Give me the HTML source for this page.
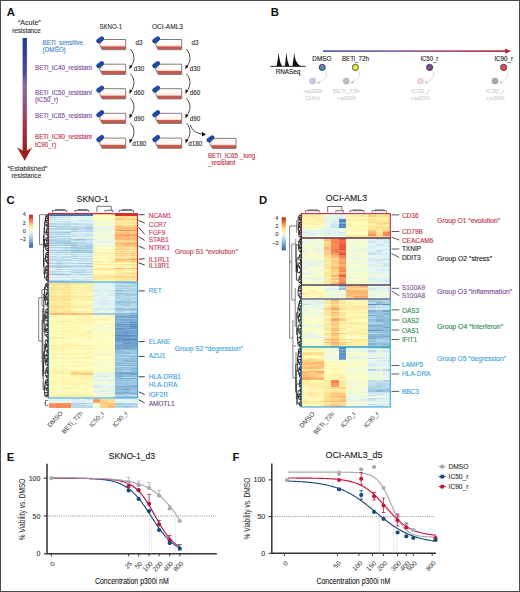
<!DOCTYPE html><html><head><meta charset="utf-8"><style>html,body{margin:0;padding:0;background:#fff}svg{display:block}text{font-family:"Liberation Sans",sans-serif}</style></head><body>
<svg width="520" height="592" viewBox="0 0 520 592">
<defs><linearGradient id="ga" x1="0" y1="0" x2="0" y2="1"><stop offset="0" stop-color="#1c3a8c"/><stop offset="0.3" stop-color="#4a4aa0"/><stop offset="0.42" stop-color="#8a68aa"/><stop offset="0.62" stop-color="#9a4c70"/><stop offset="0.8" stop-color="#a23040"/><stop offset="1" stop-color="#9a1c1c"/></linearGradient><linearGradient id="gb" x1="0" y1="0" x2="1" y2="0"><stop offset="0" stop-color="#4a52b0"/><stop offset="0.35" stop-color="#7a5aa8"/><stop offset="0.6" stop-color="#a04a70"/><stop offset="1" stop-color="#b02830"/></linearGradient><linearGradient id="liq" x1="0" y1="0" x2="0" y2="1"><stop offset="0" stop-color="#ffffff"/><stop offset="0.55" stop-color="#fdf6f2"/><stop offset="0.66" stop-color="#f2c4b8"/><stop offset="0.71" stop-color="#c9584c"/><stop offset="1" stop-color="#c8564a"/></linearGradient><linearGradient id="cbar" x1="0" y1="0" x2="0" y2="1"><stop offset="0" stop-color="#b0302a"/><stop offset="0.08" stop-color="#d8452e"/><stop offset="0.17" stop-color="#f07a4a"/><stop offset="0.26" stop-color="#fbb468"/><stop offset="0.36" stop-color="#fde699"/><stop offset="0.46" stop-color="#fcf9d2"/><stop offset="0.56" stop-color="#dcecf0"/><stop offset="0.67" stop-color="#b0d2e6"/><stop offset="0.78" stop-color="#84b0d6"/><stop offset="0.89" stop-color="#5a86c0"/><stop offset="1.0" stop-color="#3d5e9c"/></linearGradient></defs>
<rect x="0" y="0" width="520" height="592" fill="#fff"/>
<text x="6.8" y="16.4" font-size="11.3" fill="#111" text-anchor="start" font-weight="bold">A</text>
<text x="270.8" y="16.4" font-size="11.3" fill="#111" text-anchor="start" font-weight="bold">B</text>
<text x="6.6" y="204.3" font-size="11.3" fill="#111" text-anchor="start" font-weight="bold">C</text>
<text x="259" y="203.8" font-size="11.3" fill="#111" text-anchor="start" font-weight="bold">D</text>
<text x="6.8" y="460.6" font-size="11.3" fill="#111" text-anchor="start" font-weight="bold">E</text>
<text x="232.5" y="460.8" font-size="11.3" fill="#111" text-anchor="start" font-weight="bold">F</text>
<text x="40.7" y="24.5" font-size="6.3" fill="#333" text-anchor="end" stroke="#333" stroke-width="0.12" textLength="22.7" lengthAdjust="spacingAndGlyphs">“Acute”</text>
<text x="40.7" y="32.5" font-size="6.3" fill="#333" text-anchor="end" stroke="#333" stroke-width="0.12" textLength="28.5" lengthAdjust="spacingAndGlyphs">resistance</text>
<rect x="22.6" y="38" width="4.3" height="114" fill="url(#ga)"/>
<path d="M17.2 147.4 L22.6 150.6 L27.1 150.6 L32 147.4 L24.7 160.7 Z" fill="#a01e1e"/>
<text x="27.5" y="170.8" font-size="6.5" fill="#333" text-anchor="middle" stroke="#333" stroke-width="0.12" textLength="39.6" lengthAdjust="spacingAndGlyphs">“Established”</text>
<text x="26.35" y="178" font-size="6.5" fill="#333" text-anchor="middle" stroke="#333" stroke-width="0.12" textLength="29.9" lengthAdjust="spacingAndGlyphs">resistance</text>
<text x="42.6" y="44.65" font-size="6.3" fill="#3b86cc" text-anchor="start" stroke="#3b86cc" stroke-width="0.12" textLength="40.4" lengthAdjust="spacingAndGlyphs">BETi_sensitive</text>
<text x="42.6" y="52.1" font-size="6.3" fill="#3b86cc" text-anchor="start" stroke="#3b86cc" stroke-width="0.12" textLength="23.1" lengthAdjust="spacingAndGlyphs">(DMSO)</text>
<text x="35" y="69.8" font-size="6.3" fill="#7b4a9e" text-anchor="start" stroke="#7b4a9e" stroke-width="0.12" textLength="57" lengthAdjust="spacingAndGlyphs">BETi_IC40_resistant</text>
<text x="35" y="94.6" font-size="6.3" fill="#7b4a9e" text-anchor="start" stroke="#7b4a9e" stroke-width="0.12" textLength="57" lengthAdjust="spacingAndGlyphs">BETi_IC50_resistant</text>
<text x="35" y="102.2" font-size="6.3" fill="#7b4a9e" text-anchor="start" stroke="#7b4a9e" stroke-width="0.12">(IC50_r)</text>
<text x="35" y="118.2" font-size="6.3" fill="#7b4a9e" text-anchor="start" stroke="#7b4a9e" stroke-width="0.12" textLength="57" lengthAdjust="spacingAndGlyphs">BETi_IC65_resistant</text>
<text x="35" y="139.2" font-size="6.3" fill="#c0304a" text-anchor="start" stroke="#c0304a" stroke-width="0.12" textLength="57" lengthAdjust="spacingAndGlyphs">BETi_IC90_resistant</text>
<text x="35" y="146.6" font-size="6.3" fill="#c0304a" text-anchor="start" stroke="#c0304a" stroke-width="0.12">IC90_r)</text>
<text x="99.5" y="28.7" font-size="6.4" fill="#333" text-anchor="start" stroke="#333" stroke-width="0.12" textLength="22.5" lengthAdjust="spacingAndGlyphs">SKNO-1</text>
<text x="152" y="28.7" font-size="6.4" fill="#333" text-anchor="start" stroke="#333" stroke-width="0.12" textLength="31" lengthAdjust="spacingAndGlyphs">OCI-AML3</text>
<path d="M103.2 39.5 H125.7 V49.7 H102.2 L99.4 44.3 Z" fill="url(#liq)" stroke="#857575" stroke-width="0.95"/>
<rect x="95.9" y="37.6" width="8.6" height="4.6" rx="2.1" transform="rotate(-36 100.2 39.9)" fill="#2049a2"/>
<path d="M103.2 64.2 H125.7 V74.4 H102.2 L99.4 69.0 Z" fill="url(#liq)" stroke="#857575" stroke-width="0.95"/>
<rect x="95.9" y="62.3" width="8.6" height="4.6" rx="2.1" transform="rotate(-36 100.2 64.6)" fill="#2049a2"/>
<path d="M103.2 88.7 H125.7 V98.9 H102.2 L99.4 93.5 Z" fill="url(#liq)" stroke="#857575" stroke-width="0.95"/>
<rect x="95.9" y="86.8" width="8.6" height="4.6" rx="2.1" transform="rotate(-36 100.2 89.1)" fill="#2049a2"/>
<path d="M103.2 113.3 H125.7 V123.5 H102.2 L99.4 118.1 Z" fill="url(#liq)" stroke="#857575" stroke-width="0.95"/>
<rect x="95.9" y="111.4" width="8.6" height="4.6" rx="2.1" transform="rotate(-36 100.2 113.7)" fill="#2049a2"/>
<path d="M103.2 138.1 H125.7 V148.3 H102.2 L99.4 142.9 Z" fill="url(#liq)" stroke="#857575" stroke-width="0.95"/>
<rect x="95.9" y="136.2" width="8.6" height="4.6" rx="2.1" transform="rotate(-36 100.2 138.5)" fill="#2049a2"/>
<path d="M130.2 49.0 C135.2 54.0 135.2 61.7 130.4 67.2" fill="none" stroke="#222" stroke-width="0.8"/>
<path d="M129.4 69.3 L129.6 64.7 L132.4 66.5 Z" fill="#111"/>
<path d="M130.2 73.7 C135.2 78.7 135.2 86.2 130.4 91.7" fill="none" stroke="#222" stroke-width="0.8"/>
<path d="M129.4 93.8 L129.6 89.2 L132.4 91.0 Z" fill="#111"/>
<path d="M130.2 98.2 C135.2 103.2 135.2 110.8 130.4 116.3" fill="none" stroke="#222" stroke-width="0.8"/>
<path d="M129.4 118.4 L129.6 113.8 L132.4 115.6 Z" fill="#111"/>
<path d="M130.2 122.8 C135.2 127.8 135.2 135.6 130.4 141.1" fill="none" stroke="#222" stroke-width="0.8"/>
<path d="M129.4 143.2 L129.6 138.6 L132.4 140.4 Z" fill="#111"/>
<path d="M159.2 39.5 H181.7 V49.7 H158.2 L155.4 44.3 Z" fill="url(#liq)" stroke="#857575" stroke-width="0.95"/>
<rect x="151.9" y="37.6" width="8.6" height="4.6" rx="2.1" transform="rotate(-36 156.2 39.9)" fill="#2049a2"/>
<path d="M159.2 64.2 H181.7 V74.4 H158.2 L155.4 69.0 Z" fill="url(#liq)" stroke="#857575" stroke-width="0.95"/>
<rect x="151.9" y="62.3" width="8.6" height="4.6" rx="2.1" transform="rotate(-36 156.2 64.6)" fill="#2049a2"/>
<path d="M159.2 88.7 H181.7 V98.9 H158.2 L155.4 93.5 Z" fill="url(#liq)" stroke="#857575" stroke-width="0.95"/>
<rect x="151.9" y="86.8" width="8.6" height="4.6" rx="2.1" transform="rotate(-36 156.2 89.1)" fill="#2049a2"/>
<path d="M159.2 113.3 H181.7 V123.5 H158.2 L155.4 118.1 Z" fill="url(#liq)" stroke="#857575" stroke-width="0.95"/>
<rect x="151.9" y="111.4" width="8.6" height="4.6" rx="2.1" transform="rotate(-36 156.2 113.7)" fill="#2049a2"/>
<path d="M159.2 138.1 H181.7 V148.3 H158.2 L155.4 142.9 Z" fill="url(#liq)" stroke="#857575" stroke-width="0.95"/>
<rect x="151.9" y="136.2" width="8.6" height="4.6" rx="2.1" transform="rotate(-36 156.2 138.5)" fill="#2049a2"/>
<path d="M186.2 49.0 C191.2 54.0 191.2 61.7 186.4 67.2" fill="none" stroke="#222" stroke-width="0.8"/>
<path d="M185.4 69.3 L185.6 64.7 L188.4 66.5 Z" fill="#111"/>
<path d="M186.2 73.7 C191.2 78.7 191.2 86.2 186.4 91.7" fill="none" stroke="#222" stroke-width="0.8"/>
<path d="M185.4 93.8 L185.6 89.2 L188.4 91.0 Z" fill="#111"/>
<path d="M186.2 98.2 C191.2 103.2 191.2 110.8 186.4 116.3" fill="none" stroke="#222" stroke-width="0.8"/>
<path d="M185.4 118.4 L185.6 113.8 L188.4 115.6 Z" fill="#111"/>
<path d="M186.2 122.8 C191.2 127.8 191.2 135.6 186.4 141.1" fill="none" stroke="#222" stroke-width="0.8"/>
<path d="M185.4 143.2 L185.6 138.6 L188.4 140.4 Z" fill="#111"/>
<path d="M213.5 138.4 H236.0 V148.6 H212.5 L209.7 143.2 Z" fill="url(#liq)" stroke="#857575" stroke-width="0.95"/>
<rect x="206.2" y="136.5" width="8.6" height="4.6" rx="2.1" transform="rotate(-36 210.5 138.8)" fill="#2049a2"/>
<text x="135.5" y="45.0" font-size="6.3" fill="#333" text-anchor="start" stroke="#333" stroke-width="0.12">d3</text>
<text x="133.8" y="71.0" font-size="6.3" fill="#333" text-anchor="start" stroke="#333" stroke-width="0.12">d30</text>
<text x="133.8" y="95.4" font-size="6.3" fill="#333" text-anchor="start" stroke="#333" stroke-width="0.12">d60</text>
<text x="133.8" y="120.9" font-size="6.3" fill="#333" text-anchor="start" stroke="#333" stroke-width="0.12">d90</text>
<text x="132.2" y="146.3" font-size="6.3" fill="#333" text-anchor="start" stroke="#333" stroke-width="0.12">d180</text>
<text x="191.5" y="45.0" font-size="6.3" fill="#333" text-anchor="start" stroke="#333" stroke-width="0.12">d3</text>
<text x="189.8" y="71.0" font-size="6.3" fill="#333" text-anchor="start" stroke="#333" stroke-width="0.12">d30</text>
<text x="189.8" y="95.4" font-size="6.3" fill="#333" text-anchor="start" stroke="#333" stroke-width="0.12">d60</text>
<text x="189.8" y="120.9" font-size="6.3" fill="#333" text-anchor="start" stroke="#333" stroke-width="0.12">d90</text>
<text x="188.2" y="146.3" font-size="6.3" fill="#333" text-anchor="start" stroke="#333" stroke-width="0.12">d180</text>
<path d="M190.3 124.8 C192 131 197 133.5 203 134.2" fill="none" stroke="#222" stroke-width="0.8"/>
<path d="M206 134.4 L201.8 131.8 L202 136.6 Z" fill="#111"/>
<text x="207.9" y="158.2" font-size="6.3" fill="#c0304a" text-anchor="start" stroke="#c0304a" stroke-width="0.12" textLength="47.4" lengthAdjust="spacingAndGlyphs">BETi_IC65 _long</text>
<text x="207.9" y="165.2" font-size="6.3" fill="#c0304a" text-anchor="start" stroke="#c0304a" stroke-width="0.12">_resistant</text>
<rect x="323" y="50.3" width="184" height="1.6" fill="url(#gb)"/>
<path d="M511 51.1 L505.2 48.4 L505.2 53.8 Z" fill="#b02830"/>
<path d="M270.3 66.3 H305.7" stroke="#111" stroke-width="0.9"/>
<path d="M276.6 66.3 L278 58 L278.6 52.4 L279.2 57 L280.2 62 L282 66.3 Z M284.9 66.3 L285.8 58 L286.3 52.6 L286.9 57 L287.8 62 L289.5 66.3 Z M292.4 66.3 L293.6 58 L294.2 52.4 L294.8 57 L296 61 L298 64 L300.8 66.3 Z" fill="#111"/>
<text x="275.7" y="74" font-size="6.4" fill="#222" text-anchor="start" stroke="#222" stroke-width="0.12" textLength="24.6" lengthAdjust="spacingAndGlyphs">RNASeq</text>
<text x="312.3" y="60.9" font-size="6.4" fill="#222" text-anchor="start" stroke="#222" stroke-width="0.12" textLength="19.1" lengthAdjust="spacingAndGlyphs">DMSO</text>
<circle cx="322.2" cy="67.4" r="3.1" fill="#5b86bb" stroke="#333" stroke-width="0.8"/>
<circle cx="312.6" cy="81" r="3.1" fill="#c9c8e2" stroke="#b5b3d5" stroke-width="0.6"/>
<path d="M325.2 70.8 C328.2 75 325.2 80 318.1 82.6" fill="none" stroke="#c8c8c8" stroke-width="0.7"/>
<path d="M316.6 83.6 L319.0 80.6 L320.2 83.4 Z" fill="#c8c8c8"/>
<text x="312.6" y="93.2" font-size="6.2" fill="#cfcfcf" text-anchor="middle" stroke="#cfcfcf" stroke-width="0.12">+p300i</text>
<text x="312.6" y="100.2" font-size="6.2" fill="#cfcfcf" text-anchor="middle" stroke="#cfcfcf" stroke-width="0.12">(24h)</text>
<text x="342" y="60.9" font-size="6.4" fill="#222" text-anchor="start" stroke="#222" stroke-width="0.12" textLength="26.8" lengthAdjust="spacingAndGlyphs">BETi_72h</text>
<circle cx="355.4" cy="67.4" r="3.1" fill="#e6e840" stroke="#333" stroke-width="0.8"/>
<circle cx="346.2" cy="81" r="3.1" fill="#bdbdbd" stroke="#a9a9a9" stroke-width="0.6"/>
<path d="M358.4 70.8 C361.4 75 358.4 80 351.7 82.6" fill="none" stroke="#c8c8c8" stroke-width="0.7"/>
<path d="M350.2 83.6 L352.6 80.6 L353.8 83.4 Z" fill="#c8c8c8"/>
<text x="346.2" y="93.2" font-size="6.2" fill="#cfcfcf" text-anchor="middle" stroke="#cfcfcf" stroke-width="0.12">BETi_72h</text>
<text x="346.2" y="100.2" font-size="6.2" fill="#cfcfcf" text-anchor="middle" stroke="#cfcfcf" stroke-width="0.12">+p300i</text>
<text x="420.4" y="60.9" font-size="6.4" fill="#222" text-anchor="start" stroke="#222" stroke-width="0.12" textLength="17.9" lengthAdjust="spacingAndGlyphs">IC50_r</text>
<circle cx="429.6" cy="67.4" r="3.1" fill="#7d4a9b" stroke="#333" stroke-width="0.8"/>
<circle cx="420.4" cy="81" r="3.1" fill="#f4d8e2" stroke="#e2b8c8" stroke-width="0.6"/>
<path d="M432.6 70.8 C435.6 75 432.6 80 425.9 82.6" fill="none" stroke="#c8c8c8" stroke-width="0.7"/>
<path d="M424.4 83.6 L426.8 80.6 L428.0 83.4 Z" fill="#c8c8c8"/>
<text x="420.4" y="93.2" font-size="6.2" fill="#cfcfcf" text-anchor="middle" stroke="#cfcfcf" stroke-width="0.12">IC50_r</text>
<text x="420.4" y="100.2" font-size="6.2" fill="#cfcfcf" text-anchor="middle" stroke="#cfcfcf" stroke-width="0.12">+p300i</text>
<text x="494.4" y="60.9" font-size="6.4" fill="#222" text-anchor="start" stroke="#222" stroke-width="0.12" textLength="18.6" lengthAdjust="spacingAndGlyphs">IC90_r</text>
<circle cx="503.6" cy="67.4" r="3.1" fill="#e04a52" stroke="#333" stroke-width="0.8"/>
<circle cx="495" cy="81" r="3.1" fill="#a9a9a9" stroke="#999" stroke-width="0.6"/>
<path d="M506.6 70.8 C509.6 75 506.6 80 500.5 82.6" fill="none" stroke="#c8c8c8" stroke-width="0.7"/>
<path d="M499.0 83.6 L501.4 80.6 L502.6 83.4 Z" fill="#c8c8c8"/>
<text x="495" y="93.2" font-size="6.2" fill="#cfcfcf" text-anchor="middle" stroke="#cfcfcf" stroke-width="0.12">IC90_r</text>
<text x="495" y="100.2" font-size="6.2" fill="#cfcfcf" text-anchor="middle" stroke="#cfcfcf" stroke-width="0.12">+p300i</text>
<text x="76.7" y="201.9" font-size="8.4" fill="#222" text-anchor="start" stroke="#222" stroke-width="0.12" textLength="31.8" lengthAdjust="spacingAndGlyphs">SKNO-1</text>
<rect x="29" y="214.7" width="4" height="33" fill="url(#cbar)"/>
<text x="25.8" y="216.3" font-size="5.6" fill="#444" text-anchor="end" stroke="#444" stroke-width="0.12">4</text>
<text x="25.8" y="224.7" font-size="5.6" fill="#444" text-anchor="end" stroke="#444" stroke-width="0.12">2</text>
<text x="25.8" y="232.7" font-size="5.6" fill="#444" text-anchor="end" stroke="#444" stroke-width="0.12">0</text>
<text x="26.2" y="241.2" font-size="5.6" fill="#444" text-anchor="end" stroke="#444" stroke-width="0.12">−2</text>
<g shape-rendering="crispEdges">
<rect x="48.50" y="213.50" width="7.48" height="1.06" fill="#4c7cb7"/>
<rect x="55.92" y="213.50" width="7.48" height="1.06" fill="#4575b4"/>
<rect x="63.33" y="213.50" width="7.48" height="1.06" fill="#4575b4"/>
<rect x="70.75" y="213.50" width="7.48" height="1.06" fill="#4776b5"/>
<rect x="78.17" y="213.50" width="7.48" height="1.06" fill="#4c7cb8"/>
<rect x="85.58" y="213.50" width="7.48" height="1.06" fill="#4575b4"/>
<rect x="93.00" y="213.50" width="7.48" height="1.06" fill="#fff7b4"/>
<rect x="100.42" y="213.50" width="7.48" height="1.06" fill="#fff8b5"/>
<rect x="107.83" y="213.50" width="7.48" height="1.06" fill="#fff5af"/>
<rect x="115.25" y="213.50" width="7.48" height="1.06" fill="#d73027"/>
<rect x="122.67" y="213.50" width="7.48" height="1.06" fill="#d73027"/>
<rect x="130.08" y="213.50" width="7.48" height="1.06" fill="#d73027"/>
<rect x="48.50" y="214.50" width="7.48" height="1.06" fill="#4575b4"/>
<rect x="55.92" y="214.50" width="7.48" height="1.06" fill="#4575b4"/>
<rect x="63.33" y="214.50" width="7.48" height="1.06" fill="#4575b4"/>
<rect x="70.75" y="214.50" width="7.48" height="1.06" fill="#4575b4"/>
<rect x="78.17" y="214.50" width="7.48" height="1.06" fill="#4676b5"/>
<rect x="85.58" y="214.50" width="7.48" height="1.06" fill="#4a7ab6"/>
<rect x="93.00" y="214.50" width="7.48" height="1.06" fill="#fff7b2"/>
<rect x="100.42" y="214.50" width="7.48" height="1.06" fill="#fffebd"/>
<rect x="107.83" y="214.50" width="7.48" height="1.06" fill="#fff5b0"/>
<rect x="115.25" y="214.50" width="7.48" height="1.06" fill="#d73027"/>
<rect x="122.67" y="214.50" width="7.48" height="1.06" fill="#d9352a"/>
<rect x="130.08" y="214.50" width="7.48" height="1.06" fill="#d73027"/>
<rect x="48.50" y="215.50" width="7.48" height="0.76" fill="#608fc2"/>
<rect x="55.92" y="215.50" width="7.48" height="0.76" fill="#4575b4"/>
<rect x="63.33" y="215.50" width="7.48" height="0.76" fill="#4b7bb7"/>
<rect x="70.75" y="215.50" width="7.48" height="0.76" fill="#4575b4"/>
<rect x="78.17" y="215.50" width="7.48" height="0.76" fill="#4777b5"/>
<rect x="85.58" y="215.50" width="7.48" height="0.76" fill="#4575b4"/>
<rect x="93.00" y="215.50" width="7.48" height="0.76" fill="#fff8b4"/>
<rect x="100.42" y="215.50" width="7.48" height="0.76" fill="#fffcba"/>
<rect x="107.83" y="215.50" width="7.48" height="0.76" fill="#fff6b2"/>
<rect x="115.25" y="215.50" width="7.48" height="0.76" fill="#d73027"/>
<rect x="122.67" y="215.50" width="7.48" height="0.76" fill="#d73027"/>
<rect x="130.08" y="215.50" width="7.48" height="0.76" fill="#d73027"/>
<rect x="48.50" y="216.20" width="7.48" height="1.06" fill="#cbe5f0"/>
<rect x="55.92" y="216.20" width="7.48" height="1.06" fill="#d9eef5"/>
<rect x="63.33" y="216.20" width="7.48" height="1.06" fill="#cfe8f2"/>
<rect x="70.75" y="216.20" width="7.48" height="1.06" fill="#e2f4f4"/>
<rect x="78.17" y="216.20" width="7.48" height="1.06" fill="#e0f3f7"/>
<rect x="85.58" y="216.20" width="7.48" height="1.06" fill="#d9eef5"/>
<rect x="93.00" y="216.20" width="7.48" height="1.06" fill="#f9fdca"/>
<rect x="100.42" y="216.20" width="7.48" height="1.06" fill="#fdfec3"/>
<rect x="107.83" y="216.20" width="7.48" height="1.06" fill="#f6fbd0"/>
<rect x="115.25" y="216.20" width="7.48" height="1.06" fill="#fee191"/>
<rect x="122.67" y="216.20" width="7.48" height="1.06" fill="#fee292"/>
<rect x="130.08" y="216.20" width="7.48" height="1.06" fill="#fee293"/>
<rect x="48.50" y="217.20" width="7.48" height="1.06" fill="#b7d8e9"/>
<rect x="55.92" y="217.20" width="7.48" height="1.06" fill="#bcdbeb"/>
<rect x="63.33" y="217.20" width="7.48" height="1.06" fill="#c5e1ee"/>
<rect x="70.75" y="217.20" width="7.48" height="1.06" fill="#e6f5ee"/>
<rect x="78.17" y="217.20" width="7.48" height="1.06" fill="#e6f5ed"/>
<rect x="85.58" y="217.20" width="7.48" height="1.06" fill="#e5f5ef"/>
<rect x="93.00" y="217.20" width="7.48" height="1.06" fill="#f8fccb"/>
<rect x="100.42" y="217.20" width="7.48" height="1.06" fill="#fbfdc7"/>
<rect x="107.83" y="217.20" width="7.48" height="1.06" fill="#feffc1"/>
<rect x="115.25" y="217.20" width="7.48" height="1.06" fill="#fee89d"/>
<rect x="122.67" y="217.20" width="7.48" height="1.06" fill="#fede8e"/>
<rect x="130.08" y="217.20" width="7.48" height="1.06" fill="#fee598"/>
<rect x="48.50" y="218.20" width="7.48" height="1.06" fill="#d3ebf3"/>
<rect x="55.92" y="218.20" width="7.48" height="1.06" fill="#e7f6ea"/>
<rect x="63.33" y="218.20" width="7.48" height="1.06" fill="#e5f5ef"/>
<rect x="70.75" y="218.20" width="7.48" height="1.06" fill="#e3f4f3"/>
<rect x="78.17" y="218.20" width="7.48" height="1.06" fill="#e1f3f7"/>
<rect x="85.58" y="218.20" width="7.48" height="1.06" fill="#d8eef5"/>
<rect x="93.00" y="218.20" width="7.48" height="1.06" fill="#fafdc9"/>
<rect x="100.42" y="218.20" width="7.48" height="1.06" fill="#fcfec4"/>
<rect x="107.83" y="218.20" width="7.48" height="1.06" fill="#fbfdc7"/>
<rect x="115.25" y="218.20" width="7.48" height="1.06" fill="#fed287"/>
<rect x="122.67" y="218.20" width="7.48" height="1.06" fill="#fee293"/>
<rect x="130.08" y="218.20" width="7.48" height="1.06" fill="#fed78a"/>
<rect x="48.50" y="219.20" width="7.48" height="1.06" fill="#c1dfed"/>
<rect x="55.92" y="219.20" width="7.48" height="1.06" fill="#c9e4ef"/>
<rect x="63.33" y="219.20" width="7.48" height="1.06" fill="#d3eaf3"/>
<rect x="70.75" y="219.20" width="7.48" height="1.06" fill="#e8f6e9"/>
<rect x="78.17" y="219.20" width="7.48" height="1.06" fill="#def2f7"/>
<rect x="85.58" y="219.20" width="7.48" height="1.06" fill="#e3f4f3"/>
<rect x="93.00" y="219.20" width="7.48" height="1.06" fill="#fcfec4"/>
<rect x="100.42" y="219.20" width="7.48" height="1.06" fill="#f5fbd2"/>
<rect x="107.83" y="219.20" width="7.48" height="1.06" fill="#fffebe"/>
<rect x="115.25" y="219.20" width="7.48" height="1.06" fill="#fdb674"/>
<rect x="122.67" y="219.20" width="7.48" height="1.06" fill="#fdc880"/>
<rect x="130.08" y="219.20" width="7.48" height="1.06" fill="#fdc37d"/>
<rect x="48.50" y="220.20" width="7.48" height="1.06" fill="#e5f5ef"/>
<rect x="55.92" y="220.20" width="7.48" height="1.06" fill="#e3f4f3"/>
<rect x="63.33" y="220.20" width="7.48" height="1.06" fill="#e8f6e9"/>
<rect x="70.75" y="220.20" width="7.48" height="1.06" fill="#e1f3f6"/>
<rect x="78.17" y="220.20" width="7.48" height="1.06" fill="#cce6f1"/>
<rect x="85.58" y="220.20" width="7.48" height="1.06" fill="#cee7f1"/>
<rect x="93.00" y="220.20" width="7.48" height="1.06" fill="#fdfec2"/>
<rect x="100.42" y="220.20" width="7.48" height="1.06" fill="#fafdc7"/>
<rect x="107.83" y="220.20" width="7.48" height="1.06" fill="#f9fdca"/>
<rect x="115.25" y="220.20" width="7.48" height="1.06" fill="#fff0a8"/>
<rect x="122.67" y="220.20" width="7.48" height="1.06" fill="#feefa7"/>
<rect x="130.08" y="220.20" width="7.48" height="1.06" fill="#feefa7"/>
<rect x="48.50" y="221.20" width="7.48" height="1.06" fill="#d0e8f2"/>
<rect x="55.92" y="221.20" width="7.48" height="1.06" fill="#c9e4f0"/>
<rect x="63.33" y="221.20" width="7.48" height="1.06" fill="#c6e2ee"/>
<rect x="70.75" y="221.20" width="7.48" height="1.06" fill="#def2f7"/>
<rect x="78.17" y="221.20" width="7.48" height="1.06" fill="#e1f3f7"/>
<rect x="85.58" y="221.20" width="7.48" height="1.06" fill="#d6ecf4"/>
<rect x="93.00" y="221.20" width="7.48" height="1.06" fill="#f1f9d9"/>
<rect x="100.42" y="221.20" width="7.48" height="1.06" fill="#fbfec6"/>
<rect x="107.83" y="221.20" width="7.48" height="1.06" fill="#fbfdc7"/>
<rect x="115.25" y="221.20" width="7.48" height="1.06" fill="#fee597"/>
<rect x="122.67" y="221.20" width="7.48" height="1.06" fill="#fee79b"/>
<rect x="130.08" y="221.20" width="7.48" height="1.06" fill="#fee293"/>
<rect x="48.50" y="222.20" width="7.48" height="1.06" fill="#e2f4f5"/>
<rect x="55.92" y="222.20" width="7.48" height="1.06" fill="#dbf0f6"/>
<rect x="63.33" y="222.20" width="7.48" height="1.06" fill="#cde6f1"/>
<rect x="70.75" y="222.20" width="7.48" height="1.06" fill="#e2f4f4"/>
<rect x="78.17" y="222.20" width="7.48" height="1.06" fill="#d6edf4"/>
<rect x="85.58" y="222.20" width="7.48" height="1.06" fill="#e2f4f4"/>
<rect x="93.00" y="222.20" width="7.48" height="1.06" fill="#f9fdca"/>
<rect x="100.42" y="222.20" width="7.48" height="1.06" fill="#f1f9da"/>
<rect x="107.83" y="222.20" width="7.48" height="1.06" fill="#eff9dd"/>
<rect x="115.25" y="222.20" width="7.48" height="1.06" fill="#feeda3"/>
<rect x="122.67" y="222.20" width="7.48" height="1.06" fill="#fee598"/>
<rect x="130.08" y="222.20" width="7.48" height="1.06" fill="#feeaa0"/>
<rect x="48.50" y="223.20" width="7.48" height="1.06" fill="#aad0e4"/>
<rect x="55.92" y="223.20" width="7.48" height="1.06" fill="#bddceb"/>
<rect x="63.33" y="223.20" width="7.48" height="1.06" fill="#c1dfed"/>
<rect x="70.75" y="223.20" width="7.48" height="1.06" fill="#bddceb"/>
<rect x="78.17" y="223.20" width="7.48" height="1.06" fill="#d2eaf3"/>
<rect x="85.58" y="223.20" width="7.48" height="1.06" fill="#d2eaf3"/>
<rect x="93.00" y="223.20" width="7.48" height="1.06" fill="#eff9dc"/>
<rect x="100.42" y="223.20" width="7.48" height="1.06" fill="#eff9dc"/>
<rect x="107.83" y="223.20" width="7.48" height="1.06" fill="#eef8df"/>
<rect x="115.25" y="223.20" width="7.48" height="1.06" fill="#fee191"/>
<rect x="122.67" y="223.20" width="7.48" height="1.06" fill="#fee394"/>
<rect x="130.08" y="223.20" width="7.48" height="1.06" fill="#fedb8d"/>
<rect x="48.50" y="224.20" width="7.48" height="1.06" fill="#b9d9ea"/>
<rect x="55.92" y="224.20" width="7.48" height="1.06" fill="#c0deec"/>
<rect x="63.33" y="224.20" width="7.48" height="1.06" fill="#b6d7e8"/>
<rect x="70.75" y="224.20" width="7.48" height="1.06" fill="#bfddec"/>
<rect x="78.17" y="224.20" width="7.48" height="1.06" fill="#c6e2ee"/>
<rect x="85.58" y="224.20" width="7.48" height="1.06" fill="#c0deec"/>
<rect x="93.00" y="224.20" width="7.48" height="1.06" fill="#fafdc8"/>
<rect x="100.42" y="224.20" width="7.48" height="1.06" fill="#f7fcce"/>
<rect x="107.83" y="224.20" width="7.48" height="1.06" fill="#fafdc9"/>
<rect x="115.25" y="224.20" width="7.48" height="1.06" fill="#feeca2"/>
<rect x="122.67" y="224.20" width="7.48" height="1.06" fill="#feeea5"/>
<rect x="130.08" y="224.20" width="7.48" height="1.06" fill="#feeda4"/>
<rect x="48.50" y="225.20" width="7.48" height="0.86" fill="#c2dfed"/>
<rect x="55.92" y="225.20" width="7.48" height="0.86" fill="#d3eaf3"/>
<rect x="63.33" y="225.20" width="7.48" height="0.86" fill="#c8e3ef"/>
<rect x="70.75" y="225.20" width="7.48" height="0.86" fill="#e1f3f7"/>
<rect x="78.17" y="225.20" width="7.48" height="0.86" fill="#d0e8f2"/>
<rect x="85.58" y="225.20" width="7.48" height="0.86" fill="#c6e2ee"/>
<rect x="93.00" y="225.20" width="7.48" height="0.86" fill="#f5fbd2"/>
<rect x="100.42" y="225.20" width="7.48" height="0.86" fill="#fcfec5"/>
<rect x="107.83" y="225.20" width="7.48" height="0.86" fill="#f8fccc"/>
<rect x="115.25" y="225.20" width="7.48" height="0.86" fill="#feda8c"/>
<rect x="122.67" y="225.20" width="7.48" height="0.86" fill="#fee89c"/>
<rect x="130.08" y="225.20" width="7.48" height="0.86" fill="#fedb8c"/>
<rect x="48.50" y="226.00" width="7.48" height="1.06" fill="#a2cae1"/>
<rect x="55.92" y="226.00" width="7.48" height="1.06" fill="#acd1e5"/>
<rect x="63.33" y="226.00" width="7.48" height="1.06" fill="#add2e5"/>
<rect x="70.75" y="226.00" width="7.48" height="1.06" fill="#b8d9e9"/>
<rect x="78.17" y="226.00" width="7.48" height="1.06" fill="#c2dfed"/>
<rect x="85.58" y="226.00" width="7.48" height="1.06" fill="#b2d5e7"/>
<rect x="93.00" y="226.00" width="7.48" height="1.06" fill="#ecf8e1"/>
<rect x="100.42" y="226.00" width="7.48" height="1.06" fill="#e8f6ea"/>
<rect x="107.83" y="226.00" width="7.48" height="1.06" fill="#ebf7e3"/>
<rect x="115.25" y="226.00" width="7.48" height="1.06" fill="#fdbb77"/>
<rect x="122.67" y="226.00" width="7.48" height="1.06" fill="#fecc82"/>
<rect x="130.08" y="226.00" width="7.48" height="1.06" fill="#fecc82"/>
<rect x="48.50" y="227.00" width="7.48" height="1.06" fill="#cde6f1"/>
<rect x="55.92" y="227.00" width="7.48" height="1.06" fill="#c2dfed"/>
<rect x="63.33" y="227.00" width="7.48" height="1.06" fill="#c5e1ee"/>
<rect x="70.75" y="227.00" width="7.48" height="1.06" fill="#bcdceb"/>
<rect x="78.17" y="227.00" width="7.48" height="1.06" fill="#b9d9ea"/>
<rect x="85.58" y="227.00" width="7.48" height="1.06" fill="#b8d8e9"/>
<rect x="93.00" y="227.00" width="7.48" height="1.06" fill="#e2f4f4"/>
<rect x="100.42" y="227.00" width="7.48" height="1.06" fill="#eaf7e6"/>
<rect x="107.83" y="227.00" width="7.48" height="1.06" fill="#e6f5ed"/>
<rect x="115.25" y="227.00" width="7.48" height="1.06" fill="#fdc981"/>
<rect x="122.67" y="227.00" width="7.48" height="1.06" fill="#fdc77f"/>
<rect x="130.08" y="227.00" width="7.48" height="1.06" fill="#fdc47e"/>
<rect x="48.50" y="228.00" width="7.48" height="1.06" fill="#b4d6e8"/>
<rect x="55.92" y="228.00" width="7.48" height="1.06" fill="#abd0e5"/>
<rect x="63.33" y="228.00" width="7.48" height="1.06" fill="#abd0e4"/>
<rect x="70.75" y="228.00" width="7.48" height="1.06" fill="#a5cce2"/>
<rect x="78.17" y="228.00" width="7.48" height="1.06" fill="#b6d8e9"/>
<rect x="85.58" y="228.00" width="7.48" height="1.06" fill="#9ac5de"/>
<rect x="93.00" y="228.00" width="7.48" height="1.06" fill="#e8f6ea"/>
<rect x="100.42" y="228.00" width="7.48" height="1.06" fill="#e8f6ea"/>
<rect x="107.83" y="228.00" width="7.48" height="1.06" fill="#eaf7e6"/>
<rect x="115.25" y="228.00" width="7.48" height="1.06" fill="#fdb775"/>
<rect x="122.67" y="228.00" width="7.48" height="1.06" fill="#fdb976"/>
<rect x="130.08" y="228.00" width="7.48" height="1.06" fill="#fdbe79"/>
<rect x="48.50" y="229.00" width="7.48" height="1.06" fill="#beddec"/>
<rect x="55.92" y="229.00" width="7.48" height="1.06" fill="#b8d9e9"/>
<rect x="63.33" y="229.00" width="7.48" height="1.06" fill="#b7d8e9"/>
<rect x="70.75" y="229.00" width="7.48" height="1.06" fill="#a8cee4"/>
<rect x="78.17" y="229.00" width="7.48" height="1.06" fill="#beddec"/>
<rect x="85.58" y="229.00" width="7.48" height="1.06" fill="#b8d9e9"/>
<rect x="93.00" y="229.00" width="7.48" height="1.06" fill="#f2fad7"/>
<rect x="100.42" y="229.00" width="7.48" height="1.06" fill="#eaf7e5"/>
<rect x="107.83" y="229.00" width="7.48" height="1.06" fill="#eff9dc"/>
<rect x="115.25" y="229.00" width="7.48" height="1.06" fill="#fdc37d"/>
<rect x="122.67" y="229.00" width="7.48" height="1.06" fill="#fdc37d"/>
<rect x="130.08" y="229.00" width="7.48" height="1.06" fill="#fdbd79"/>
<rect x="48.50" y="230.00" width="7.48" height="1.06" fill="#cbe5f0"/>
<rect x="55.92" y="230.00" width="7.48" height="1.06" fill="#dff2f8"/>
<rect x="63.33" y="230.00" width="7.48" height="1.06" fill="#d2eaf3"/>
<rect x="70.75" y="230.00" width="7.48" height="1.06" fill="#c8e3ef"/>
<rect x="78.17" y="230.00" width="7.48" height="1.06" fill="#cae4f0"/>
<rect x="85.58" y="230.00" width="7.48" height="1.06" fill="#bcdceb"/>
<rect x="93.00" y="230.00" width="7.48" height="1.06" fill="#ebf7e4"/>
<rect x="100.42" y="230.00" width="7.48" height="1.06" fill="#f1f9d9"/>
<rect x="107.83" y="230.00" width="7.48" height="1.06" fill="#f6fccf"/>
<rect x="115.25" y="230.00" width="7.48" height="1.06" fill="#fc8f5a"/>
<rect x="122.67" y="230.00" width="7.48" height="1.06" fill="#fc9b63"/>
<rect x="130.08" y="230.00" width="7.48" height="1.06" fill="#fc8f5a"/>
<rect x="48.50" y="231.00" width="7.48" height="1.06" fill="#c9e4ef"/>
<rect x="55.92" y="231.00" width="7.48" height="1.06" fill="#bddceb"/>
<rect x="63.33" y="231.00" width="7.48" height="1.06" fill="#cce6f1"/>
<rect x="70.75" y="231.00" width="7.48" height="1.06" fill="#afd3e6"/>
<rect x="78.17" y="231.00" width="7.48" height="1.06" fill="#b9d9ea"/>
<rect x="85.58" y="231.00" width="7.48" height="1.06" fill="#bbdbeb"/>
<rect x="93.00" y="231.00" width="7.48" height="1.06" fill="#eaf7e6"/>
<rect x="100.42" y="231.00" width="7.48" height="1.06" fill="#e8f6e9"/>
<rect x="107.83" y="231.00" width="7.48" height="1.06" fill="#eaf7e5"/>
<rect x="115.25" y="231.00" width="7.48" height="1.06" fill="#fedb8d"/>
<rect x="122.67" y="231.00" width="7.48" height="1.06" fill="#fdc47e"/>
<rect x="130.08" y="231.00" width="7.48" height="1.06" fill="#fecf85"/>
<rect x="48.50" y="232.00" width="7.48" height="1.06" fill="#aacfe4"/>
<rect x="55.92" y="232.00" width="7.48" height="1.06" fill="#b2d5e7"/>
<rect x="63.33" y="232.00" width="7.48" height="1.06" fill="#a0c9e0"/>
<rect x="70.75" y="232.00" width="7.48" height="1.06" fill="#d5ecf4"/>
<rect x="78.17" y="232.00" width="7.48" height="1.06" fill="#dcf0f6"/>
<rect x="85.58" y="232.00" width="7.48" height="1.06" fill="#d7edf5"/>
<rect x="93.00" y="232.00" width="7.48" height="1.06" fill="#f6fccf"/>
<rect x="100.42" y="232.00" width="7.48" height="1.06" fill="#f1fad9"/>
<rect x="107.83" y="232.00" width="7.48" height="1.06" fill="#f8fccc"/>
<rect x="115.25" y="232.00" width="7.48" height="1.06" fill="#fdc981"/>
<rect x="122.67" y="232.00" width="7.48" height="1.06" fill="#fdba77"/>
<rect x="130.08" y="232.00" width="7.48" height="1.06" fill="#fdca81"/>
<rect x="48.50" y="233.00" width="7.48" height="1.06" fill="#c9e4f0"/>
<rect x="55.92" y="233.00" width="7.48" height="1.06" fill="#afd3e6"/>
<rect x="63.33" y="233.00" width="7.48" height="1.06" fill="#c3e0ed"/>
<rect x="70.75" y="233.00" width="7.48" height="1.06" fill="#e0f3f7"/>
<rect x="78.17" y="233.00" width="7.48" height="1.06" fill="#d4ebf4"/>
<rect x="85.58" y="233.00" width="7.48" height="1.06" fill="#d1e9f2"/>
<rect x="93.00" y="233.00" width="7.48" height="1.06" fill="#e7f6eb"/>
<rect x="100.42" y="233.00" width="7.48" height="1.06" fill="#eaf7e5"/>
<rect x="107.83" y="233.00" width="7.48" height="1.06" fill="#eaf7e5"/>
<rect x="115.25" y="233.00" width="7.48" height="1.06" fill="#fdb976"/>
<rect x="122.67" y="233.00" width="7.48" height="1.06" fill="#fdc67f"/>
<rect x="130.08" y="233.00" width="7.48" height="1.06" fill="#fed287"/>
<rect x="48.50" y="234.00" width="7.48" height="1.06" fill="#b6d8e9"/>
<rect x="55.92" y="234.00" width="7.48" height="1.06" fill="#b9d9ea"/>
<rect x="63.33" y="234.00" width="7.48" height="1.06" fill="#b7d8e9"/>
<rect x="70.75" y="234.00" width="7.48" height="1.06" fill="#c5e1ee"/>
<rect x="78.17" y="234.00" width="7.48" height="1.06" fill="#daeff6"/>
<rect x="85.58" y="234.00" width="7.48" height="1.06" fill="#c2dfed"/>
<rect x="93.00" y="234.00" width="7.48" height="1.06" fill="#f8fccc"/>
<rect x="100.42" y="234.00" width="7.48" height="1.06" fill="#f7fcce"/>
<rect x="107.83" y="234.00" width="7.48" height="1.06" fill="#f7fcce"/>
<rect x="115.25" y="234.00" width="7.48" height="1.06" fill="#fdb473"/>
<rect x="122.67" y="234.00" width="7.48" height="1.06" fill="#fdaa6c"/>
<rect x="130.08" y="234.00" width="7.48" height="1.06" fill="#fca066"/>
<rect x="48.50" y="235.00" width="7.48" height="1.06" fill="#d4ebf4"/>
<rect x="55.92" y="235.00" width="7.48" height="1.06" fill="#cee7f1"/>
<rect x="63.33" y="235.00" width="7.48" height="1.06" fill="#d0e9f2"/>
<rect x="70.75" y="235.00" width="7.48" height="1.06" fill="#cbe5f0"/>
<rect x="78.17" y="235.00" width="7.48" height="1.06" fill="#cfe8f2"/>
<rect x="85.58" y="235.00" width="7.48" height="1.06" fill="#c6e2ee"/>
<rect x="93.00" y="235.00" width="7.48" height="1.06" fill="#ebf7e5"/>
<rect x="100.42" y="235.00" width="7.48" height="1.06" fill="#f1fad8"/>
<rect x="107.83" y="235.00" width="7.48" height="1.06" fill="#f2fad7"/>
<rect x="115.25" y="235.00" width="7.48" height="1.06" fill="#fca066"/>
<rect x="122.67" y="235.00" width="7.48" height="1.06" fill="#fca066"/>
<rect x="130.08" y="235.00" width="7.48" height="1.06" fill="#fda86b"/>
<rect x="48.50" y="236.00" width="7.48" height="1.06" fill="#b3d6e8"/>
<rect x="55.92" y="236.00" width="7.48" height="1.06" fill="#afd2e6"/>
<rect x="63.33" y="236.00" width="7.48" height="1.06" fill="#bbdbeb"/>
<rect x="70.75" y="236.00" width="7.48" height="1.06" fill="#c6e2ee"/>
<rect x="78.17" y="236.00" width="7.48" height="1.06" fill="#cae5f0"/>
<rect x="85.58" y="236.00" width="7.48" height="1.06" fill="#d3eaf3"/>
<rect x="93.00" y="236.00" width="7.48" height="1.06" fill="#ebf7e3"/>
<rect x="100.42" y="236.00" width="7.48" height="1.06" fill="#f1fad8"/>
<rect x="107.83" y="236.00" width="7.48" height="1.06" fill="#ebf7e4"/>
<rect x="115.25" y="236.00" width="7.48" height="1.06" fill="#fdb272"/>
<rect x="122.67" y="236.00" width="7.48" height="1.06" fill="#fdae6f"/>
<rect x="130.08" y="236.00" width="7.48" height="1.06" fill="#fdbe79"/>
<rect x="48.50" y="237.00" width="7.48" height="1.06" fill="#b5d6e8"/>
<rect x="55.92" y="237.00" width="7.48" height="1.06" fill="#cfe8f2"/>
<rect x="63.33" y="237.00" width="7.48" height="1.06" fill="#c3e0ed"/>
<rect x="70.75" y="237.00" width="7.48" height="1.06" fill="#ecf8e2"/>
<rect x="78.17" y="237.00" width="7.48" height="1.06" fill="#e9f7e7"/>
<rect x="85.58" y="237.00" width="7.48" height="1.06" fill="#ebf7e4"/>
<rect x="93.00" y="237.00" width="7.48" height="1.06" fill="#fbfdc7"/>
<rect x="100.42" y="237.00" width="7.48" height="1.06" fill="#fcfec4"/>
<rect x="107.83" y="237.00" width="7.48" height="1.06" fill="#fcfec4"/>
<rect x="115.25" y="237.00" width="7.48" height="1.06" fill="#fdbd78"/>
<rect x="122.67" y="237.00" width="7.48" height="1.06" fill="#fdc27c"/>
<rect x="130.08" y="237.00" width="7.48" height="1.06" fill="#fdc981"/>
<rect x="48.50" y="238.00" width="7.48" height="1.06" fill="#cee7f1"/>
<rect x="55.92" y="238.00" width="7.48" height="1.06" fill="#c5e1ee"/>
<rect x="63.33" y="238.00" width="7.48" height="1.06" fill="#bcdbeb"/>
<rect x="70.75" y="238.00" width="7.48" height="1.06" fill="#d6ecf4"/>
<rect x="78.17" y="238.00" width="7.48" height="1.06" fill="#c8e3ef"/>
<rect x="85.58" y="238.00" width="7.48" height="1.06" fill="#d6edf4"/>
<rect x="93.00" y="238.00" width="7.48" height="1.06" fill="#ecf8e2"/>
<rect x="100.42" y="238.00" width="7.48" height="1.06" fill="#edf8e1"/>
<rect x="107.83" y="238.00" width="7.48" height="1.06" fill="#edf8df"/>
<rect x="115.25" y="238.00" width="7.48" height="1.06" fill="#fdab6d"/>
<rect x="122.67" y="238.00" width="7.48" height="1.06" fill="#fdb775"/>
<rect x="130.08" y="238.00" width="7.48" height="1.06" fill="#fdb070"/>
<rect x="48.50" y="239.00" width="7.48" height="1.06" fill="#b1d4e7"/>
<rect x="55.92" y="239.00" width="7.48" height="1.06" fill="#b4d6e8"/>
<rect x="63.33" y="239.00" width="7.48" height="1.06" fill="#bddceb"/>
<rect x="70.75" y="239.00" width="7.48" height="1.06" fill="#a1c9e1"/>
<rect x="78.17" y="239.00" width="7.48" height="1.06" fill="#9bc6df"/>
<rect x="85.58" y="239.00" width="7.48" height="1.06" fill="#b1d4e7"/>
<rect x="93.00" y="239.00" width="7.48" height="1.06" fill="#ebf7e5"/>
<rect x="100.42" y="239.00" width="7.48" height="1.06" fill="#f2fad7"/>
<rect x="107.83" y="239.00" width="7.48" height="1.06" fill="#eff9dd"/>
<rect x="115.25" y="239.00" width="7.48" height="1.06" fill="#fdc17c"/>
<rect x="122.67" y="239.00" width="7.48" height="1.06" fill="#fdb876"/>
<rect x="130.08" y="239.00" width="7.48" height="1.06" fill="#fdb976"/>
<rect x="48.50" y="240.00" width="7.48" height="1.06" fill="#a0c9e0"/>
<rect x="55.92" y="240.00" width="7.48" height="1.06" fill="#b4d6e8"/>
<rect x="63.33" y="240.00" width="7.48" height="1.06" fill="#b9d9ea"/>
<rect x="70.75" y="240.00" width="7.48" height="1.06" fill="#b9d9ea"/>
<rect x="78.17" y="240.00" width="7.48" height="1.06" fill="#c4e0ee"/>
<rect x="85.58" y="240.00" width="7.48" height="1.06" fill="#c7e3ef"/>
<rect x="93.00" y="240.00" width="7.48" height="1.06" fill="#edf8e0"/>
<rect x="100.42" y="240.00" width="7.48" height="1.06" fill="#f2fad7"/>
<rect x="107.83" y="240.00" width="7.48" height="1.06" fill="#e9f7e7"/>
<rect x="115.25" y="240.00" width="7.48" height="1.06" fill="#fed78a"/>
<rect x="122.67" y="240.00" width="7.48" height="1.06" fill="#fecc83"/>
<rect x="130.08" y="240.00" width="7.48" height="1.06" fill="#fecc83"/>
<rect x="48.50" y="241.00" width="7.48" height="1.06" fill="#b2d5e7"/>
<rect x="55.92" y="241.00" width="7.48" height="1.06" fill="#a0c9e1"/>
<rect x="63.33" y="241.00" width="7.48" height="1.06" fill="#a1cae1"/>
<rect x="70.75" y="241.00" width="7.48" height="1.06" fill="#d1e9f3"/>
<rect x="78.17" y="241.00" width="7.48" height="1.06" fill="#c2dfed"/>
<rect x="85.58" y="241.00" width="7.48" height="1.06" fill="#d5ecf4"/>
<rect x="93.00" y="241.00" width="7.48" height="1.06" fill="#eaf7e5"/>
<rect x="100.42" y="241.00" width="7.48" height="1.06" fill="#e0f3f8"/>
<rect x="107.83" y="241.00" width="7.48" height="1.06" fill="#e3f4f3"/>
<rect x="115.25" y="241.00" width="7.48" height="1.06" fill="#fedf90"/>
<rect x="122.67" y="241.00" width="7.48" height="1.06" fill="#fee495"/>
<rect x="130.08" y="241.00" width="7.48" height="1.06" fill="#fee090"/>
<rect x="48.50" y="242.00" width="7.48" height="1.06" fill="#b4d6e8"/>
<rect x="55.92" y="242.00" width="7.48" height="1.06" fill="#b4d6e8"/>
<rect x="63.33" y="242.00" width="7.48" height="1.06" fill="#acd1e5"/>
<rect x="70.75" y="242.00" width="7.48" height="1.06" fill="#aad0e4"/>
<rect x="78.17" y="242.00" width="7.48" height="1.06" fill="#b6d7e9"/>
<rect x="85.58" y="242.00" width="7.48" height="1.06" fill="#c9e4ef"/>
<rect x="93.00" y="242.00" width="7.48" height="1.06" fill="#e8f6ea"/>
<rect x="100.42" y="242.00" width="7.48" height="1.06" fill="#e8f6ea"/>
<rect x="107.83" y="242.00" width="7.48" height="1.06" fill="#e6f6ec"/>
<rect x="115.25" y="242.00" width="7.48" height="1.06" fill="#fed186"/>
<rect x="122.67" y="242.00" width="7.48" height="1.06" fill="#fdc27c"/>
<rect x="130.08" y="242.00" width="7.48" height="1.06" fill="#fecf85"/>
<rect x="48.50" y="243.00" width="7.48" height="1.06" fill="#9fc8e0"/>
<rect x="55.92" y="243.00" width="7.48" height="1.06" fill="#9dc7df"/>
<rect x="63.33" y="243.00" width="7.48" height="1.06" fill="#92c0db"/>
<rect x="70.75" y="243.00" width="7.48" height="1.06" fill="#afd3e6"/>
<rect x="78.17" y="243.00" width="7.48" height="1.06" fill="#b8d9e9"/>
<rect x="85.58" y="243.00" width="7.48" height="1.06" fill="#b5d7e8"/>
<rect x="93.00" y="243.00" width="7.48" height="1.06" fill="#ecf8e3"/>
<rect x="100.42" y="243.00" width="7.48" height="1.06" fill="#eef8de"/>
<rect x="107.83" y="243.00" width="7.48" height="1.06" fill="#edf8e1"/>
<rect x="115.25" y="243.00" width="7.48" height="1.06" fill="#fdb372"/>
<rect x="122.67" y="243.00" width="7.48" height="1.06" fill="#fdac6d"/>
<rect x="130.08" y="243.00" width="7.48" height="1.06" fill="#fc9c63"/>
<rect x="48.50" y="244.00" width="7.48" height="1.06" fill="#c6e2ee"/>
<rect x="55.92" y="244.00" width="7.48" height="1.06" fill="#c8e3ef"/>
<rect x="63.33" y="244.00" width="7.48" height="1.06" fill="#c3e0ed"/>
<rect x="70.75" y="244.00" width="7.48" height="1.06" fill="#a7cde3"/>
<rect x="78.17" y="244.00" width="7.48" height="1.06" fill="#c3e0ed"/>
<rect x="85.58" y="244.00" width="7.48" height="1.06" fill="#b5d7e8"/>
<rect x="93.00" y="244.00" width="7.48" height="1.06" fill="#f3fbd4"/>
<rect x="100.42" y="244.00" width="7.48" height="1.06" fill="#f2fad7"/>
<rect x="107.83" y="244.00" width="7.48" height="1.06" fill="#f4fbd4"/>
<rect x="115.25" y="244.00" width="7.48" height="1.06" fill="#fdc67f"/>
<rect x="122.67" y="244.00" width="7.48" height="1.06" fill="#fdbb78"/>
<rect x="130.08" y="244.00" width="7.48" height="1.06" fill="#fdc780"/>
<rect x="48.50" y="245.00" width="7.48" height="1.06" fill="#9ec7e0"/>
<rect x="55.92" y="245.00" width="7.48" height="1.06" fill="#a8cee3"/>
<rect x="63.33" y="245.00" width="7.48" height="1.06" fill="#9cc6df"/>
<rect x="70.75" y="245.00" width="7.48" height="1.06" fill="#a1cae1"/>
<rect x="78.17" y="245.00" width="7.48" height="1.06" fill="#b2d5e7"/>
<rect x="85.58" y="245.00" width="7.48" height="1.06" fill="#a4cbe2"/>
<rect x="93.00" y="245.00" width="7.48" height="1.06" fill="#e8f6e9"/>
<rect x="100.42" y="245.00" width="7.48" height="1.06" fill="#e9f6e8"/>
<rect x="107.83" y="245.00" width="7.48" height="1.06" fill="#ebf7e4"/>
<rect x="115.25" y="245.00" width="7.48" height="1.06" fill="#fece84"/>
<rect x="122.67" y="245.00" width="7.48" height="1.06" fill="#fdb272"/>
<rect x="130.08" y="245.00" width="7.48" height="1.06" fill="#fdbf7a"/>
<rect x="48.50" y="246.00" width="7.48" height="1.06" fill="#dcf0f6"/>
<rect x="55.92" y="246.00" width="7.48" height="1.06" fill="#e6f5ed"/>
<rect x="63.33" y="246.00" width="7.48" height="1.06" fill="#e2f4f4"/>
<rect x="70.75" y="246.00" width="7.48" height="1.06" fill="#abd0e5"/>
<rect x="78.17" y="246.00" width="7.48" height="1.06" fill="#aed2e6"/>
<rect x="85.58" y="246.00" width="7.48" height="1.06" fill="#a6cde3"/>
<rect x="93.00" y="246.00" width="7.48" height="1.06" fill="#f5fbd1"/>
<rect x="100.42" y="246.00" width="7.48" height="1.06" fill="#f6fbd0"/>
<rect x="107.83" y="246.00" width="7.48" height="1.06" fill="#f3fad6"/>
<rect x="115.25" y="246.00" width="7.48" height="1.06" fill="#fed186"/>
<rect x="122.67" y="246.00" width="7.48" height="1.06" fill="#fed387"/>
<rect x="130.08" y="246.00" width="7.48" height="1.06" fill="#fed287"/>
<rect x="48.50" y="247.00" width="7.48" height="1.06" fill="#b0d4e6"/>
<rect x="55.92" y="247.00" width="7.48" height="1.06" fill="#b2d5e7"/>
<rect x="63.33" y="247.00" width="7.48" height="1.06" fill="#abd0e4"/>
<rect x="70.75" y="247.00" width="7.48" height="1.06" fill="#a0c9e0"/>
<rect x="78.17" y="247.00" width="7.48" height="1.06" fill="#b1d4e7"/>
<rect x="85.58" y="247.00" width="7.48" height="1.06" fill="#a5cce3"/>
<rect x="93.00" y="247.00" width="7.48" height="1.06" fill="#fdfec3"/>
<rect x="100.42" y="247.00" width="7.48" height="1.06" fill="#feffc0"/>
<rect x="107.83" y="247.00" width="7.48" height="1.06" fill="#fffdbc"/>
<rect x="115.25" y="247.00" width="7.48" height="1.06" fill="#fee294"/>
<rect x="122.67" y="247.00" width="7.48" height="1.06" fill="#feeba1"/>
<rect x="130.08" y="247.00" width="7.48" height="1.06" fill="#feeba1"/>
<rect x="48.50" y="248.00" width="7.48" height="1.06" fill="#daeff6"/>
<rect x="55.92" y="248.00" width="7.48" height="1.06" fill="#d0e9f2"/>
<rect x="63.33" y="248.00" width="7.48" height="1.06" fill="#c1dfed"/>
<rect x="70.75" y="248.00" width="7.48" height="1.06" fill="#add1e5"/>
<rect x="78.17" y="248.00" width="7.48" height="1.06" fill="#a3cbe2"/>
<rect x="85.58" y="248.00" width="7.48" height="1.06" fill="#9dc7df"/>
<rect x="93.00" y="248.00" width="7.48" height="1.06" fill="#f7fcce"/>
<rect x="100.42" y="248.00" width="7.48" height="1.06" fill="#fafdc9"/>
<rect x="107.83" y="248.00" width="7.48" height="1.06" fill="#f7fccd"/>
<rect x="115.25" y="248.00" width="7.48" height="1.06" fill="#fed387"/>
<rect x="122.67" y="248.00" width="7.48" height="1.06" fill="#fedc8e"/>
<rect x="130.08" y="248.00" width="7.48" height="1.06" fill="#fee89d"/>
<rect x="48.50" y="249.00" width="7.48" height="1.06" fill="#c9e4f0"/>
<rect x="55.92" y="249.00" width="7.48" height="1.06" fill="#d4ebf3"/>
<rect x="63.33" y="249.00" width="7.48" height="1.06" fill="#c7e3ef"/>
<rect x="70.75" y="249.00" width="7.48" height="1.06" fill="#b6d7e9"/>
<rect x="78.17" y="249.00" width="7.48" height="1.06" fill="#b9d9ea"/>
<rect x="85.58" y="249.00" width="7.48" height="1.06" fill="#c5e1ee"/>
<rect x="93.00" y="249.00" width="7.48" height="1.06" fill="#fff9b6"/>
<rect x="100.42" y="249.00" width="7.48" height="1.06" fill="#fff6b2"/>
<rect x="107.83" y="249.00" width="7.48" height="1.06" fill="#fff7b3"/>
<rect x="115.25" y="249.00" width="7.48" height="1.06" fill="#fed085"/>
<rect x="122.67" y="249.00" width="7.48" height="1.06" fill="#fdca81"/>
<rect x="130.08" y="249.00" width="7.48" height="1.06" fill="#fed387"/>
<rect x="48.50" y="250.00" width="7.48" height="1.06" fill="#b0d4e6"/>
<rect x="55.92" y="250.00" width="7.48" height="1.06" fill="#b3d5e7"/>
<rect x="63.33" y="250.00" width="7.48" height="1.06" fill="#a3cbe2"/>
<rect x="70.75" y="250.00" width="7.48" height="1.06" fill="#98c4de"/>
<rect x="78.17" y="250.00" width="7.48" height="1.06" fill="#98c4de"/>
<rect x="85.58" y="250.00" width="7.48" height="1.06" fill="#a1cae1"/>
<rect x="93.00" y="250.00" width="7.48" height="1.06" fill="#f7fccd"/>
<rect x="100.42" y="250.00" width="7.48" height="1.06" fill="#f5fbd2"/>
<rect x="107.83" y="250.00" width="7.48" height="1.06" fill="#f2fad7"/>
<rect x="115.25" y="250.00" width="7.48" height="1.06" fill="#feeaa0"/>
<rect x="122.67" y="250.00" width="7.48" height="1.06" fill="#feefa6"/>
<rect x="130.08" y="250.00" width="7.48" height="1.06" fill="#fff6b2"/>
<rect x="48.50" y="251.00" width="7.48" height="1.06" fill="#cce6f1"/>
<rect x="55.92" y="251.00" width="7.48" height="1.06" fill="#c7e3ef"/>
<rect x="63.33" y="251.00" width="7.48" height="1.06" fill="#c0deec"/>
<rect x="70.75" y="251.00" width="7.48" height="1.06" fill="#a5cce2"/>
<rect x="78.17" y="251.00" width="7.48" height="1.06" fill="#aad0e4"/>
<rect x="85.58" y="251.00" width="7.48" height="1.06" fill="#acd0e5"/>
<rect x="93.00" y="251.00" width="7.48" height="1.06" fill="#fbfec6"/>
<rect x="100.42" y="251.00" width="7.48" height="1.06" fill="#fafdc9"/>
<rect x="107.83" y="251.00" width="7.48" height="1.06" fill="#fcfec4"/>
<rect x="115.25" y="251.00" width="7.48" height="1.06" fill="#fed589"/>
<rect x="122.67" y="251.00" width="7.48" height="1.06" fill="#fed88b"/>
<rect x="130.08" y="251.00" width="7.48" height="1.06" fill="#fedf8f"/>
<rect x="48.50" y="252.00" width="7.48" height="1.06" fill="#b2d5e7"/>
<rect x="55.92" y="252.00" width="7.48" height="1.06" fill="#a4cce2"/>
<rect x="63.33" y="252.00" width="7.48" height="1.06" fill="#b8d9e9"/>
<rect x="70.75" y="252.00" width="7.48" height="1.06" fill="#a2cae1"/>
<rect x="78.17" y="252.00" width="7.48" height="1.06" fill="#9cc6df"/>
<rect x="85.58" y="252.00" width="7.48" height="1.06" fill="#93c1dc"/>
<rect x="93.00" y="252.00" width="7.48" height="1.06" fill="#fffdbc"/>
<rect x="100.42" y="252.00" width="7.48" height="1.06" fill="#fff6b1"/>
<rect x="107.83" y="252.00" width="7.48" height="1.06" fill="#fffbb9"/>
<rect x="115.25" y="252.00" width="7.48" height="1.06" fill="#feeba0"/>
<rect x="122.67" y="252.00" width="7.48" height="1.06" fill="#fee99e"/>
<rect x="130.08" y="252.00" width="7.48" height="1.06" fill="#fee597"/>
<rect x="48.50" y="253.00" width="7.48" height="1.06" fill="#d6ecf4"/>
<rect x="55.92" y="253.00" width="7.48" height="1.06" fill="#def2f7"/>
<rect x="63.33" y="253.00" width="7.48" height="1.06" fill="#d0e9f2"/>
<rect x="70.75" y="253.00" width="7.48" height="1.06" fill="#d6edf4"/>
<rect x="78.17" y="253.00" width="7.48" height="1.06" fill="#e1f3f6"/>
<rect x="85.58" y="253.00" width="7.48" height="1.06" fill="#e0f3f7"/>
<rect x="93.00" y="253.00" width="7.48" height="1.06" fill="#fee89c"/>
<rect x="100.42" y="253.00" width="7.48" height="1.06" fill="#feeda4"/>
<rect x="107.83" y="253.00" width="7.48" height="1.06" fill="#fee79b"/>
<rect x="115.25" y="253.00" width="7.48" height="1.06" fill="#fecc83"/>
<rect x="122.67" y="253.00" width="7.48" height="1.06" fill="#fdc57e"/>
<rect x="130.08" y="253.00" width="7.48" height="1.06" fill="#fecd83"/>
<rect x="48.50" y="254.00" width="7.48" height="1.06" fill="#cde6f1"/>
<rect x="55.92" y="254.00" width="7.48" height="1.06" fill="#c0deec"/>
<rect x="63.33" y="254.00" width="7.48" height="1.06" fill="#c8e3ef"/>
<rect x="70.75" y="254.00" width="7.48" height="1.06" fill="#bfdeec"/>
<rect x="78.17" y="254.00" width="7.48" height="1.06" fill="#c3e0ed"/>
<rect x="85.58" y="254.00" width="7.48" height="1.06" fill="#bfddec"/>
<rect x="93.00" y="254.00" width="7.48" height="1.06" fill="#f6fccf"/>
<rect x="100.42" y="254.00" width="7.48" height="1.06" fill="#f9fdc9"/>
<rect x="107.83" y="254.00" width="7.48" height="1.06" fill="#f9fdca"/>
<rect x="115.25" y="254.00" width="7.48" height="1.06" fill="#feeca2"/>
<rect x="122.67" y="254.00" width="7.48" height="1.06" fill="#fee091"/>
<rect x="130.08" y="254.00" width="7.48" height="1.06" fill="#fee293"/>
<rect x="48.50" y="255.00" width="7.48" height="1.06" fill="#dff3f8"/>
<rect x="55.92" y="255.00" width="7.48" height="1.06" fill="#def2f7"/>
<rect x="63.33" y="255.00" width="7.48" height="1.06" fill="#e2f4f4"/>
<rect x="70.75" y="255.00" width="7.48" height="1.06" fill="#cde7f1"/>
<rect x="78.17" y="255.00" width="7.48" height="1.06" fill="#daeff6"/>
<rect x="85.58" y="255.00" width="7.48" height="1.06" fill="#d6ecf4"/>
<rect x="93.00" y="255.00" width="7.48" height="1.06" fill="#feeda3"/>
<rect x="100.42" y="255.00" width="7.48" height="1.06" fill="#fff3ac"/>
<rect x="107.83" y="255.00" width="7.48" height="1.06" fill="#fff6b1"/>
<rect x="115.25" y="255.00" width="7.48" height="1.06" fill="#fed488"/>
<rect x="122.67" y="255.00" width="7.48" height="1.06" fill="#fee090"/>
<rect x="130.08" y="255.00" width="7.48" height="1.06" fill="#fdc981"/>
<rect x="48.50" y="256.00" width="7.48" height="1.06" fill="#badaea"/>
<rect x="55.92" y="256.00" width="7.48" height="1.06" fill="#cfe8f2"/>
<rect x="63.33" y="256.00" width="7.48" height="1.06" fill="#b8d9e9"/>
<rect x="70.75" y="256.00" width="7.48" height="1.06" fill="#aed2e6"/>
<rect x="78.17" y="256.00" width="7.48" height="1.06" fill="#cae5f0"/>
<rect x="85.58" y="256.00" width="7.48" height="1.06" fill="#bbdaea"/>
<rect x="93.00" y="256.00" width="7.48" height="1.06" fill="#f8fccb"/>
<rect x="100.42" y="256.00" width="7.48" height="1.06" fill="#fafdc8"/>
<rect x="107.83" y="256.00" width="7.48" height="1.06" fill="#f6fbd0"/>
<rect x="115.25" y="256.00" width="7.48" height="1.06" fill="#fee598"/>
<rect x="122.67" y="256.00" width="7.48" height="1.06" fill="#fee79a"/>
<rect x="130.08" y="256.00" width="7.48" height="1.06" fill="#fff1aa"/>
<rect x="48.50" y="257.00" width="7.48" height="1.06" fill="#c6e2ee"/>
<rect x="55.92" y="257.00" width="7.48" height="1.06" fill="#cce6f1"/>
<rect x="63.33" y="257.00" width="7.48" height="1.06" fill="#bddceb"/>
<rect x="70.75" y="257.00" width="7.48" height="1.06" fill="#d9eef5"/>
<rect x="78.17" y="257.00" width="7.48" height="1.06" fill="#d5ecf4"/>
<rect x="85.58" y="257.00" width="7.48" height="1.06" fill="#dcf0f6"/>
<rect x="93.00" y="257.00" width="7.48" height="1.06" fill="#fff8b4"/>
<rect x="100.42" y="257.00" width="7.48" height="1.06" fill="#fffab8"/>
<rect x="107.83" y="257.00" width="7.48" height="1.06" fill="#fff5af"/>
<rect x="115.25" y="257.00" width="7.48" height="1.06" fill="#fee89c"/>
<rect x="122.67" y="257.00" width="7.48" height="1.06" fill="#fee597"/>
<rect x="130.08" y="257.00" width="7.48" height="1.06" fill="#fedf8f"/>
<rect x="48.50" y="258.00" width="7.48" height="1.06" fill="#cfe8f2"/>
<rect x="55.92" y="258.00" width="7.48" height="1.06" fill="#cbe5f0"/>
<rect x="63.33" y="258.00" width="7.48" height="1.06" fill="#d7edf5"/>
<rect x="70.75" y="258.00" width="7.48" height="1.06" fill="#afd3e6"/>
<rect x="78.17" y="258.00" width="7.48" height="1.06" fill="#b6d7e8"/>
<rect x="85.58" y="258.00" width="7.48" height="1.06" fill="#b9daea"/>
<rect x="93.00" y="258.00" width="7.48" height="1.06" fill="#fff1a9"/>
<rect x="100.42" y="258.00" width="7.48" height="1.06" fill="#fff8b4"/>
<rect x="107.83" y="258.00" width="7.48" height="1.06" fill="#fff2ab"/>
<rect x="115.25" y="258.00" width="7.48" height="1.06" fill="#fee192"/>
<rect x="122.67" y="258.00" width="7.48" height="1.06" fill="#fedb8d"/>
<rect x="130.08" y="258.00" width="7.48" height="1.06" fill="#fdc77f"/>
<rect x="48.50" y="259.00" width="7.48" height="1.06" fill="#b5d6e8"/>
<rect x="55.92" y="259.00" width="7.48" height="1.06" fill="#c3e0ed"/>
<rect x="63.33" y="259.00" width="7.48" height="1.06" fill="#c4e0ee"/>
<rect x="70.75" y="259.00" width="7.48" height="1.06" fill="#d9eff6"/>
<rect x="78.17" y="259.00" width="7.48" height="1.06" fill="#cbe5f0"/>
<rect x="85.58" y="259.00" width="7.48" height="1.06" fill="#c8e3ef"/>
<rect x="93.00" y="259.00" width="7.48" height="1.06" fill="#ffffbe"/>
<rect x="100.42" y="259.00" width="7.48" height="1.06" fill="#fffbb9"/>
<rect x="107.83" y="259.00" width="7.48" height="1.06" fill="#fffcbb"/>
<rect x="115.25" y="259.00" width="7.48" height="1.06" fill="#fdb372"/>
<rect x="122.67" y="259.00" width="7.48" height="1.06" fill="#fdb573"/>
<rect x="130.08" y="259.00" width="7.48" height="1.06" fill="#fda468"/>
<rect x="48.50" y="260.00" width="7.48" height="1.06" fill="#c2dfed"/>
<rect x="55.92" y="260.00" width="7.48" height="1.06" fill="#b3d6e8"/>
<rect x="63.33" y="260.00" width="7.48" height="1.06" fill="#aad0e4"/>
<rect x="70.75" y="260.00" width="7.48" height="1.06" fill="#c2dfed"/>
<rect x="78.17" y="260.00" width="7.48" height="1.06" fill="#bbdaea"/>
<rect x="85.58" y="260.00" width="7.48" height="1.06" fill="#c4e0ee"/>
<rect x="93.00" y="260.00" width="7.48" height="1.06" fill="#fff9b6"/>
<rect x="100.42" y="260.00" width="7.48" height="1.06" fill="#fffdbc"/>
<rect x="107.83" y="260.00" width="7.48" height="1.06" fill="#fffebe"/>
<rect x="115.25" y="260.00" width="7.48" height="1.06" fill="#fed78a"/>
<rect x="122.67" y="260.00" width="7.48" height="1.06" fill="#fed98b"/>
<rect x="130.08" y="260.00" width="7.48" height="1.06" fill="#fed589"/>
<rect x="48.50" y="261.00" width="7.48" height="1.06" fill="#e3f4f2"/>
<rect x="55.92" y="261.00" width="7.48" height="1.06" fill="#d2eaf3"/>
<rect x="63.33" y="261.00" width="7.48" height="1.06" fill="#e2f4f4"/>
<rect x="70.75" y="261.00" width="7.48" height="1.06" fill="#d7edf5"/>
<rect x="78.17" y="261.00" width="7.48" height="1.06" fill="#d4ebf4"/>
<rect x="85.58" y="261.00" width="7.48" height="1.06" fill="#cee7f2"/>
<rect x="93.00" y="261.00" width="7.48" height="1.06" fill="#feeba0"/>
<rect x="100.42" y="261.00" width="7.48" height="1.06" fill="#fff0a9"/>
<rect x="107.83" y="261.00" width="7.48" height="1.06" fill="#feeda4"/>
<rect x="115.25" y="261.00" width="7.48" height="1.06" fill="#fecc83"/>
<rect x="122.67" y="261.00" width="7.48" height="1.06" fill="#fed88a"/>
<rect x="130.08" y="261.00" width="7.48" height="1.06" fill="#fdcb82"/>
<rect x="48.50" y="262.00" width="7.48" height="1.06" fill="#c6e2ee"/>
<rect x="55.92" y="262.00" width="7.48" height="1.06" fill="#c1deec"/>
<rect x="63.33" y="262.00" width="7.48" height="1.06" fill="#c8e3ef"/>
<rect x="70.75" y="262.00" width="7.48" height="1.06" fill="#e3f4f2"/>
<rect x="78.17" y="262.00" width="7.48" height="1.06" fill="#d7edf5"/>
<rect x="85.58" y="262.00" width="7.48" height="1.06" fill="#e0f3f7"/>
<rect x="93.00" y="262.00" width="7.48" height="1.06" fill="#fff2ab"/>
<rect x="100.42" y="262.00" width="7.48" height="1.06" fill="#fff9b5"/>
<rect x="107.83" y="262.00" width="7.48" height="1.06" fill="#fff2ab"/>
<rect x="115.25" y="262.00" width="7.48" height="1.06" fill="#feea9f"/>
<rect x="122.67" y="262.00" width="7.48" height="1.06" fill="#feeba1"/>
<rect x="130.08" y="262.00" width="7.48" height="1.06" fill="#feeca1"/>
<rect x="48.50" y="263.00" width="7.48" height="1.06" fill="#b3d6e8"/>
<rect x="55.92" y="263.00" width="7.48" height="1.06" fill="#a2cae1"/>
<rect x="63.33" y="263.00" width="7.48" height="1.06" fill="#b6d7e9"/>
<rect x="70.75" y="263.00" width="7.48" height="1.06" fill="#abd0e4"/>
<rect x="78.17" y="263.00" width="7.48" height="1.06" fill="#a6cde3"/>
<rect x="85.58" y="263.00" width="7.48" height="1.06" fill="#a3cbe2"/>
<rect x="93.00" y="263.00" width="7.48" height="1.06" fill="#fffbba"/>
<rect x="100.42" y="263.00" width="7.48" height="1.06" fill="#f8fccb"/>
<rect x="107.83" y="263.00" width="7.48" height="1.06" fill="#f8fccb"/>
<rect x="115.25" y="263.00" width="7.48" height="1.06" fill="#fffcba"/>
<rect x="122.67" y="263.00" width="7.48" height="1.06" fill="#fffbb9"/>
<rect x="130.08" y="263.00" width="7.48" height="1.06" fill="#fffcbb"/>
<rect x="48.50" y="264.00" width="7.48" height="1.06" fill="#dbf0f6"/>
<rect x="55.92" y="264.00" width="7.48" height="1.06" fill="#c9e4f0"/>
<rect x="63.33" y="264.00" width="7.48" height="1.06" fill="#dcf0f6"/>
<rect x="70.75" y="264.00" width="7.48" height="1.06" fill="#e1f3f6"/>
<rect x="78.17" y="264.00" width="7.48" height="1.06" fill="#dbf0f6"/>
<rect x="85.58" y="264.00" width="7.48" height="1.06" fill="#d5ebf4"/>
<rect x="93.00" y="264.00" width="7.48" height="1.06" fill="#feeca3"/>
<rect x="100.42" y="264.00" width="7.48" height="1.06" fill="#feeba1"/>
<rect x="107.83" y="264.00" width="7.48" height="1.06" fill="#feeea5"/>
<rect x="115.25" y="264.00" width="7.48" height="1.06" fill="#fee395"/>
<rect x="122.67" y="264.00" width="7.48" height="1.06" fill="#fee191"/>
<rect x="130.08" y="264.00" width="7.48" height="1.06" fill="#fee091"/>
<rect x="48.50" y="265.00" width="7.48" height="1.06" fill="#b3d5e7"/>
<rect x="55.92" y="265.00" width="7.48" height="1.06" fill="#b7d8e9"/>
<rect x="63.33" y="265.00" width="7.48" height="1.06" fill="#b5d7e8"/>
<rect x="70.75" y="265.00" width="7.48" height="1.06" fill="#bddceb"/>
<rect x="78.17" y="265.00" width="7.48" height="1.06" fill="#bbdbeb"/>
<rect x="85.58" y="265.00" width="7.48" height="1.06" fill="#badaea"/>
<rect x="93.00" y="265.00" width="7.48" height="1.06" fill="#fff9b5"/>
<rect x="100.42" y="265.00" width="7.48" height="1.06" fill="#fff7b3"/>
<rect x="107.83" y="265.00" width="7.48" height="1.06" fill="#fff4af"/>
<rect x="115.25" y="265.00" width="7.48" height="1.06" fill="#fff3ad"/>
<rect x="122.67" y="265.00" width="7.48" height="1.06" fill="#feeea6"/>
<rect x="130.08" y="265.00" width="7.48" height="1.06" fill="#feeda4"/>
<rect x="48.50" y="266.00" width="7.48" height="1.06" fill="#acd1e5"/>
<rect x="55.92" y="266.00" width="7.48" height="1.06" fill="#a6cde3"/>
<rect x="63.33" y="266.00" width="7.48" height="1.06" fill="#a8cee3"/>
<rect x="70.75" y="266.00" width="7.48" height="1.06" fill="#aed2e6"/>
<rect x="78.17" y="266.00" width="7.48" height="1.06" fill="#b5d7e8"/>
<rect x="85.58" y="266.00" width="7.48" height="1.06" fill="#a4cce2"/>
<rect x="93.00" y="266.00" width="7.48" height="1.06" fill="#f6fccf"/>
<rect x="100.42" y="266.00" width="7.48" height="1.06" fill="#fdfec2"/>
<rect x="107.83" y="266.00" width="7.48" height="1.06" fill="#fbfdc7"/>
<rect x="115.25" y="266.00" width="7.48" height="1.06" fill="#fff2ab"/>
<rect x="122.67" y="266.00" width="7.48" height="1.06" fill="#fff3ad"/>
<rect x="130.08" y="266.00" width="7.48" height="1.06" fill="#fff4ae"/>
<rect x="48.50" y="267.00" width="7.48" height="1.06" fill="#b5d7e8"/>
<rect x="55.92" y="267.00" width="7.48" height="1.06" fill="#a5cce2"/>
<rect x="63.33" y="267.00" width="7.48" height="1.06" fill="#b8d8e9"/>
<rect x="70.75" y="267.00" width="7.48" height="1.06" fill="#d2e9f3"/>
<rect x="78.17" y="267.00" width="7.48" height="1.06" fill="#c2dfed"/>
<rect x="85.58" y="267.00" width="7.48" height="1.06" fill="#c2dfed"/>
<rect x="93.00" y="267.00" width="7.48" height="1.06" fill="#fff8b4"/>
<rect x="100.42" y="267.00" width="7.48" height="1.06" fill="#fff7b3"/>
<rect x="107.83" y="267.00" width="7.48" height="1.06" fill="#fff7b3"/>
<rect x="115.25" y="267.00" width="7.48" height="1.06" fill="#fff4ae"/>
<rect x="122.67" y="267.00" width="7.48" height="1.06" fill="#fff9b5"/>
<rect x="130.08" y="267.00" width="7.48" height="1.06" fill="#feefa7"/>
<rect x="48.50" y="268.00" width="7.48" height="1.06" fill="#e0f3f7"/>
<rect x="55.92" y="268.00" width="7.48" height="1.06" fill="#e4f5f0"/>
<rect x="63.33" y="268.00" width="7.48" height="1.06" fill="#e3f4f2"/>
<rect x="70.75" y="268.00" width="7.48" height="1.06" fill="#daeff6"/>
<rect x="78.17" y="268.00" width="7.48" height="1.06" fill="#d6edf4"/>
<rect x="85.58" y="268.00" width="7.48" height="1.06" fill="#e7f6eb"/>
<rect x="93.00" y="268.00" width="7.48" height="1.06" fill="#fee99e"/>
<rect x="100.42" y="268.00" width="7.48" height="1.06" fill="#fee598"/>
<rect x="107.83" y="268.00" width="7.48" height="1.06" fill="#fee698"/>
<rect x="115.25" y="268.00" width="7.48" height="1.06" fill="#fdb070"/>
<rect x="122.67" y="268.00" width="7.48" height="1.06" fill="#fdcb82"/>
<rect x="130.08" y="268.00" width="7.48" height="1.06" fill="#fdc37c"/>
<rect x="48.50" y="269.00" width="7.48" height="1.06" fill="#d3ebf3"/>
<rect x="55.92" y="269.00" width="7.48" height="1.06" fill="#add2e5"/>
<rect x="63.33" y="269.00" width="7.48" height="1.06" fill="#c1dfed"/>
<rect x="70.75" y="269.00" width="7.48" height="1.06" fill="#c2dfed"/>
<rect x="78.17" y="269.00" width="7.48" height="1.06" fill="#c2dfed"/>
<rect x="85.58" y="269.00" width="7.48" height="1.06" fill="#b2d5e7"/>
<rect x="93.00" y="269.00" width="7.48" height="1.06" fill="#feefa7"/>
<rect x="100.42" y="269.00" width="7.48" height="1.06" fill="#feeba1"/>
<rect x="107.83" y="269.00" width="7.48" height="1.06" fill="#feefa6"/>
<rect x="115.25" y="269.00" width="7.48" height="1.06" fill="#fff0a8"/>
<rect x="122.67" y="269.00" width="7.48" height="1.06" fill="#feefa7"/>
<rect x="130.08" y="269.00" width="7.48" height="1.06" fill="#feeca3"/>
<rect x="48.50" y="270.00" width="7.48" height="1.06" fill="#e3f4f3"/>
<rect x="55.92" y="270.00" width="7.48" height="1.06" fill="#e2f4f4"/>
<rect x="63.33" y="270.00" width="7.48" height="1.06" fill="#e1f3f6"/>
<rect x="70.75" y="270.00" width="7.48" height="1.06" fill="#bcdbeb"/>
<rect x="78.17" y="270.00" width="7.48" height="1.06" fill="#c0deec"/>
<rect x="85.58" y="270.00" width="7.48" height="1.06" fill="#d0e9f2"/>
<rect x="93.00" y="270.00" width="7.48" height="1.06" fill="#fff5b0"/>
<rect x="100.42" y="270.00" width="7.48" height="1.06" fill="#fff3ad"/>
<rect x="107.83" y="270.00" width="7.48" height="1.06" fill="#fff1aa"/>
<rect x="115.25" y="270.00" width="7.48" height="1.06" fill="#fee192"/>
<rect x="122.67" y="270.00" width="7.48" height="1.06" fill="#fee699"/>
<rect x="130.08" y="270.00" width="7.48" height="1.06" fill="#fee597"/>
<rect x="48.50" y="271.00" width="7.48" height="1.06" fill="#b7d8e9"/>
<rect x="55.92" y="271.00" width="7.48" height="1.06" fill="#badaea"/>
<rect x="63.33" y="271.00" width="7.48" height="1.06" fill="#bcdbeb"/>
<rect x="70.75" y="271.00" width="7.48" height="1.06" fill="#c0deec"/>
<rect x="78.17" y="271.00" width="7.48" height="1.06" fill="#beddeb"/>
<rect x="85.58" y="271.00" width="7.48" height="1.06" fill="#cee7f1"/>
<rect x="93.00" y="271.00" width="7.48" height="1.06" fill="#ffffc0"/>
<rect x="100.42" y="271.00" width="7.48" height="1.06" fill="#fffbb9"/>
<rect x="107.83" y="271.00" width="7.48" height="1.06" fill="#feffc0"/>
<rect x="115.25" y="271.00" width="7.48" height="1.06" fill="#fff1aa"/>
<rect x="122.67" y="271.00" width="7.48" height="1.06" fill="#fff7b3"/>
<rect x="130.08" y="271.00" width="7.48" height="1.06" fill="#fffdbb"/>
<rect x="48.50" y="272.00" width="7.48" height="1.06" fill="#cce6f1"/>
<rect x="55.92" y="272.00" width="7.48" height="1.06" fill="#d3ebf3"/>
<rect x="63.33" y="272.00" width="7.48" height="1.06" fill="#e0f3f8"/>
<rect x="70.75" y="272.00" width="7.48" height="1.06" fill="#b4d6e8"/>
<rect x="78.17" y="272.00" width="7.48" height="1.06" fill="#b1d4e7"/>
<rect x="85.58" y="272.00" width="7.48" height="1.06" fill="#badaea"/>
<rect x="93.00" y="272.00" width="7.48" height="1.06" fill="#fffbb8"/>
<rect x="100.42" y="272.00" width="7.48" height="1.06" fill="#fffebe"/>
<rect x="107.83" y="272.00" width="7.48" height="1.06" fill="#fffdbb"/>
<rect x="115.25" y="272.00" width="7.48" height="1.06" fill="#feefa7"/>
<rect x="122.67" y="272.00" width="7.48" height="1.06" fill="#fee89c"/>
<rect x="130.08" y="272.00" width="7.48" height="1.06" fill="#feeca3"/>
<rect x="48.50" y="273.00" width="7.48" height="1.06" fill="#bddceb"/>
<rect x="55.92" y="273.00" width="7.48" height="1.06" fill="#beddeb"/>
<rect x="63.33" y="273.00" width="7.48" height="1.06" fill="#c7e2ef"/>
<rect x="70.75" y="273.00" width="7.48" height="1.06" fill="#d1e9f2"/>
<rect x="78.17" y="273.00" width="7.48" height="1.06" fill="#daeff6"/>
<rect x="85.58" y="273.00" width="7.48" height="1.06" fill="#e3f4f3"/>
<rect x="93.00" y="273.00" width="7.48" height="1.06" fill="#fff6b1"/>
<rect x="100.42" y="273.00" width="7.48" height="1.06" fill="#fff4ae"/>
<rect x="107.83" y="273.00" width="7.48" height="1.06" fill="#fff4af"/>
<rect x="115.25" y="273.00" width="7.48" height="1.06" fill="#fee394"/>
<rect x="122.67" y="273.00" width="7.48" height="1.06" fill="#fee293"/>
<rect x="130.08" y="273.00" width="7.48" height="1.06" fill="#fed388"/>
<rect x="48.50" y="274.00" width="7.48" height="1.06" fill="#9ac5de"/>
<rect x="55.92" y="274.00" width="7.48" height="1.06" fill="#9cc6df"/>
<rect x="63.33" y="274.00" width="7.48" height="1.06" fill="#b1d4e7"/>
<rect x="70.75" y="274.00" width="7.48" height="1.06" fill="#cee7f1"/>
<rect x="78.17" y="274.00" width="7.48" height="1.06" fill="#aed2e6"/>
<rect x="85.58" y="274.00" width="7.48" height="1.06" fill="#b8d9e9"/>
<rect x="93.00" y="274.00" width="7.48" height="1.06" fill="#fff3ad"/>
<rect x="100.42" y="274.00" width="7.48" height="1.06" fill="#fff3ad"/>
<rect x="107.83" y="274.00" width="7.48" height="1.06" fill="#fff3ad"/>
<rect x="115.25" y="274.00" width="7.48" height="1.06" fill="#feefa7"/>
<rect x="122.67" y="274.00" width="7.48" height="1.06" fill="#feefa7"/>
<rect x="130.08" y="274.00" width="7.48" height="1.06" fill="#feeca3"/>
<rect x="48.50" y="275.00" width="7.48" height="1.06" fill="#d9eef5"/>
<rect x="55.92" y="275.00" width="7.48" height="1.06" fill="#c2dfed"/>
<rect x="63.33" y="275.00" width="7.48" height="1.06" fill="#c5e1ee"/>
<rect x="70.75" y="275.00" width="7.48" height="1.06" fill="#d2eaf3"/>
<rect x="78.17" y="275.00" width="7.48" height="1.06" fill="#d3ebf3"/>
<rect x="85.58" y="275.00" width="7.48" height="1.06" fill="#e3f4f3"/>
<rect x="93.00" y="275.00" width="7.48" height="1.06" fill="#fff6b1"/>
<rect x="100.42" y="275.00" width="7.48" height="1.06" fill="#fff1a9"/>
<rect x="107.83" y="275.00" width="7.48" height="1.06" fill="#feeca2"/>
<rect x="115.25" y="275.00" width="7.48" height="1.06" fill="#fff0a9"/>
<rect x="122.67" y="275.00" width="7.48" height="1.06" fill="#feeea5"/>
<rect x="130.08" y="275.00" width="7.48" height="1.06" fill="#fff0a9"/>
<rect x="48.50" y="276.00" width="7.48" height="1.06" fill="#e5f5ef"/>
<rect x="55.92" y="276.00" width="7.48" height="1.06" fill="#e8f6e9"/>
<rect x="63.33" y="276.00" width="7.48" height="1.06" fill="#e4f4f1"/>
<rect x="70.75" y="276.00" width="7.48" height="1.06" fill="#e4f4f2"/>
<rect x="78.17" y="276.00" width="7.48" height="1.06" fill="#ebf7e3"/>
<rect x="85.58" y="276.00" width="7.48" height="1.06" fill="#d4ebf4"/>
<rect x="93.00" y="276.00" width="7.48" height="1.06" fill="#fee294"/>
<rect x="100.42" y="276.00" width="7.48" height="1.06" fill="#fee597"/>
<rect x="107.83" y="276.00" width="7.48" height="1.06" fill="#fee191"/>
<rect x="115.25" y="276.00" width="7.48" height="1.06" fill="#fecc83"/>
<rect x="122.67" y="276.00" width="7.48" height="1.06" fill="#fecf85"/>
<rect x="130.08" y="276.00" width="7.48" height="1.06" fill="#fed689"/>
<rect x="48.50" y="277.00" width="7.48" height="1.06" fill="#d2eaf3"/>
<rect x="55.92" y="277.00" width="7.48" height="1.06" fill="#cfe7f2"/>
<rect x="63.33" y="277.00" width="7.48" height="1.06" fill="#cce6f1"/>
<rect x="70.75" y="277.00" width="7.48" height="1.06" fill="#c9e4ef"/>
<rect x="78.17" y="277.00" width="7.48" height="1.06" fill="#cde7f1"/>
<rect x="85.58" y="277.00" width="7.48" height="1.06" fill="#cde7f1"/>
<rect x="93.00" y="277.00" width="7.48" height="1.06" fill="#fee99d"/>
<rect x="100.42" y="277.00" width="7.48" height="1.06" fill="#feeaa0"/>
<rect x="107.83" y="277.00" width="7.48" height="1.06" fill="#fee79b"/>
<rect x="115.25" y="277.00" width="7.48" height="1.06" fill="#fedb8d"/>
<rect x="122.67" y="277.00" width="7.48" height="1.06" fill="#fee091"/>
<rect x="130.08" y="277.00" width="7.48" height="1.06" fill="#fedc8e"/>
<rect x="48.50" y="278.00" width="7.48" height="1.06" fill="#def2f7"/>
<rect x="55.92" y="278.00" width="7.48" height="1.06" fill="#e3f4f3"/>
<rect x="63.33" y="278.00" width="7.48" height="1.06" fill="#e5f5ee"/>
<rect x="70.75" y="278.00" width="7.48" height="1.06" fill="#e4f5f1"/>
<rect x="78.17" y="278.00" width="7.48" height="1.06" fill="#e5f5ee"/>
<rect x="85.58" y="278.00" width="7.48" height="1.06" fill="#ebf7e3"/>
<rect x="93.00" y="278.00" width="7.48" height="1.06" fill="#fedc8d"/>
<rect x="100.42" y="278.00" width="7.48" height="1.06" fill="#fee89c"/>
<rect x="107.83" y="278.00" width="7.48" height="1.06" fill="#fee293"/>
<rect x="115.25" y="278.00" width="7.48" height="1.06" fill="#fee395"/>
<rect x="122.67" y="278.00" width="7.48" height="1.06" fill="#fee598"/>
<rect x="130.08" y="278.00" width="7.48" height="1.06" fill="#fee597"/>
<rect x="48.50" y="279.00" width="7.48" height="1.06" fill="#e3f4f3"/>
<rect x="55.92" y="279.00" width="7.48" height="1.06" fill="#e2f4f5"/>
<rect x="63.33" y="279.00" width="7.48" height="1.06" fill="#e0f3f8"/>
<rect x="70.75" y="279.00" width="7.48" height="1.06" fill="#c5e1ee"/>
<rect x="78.17" y="279.00" width="7.48" height="1.06" fill="#d2eaf3"/>
<rect x="85.58" y="279.00" width="7.48" height="1.06" fill="#cee7f1"/>
<rect x="93.00" y="279.00" width="7.48" height="1.06" fill="#feeba1"/>
<rect x="100.42" y="279.00" width="7.48" height="1.06" fill="#feeca2"/>
<rect x="107.83" y="279.00" width="7.48" height="1.06" fill="#fff2ab"/>
<rect x="115.25" y="279.00" width="7.48" height="1.06" fill="#feeca2"/>
<rect x="122.67" y="279.00" width="7.48" height="1.06" fill="#fee091"/>
<rect x="130.08" y="279.00" width="7.48" height="1.06" fill="#fee89c"/>
<rect x="48.50" y="280.00" width="7.48" height="1.06" fill="#b5d7e8"/>
<rect x="55.92" y="280.00" width="7.48" height="1.06" fill="#b1d4e7"/>
<rect x="63.33" y="280.00" width="7.48" height="1.06" fill="#c3e0ee"/>
<rect x="70.75" y="280.00" width="7.48" height="1.06" fill="#c9e4ef"/>
<rect x="78.17" y="280.00" width="7.48" height="1.06" fill="#c2dfed"/>
<rect x="85.58" y="280.00" width="7.48" height="1.06" fill="#d3eaf3"/>
<rect x="93.00" y="280.00" width="7.48" height="1.06" fill="#fffcba"/>
<rect x="100.42" y="280.00" width="7.48" height="1.06" fill="#fff6b1"/>
<rect x="107.83" y="280.00" width="7.48" height="1.06" fill="#fff9b5"/>
<rect x="115.25" y="280.00" width="7.48" height="1.06" fill="#fee99e"/>
<rect x="122.67" y="280.00" width="7.48" height="1.06" fill="#fee99e"/>
<rect x="130.08" y="280.00" width="7.48" height="1.06" fill="#fee99d"/>
<rect x="48.50" y="281.00" width="7.48" height="1.06" fill="#beddec"/>
<rect x="55.92" y="281.00" width="7.48" height="1.06" fill="#acd1e5"/>
<rect x="63.33" y="281.00" width="7.48" height="1.06" fill="#bcdbeb"/>
<rect x="70.75" y="281.00" width="7.48" height="1.06" fill="#c9e4f0"/>
<rect x="78.17" y="281.00" width="7.48" height="1.06" fill="#d3eaf3"/>
<rect x="85.58" y="281.00" width="7.48" height="1.06" fill="#c5e1ee"/>
<rect x="93.00" y="281.00" width="7.48" height="1.06" fill="#fbfdc7"/>
<rect x="100.42" y="281.00" width="7.48" height="1.06" fill="#fcfec4"/>
<rect x="107.83" y="281.00" width="7.48" height="1.06" fill="#f9fdca"/>
<rect x="115.25" y="281.00" width="7.48" height="1.06" fill="#fff4af"/>
<rect x="122.67" y="281.00" width="7.48" height="1.06" fill="#fff3ad"/>
<rect x="130.08" y="281.00" width="7.48" height="1.06" fill="#fff1aa"/>
<rect x="48.50" y="282.00" width="7.48" height="1.06" fill="#fee99d"/>
<rect x="55.92" y="282.00" width="7.48" height="1.06" fill="#feeba0"/>
<rect x="63.33" y="282.00" width="7.48" height="1.06" fill="#fee496"/>
<rect x="70.75" y="282.00" width="7.48" height="1.06" fill="#fee99e"/>
<rect x="78.17" y="282.00" width="7.48" height="1.06" fill="#fff1aa"/>
<rect x="85.58" y="282.00" width="7.48" height="1.06" fill="#feefa6"/>
<rect x="93.00" y="282.00" width="7.48" height="1.06" fill="#def2f7"/>
<rect x="100.42" y="282.00" width="7.48" height="1.06" fill="#e4f4f1"/>
<rect x="107.83" y="282.00" width="7.48" height="1.06" fill="#e4f5f0"/>
<rect x="115.25" y="282.00" width="7.48" height="1.06" fill="#b6d8e9"/>
<rect x="122.67" y="282.00" width="7.48" height="1.06" fill="#add1e5"/>
<rect x="130.08" y="282.00" width="7.48" height="1.06" fill="#add1e5"/>
<rect x="48.50" y="283.00" width="7.48" height="1.06" fill="#fedc8d"/>
<rect x="55.92" y="283.00" width="7.48" height="1.06" fill="#fee191"/>
<rect x="63.33" y="283.00" width="7.48" height="1.06" fill="#fee394"/>
<rect x="70.75" y="283.00" width="7.48" height="1.06" fill="#feefa6"/>
<rect x="78.17" y="283.00" width="7.48" height="1.06" fill="#feeda4"/>
<rect x="85.58" y="283.00" width="7.48" height="1.06" fill="#feefa6"/>
<rect x="93.00" y="283.00" width="7.48" height="1.06" fill="#ddf1f7"/>
<rect x="100.42" y="283.00" width="7.48" height="1.06" fill="#d8eef5"/>
<rect x="107.83" y="283.00" width="7.48" height="1.06" fill="#d1e9f2"/>
<rect x="115.25" y="283.00" width="7.48" height="1.06" fill="#b2d5e7"/>
<rect x="122.67" y="283.00" width="7.48" height="1.06" fill="#afd3e6"/>
<rect x="130.08" y="283.00" width="7.48" height="1.06" fill="#a1c9e1"/>
<rect x="48.50" y="284.00" width="7.48" height="1.06" fill="#fee699"/>
<rect x="55.92" y="284.00" width="7.48" height="1.06" fill="#feeba1"/>
<rect x="63.33" y="284.00" width="7.48" height="1.06" fill="#fee496"/>
<rect x="70.75" y="284.00" width="7.48" height="1.06" fill="#fff0a8"/>
<rect x="78.17" y="284.00" width="7.48" height="1.06" fill="#feefa7"/>
<rect x="85.58" y="284.00" width="7.48" height="1.06" fill="#fff2ab"/>
<rect x="93.00" y="284.00" width="7.48" height="1.06" fill="#e1f3f6"/>
<rect x="100.42" y="284.00" width="7.48" height="1.06" fill="#dbeff6"/>
<rect x="107.83" y="284.00" width="7.48" height="1.06" fill="#dff3f8"/>
<rect x="115.25" y="284.00" width="7.48" height="1.06" fill="#cde7f1"/>
<rect x="122.67" y="284.00" width="7.48" height="1.06" fill="#c8e3ef"/>
<rect x="130.08" y="284.00" width="7.48" height="1.06" fill="#b9d9ea"/>
<rect x="48.50" y="285.00" width="7.48" height="1.06" fill="#fee79b"/>
<rect x="55.92" y="285.00" width="7.48" height="1.06" fill="#fee699"/>
<rect x="63.33" y="285.00" width="7.48" height="1.06" fill="#feeda4"/>
<rect x="70.75" y="285.00" width="7.48" height="1.06" fill="#fff3ad"/>
<rect x="78.17" y="285.00" width="7.48" height="1.06" fill="#feefa7"/>
<rect x="85.58" y="285.00" width="7.48" height="1.06" fill="#feeda3"/>
<rect x="93.00" y="285.00" width="7.48" height="1.06" fill="#e4f5f1"/>
<rect x="100.42" y="285.00" width="7.48" height="1.06" fill="#e1f4f5"/>
<rect x="107.83" y="285.00" width="7.48" height="1.06" fill="#e0f3f8"/>
<rect x="115.25" y="285.00" width="7.48" height="1.06" fill="#a4cbe2"/>
<rect x="122.67" y="285.00" width="7.48" height="1.06" fill="#b7d8e9"/>
<rect x="130.08" y="285.00" width="7.48" height="1.06" fill="#b3d6e8"/>
<rect x="48.50" y="286.00" width="7.48" height="1.06" fill="#feeba1"/>
<rect x="55.92" y="286.00" width="7.48" height="1.06" fill="#feeea5"/>
<rect x="63.33" y="286.00" width="7.48" height="1.06" fill="#fee597"/>
<rect x="70.75" y="286.00" width="7.48" height="1.06" fill="#fff7b2"/>
<rect x="78.17" y="286.00" width="7.48" height="1.06" fill="#fffab8"/>
<rect x="85.58" y="286.00" width="7.48" height="1.06" fill="#fff8b4"/>
<rect x="93.00" y="286.00" width="7.48" height="1.06" fill="#e3f4f3"/>
<rect x="100.42" y="286.00" width="7.48" height="1.06" fill="#e0f3f8"/>
<rect x="107.83" y="286.00" width="7.48" height="1.06" fill="#e1f3f7"/>
<rect x="115.25" y="286.00" width="7.48" height="1.06" fill="#afd3e6"/>
<rect x="122.67" y="286.00" width="7.48" height="1.06" fill="#a2cae1"/>
<rect x="130.08" y="286.00" width="7.48" height="1.06" fill="#aed2e6"/>
<rect x="48.50" y="287.00" width="7.48" height="1.06" fill="#fee191"/>
<rect x="55.92" y="287.00" width="7.48" height="1.06" fill="#fee496"/>
<rect x="63.33" y="287.00" width="7.48" height="1.06" fill="#fee395"/>
<rect x="70.75" y="287.00" width="7.48" height="1.06" fill="#feeea6"/>
<rect x="78.17" y="287.00" width="7.48" height="1.06" fill="#fff0a9"/>
<rect x="85.58" y="287.00" width="7.48" height="1.06" fill="#feeda4"/>
<rect x="93.00" y="287.00" width="7.48" height="1.06" fill="#e8f6ea"/>
<rect x="100.42" y="287.00" width="7.48" height="1.06" fill="#e9f7e7"/>
<rect x="107.83" y="287.00" width="7.48" height="1.06" fill="#e0f3f7"/>
<rect x="115.25" y="287.00" width="7.48" height="1.06" fill="#c4e0ee"/>
<rect x="122.67" y="287.00" width="7.48" height="1.06" fill="#bfddec"/>
<rect x="130.08" y="287.00" width="7.48" height="1.06" fill="#c2dfed"/>
<rect x="48.50" y="288.00" width="7.48" height="1.06" fill="#fee597"/>
<rect x="55.92" y="288.00" width="7.48" height="1.06" fill="#fee394"/>
<rect x="63.33" y="288.00" width="7.48" height="1.06" fill="#fee99e"/>
<rect x="70.75" y="288.00" width="7.48" height="1.06" fill="#fff2ab"/>
<rect x="78.17" y="288.00" width="7.48" height="1.06" fill="#fff3ac"/>
<rect x="85.58" y="288.00" width="7.48" height="1.06" fill="#feeea5"/>
<rect x="93.00" y="288.00" width="7.48" height="1.06" fill="#ebf7e3"/>
<rect x="100.42" y="288.00" width="7.48" height="1.06" fill="#e5f5ef"/>
<rect x="107.83" y="288.00" width="7.48" height="1.06" fill="#edf8e0"/>
<rect x="115.25" y="288.00" width="7.48" height="1.06" fill="#aed2e6"/>
<rect x="122.67" y="288.00" width="7.48" height="1.06" fill="#a9cfe4"/>
<rect x="130.08" y="288.00" width="7.48" height="1.06" fill="#b2d5e7"/>
<rect x="48.50" y="289.00" width="7.48" height="1.06" fill="#fee699"/>
<rect x="55.92" y="289.00" width="7.48" height="1.06" fill="#fee699"/>
<rect x="63.33" y="289.00" width="7.48" height="1.06" fill="#fee79a"/>
<rect x="70.75" y="289.00" width="7.48" height="1.06" fill="#fff0a9"/>
<rect x="78.17" y="289.00" width="7.48" height="1.06" fill="#feefa7"/>
<rect x="85.58" y="289.00" width="7.48" height="1.06" fill="#feefa7"/>
<rect x="93.00" y="289.00" width="7.48" height="1.06" fill="#dff2f8"/>
<rect x="100.42" y="289.00" width="7.48" height="1.06" fill="#d4ebf4"/>
<rect x="107.83" y="289.00" width="7.48" height="1.06" fill="#e2f4f5"/>
<rect x="115.25" y="289.00" width="7.48" height="1.06" fill="#b3d6e8"/>
<rect x="122.67" y="289.00" width="7.48" height="1.06" fill="#c4e0ee"/>
<rect x="130.08" y="289.00" width="7.48" height="1.06" fill="#afd3e6"/>
<rect x="48.50" y="290.00" width="7.48" height="1.06" fill="#fee699"/>
<rect x="55.92" y="290.00" width="7.48" height="1.06" fill="#fee598"/>
<rect x="63.33" y="290.00" width="7.48" height="1.06" fill="#fee192"/>
<rect x="70.75" y="290.00" width="7.48" height="1.06" fill="#fff0a9"/>
<rect x="78.17" y="290.00" width="7.48" height="1.06" fill="#feeca3"/>
<rect x="85.58" y="290.00" width="7.48" height="1.06" fill="#fff0a9"/>
<rect x="93.00" y="290.00" width="7.48" height="1.06" fill="#d3ebf3"/>
<rect x="100.42" y="290.00" width="7.48" height="1.06" fill="#e0f3f7"/>
<rect x="107.83" y="290.00" width="7.48" height="1.06" fill="#d9eef5"/>
<rect x="115.25" y="290.00" width="7.48" height="1.06" fill="#98c4de"/>
<rect x="122.67" y="290.00" width="7.48" height="1.06" fill="#acd1e5"/>
<rect x="130.08" y="290.00" width="7.48" height="1.06" fill="#b7d8e9"/>
<rect x="48.50" y="291.00" width="7.48" height="1.06" fill="#fff1aa"/>
<rect x="55.92" y="291.00" width="7.48" height="1.06" fill="#fff5af"/>
<rect x="63.33" y="291.00" width="7.48" height="1.06" fill="#fff4ae"/>
<rect x="70.75" y="291.00" width="7.48" height="1.06" fill="#fffcba"/>
<rect x="78.17" y="291.00" width="7.48" height="1.06" fill="#fff7b3"/>
<rect x="85.58" y="291.00" width="7.48" height="1.06" fill="#fff6b1"/>
<rect x="93.00" y="291.00" width="7.48" height="1.06" fill="#d4ebf4"/>
<rect x="100.42" y="291.00" width="7.48" height="1.06" fill="#e1f3f6"/>
<rect x="107.83" y="291.00" width="7.48" height="1.06" fill="#d8eef5"/>
<rect x="115.25" y="291.00" width="7.48" height="1.06" fill="#9ec7e0"/>
<rect x="122.67" y="291.00" width="7.48" height="1.06" fill="#acd1e5"/>
<rect x="130.08" y="291.00" width="7.48" height="1.06" fill="#acd1e5"/>
<rect x="48.50" y="292.00" width="7.48" height="1.06" fill="#fee192"/>
<rect x="55.92" y="292.00" width="7.48" height="1.06" fill="#fee598"/>
<rect x="63.33" y="292.00" width="7.48" height="1.06" fill="#fee090"/>
<rect x="70.75" y="292.00" width="7.48" height="1.06" fill="#fee99d"/>
<rect x="78.17" y="292.00" width="7.48" height="1.06" fill="#feeea5"/>
<rect x="85.58" y="292.00" width="7.48" height="1.06" fill="#fff1a9"/>
<rect x="93.00" y="292.00" width="7.48" height="1.06" fill="#e4f5f0"/>
<rect x="100.42" y="292.00" width="7.48" height="1.06" fill="#e3f4f3"/>
<rect x="107.83" y="292.00" width="7.48" height="1.06" fill="#e7f6eb"/>
<rect x="115.25" y="292.00" width="7.48" height="1.06" fill="#c3e0ed"/>
<rect x="122.67" y="292.00" width="7.48" height="1.06" fill="#c9e4f0"/>
<rect x="130.08" y="292.00" width="7.48" height="1.06" fill="#c3e0ed"/>
<rect x="48.50" y="293.00" width="7.48" height="1.06" fill="#feeea5"/>
<rect x="55.92" y="293.00" width="7.48" height="1.06" fill="#feeba0"/>
<rect x="63.33" y="293.00" width="7.48" height="1.06" fill="#feea9f"/>
<rect x="70.75" y="293.00" width="7.48" height="1.06" fill="#fff3ad"/>
<rect x="78.17" y="293.00" width="7.48" height="1.06" fill="#fff9b6"/>
<rect x="85.58" y="293.00" width="7.48" height="1.06" fill="#fff7b3"/>
<rect x="93.00" y="293.00" width="7.48" height="1.06" fill="#e3f4f2"/>
<rect x="100.42" y="293.00" width="7.48" height="1.06" fill="#e5f5ee"/>
<rect x="107.83" y="293.00" width="7.48" height="1.06" fill="#d4ebf4"/>
<rect x="115.25" y="293.00" width="7.48" height="1.06" fill="#90beda"/>
<rect x="122.67" y="293.00" width="7.48" height="1.06" fill="#a0c9e0"/>
<rect x="130.08" y="293.00" width="7.48" height="1.06" fill="#a5cce2"/>
<rect x="48.50" y="294.00" width="7.48" height="1.06" fill="#fff0a9"/>
<rect x="55.92" y="294.00" width="7.48" height="1.06" fill="#fff0a8"/>
<rect x="63.33" y="294.00" width="7.48" height="1.06" fill="#feeba1"/>
<rect x="70.75" y="294.00" width="7.48" height="1.06" fill="#fff0a8"/>
<rect x="78.17" y="294.00" width="7.48" height="1.06" fill="#fff4ae"/>
<rect x="85.58" y="294.00" width="7.48" height="1.06" fill="#fff9b6"/>
<rect x="93.00" y="294.00" width="7.48" height="1.06" fill="#ddf1f7"/>
<rect x="100.42" y="294.00" width="7.48" height="1.06" fill="#e2f4f4"/>
<rect x="107.83" y="294.00" width="7.48" height="1.06" fill="#e2f4f4"/>
<rect x="115.25" y="294.00" width="7.48" height="1.06" fill="#acd1e5"/>
<rect x="122.67" y="294.00" width="7.48" height="1.06" fill="#aacfe4"/>
<rect x="130.08" y="294.00" width="7.48" height="1.06" fill="#a4cbe2"/>
<rect x="48.50" y="295.00" width="7.48" height="1.06" fill="#fee699"/>
<rect x="55.92" y="295.00" width="7.48" height="1.06" fill="#fee79b"/>
<rect x="63.33" y="295.00" width="7.48" height="1.06" fill="#fee090"/>
<rect x="70.75" y="295.00" width="7.48" height="1.06" fill="#fff4af"/>
<rect x="78.17" y="295.00" width="7.48" height="1.06" fill="#fff1a9"/>
<rect x="85.58" y="295.00" width="7.48" height="1.06" fill="#fff7b4"/>
<rect x="93.00" y="295.00" width="7.48" height="1.06" fill="#d9eef5"/>
<rect x="100.42" y="295.00" width="7.48" height="1.06" fill="#e0f3f7"/>
<rect x="107.83" y="295.00" width="7.48" height="1.06" fill="#d5ecf4"/>
<rect x="115.25" y="295.00" width="7.48" height="1.06" fill="#b1d4e7"/>
<rect x="122.67" y="295.00" width="7.48" height="1.06" fill="#a8cee3"/>
<rect x="130.08" y="295.00" width="7.48" height="1.06" fill="#9fc8e0"/>
<rect x="48.50" y="296.00" width="7.48" height="1.06" fill="#fedc8d"/>
<rect x="55.92" y="296.00" width="7.48" height="1.06" fill="#fee598"/>
<rect x="63.33" y="296.00" width="7.48" height="1.06" fill="#fee89d"/>
<rect x="70.75" y="296.00" width="7.48" height="1.06" fill="#fee99e"/>
<rect x="78.17" y="296.00" width="7.48" height="1.06" fill="#fee598"/>
<rect x="85.58" y="296.00" width="7.48" height="1.06" fill="#fee495"/>
<rect x="93.00" y="296.00" width="7.48" height="1.06" fill="#e3f4f2"/>
<rect x="100.42" y="296.00" width="7.48" height="1.06" fill="#e1f3f6"/>
<rect x="107.83" y="296.00" width="7.48" height="1.06" fill="#e5f5ef"/>
<rect x="115.25" y="296.00" width="7.48" height="1.06" fill="#b1d4e7"/>
<rect x="122.67" y="296.00" width="7.48" height="1.06" fill="#bddceb"/>
<rect x="130.08" y="296.00" width="7.48" height="1.06" fill="#c3e0ed"/>
<rect x="48.50" y="297.00" width="7.48" height="1.06" fill="#fee99d"/>
<rect x="55.92" y="297.00" width="7.48" height="1.06" fill="#fee79b"/>
<rect x="63.33" y="297.00" width="7.48" height="1.06" fill="#fee699"/>
<rect x="70.75" y="297.00" width="7.48" height="1.06" fill="#fff0a8"/>
<rect x="78.17" y="297.00" width="7.48" height="1.06" fill="#fff1a9"/>
<rect x="85.58" y="297.00" width="7.48" height="1.06" fill="#fff1aa"/>
<rect x="93.00" y="297.00" width="7.48" height="1.06" fill="#e2f4f4"/>
<rect x="100.42" y="297.00" width="7.48" height="1.06" fill="#dbf0f6"/>
<rect x="107.83" y="297.00" width="7.48" height="1.06" fill="#e6f5ee"/>
<rect x="115.25" y="297.00" width="7.48" height="1.06" fill="#b9daea"/>
<rect x="122.67" y="297.00" width="7.48" height="1.06" fill="#b5d7e8"/>
<rect x="130.08" y="297.00" width="7.48" height="1.06" fill="#b7d8e9"/>
<rect x="48.50" y="298.00" width="7.48" height="1.06" fill="#fee699"/>
<rect x="55.92" y="298.00" width="7.48" height="1.06" fill="#fee395"/>
<rect x="63.33" y="298.00" width="7.48" height="1.06" fill="#fee598"/>
<rect x="70.75" y="298.00" width="7.48" height="1.06" fill="#fff3ac"/>
<rect x="78.17" y="298.00" width="7.48" height="1.06" fill="#fff3ac"/>
<rect x="85.58" y="298.00" width="7.48" height="1.06" fill="#feeba0"/>
<rect x="93.00" y="298.00" width="7.48" height="1.06" fill="#e3f4f3"/>
<rect x="100.42" y="298.00" width="7.48" height="1.06" fill="#e5f5ef"/>
<rect x="107.83" y="298.00" width="7.48" height="1.06" fill="#e7f6ec"/>
<rect x="115.25" y="298.00" width="7.48" height="1.06" fill="#a9cfe4"/>
<rect x="122.67" y="298.00" width="7.48" height="1.06" fill="#bcdceb"/>
<rect x="130.08" y="298.00" width="7.48" height="1.06" fill="#a7cde3"/>
<rect x="48.50" y="299.00" width="7.48" height="1.06" fill="#fee497"/>
<rect x="55.92" y="299.00" width="7.48" height="1.06" fill="#fee598"/>
<rect x="63.33" y="299.00" width="7.48" height="1.06" fill="#fee394"/>
<rect x="70.75" y="299.00" width="7.48" height="1.06" fill="#fff8b4"/>
<rect x="78.17" y="299.00" width="7.48" height="1.06" fill="#fff5af"/>
<rect x="85.58" y="299.00" width="7.48" height="1.06" fill="#feefa6"/>
<rect x="93.00" y="299.00" width="7.48" height="1.06" fill="#e1f4f5"/>
<rect x="100.42" y="299.00" width="7.48" height="1.06" fill="#dff2f8"/>
<rect x="107.83" y="299.00" width="7.48" height="1.06" fill="#e0f3f7"/>
<rect x="115.25" y="299.00" width="7.48" height="1.06" fill="#c5e1ee"/>
<rect x="122.67" y="299.00" width="7.48" height="1.06" fill="#a2cae1"/>
<rect x="130.08" y="299.00" width="7.48" height="1.06" fill="#bbdaea"/>
<rect x="48.50" y="300.00" width="7.48" height="1.06" fill="#fee597"/>
<rect x="55.92" y="300.00" width="7.48" height="1.06" fill="#fee79a"/>
<rect x="63.33" y="300.00" width="7.48" height="1.06" fill="#fedf90"/>
<rect x="70.75" y="300.00" width="7.48" height="1.06" fill="#fff0a8"/>
<rect x="78.17" y="300.00" width="7.48" height="1.06" fill="#fff0a9"/>
<rect x="85.58" y="300.00" width="7.48" height="1.06" fill="#feefa7"/>
<rect x="93.00" y="300.00" width="7.48" height="1.06" fill="#dbf0f6"/>
<rect x="100.42" y="300.00" width="7.48" height="1.06" fill="#d8eef5"/>
<rect x="107.83" y="300.00" width="7.48" height="1.06" fill="#e1f3f6"/>
<rect x="115.25" y="300.00" width="7.48" height="1.06" fill="#a6cde3"/>
<rect x="122.67" y="300.00" width="7.48" height="1.06" fill="#b4d6e8"/>
<rect x="130.08" y="300.00" width="7.48" height="1.06" fill="#beddec"/>
<rect x="48.50" y="301.00" width="7.48" height="1.06" fill="#feeca3"/>
<rect x="55.92" y="301.00" width="7.48" height="1.06" fill="#fff0a8"/>
<rect x="63.33" y="301.00" width="7.48" height="1.06" fill="#fff1aa"/>
<rect x="70.75" y="301.00" width="7.48" height="1.06" fill="#fffbb9"/>
<rect x="78.17" y="301.00" width="7.48" height="1.06" fill="#fffdbd"/>
<rect x="85.58" y="301.00" width="7.48" height="1.06" fill="#fffbb9"/>
<rect x="93.00" y="301.00" width="7.48" height="1.06" fill="#e0f3f8"/>
<rect x="100.42" y="301.00" width="7.48" height="1.06" fill="#d7edf5"/>
<rect x="107.83" y="301.00" width="7.48" height="1.06" fill="#d5ecf4"/>
<rect x="115.25" y="301.00" width="7.48" height="1.06" fill="#a1c9e1"/>
<rect x="122.67" y="301.00" width="7.48" height="1.06" fill="#a3cbe2"/>
<rect x="130.08" y="301.00" width="7.48" height="1.06" fill="#9dc7df"/>
<rect x="48.50" y="302.00" width="7.48" height="1.06" fill="#feeca3"/>
<rect x="55.92" y="302.00" width="7.48" height="1.06" fill="#feea9f"/>
<rect x="63.33" y="302.00" width="7.48" height="1.06" fill="#fee699"/>
<rect x="70.75" y="302.00" width="7.48" height="1.06" fill="#fff4ae"/>
<rect x="78.17" y="302.00" width="7.48" height="1.06" fill="#fff5af"/>
<rect x="85.58" y="302.00" width="7.48" height="1.06" fill="#fff5b0"/>
<rect x="93.00" y="302.00" width="7.48" height="1.06" fill="#e0f3f8"/>
<rect x="100.42" y="302.00" width="7.48" height="1.06" fill="#e4f5f1"/>
<rect x="107.83" y="302.00" width="7.48" height="1.06" fill="#e3f4f2"/>
<rect x="115.25" y="302.00" width="7.48" height="1.06" fill="#93c1dc"/>
<rect x="122.67" y="302.00" width="7.48" height="1.06" fill="#95c2dd"/>
<rect x="130.08" y="302.00" width="7.48" height="1.06" fill="#a1cae1"/>
<rect x="48.50" y="303.00" width="7.48" height="1.06" fill="#feea9f"/>
<rect x="55.92" y="303.00" width="7.48" height="1.06" fill="#feeea6"/>
<rect x="63.33" y="303.00" width="7.48" height="1.06" fill="#fee79b"/>
<rect x="70.75" y="303.00" width="7.48" height="1.06" fill="#fff8b5"/>
<rect x="78.17" y="303.00" width="7.48" height="1.06" fill="#fffab7"/>
<rect x="85.58" y="303.00" width="7.48" height="1.06" fill="#fff7b3"/>
<rect x="93.00" y="303.00" width="7.48" height="1.06" fill="#ecf7e3"/>
<rect x="100.42" y="303.00" width="7.48" height="1.06" fill="#d5ecf4"/>
<rect x="107.83" y="303.00" width="7.48" height="1.06" fill="#dbf0f6"/>
<rect x="115.25" y="303.00" width="7.48" height="1.06" fill="#a8cee3"/>
<rect x="122.67" y="303.00" width="7.48" height="1.06" fill="#a3cbe2"/>
<rect x="130.08" y="303.00" width="7.48" height="1.06" fill="#aed2e6"/>
<rect x="48.50" y="304.00" width="7.48" height="1.06" fill="#fee698"/>
<rect x="55.92" y="304.00" width="7.48" height="1.06" fill="#feea9f"/>
<rect x="63.33" y="304.00" width="7.48" height="1.06" fill="#fee293"/>
<rect x="70.75" y="304.00" width="7.48" height="1.06" fill="#fff0a9"/>
<rect x="78.17" y="304.00" width="7.48" height="1.06" fill="#fff2ab"/>
<rect x="85.58" y="304.00" width="7.48" height="1.06" fill="#fff4af"/>
<rect x="93.00" y="304.00" width="7.48" height="1.06" fill="#e1f4f5"/>
<rect x="100.42" y="304.00" width="7.48" height="1.06" fill="#d4ebf4"/>
<rect x="107.83" y="304.00" width="7.48" height="1.06" fill="#e0f3f7"/>
<rect x="115.25" y="304.00" width="7.48" height="1.06" fill="#a3cbe2"/>
<rect x="122.67" y="304.00" width="7.48" height="1.06" fill="#a4cce2"/>
<rect x="130.08" y="304.00" width="7.48" height="1.06" fill="#badaea"/>
<rect x="48.50" y="305.00" width="7.48" height="1.06" fill="#fee89c"/>
<rect x="55.92" y="305.00" width="7.48" height="1.06" fill="#feea9f"/>
<rect x="63.33" y="305.00" width="7.48" height="1.06" fill="#fee699"/>
<rect x="70.75" y="305.00" width="7.48" height="1.06" fill="#fff2ac"/>
<rect x="78.17" y="305.00" width="7.48" height="1.06" fill="#fff4ae"/>
<rect x="85.58" y="305.00" width="7.48" height="1.06" fill="#fff1a9"/>
<rect x="93.00" y="305.00" width="7.48" height="1.06" fill="#e1f3f6"/>
<rect x="100.42" y="305.00" width="7.48" height="1.06" fill="#e2f4f4"/>
<rect x="107.83" y="305.00" width="7.48" height="1.06" fill="#e1f3f7"/>
<rect x="115.25" y="305.00" width="7.48" height="1.06" fill="#b0d3e6"/>
<rect x="122.67" y="305.00" width="7.48" height="1.06" fill="#abd0e5"/>
<rect x="130.08" y="305.00" width="7.48" height="1.06" fill="#b0d4e7"/>
<rect x="48.50" y="306.00" width="7.48" height="1.06" fill="#fee395"/>
<rect x="55.92" y="306.00" width="7.48" height="1.06" fill="#fee394"/>
<rect x="63.33" y="306.00" width="7.48" height="1.06" fill="#fee79b"/>
<rect x="70.75" y="306.00" width="7.48" height="1.06" fill="#feeba1"/>
<rect x="78.17" y="306.00" width="7.48" height="1.06" fill="#feeda4"/>
<rect x="85.58" y="306.00" width="7.48" height="1.06" fill="#fff0a8"/>
<rect x="93.00" y="306.00" width="7.48" height="1.06" fill="#e0f3f8"/>
<rect x="100.42" y="306.00" width="7.48" height="1.06" fill="#e3f4f2"/>
<rect x="107.83" y="306.00" width="7.48" height="1.06" fill="#e2f4f4"/>
<rect x="115.25" y="306.00" width="7.48" height="1.06" fill="#bddceb"/>
<rect x="122.67" y="306.00" width="7.48" height="1.06" fill="#b4d6e8"/>
<rect x="130.08" y="306.00" width="7.48" height="1.06" fill="#c1dfed"/>
<rect x="48.50" y="307.00" width="7.48" height="1.06" fill="#fee699"/>
<rect x="55.92" y="307.00" width="7.48" height="1.06" fill="#fee192"/>
<rect x="63.33" y="307.00" width="7.48" height="1.06" fill="#feeca2"/>
<rect x="70.75" y="307.00" width="7.48" height="1.06" fill="#feefa7"/>
<rect x="78.17" y="307.00" width="7.48" height="1.06" fill="#feea9f"/>
<rect x="85.58" y="307.00" width="7.48" height="1.06" fill="#fff3ad"/>
<rect x="93.00" y="307.00" width="7.48" height="1.06" fill="#f2fad8"/>
<rect x="100.42" y="307.00" width="7.48" height="1.06" fill="#f0f9da"/>
<rect x="107.83" y="307.00" width="7.48" height="1.06" fill="#e1f4f5"/>
<rect x="115.25" y="307.00" width="7.48" height="1.06" fill="#c2dfed"/>
<rect x="122.67" y="307.00" width="7.48" height="1.06" fill="#c9e4ef"/>
<rect x="130.08" y="307.00" width="7.48" height="1.06" fill="#beddec"/>
<rect x="48.50" y="308.00" width="7.48" height="1.06" fill="#fee598"/>
<rect x="55.92" y="308.00" width="7.48" height="1.06" fill="#fee89c"/>
<rect x="63.33" y="308.00" width="7.48" height="1.06" fill="#feeca1"/>
<rect x="70.75" y="308.00" width="7.48" height="1.06" fill="#fff1aa"/>
<rect x="78.17" y="308.00" width="7.48" height="1.06" fill="#fff2ac"/>
<rect x="85.58" y="308.00" width="7.48" height="1.06" fill="#fff4af"/>
<rect x="93.00" y="308.00" width="7.48" height="1.06" fill="#d1e9f2"/>
<rect x="100.42" y="308.00" width="7.48" height="1.06" fill="#d3ebf3"/>
<rect x="107.83" y="308.00" width="7.48" height="1.06" fill="#d2eaf3"/>
<rect x="115.25" y="308.00" width="7.48" height="1.06" fill="#8fbdda"/>
<rect x="122.67" y="308.00" width="7.48" height="1.06" fill="#a3cbe2"/>
<rect x="130.08" y="308.00" width="7.48" height="1.06" fill="#91bfdb"/>
<rect x="48.50" y="309.00" width="7.48" height="1.06" fill="#fee79b"/>
<rect x="55.92" y="309.00" width="7.48" height="1.06" fill="#fee89c"/>
<rect x="63.33" y="309.00" width="7.48" height="1.06" fill="#feeea5"/>
<rect x="70.75" y="309.00" width="7.48" height="1.06" fill="#fffdbc"/>
<rect x="78.17" y="309.00" width="7.48" height="1.06" fill="#fffebe"/>
<rect x="85.58" y="309.00" width="7.48" height="1.06" fill="#fffdbc"/>
<rect x="93.00" y="309.00" width="7.48" height="1.06" fill="#d0e9f2"/>
<rect x="100.42" y="309.00" width="7.48" height="1.06" fill="#d3eaf3"/>
<rect x="107.83" y="309.00" width="7.48" height="1.06" fill="#d7edf5"/>
<rect x="115.25" y="309.00" width="7.48" height="1.06" fill="#9ac5de"/>
<rect x="122.67" y="309.00" width="7.48" height="1.06" fill="#9ac5de"/>
<rect x="130.08" y="309.00" width="7.48" height="1.06" fill="#97c3dd"/>
<rect x="48.50" y="310.00" width="7.48" height="1.06" fill="#feea9f"/>
<rect x="55.92" y="310.00" width="7.48" height="1.06" fill="#fff4ae"/>
<rect x="63.33" y="310.00" width="7.48" height="1.06" fill="#fee79a"/>
<rect x="70.75" y="310.00" width="7.48" height="1.06" fill="#fff9b6"/>
<rect x="78.17" y="310.00" width="7.48" height="1.06" fill="#fff7b3"/>
<rect x="85.58" y="310.00" width="7.48" height="1.06" fill="#fdfec2"/>
<rect x="93.00" y="310.00" width="7.48" height="1.06" fill="#d8eef5"/>
<rect x="100.42" y="310.00" width="7.48" height="1.06" fill="#e0f3f7"/>
<rect x="107.83" y="310.00" width="7.48" height="1.06" fill="#e1f3f7"/>
<rect x="115.25" y="310.00" width="7.48" height="1.06" fill="#a1c9e1"/>
<rect x="122.67" y="310.00" width="7.48" height="1.06" fill="#a7cee3"/>
<rect x="130.08" y="310.00" width="7.48" height="1.06" fill="#95c2dd"/>
<rect x="48.50" y="311.00" width="7.48" height="1.06" fill="#fee294"/>
<rect x="55.92" y="311.00" width="7.48" height="1.06" fill="#fee89c"/>
<rect x="63.33" y="311.00" width="7.48" height="1.06" fill="#fee294"/>
<rect x="70.75" y="311.00" width="7.48" height="1.06" fill="#fee99e"/>
<rect x="78.17" y="311.00" width="7.48" height="1.06" fill="#fff1aa"/>
<rect x="85.58" y="311.00" width="7.48" height="1.06" fill="#feeda4"/>
<rect x="93.00" y="311.00" width="7.48" height="1.06" fill="#e8f6e9"/>
<rect x="100.42" y="311.00" width="7.48" height="1.06" fill="#eef8df"/>
<rect x="107.83" y="311.00" width="7.48" height="1.06" fill="#eef8de"/>
<rect x="115.25" y="311.00" width="7.48" height="1.06" fill="#b6d8e9"/>
<rect x="122.67" y="311.00" width="7.48" height="1.06" fill="#c5e1ee"/>
<rect x="130.08" y="311.00" width="7.48" height="1.06" fill="#c3e0ed"/>
<rect x="48.50" y="312.00" width="7.48" height="1.06" fill="#fee99d"/>
<rect x="55.92" y="312.00" width="7.48" height="1.06" fill="#fee597"/>
<rect x="63.33" y="312.00" width="7.48" height="1.06" fill="#fedc8d"/>
<rect x="70.75" y="312.00" width="7.48" height="1.06" fill="#fff3ad"/>
<rect x="78.17" y="312.00" width="7.48" height="1.06" fill="#fff5b0"/>
<rect x="85.58" y="312.00" width="7.48" height="1.06" fill="#fff0a9"/>
<rect x="93.00" y="312.00" width="7.48" height="1.06" fill="#e1f4f6"/>
<rect x="100.42" y="312.00" width="7.48" height="1.06" fill="#e2f4f4"/>
<rect x="107.83" y="312.00" width="7.48" height="1.06" fill="#e4f5f0"/>
<rect x="115.25" y="312.00" width="7.48" height="1.06" fill="#bbdaea"/>
<rect x="122.67" y="312.00" width="7.48" height="1.06" fill="#c4e1ee"/>
<rect x="130.08" y="312.00" width="7.48" height="1.06" fill="#acd1e5"/>
<rect x="48.50" y="313.00" width="7.48" height="1.06" fill="#fdc37c"/>
<rect x="55.92" y="313.00" width="7.48" height="1.06" fill="#fda96c"/>
<rect x="63.33" y="313.00" width="7.48" height="1.06" fill="#fdc47d"/>
<rect x="70.75" y="313.00" width="7.48" height="1.06" fill="#fdac6d"/>
<rect x="78.17" y="313.00" width="7.48" height="1.06" fill="#fdb976"/>
<rect x="85.58" y="313.00" width="7.48" height="1.06" fill="#fdc17b"/>
<rect x="93.00" y="313.00" width="7.48" height="1.06" fill="#aed2e6"/>
<rect x="100.42" y="313.00" width="7.48" height="1.06" fill="#9ac5de"/>
<rect x="107.83" y="313.00" width="7.48" height="1.06" fill="#a9cfe4"/>
<rect x="115.25" y="313.00" width="7.48" height="1.06" fill="#8cbad8"/>
<rect x="122.67" y="313.00" width="7.48" height="1.06" fill="#8ebcd9"/>
<rect x="130.08" y="313.00" width="7.48" height="1.06" fill="#89b7d7"/>
<rect x="48.50" y="314.00" width="7.48" height="1.06" fill="#fdbb78"/>
<rect x="55.92" y="314.00" width="7.48" height="1.06" fill="#fdc17c"/>
<rect x="63.33" y="314.00" width="7.48" height="1.06" fill="#fdbf7a"/>
<rect x="70.75" y="314.00" width="7.48" height="1.06" fill="#fdbc78"/>
<rect x="78.17" y="314.00" width="7.48" height="1.06" fill="#fdc47e"/>
<rect x="85.58" y="314.00" width="7.48" height="1.06" fill="#fdcb82"/>
<rect x="93.00" y="314.00" width="7.48" height="1.06" fill="#a6cde3"/>
<rect x="100.42" y="314.00" width="7.48" height="1.06" fill="#aed2e6"/>
<rect x="107.83" y="314.00" width="7.48" height="1.06" fill="#9fc8e0"/>
<rect x="115.25" y="314.00" width="7.48" height="1.06" fill="#8fbdda"/>
<rect x="122.67" y="314.00" width="7.48" height="1.06" fill="#98c3dd"/>
<rect x="130.08" y="314.00" width="7.48" height="1.06" fill="#8ab8d7"/>
<rect x="48.50" y="315.00" width="7.48" height="1.06" fill="#fffdbd"/>
<rect x="55.92" y="315.00" width="7.48" height="1.06" fill="#fff9b6"/>
<rect x="63.33" y="315.00" width="7.48" height="1.06" fill="#fff9b6"/>
<rect x="70.75" y="315.00" width="7.48" height="1.06" fill="#fffcbb"/>
<rect x="78.17" y="315.00" width="7.48" height="1.06" fill="#fff3ad"/>
<rect x="85.58" y="315.00" width="7.48" height="1.06" fill="#fffab7"/>
<rect x="93.00" y="315.00" width="7.48" height="1.06" fill="#f6fbd0"/>
<rect x="100.42" y="315.00" width="7.48" height="1.06" fill="#feffc1"/>
<rect x="107.83" y="315.00" width="7.48" height="1.06" fill="#fbfdc6"/>
<rect x="115.25" y="315.00" width="7.48" height="1.06" fill="#7caad0"/>
<rect x="122.67" y="315.00" width="7.48" height="1.06" fill="#86b4d5"/>
<rect x="130.08" y="315.00" width="7.48" height="1.06" fill="#77a6ce"/>
<rect x="48.50" y="316.00" width="7.48" height="1.06" fill="#feeda4"/>
<rect x="55.92" y="316.00" width="7.48" height="1.06" fill="#fff6b1"/>
<rect x="63.33" y="316.00" width="7.48" height="1.06" fill="#fff7b3"/>
<rect x="70.75" y="316.00" width="7.48" height="1.06" fill="#fff2ab"/>
<rect x="78.17" y="316.00" width="7.48" height="1.06" fill="#fff0a9"/>
<rect x="85.58" y="316.00" width="7.48" height="1.06" fill="#fff5b0"/>
<rect x="93.00" y="316.00" width="7.48" height="1.06" fill="#fffbba"/>
<rect x="100.42" y="316.00" width="7.48" height="1.06" fill="#fffebe"/>
<rect x="107.83" y="316.00" width="7.48" height="1.06" fill="#fffab8"/>
<rect x="115.25" y="316.00" width="7.48" height="1.06" fill="#7aa9cf"/>
<rect x="122.67" y="316.00" width="7.48" height="1.06" fill="#6f9eca"/>
<rect x="130.08" y="316.00" width="7.48" height="1.06" fill="#7faed2"/>
<rect x="48.50" y="317.00" width="7.48" height="1.06" fill="#fffebd"/>
<rect x="55.92" y="317.00" width="7.48" height="1.06" fill="#fffbb9"/>
<rect x="63.33" y="317.00" width="7.48" height="1.06" fill="#fffab8"/>
<rect x="70.75" y="317.00" width="7.48" height="1.06" fill="#fffebe"/>
<rect x="78.17" y="317.00" width="7.48" height="1.06" fill="#fffab8"/>
<rect x="85.58" y="317.00" width="7.48" height="1.06" fill="#fff9b5"/>
<rect x="93.00" y="317.00" width="7.48" height="1.06" fill="#f3fad5"/>
<rect x="100.42" y="317.00" width="7.48" height="1.06" fill="#f4fbd3"/>
<rect x="107.83" y="317.00" width="7.48" height="1.06" fill="#fdfec3"/>
<rect x="115.25" y="317.00" width="7.48" height="1.06" fill="#7faed2"/>
<rect x="122.67" y="317.00" width="7.48" height="1.06" fill="#7dabd1"/>
<rect x="130.08" y="317.00" width="7.48" height="1.06" fill="#6f9ec9"/>
<rect x="48.50" y="318.00" width="7.48" height="1.06" fill="#fffab7"/>
<rect x="55.92" y="318.00" width="7.48" height="1.06" fill="#fff0a8"/>
<rect x="63.33" y="318.00" width="7.48" height="1.06" fill="#fffcba"/>
<rect x="70.75" y="318.00" width="7.48" height="1.06" fill="#fff1aa"/>
<rect x="78.17" y="318.00" width="7.48" height="1.06" fill="#fff5b0"/>
<rect x="85.58" y="318.00" width="7.48" height="1.06" fill="#fff1aa"/>
<rect x="93.00" y="318.00" width="7.48" height="1.06" fill="#ffffc0"/>
<rect x="100.42" y="318.00" width="7.48" height="1.06" fill="#fcfec5"/>
<rect x="107.83" y="318.00" width="7.48" height="1.06" fill="#fafdc9"/>
<rect x="115.25" y="318.00" width="7.48" height="1.06" fill="#8ab8d7"/>
<rect x="122.67" y="318.00" width="7.48" height="1.06" fill="#97c3dd"/>
<rect x="130.08" y="318.00" width="7.48" height="1.06" fill="#8ebcd9"/>
<rect x="48.50" y="319.00" width="7.48" height="1.06" fill="#fffebe"/>
<rect x="55.92" y="319.00" width="7.48" height="1.06" fill="#f8fccc"/>
<rect x="63.33" y="319.00" width="7.48" height="1.06" fill="#fff7b3"/>
<rect x="70.75" y="319.00" width="7.48" height="1.06" fill="#fffab7"/>
<rect x="78.17" y="319.00" width="7.48" height="1.06" fill="#fff3ac"/>
<rect x="85.58" y="319.00" width="7.48" height="1.06" fill="#fff4ae"/>
<rect x="93.00" y="319.00" width="7.48" height="1.06" fill="#fff6b1"/>
<rect x="100.42" y="319.00" width="7.48" height="1.06" fill="#fff4ae"/>
<rect x="107.83" y="319.00" width="7.48" height="1.06" fill="#fff5af"/>
<rect x="115.25" y="319.00" width="7.48" height="1.06" fill="#7dacd1"/>
<rect x="122.67" y="319.00" width="7.48" height="1.06" fill="#7aa9cf"/>
<rect x="130.08" y="319.00" width="7.48" height="1.06" fill="#84b2d4"/>
<rect x="48.50" y="320.00" width="7.48" height="1.06" fill="#fffcbb"/>
<rect x="55.92" y="320.00" width="7.48" height="1.06" fill="#fff9b5"/>
<rect x="63.33" y="320.00" width="7.48" height="1.06" fill="#fff2ab"/>
<rect x="70.75" y="320.00" width="7.48" height="1.06" fill="#fffcba"/>
<rect x="78.17" y="320.00" width="7.48" height="1.06" fill="#fff3ac"/>
<rect x="85.58" y="320.00" width="7.48" height="1.06" fill="#fff3ad"/>
<rect x="93.00" y="320.00" width="7.48" height="1.06" fill="#fff7b3"/>
<rect x="100.42" y="320.00" width="7.48" height="1.06" fill="#fff1a9"/>
<rect x="107.83" y="320.00" width="7.48" height="1.06" fill="#fffab8"/>
<rect x="115.25" y="320.00" width="7.48" height="1.06" fill="#84b3d4"/>
<rect x="122.67" y="320.00" width="7.48" height="1.06" fill="#79a7cf"/>
<rect x="130.08" y="320.00" width="7.48" height="1.06" fill="#81afd3"/>
<rect x="48.50" y="321.00" width="7.48" height="1.06" fill="#fff3ad"/>
<rect x="55.92" y="321.00" width="7.48" height="1.06" fill="#feeea5"/>
<rect x="63.33" y="321.00" width="7.48" height="1.06" fill="#feeea6"/>
<rect x="70.75" y="321.00" width="7.48" height="1.06" fill="#fff1aa"/>
<rect x="78.17" y="321.00" width="7.48" height="1.06" fill="#fff1aa"/>
<rect x="85.58" y="321.00" width="7.48" height="1.06" fill="#fff5b0"/>
<rect x="93.00" y="321.00" width="7.48" height="1.06" fill="#fffdbb"/>
<rect x="100.42" y="321.00" width="7.48" height="1.06" fill="#feffc0"/>
<rect x="107.83" y="321.00" width="7.48" height="1.06" fill="#fffebe"/>
<rect x="115.25" y="321.00" width="7.48" height="1.06" fill="#81afd3"/>
<rect x="122.67" y="321.00" width="7.48" height="1.06" fill="#88b6d6"/>
<rect x="130.08" y="321.00" width="7.48" height="1.06" fill="#76a5cd"/>
<rect x="48.50" y="322.00" width="7.48" height="1.06" fill="#fffbb9"/>
<rect x="55.92" y="322.00" width="7.48" height="1.06" fill="#fff8b5"/>
<rect x="63.33" y="322.00" width="7.48" height="1.06" fill="#fffbb9"/>
<rect x="70.75" y="322.00" width="7.48" height="1.06" fill="#fff8b4"/>
<rect x="78.17" y="322.00" width="7.48" height="1.06" fill="#fffbb9"/>
<rect x="85.58" y="322.00" width="7.48" height="1.06" fill="#fff4af"/>
<rect x="93.00" y="322.00" width="7.48" height="1.06" fill="#f9fdc9"/>
<rect x="100.42" y="322.00" width="7.48" height="1.06" fill="#fffebe"/>
<rect x="107.83" y="322.00" width="7.48" height="1.06" fill="#fffebd"/>
<rect x="115.25" y="322.00" width="7.48" height="1.06" fill="#84b2d4"/>
<rect x="122.67" y="322.00" width="7.48" height="1.06" fill="#75a4cd"/>
<rect x="130.08" y="322.00" width="7.48" height="1.06" fill="#6998c7"/>
<rect x="48.50" y="323.00" width="7.48" height="1.06" fill="#fff2ac"/>
<rect x="55.92" y="323.00" width="7.48" height="1.06" fill="#fff4ae"/>
<rect x="63.33" y="323.00" width="7.48" height="1.06" fill="#fff7b3"/>
<rect x="70.75" y="323.00" width="7.48" height="1.06" fill="#fff4af"/>
<rect x="78.17" y="323.00" width="7.48" height="1.06" fill="#fff5b0"/>
<rect x="85.58" y="323.00" width="7.48" height="1.06" fill="#feeda3"/>
<rect x="93.00" y="323.00" width="7.48" height="1.06" fill="#fffcba"/>
<rect x="100.42" y="323.00" width="7.48" height="1.06" fill="#fffdbc"/>
<rect x="107.83" y="323.00" width="7.48" height="1.06" fill="#fff8b5"/>
<rect x="115.25" y="323.00" width="7.48" height="1.06" fill="#7dacd1"/>
<rect x="122.67" y="323.00" width="7.48" height="1.06" fill="#8bb9d8"/>
<rect x="130.08" y="323.00" width="7.48" height="1.06" fill="#78a7ce"/>
<rect x="48.50" y="324.00" width="7.48" height="1.06" fill="#fffdbc"/>
<rect x="55.92" y="324.00" width="7.48" height="1.06" fill="#fbfdc6"/>
<rect x="63.33" y="324.00" width="7.48" height="1.06" fill="#fffbba"/>
<rect x="70.75" y="324.00" width="7.48" height="1.06" fill="#ffffbf"/>
<rect x="78.17" y="324.00" width="7.48" height="1.06" fill="#fdfec2"/>
<rect x="85.58" y="324.00" width="7.48" height="1.06" fill="#fbfdc7"/>
<rect x="93.00" y="324.00" width="7.48" height="1.06" fill="#f8fccc"/>
<rect x="100.42" y="324.00" width="7.48" height="1.06" fill="#f2fad7"/>
<rect x="107.83" y="324.00" width="7.48" height="1.06" fill="#f6fbd0"/>
<rect x="115.25" y="324.00" width="7.48" height="1.06" fill="#6291c3"/>
<rect x="122.67" y="324.00" width="7.48" height="1.06" fill="#6e9dc9"/>
<rect x="130.08" y="324.00" width="7.48" height="1.06" fill="#6392c3"/>
<rect x="48.50" y="325.00" width="7.48" height="1.06" fill="#fff8b4"/>
<rect x="55.92" y="325.00" width="7.48" height="1.06" fill="#fff5b0"/>
<rect x="63.33" y="325.00" width="7.48" height="1.06" fill="#fff4ae"/>
<rect x="70.75" y="325.00" width="7.48" height="1.06" fill="#fff6b2"/>
<rect x="78.17" y="325.00" width="7.48" height="1.06" fill="#fff2ab"/>
<rect x="85.58" y="325.00" width="7.48" height="1.06" fill="#fff7b2"/>
<rect x="93.00" y="325.00" width="7.48" height="1.06" fill="#fffdbd"/>
<rect x="100.42" y="325.00" width="7.48" height="1.06" fill="#fdfec4"/>
<rect x="107.83" y="325.00" width="7.48" height="1.06" fill="#fffab7"/>
<rect x="115.25" y="325.00" width="7.48" height="1.06" fill="#7dacd1"/>
<rect x="122.67" y="325.00" width="7.48" height="1.06" fill="#7cabd0"/>
<rect x="130.08" y="325.00" width="7.48" height="1.06" fill="#6a99c7"/>
<rect x="48.50" y="326.00" width="7.48" height="1.06" fill="#fffdbc"/>
<rect x="55.92" y="326.00" width="7.48" height="1.06" fill="#fcfec5"/>
<rect x="63.33" y="326.00" width="7.48" height="1.06" fill="#fffebe"/>
<rect x="70.75" y="326.00" width="7.48" height="1.06" fill="#fafdc7"/>
<rect x="78.17" y="326.00" width="7.48" height="1.06" fill="#fcfec5"/>
<rect x="85.58" y="326.00" width="7.48" height="1.06" fill="#fffdbc"/>
<rect x="93.00" y="326.00" width="7.48" height="1.06" fill="#f3fad5"/>
<rect x="100.42" y="326.00" width="7.48" height="1.06" fill="#f5fbd2"/>
<rect x="107.83" y="326.00" width="7.48" height="1.06" fill="#f4fbd3"/>
<rect x="115.25" y="326.00" width="7.48" height="1.06" fill="#6e9dc9"/>
<rect x="122.67" y="326.00" width="7.48" height="1.06" fill="#6a99c7"/>
<rect x="130.08" y="326.00" width="7.48" height="1.06" fill="#5f8ec1"/>
<rect x="48.50" y="327.00" width="7.48" height="1.06" fill="#fffab8"/>
<rect x="55.92" y="327.00" width="7.48" height="1.06" fill="#fff4ae"/>
<rect x="63.33" y="327.00" width="7.48" height="1.06" fill="#fff1a9"/>
<rect x="70.75" y="327.00" width="7.48" height="1.06" fill="#fff1aa"/>
<rect x="78.17" y="327.00" width="7.48" height="1.06" fill="#fff6b1"/>
<rect x="85.58" y="327.00" width="7.48" height="1.06" fill="#fff6b1"/>
<rect x="93.00" y="327.00" width="7.48" height="1.06" fill="#fff9b6"/>
<rect x="100.42" y="327.00" width="7.48" height="1.06" fill="#ffffc0"/>
<rect x="107.83" y="327.00" width="7.48" height="1.06" fill="#fff5b0"/>
<rect x="115.25" y="327.00" width="7.48" height="1.06" fill="#87b6d6"/>
<rect x="122.67" y="327.00" width="7.48" height="1.06" fill="#80aed2"/>
<rect x="130.08" y="327.00" width="7.48" height="1.06" fill="#6998c7"/>
<rect x="48.50" y="328.00" width="7.48" height="1.06" fill="#fffdbb"/>
<rect x="55.92" y="328.00" width="7.48" height="1.06" fill="#fff7b2"/>
<rect x="63.33" y="328.00" width="7.48" height="1.06" fill="#fffebe"/>
<rect x="70.75" y="328.00" width="7.48" height="1.06" fill="#fffcba"/>
<rect x="78.17" y="328.00" width="7.48" height="1.06" fill="#fffcbb"/>
<rect x="85.58" y="328.00" width="7.48" height="1.06" fill="#ffffc0"/>
<rect x="93.00" y="328.00" width="7.48" height="1.06" fill="#eef8df"/>
<rect x="100.42" y="328.00" width="7.48" height="1.06" fill="#f8fccc"/>
<rect x="107.83" y="328.00" width="7.48" height="1.06" fill="#f6fccf"/>
<rect x="115.25" y="328.00" width="7.48" height="1.06" fill="#6594c5"/>
<rect x="122.67" y="328.00" width="7.48" height="1.06" fill="#6e9dc9"/>
<rect x="130.08" y="328.00" width="7.48" height="1.06" fill="#6695c5"/>
<rect x="48.50" y="329.00" width="7.48" height="1.06" fill="#fff9b6"/>
<rect x="55.92" y="329.00" width="7.48" height="1.06" fill="#fff9b7"/>
<rect x="63.33" y="329.00" width="7.48" height="1.06" fill="#fffcba"/>
<rect x="70.75" y="329.00" width="7.48" height="1.06" fill="#fff9b5"/>
<rect x="78.17" y="329.00" width="7.48" height="1.06" fill="#fff9b6"/>
<rect x="85.58" y="329.00" width="7.48" height="1.06" fill="#feffc0"/>
<rect x="93.00" y="329.00" width="7.48" height="1.06" fill="#f8fccd"/>
<rect x="100.42" y="329.00" width="7.48" height="1.06" fill="#f7fccd"/>
<rect x="107.83" y="329.00" width="7.48" height="1.06" fill="#f3fad5"/>
<rect x="115.25" y="329.00" width="7.48" height="1.06" fill="#6897c6"/>
<rect x="122.67" y="329.00" width="7.48" height="1.06" fill="#73a2cc"/>
<rect x="130.08" y="329.00" width="7.48" height="1.06" fill="#7dabd1"/>
<rect x="48.50" y="330.00" width="7.48" height="1.06" fill="#fffdbb"/>
<rect x="55.92" y="330.00" width="7.48" height="1.06" fill="#fff6b1"/>
<rect x="63.33" y="330.00" width="7.48" height="1.06" fill="#fff6b2"/>
<rect x="70.75" y="330.00" width="7.48" height="1.06" fill="#fff6b2"/>
<rect x="78.17" y="330.00" width="7.48" height="1.06" fill="#fffab7"/>
<rect x="85.58" y="330.00" width="7.48" height="1.06" fill="#fff5b0"/>
<rect x="93.00" y="330.00" width="7.48" height="1.06" fill="#f6fbd0"/>
<rect x="100.42" y="330.00" width="7.48" height="1.06" fill="#f8fccc"/>
<rect x="107.83" y="330.00" width="7.48" height="1.06" fill="#fdfec2"/>
<rect x="115.25" y="330.00" width="7.48" height="1.06" fill="#7baad0"/>
<rect x="122.67" y="330.00" width="7.48" height="1.06" fill="#7dabd1"/>
<rect x="130.08" y="330.00" width="7.48" height="1.06" fill="#7aa9cf"/>
<rect x="48.50" y="331.00" width="7.48" height="1.06" fill="#fff3ad"/>
<rect x="55.92" y="331.00" width="7.48" height="1.06" fill="#fff1a9"/>
<rect x="63.33" y="331.00" width="7.48" height="1.06" fill="#fff2ab"/>
<rect x="70.75" y="331.00" width="7.48" height="1.06" fill="#fff8b5"/>
<rect x="78.17" y="331.00" width="7.48" height="1.06" fill="#fff7b3"/>
<rect x="85.58" y="331.00" width="7.48" height="1.06" fill="#fff8b5"/>
<rect x="93.00" y="331.00" width="7.48" height="1.06" fill="#fffbb9"/>
<rect x="100.42" y="331.00" width="7.48" height="1.06" fill="#feffc0"/>
<rect x="107.83" y="331.00" width="7.48" height="1.06" fill="#feffc1"/>
<rect x="115.25" y="331.00" width="7.48" height="1.06" fill="#7caad0"/>
<rect x="122.67" y="331.00" width="7.48" height="1.06" fill="#73a2cc"/>
<rect x="130.08" y="331.00" width="7.48" height="1.06" fill="#72a1cb"/>
<rect x="48.50" y="332.00" width="7.48" height="1.06" fill="#fff6b2"/>
<rect x="55.92" y="332.00" width="7.48" height="1.06" fill="#fffebe"/>
<rect x="63.33" y="332.00" width="7.48" height="1.06" fill="#fffdbc"/>
<rect x="70.75" y="332.00" width="7.48" height="1.06" fill="#fff4ae"/>
<rect x="78.17" y="332.00" width="7.48" height="1.06" fill="#fffbb8"/>
<rect x="85.58" y="332.00" width="7.48" height="1.06" fill="#fff3ac"/>
<rect x="93.00" y="332.00" width="7.48" height="1.06" fill="#f9fdca"/>
<rect x="100.42" y="332.00" width="7.48" height="1.06" fill="#eef8de"/>
<rect x="107.83" y="332.00" width="7.48" height="1.06" fill="#f3fbd4"/>
<rect x="115.25" y="332.00" width="7.48" height="1.06" fill="#6e9dc9"/>
<rect x="122.67" y="332.00" width="7.48" height="1.06" fill="#6d9cc9"/>
<rect x="130.08" y="332.00" width="7.48" height="1.06" fill="#74a3cc"/>
<rect x="48.50" y="333.00" width="7.48" height="1.06" fill="#fffdbc"/>
<rect x="55.92" y="333.00" width="7.48" height="1.06" fill="#fff4ae"/>
<rect x="63.33" y="333.00" width="7.48" height="1.06" fill="#fff5b0"/>
<rect x="70.75" y="333.00" width="7.48" height="1.06" fill="#fffcbb"/>
<rect x="78.17" y="333.00" width="7.48" height="1.06" fill="#fffab7"/>
<rect x="85.58" y="333.00" width="7.48" height="1.06" fill="#fff9b6"/>
<rect x="93.00" y="333.00" width="7.48" height="1.06" fill="#fffab8"/>
<rect x="100.42" y="333.00" width="7.48" height="1.06" fill="#fcfec4"/>
<rect x="107.83" y="333.00" width="7.48" height="1.06" fill="#ffffc0"/>
<rect x="115.25" y="333.00" width="7.48" height="1.06" fill="#71a0cb"/>
<rect x="122.67" y="333.00" width="7.48" height="1.06" fill="#6a99c7"/>
<rect x="130.08" y="333.00" width="7.48" height="1.06" fill="#73a2cc"/>
<rect x="48.50" y="334.00" width="7.48" height="1.06" fill="#fff8b4"/>
<rect x="55.92" y="334.00" width="7.48" height="1.06" fill="#fff6b1"/>
<rect x="63.33" y="334.00" width="7.48" height="1.06" fill="#fffbb9"/>
<rect x="70.75" y="334.00" width="7.48" height="1.06" fill="#fff5b0"/>
<rect x="78.17" y="334.00" width="7.48" height="1.06" fill="#fff1aa"/>
<rect x="85.58" y="334.00" width="7.48" height="1.06" fill="#fff3ad"/>
<rect x="93.00" y="334.00" width="7.48" height="1.06" fill="#fffbb9"/>
<rect x="100.42" y="334.00" width="7.48" height="1.06" fill="#fffbb9"/>
<rect x="107.83" y="334.00" width="7.48" height="1.06" fill="#fff3ac"/>
<rect x="115.25" y="334.00" width="7.48" height="1.06" fill="#75a3cc"/>
<rect x="122.67" y="334.00" width="7.48" height="1.06" fill="#7baad0"/>
<rect x="130.08" y="334.00" width="7.48" height="1.06" fill="#7dacd1"/>
<rect x="48.50" y="335.00" width="7.48" height="1.06" fill="#fffdbc"/>
<rect x="55.92" y="335.00" width="7.48" height="1.06" fill="#fffab7"/>
<rect x="63.33" y="335.00" width="7.48" height="1.06" fill="#fff9b6"/>
<rect x="70.75" y="335.00" width="7.48" height="1.06" fill="#fffab7"/>
<rect x="78.17" y="335.00" width="7.48" height="1.06" fill="#fff6b2"/>
<rect x="85.58" y="335.00" width="7.48" height="1.06" fill="#fffab7"/>
<rect x="93.00" y="335.00" width="7.48" height="1.06" fill="#ffffbf"/>
<rect x="100.42" y="335.00" width="7.48" height="1.06" fill="#fcfec4"/>
<rect x="107.83" y="335.00" width="7.48" height="1.06" fill="#fffcbb"/>
<rect x="115.25" y="335.00" width="7.48" height="1.06" fill="#5a8abf"/>
<rect x="122.67" y="335.00" width="7.48" height="1.06" fill="#5c8bc0"/>
<rect x="130.08" y="335.00" width="7.48" height="1.06" fill="#6191c3"/>
<rect x="48.50" y="336.00" width="7.48" height="1.06" fill="#f7fcce"/>
<rect x="55.92" y="336.00" width="7.48" height="1.06" fill="#feffc1"/>
<rect x="63.33" y="336.00" width="7.48" height="1.06" fill="#fbfdc7"/>
<rect x="70.75" y="336.00" width="7.48" height="1.06" fill="#fff4af"/>
<rect x="78.17" y="336.00" width="7.48" height="1.06" fill="#fffbb9"/>
<rect x="85.58" y="336.00" width="7.48" height="1.06" fill="#fff2ac"/>
<rect x="93.00" y="336.00" width="7.48" height="1.06" fill="#fdfec3"/>
<rect x="100.42" y="336.00" width="7.48" height="1.06" fill="#f5fbd1"/>
<rect x="107.83" y="336.00" width="7.48" height="1.06" fill="#fdfec3"/>
<rect x="115.25" y="336.00" width="7.48" height="1.06" fill="#6d9cc9"/>
<rect x="122.67" y="336.00" width="7.48" height="1.06" fill="#6998c7"/>
<rect x="130.08" y="336.00" width="7.48" height="1.06" fill="#6d9cc9"/>
<rect x="48.50" y="337.00" width="7.48" height="1.06" fill="#feeba1"/>
<rect x="55.92" y="337.00" width="7.48" height="1.06" fill="#feeca2"/>
<rect x="63.33" y="337.00" width="7.48" height="1.06" fill="#fff2ac"/>
<rect x="70.75" y="337.00" width="7.48" height="1.06" fill="#fff8b4"/>
<rect x="78.17" y="337.00" width="7.48" height="1.06" fill="#fffab8"/>
<rect x="85.58" y="337.00" width="7.48" height="1.06" fill="#fffbb9"/>
<rect x="93.00" y="337.00" width="7.48" height="1.06" fill="#fffebd"/>
<rect x="100.42" y="337.00" width="7.48" height="1.06" fill="#fdfec3"/>
<rect x="107.83" y="337.00" width="7.48" height="1.06" fill="#feffc1"/>
<rect x="115.25" y="337.00" width="7.48" height="1.06" fill="#72a0cb"/>
<rect x="122.67" y="337.00" width="7.48" height="1.06" fill="#709fca"/>
<rect x="130.08" y="337.00" width="7.48" height="1.06" fill="#7eadd1"/>
<rect x="48.50" y="338.00" width="7.48" height="1.06" fill="#fff5af"/>
<rect x="55.92" y="338.00" width="7.48" height="1.06" fill="#fff0a9"/>
<rect x="63.33" y="338.00" width="7.48" height="1.06" fill="#fff9b6"/>
<rect x="70.75" y="338.00" width="7.48" height="1.06" fill="#fffab7"/>
<rect x="78.17" y="338.00" width="7.48" height="1.06" fill="#fffcba"/>
<rect x="85.58" y="338.00" width="7.48" height="1.06" fill="#fffab7"/>
<rect x="93.00" y="338.00" width="7.48" height="1.06" fill="#fafdc8"/>
<rect x="100.42" y="338.00" width="7.48" height="1.06" fill="#f9fdcb"/>
<rect x="107.83" y="338.00" width="7.48" height="1.06" fill="#fbfdc7"/>
<rect x="115.25" y="338.00" width="7.48" height="1.06" fill="#6a99c7"/>
<rect x="122.67" y="338.00" width="7.48" height="1.06" fill="#6f9eca"/>
<rect x="130.08" y="338.00" width="7.48" height="1.06" fill="#73a2cc"/>
<rect x="48.50" y="339.00" width="7.48" height="1.06" fill="#fff9b5"/>
<rect x="55.92" y="339.00" width="7.48" height="1.06" fill="#fffebd"/>
<rect x="63.33" y="339.00" width="7.48" height="1.06" fill="#fffbb9"/>
<rect x="70.75" y="339.00" width="7.48" height="1.06" fill="#fffebe"/>
<rect x="78.17" y="339.00" width="7.48" height="1.06" fill="#fff7b3"/>
<rect x="85.58" y="339.00" width="7.48" height="1.06" fill="#fff3ac"/>
<rect x="93.00" y="339.00" width="7.48" height="1.06" fill="#fdfec2"/>
<rect x="100.42" y="339.00" width="7.48" height="1.06" fill="#f3fad5"/>
<rect x="107.83" y="339.00" width="7.48" height="1.06" fill="#fbfdc7"/>
<rect x="115.25" y="339.00" width="7.48" height="1.06" fill="#6695c5"/>
<rect x="122.67" y="339.00" width="7.48" height="1.06" fill="#5d8dc0"/>
<rect x="130.08" y="339.00" width="7.48" height="1.06" fill="#5181ba"/>
<rect x="48.50" y="340.00" width="7.48" height="1.06" fill="#fcfec4"/>
<rect x="55.92" y="340.00" width="7.48" height="1.06" fill="#fffdbd"/>
<rect x="63.33" y="340.00" width="7.48" height="1.06" fill="#ffffc0"/>
<rect x="70.75" y="340.00" width="7.48" height="1.06" fill="#fafdc8"/>
<rect x="78.17" y="340.00" width="7.48" height="1.06" fill="#fdfec3"/>
<rect x="85.58" y="340.00" width="7.48" height="1.06" fill="#fbfec6"/>
<rect x="93.00" y="340.00" width="7.48" height="1.06" fill="#f8fccb"/>
<rect x="100.42" y="340.00" width="7.48" height="1.06" fill="#fffebe"/>
<rect x="107.83" y="340.00" width="7.48" height="1.06" fill="#ffffbf"/>
<rect x="115.25" y="340.00" width="7.48" height="1.06" fill="#6695c5"/>
<rect x="122.67" y="340.00" width="7.48" height="1.06" fill="#6695c5"/>
<rect x="130.08" y="340.00" width="7.48" height="1.06" fill="#709fca"/>
<rect x="48.50" y="341.00" width="7.48" height="1.06" fill="#fffdbb"/>
<rect x="55.92" y="341.00" width="7.48" height="1.06" fill="#fffebd"/>
<rect x="63.33" y="341.00" width="7.48" height="1.06" fill="#fffbb9"/>
<rect x="70.75" y="341.00" width="7.48" height="1.06" fill="#fffebe"/>
<rect x="78.17" y="341.00" width="7.48" height="1.06" fill="#fbfdc7"/>
<rect x="85.58" y="341.00" width="7.48" height="1.06" fill="#fcfec4"/>
<rect x="93.00" y="341.00" width="7.48" height="1.06" fill="#fff9b6"/>
<rect x="100.42" y="341.00" width="7.48" height="1.06" fill="#fffebe"/>
<rect x="107.83" y="341.00" width="7.48" height="1.06" fill="#ffffbf"/>
<rect x="115.25" y="341.00" width="7.48" height="1.06" fill="#75a4cd"/>
<rect x="122.67" y="341.00" width="7.48" height="1.06" fill="#7baad0"/>
<rect x="130.08" y="341.00" width="7.48" height="1.06" fill="#78a7ce"/>
<rect x="48.50" y="342.00" width="7.48" height="1.06" fill="#fff5af"/>
<rect x="55.92" y="342.00" width="7.48" height="1.06" fill="#fffbb9"/>
<rect x="63.33" y="342.00" width="7.48" height="1.06" fill="#fffab7"/>
<rect x="70.75" y="342.00" width="7.48" height="1.06" fill="#fff8b5"/>
<rect x="78.17" y="342.00" width="7.48" height="1.06" fill="#fffcba"/>
<rect x="85.58" y="342.00" width="7.48" height="1.06" fill="#feffc0"/>
<rect x="93.00" y="342.00" width="7.48" height="1.06" fill="#ffffbf"/>
<rect x="100.42" y="342.00" width="7.48" height="1.06" fill="#f9fdc9"/>
<rect x="107.83" y="342.00" width="7.48" height="1.06" fill="#feffc1"/>
<rect x="115.25" y="342.00" width="7.48" height="1.06" fill="#7cabd0"/>
<rect x="122.67" y="342.00" width="7.48" height="1.06" fill="#6d9cc8"/>
<rect x="130.08" y="342.00" width="7.48" height="1.06" fill="#709fca"/>
<rect x="48.50" y="343.00" width="7.48" height="1.06" fill="#fff9b5"/>
<rect x="55.92" y="343.00" width="7.48" height="1.06" fill="#fffdbc"/>
<rect x="63.33" y="343.00" width="7.48" height="1.06" fill="#fff7b2"/>
<rect x="70.75" y="343.00" width="7.48" height="1.06" fill="#fff8b5"/>
<rect x="78.17" y="343.00" width="7.48" height="1.06" fill="#fffbb8"/>
<rect x="85.58" y="343.00" width="7.48" height="1.06" fill="#fffdbd"/>
<rect x="93.00" y="343.00" width="7.48" height="1.06" fill="#f5fbd2"/>
<rect x="100.42" y="343.00" width="7.48" height="1.06" fill="#fffbb9"/>
<rect x="107.83" y="343.00" width="7.48" height="1.06" fill="#fbfec6"/>
<rect x="115.25" y="343.00" width="7.48" height="1.06" fill="#8bb9d8"/>
<rect x="122.67" y="343.00" width="7.48" height="1.06" fill="#6796c6"/>
<rect x="130.08" y="343.00" width="7.48" height="1.06" fill="#72a0cb"/>
<rect x="48.50" y="344.00" width="7.48" height="1.06" fill="#fffdbc"/>
<rect x="55.92" y="344.00" width="7.48" height="1.06" fill="#fffab8"/>
<rect x="63.33" y="344.00" width="7.48" height="1.06" fill="#fff2ab"/>
<rect x="70.75" y="344.00" width="7.48" height="1.06" fill="#fff8b4"/>
<rect x="78.17" y="344.00" width="7.48" height="1.06" fill="#fffebe"/>
<rect x="85.58" y="344.00" width="7.48" height="1.06" fill="#fffdbc"/>
<rect x="93.00" y="344.00" width="7.48" height="1.06" fill="#fafdc9"/>
<rect x="100.42" y="344.00" width="7.48" height="1.06" fill="#fdfec3"/>
<rect x="107.83" y="344.00" width="7.48" height="1.06" fill="#f9fdca"/>
<rect x="115.25" y="344.00" width="7.48" height="1.06" fill="#76a5cd"/>
<rect x="122.67" y="344.00" width="7.48" height="1.06" fill="#78a6ce"/>
<rect x="130.08" y="344.00" width="7.48" height="1.06" fill="#71a0cb"/>
<rect x="48.50" y="345.00" width="7.48" height="1.06" fill="#feea9f"/>
<rect x="55.92" y="345.00" width="7.48" height="1.06" fill="#fff4ae"/>
<rect x="63.33" y="345.00" width="7.48" height="1.06" fill="#fff6b2"/>
<rect x="70.75" y="345.00" width="7.48" height="1.06" fill="#feeea6"/>
<rect x="78.17" y="345.00" width="7.48" height="1.06" fill="#feeea5"/>
<rect x="85.58" y="345.00" width="7.48" height="1.06" fill="#fff0a8"/>
<rect x="93.00" y="345.00" width="7.48" height="1.06" fill="#fffdbb"/>
<rect x="100.42" y="345.00" width="7.48" height="1.06" fill="#fffcbb"/>
<rect x="107.83" y="345.00" width="7.48" height="1.06" fill="#fffcba"/>
<rect x="115.25" y="345.00" width="7.48" height="1.06" fill="#79a7cf"/>
<rect x="122.67" y="345.00" width="7.48" height="1.06" fill="#6d9cc8"/>
<rect x="130.08" y="345.00" width="7.48" height="1.06" fill="#6d9cc8"/>
<rect x="48.50" y="346.00" width="7.48" height="1.06" fill="#fff1a9"/>
<rect x="55.92" y="346.00" width="7.48" height="1.06" fill="#fff7b3"/>
<rect x="63.33" y="346.00" width="7.48" height="1.06" fill="#fff8b4"/>
<rect x="70.75" y="346.00" width="7.48" height="1.06" fill="#fff8b4"/>
<rect x="78.17" y="346.00" width="7.48" height="1.06" fill="#fff9b6"/>
<rect x="85.58" y="346.00" width="7.48" height="1.06" fill="#fff6b2"/>
<rect x="93.00" y="346.00" width="7.48" height="1.06" fill="#fffbb8"/>
<rect x="100.42" y="346.00" width="7.48" height="1.06" fill="#fcfec5"/>
<rect x="107.83" y="346.00" width="7.48" height="1.06" fill="#ffffbf"/>
<rect x="115.25" y="346.00" width="7.48" height="1.06" fill="#6c9bc8"/>
<rect x="122.67" y="346.00" width="7.48" height="1.06" fill="#7aa8cf"/>
<rect x="130.08" y="346.00" width="7.48" height="1.06" fill="#75a4cd"/>
<rect x="48.50" y="347.00" width="7.48" height="1.06" fill="#fffab7"/>
<rect x="55.92" y="347.00" width="7.48" height="1.06" fill="#fff2ac"/>
<rect x="63.33" y="347.00" width="7.48" height="1.06" fill="#fff4af"/>
<rect x="70.75" y="347.00" width="7.48" height="1.06" fill="#fff9b6"/>
<rect x="78.17" y="347.00" width="7.48" height="1.06" fill="#fff8b4"/>
<rect x="85.58" y="347.00" width="7.48" height="1.06" fill="#fffdbc"/>
<rect x="93.00" y="347.00" width="7.48" height="1.06" fill="#feffc0"/>
<rect x="100.42" y="347.00" width="7.48" height="1.06" fill="#f3fad5"/>
<rect x="107.83" y="347.00" width="7.48" height="1.06" fill="#f7fccd"/>
<rect x="115.25" y="347.00" width="7.48" height="1.06" fill="#7baad0"/>
<rect x="122.67" y="347.00" width="7.48" height="1.06" fill="#6e9dc9"/>
<rect x="130.08" y="347.00" width="7.48" height="1.06" fill="#7dacd1"/>
<rect x="48.50" y="348.00" width="7.48" height="1.06" fill="#fff1aa"/>
<rect x="55.92" y="348.00" width="7.48" height="1.06" fill="#fff1aa"/>
<rect x="63.33" y="348.00" width="7.48" height="1.06" fill="#fff5b0"/>
<rect x="70.75" y="348.00" width="7.48" height="1.06" fill="#fff0a8"/>
<rect x="78.17" y="348.00" width="7.48" height="1.06" fill="#feeea5"/>
<rect x="85.58" y="348.00" width="7.48" height="1.06" fill="#feeba1"/>
<rect x="93.00" y="348.00" width="7.48" height="1.06" fill="#fff9b6"/>
<rect x="100.42" y="348.00" width="7.48" height="1.06" fill="#fff9b5"/>
<rect x="107.83" y="348.00" width="7.48" height="1.06" fill="#fff4ae"/>
<rect x="115.25" y="348.00" width="7.48" height="1.06" fill="#7ba9d0"/>
<rect x="122.67" y="348.00" width="7.48" height="1.06" fill="#75a4cd"/>
<rect x="130.08" y="348.00" width="7.48" height="1.06" fill="#7caad0"/>
<rect x="48.50" y="349.00" width="7.48" height="1.06" fill="#fff4ae"/>
<rect x="55.92" y="349.00" width="7.48" height="1.06" fill="#fff5b1"/>
<rect x="63.33" y="349.00" width="7.48" height="1.06" fill="#fff9b5"/>
<rect x="70.75" y="349.00" width="7.48" height="1.06" fill="#fffdbc"/>
<rect x="78.17" y="349.00" width="7.48" height="1.06" fill="#fff7b3"/>
<rect x="85.58" y="349.00" width="7.48" height="1.06" fill="#fffab7"/>
<rect x="93.00" y="349.00" width="7.48" height="1.06" fill="#fff9b5"/>
<rect x="100.42" y="349.00" width="7.48" height="1.06" fill="#ffffbf"/>
<rect x="107.83" y="349.00" width="7.48" height="1.06" fill="#feffc1"/>
<rect x="115.25" y="349.00" width="7.48" height="1.06" fill="#76a5cd"/>
<rect x="122.67" y="349.00" width="7.48" height="1.06" fill="#80aed2"/>
<rect x="130.08" y="349.00" width="7.48" height="1.06" fill="#83b1d4"/>
<rect x="48.50" y="350.00" width="7.48" height="1.06" fill="#fff8b4"/>
<rect x="55.92" y="350.00" width="7.48" height="1.06" fill="#fff4ae"/>
<rect x="63.33" y="350.00" width="7.48" height="1.06" fill="#fff7b3"/>
<rect x="70.75" y="350.00" width="7.48" height="1.06" fill="#fbfdc6"/>
<rect x="78.17" y="350.00" width="7.48" height="1.06" fill="#fbfdc6"/>
<rect x="85.58" y="350.00" width="7.48" height="1.06" fill="#fefec2"/>
<rect x="93.00" y="350.00" width="7.48" height="1.06" fill="#f9fdcb"/>
<rect x="100.42" y="350.00" width="7.48" height="1.06" fill="#f9fdc9"/>
<rect x="107.83" y="350.00" width="7.48" height="1.06" fill="#fafdc8"/>
<rect x="115.25" y="350.00" width="7.48" height="1.06" fill="#9bc6df"/>
<rect x="122.67" y="350.00" width="7.48" height="1.06" fill="#a8cee4"/>
<rect x="130.08" y="350.00" width="7.48" height="1.06" fill="#a5cce2"/>
<rect x="48.50" y="351.00" width="7.48" height="1.06" fill="#fdfec2"/>
<rect x="55.92" y="351.00" width="7.48" height="1.06" fill="#fff8b5"/>
<rect x="63.33" y="351.00" width="7.48" height="1.06" fill="#fffcba"/>
<rect x="70.75" y="351.00" width="7.48" height="1.06" fill="#fff8b4"/>
<rect x="78.17" y="351.00" width="7.48" height="1.06" fill="#fffcba"/>
<rect x="85.58" y="351.00" width="7.48" height="1.06" fill="#fffcbb"/>
<rect x="93.00" y="351.00" width="7.48" height="1.06" fill="#fbfec6"/>
<rect x="100.42" y="351.00" width="7.48" height="1.06" fill="#fbfdc6"/>
<rect x="107.83" y="351.00" width="7.48" height="1.06" fill="#fffdbb"/>
<rect x="115.25" y="351.00" width="7.48" height="1.06" fill="#8dbbd9"/>
<rect x="122.67" y="351.00" width="7.48" height="1.06" fill="#9bc5df"/>
<rect x="130.08" y="351.00" width="7.48" height="1.06" fill="#a0c9e1"/>
<rect x="48.50" y="352.00" width="7.48" height="1.06" fill="#fffab8"/>
<rect x="55.92" y="352.00" width="7.48" height="1.06" fill="#fffab7"/>
<rect x="63.33" y="352.00" width="7.48" height="1.06" fill="#fffdbc"/>
<rect x="70.75" y="352.00" width="7.48" height="1.06" fill="#fffdbc"/>
<rect x="78.17" y="352.00" width="7.48" height="1.06" fill="#fff8b4"/>
<rect x="85.58" y="352.00" width="7.48" height="1.06" fill="#fff0a8"/>
<rect x="93.00" y="352.00" width="7.48" height="1.06" fill="#f9fdca"/>
<rect x="100.42" y="352.00" width="7.48" height="1.06" fill="#f1fad8"/>
<rect x="107.83" y="352.00" width="7.48" height="1.06" fill="#f6fccf"/>
<rect x="115.25" y="352.00" width="7.48" height="1.06" fill="#92c0db"/>
<rect x="122.67" y="352.00" width="7.48" height="1.06" fill="#8ebcd9"/>
<rect x="130.08" y="352.00" width="7.48" height="1.06" fill="#a2cae1"/>
<rect x="48.50" y="353.00" width="7.48" height="1.06" fill="#fffbba"/>
<rect x="55.92" y="353.00" width="7.48" height="1.06" fill="#fffab7"/>
<rect x="63.33" y="353.00" width="7.48" height="1.06" fill="#fff9b6"/>
<rect x="70.75" y="353.00" width="7.48" height="1.06" fill="#fff9b6"/>
<rect x="78.17" y="353.00" width="7.48" height="1.06" fill="#fcfec4"/>
<rect x="85.58" y="353.00" width="7.48" height="1.06" fill="#fbfdc6"/>
<rect x="93.00" y="353.00" width="7.48" height="1.06" fill="#f4fbd4"/>
<rect x="100.42" y="353.00" width="7.48" height="1.06" fill="#eff9dd"/>
<rect x="107.83" y="353.00" width="7.48" height="1.06" fill="#f6fbd0"/>
<rect x="115.25" y="353.00" width="7.48" height="1.06" fill="#92c0db"/>
<rect x="122.67" y="353.00" width="7.48" height="1.06" fill="#89b7d7"/>
<rect x="130.08" y="353.00" width="7.48" height="1.06" fill="#90bedb"/>
<rect x="48.50" y="354.00" width="7.48" height="1.06" fill="#feeea5"/>
<rect x="55.92" y="354.00" width="7.48" height="1.06" fill="#fff2ab"/>
<rect x="63.33" y="354.00" width="7.48" height="1.06" fill="#fee99e"/>
<rect x="70.75" y="354.00" width="7.48" height="1.06" fill="#fffcba"/>
<rect x="78.17" y="354.00" width="7.48" height="1.06" fill="#fff2ab"/>
<rect x="85.58" y="354.00" width="7.48" height="1.06" fill="#fff9b5"/>
<rect x="93.00" y="354.00" width="7.48" height="1.06" fill="#fff4af"/>
<rect x="100.42" y="354.00" width="7.48" height="1.06" fill="#feefa6"/>
<rect x="107.83" y="354.00" width="7.48" height="1.06" fill="#fff0a8"/>
<rect x="115.25" y="354.00" width="7.48" height="1.06" fill="#acd1e5"/>
<rect x="122.67" y="354.00" width="7.48" height="1.06" fill="#b7d8e9"/>
<rect x="130.08" y="354.00" width="7.48" height="1.06" fill="#beddec"/>
<rect x="48.50" y="355.00" width="7.48" height="1.06" fill="#fcfec5"/>
<rect x="55.92" y="355.00" width="7.48" height="1.06" fill="#fcfec5"/>
<rect x="63.33" y="355.00" width="7.48" height="1.06" fill="#fdfec3"/>
<rect x="70.75" y="355.00" width="7.48" height="1.06" fill="#fff6b1"/>
<rect x="78.17" y="355.00" width="7.48" height="1.06" fill="#fffebe"/>
<rect x="85.58" y="355.00" width="7.48" height="1.06" fill="#fff8b5"/>
<rect x="93.00" y="355.00" width="7.48" height="1.06" fill="#f0f9db"/>
<rect x="100.42" y="355.00" width="7.48" height="1.06" fill="#f4fbd3"/>
<rect x="107.83" y="355.00" width="7.48" height="1.06" fill="#f5fbd1"/>
<rect x="115.25" y="355.00" width="7.48" height="1.06" fill="#90beda"/>
<rect x="122.67" y="355.00" width="7.48" height="1.06" fill="#9bc6df"/>
<rect x="130.08" y="355.00" width="7.48" height="1.06" fill="#9bc6df"/>
<rect x="48.50" y="356.00" width="7.48" height="1.06" fill="#fffbb9"/>
<rect x="55.92" y="356.00" width="7.48" height="1.06" fill="#fffcba"/>
<rect x="63.33" y="356.00" width="7.48" height="1.06" fill="#fffdbc"/>
<rect x="70.75" y="356.00" width="7.48" height="1.06" fill="#fffebd"/>
<rect x="78.17" y="356.00" width="7.48" height="1.06" fill="#fffbb9"/>
<rect x="85.58" y="356.00" width="7.48" height="1.06" fill="#fff7b4"/>
<rect x="93.00" y="356.00" width="7.48" height="1.06" fill="#fffbb9"/>
<rect x="100.42" y="356.00" width="7.48" height="1.06" fill="#fbfec6"/>
<rect x="107.83" y="356.00" width="7.48" height="1.06" fill="#f7fcce"/>
<rect x="115.25" y="356.00" width="7.48" height="1.06" fill="#a6cde3"/>
<rect x="122.67" y="356.00" width="7.48" height="1.06" fill="#9ac5de"/>
<rect x="130.08" y="356.00" width="7.48" height="1.06" fill="#90bedb"/>
<rect x="48.50" y="357.00" width="7.48" height="1.06" fill="#fff0a8"/>
<rect x="55.92" y="357.00" width="7.48" height="1.06" fill="#fff7b3"/>
<rect x="63.33" y="357.00" width="7.48" height="1.06" fill="#fff7b3"/>
<rect x="70.75" y="357.00" width="7.48" height="1.06" fill="#fff7b3"/>
<rect x="78.17" y="357.00" width="7.48" height="1.06" fill="#fff3ad"/>
<rect x="85.58" y="357.00" width="7.48" height="1.06" fill="#feeca2"/>
<rect x="93.00" y="357.00" width="7.48" height="1.06" fill="#feffc0"/>
<rect x="100.42" y="357.00" width="7.48" height="1.06" fill="#fffdbb"/>
<rect x="107.83" y="357.00" width="7.48" height="1.06" fill="#fffcba"/>
<rect x="115.25" y="357.00" width="7.48" height="1.06" fill="#a4cce2"/>
<rect x="122.67" y="357.00" width="7.48" height="1.06" fill="#acd1e5"/>
<rect x="130.08" y="357.00" width="7.48" height="1.06" fill="#a1cae1"/>
<rect x="48.50" y="358.00" width="7.48" height="1.06" fill="#fff5b0"/>
<rect x="55.92" y="358.00" width="7.48" height="1.06" fill="#fff8b4"/>
<rect x="63.33" y="358.00" width="7.48" height="1.06" fill="#fff2ab"/>
<rect x="70.75" y="358.00" width="7.48" height="1.06" fill="#fff4ae"/>
<rect x="78.17" y="358.00" width="7.48" height="1.06" fill="#fff6b1"/>
<rect x="85.58" y="358.00" width="7.48" height="1.06" fill="#fff1a9"/>
<rect x="93.00" y="358.00" width="7.48" height="1.06" fill="#fffab8"/>
<rect x="100.42" y="358.00" width="7.48" height="1.06" fill="#fffcbb"/>
<rect x="107.83" y="358.00" width="7.48" height="1.06" fill="#ffffbe"/>
<rect x="115.25" y="358.00" width="7.48" height="1.06" fill="#9ec8e0"/>
<rect x="122.67" y="358.00" width="7.48" height="1.06" fill="#99c5de"/>
<rect x="130.08" y="358.00" width="7.48" height="1.06" fill="#8dbcd9"/>
<rect x="48.50" y="359.00" width="7.48" height="1.06" fill="#fdfec3"/>
<rect x="55.92" y="359.00" width="7.48" height="1.06" fill="#f9fdc9"/>
<rect x="63.33" y="359.00" width="7.48" height="1.06" fill="#eff9dc"/>
<rect x="70.75" y="359.00" width="7.48" height="1.06" fill="#fbfec6"/>
<rect x="78.17" y="359.00" width="7.48" height="1.06" fill="#fdfec2"/>
<rect x="85.58" y="359.00" width="7.48" height="1.06" fill="#fefec2"/>
<rect x="93.00" y="359.00" width="7.48" height="1.06" fill="#f9fdc9"/>
<rect x="100.42" y="359.00" width="7.48" height="1.06" fill="#fafdc7"/>
<rect x="107.83" y="359.00" width="7.48" height="1.06" fill="#f6fccf"/>
<rect x="115.25" y="359.00" width="7.48" height="1.06" fill="#99c4de"/>
<rect x="122.67" y="359.00" width="7.48" height="1.06" fill="#92c0db"/>
<rect x="130.08" y="359.00" width="7.48" height="1.06" fill="#9bc6df"/>
<rect x="48.50" y="360.00" width="7.48" height="1.06" fill="#fcfec5"/>
<rect x="55.92" y="360.00" width="7.48" height="1.06" fill="#feffc1"/>
<rect x="63.33" y="360.00" width="7.48" height="1.06" fill="#fffebe"/>
<rect x="70.75" y="360.00" width="7.48" height="1.06" fill="#fbfdc7"/>
<rect x="78.17" y="360.00" width="7.48" height="1.06" fill="#fafdc8"/>
<rect x="85.58" y="360.00" width="7.48" height="1.06" fill="#f9fccb"/>
<rect x="93.00" y="360.00" width="7.48" height="1.06" fill="#fbfec6"/>
<rect x="100.42" y="360.00" width="7.48" height="1.06" fill="#f9fdcb"/>
<rect x="107.83" y="360.00" width="7.48" height="1.06" fill="#f6fccf"/>
<rect x="115.25" y="360.00" width="7.48" height="1.06" fill="#9bc6df"/>
<rect x="122.67" y="360.00" width="7.48" height="1.06" fill="#88b6d6"/>
<rect x="130.08" y="360.00" width="7.48" height="1.06" fill="#8ebcd9"/>
<rect x="48.50" y="361.00" width="7.48" height="1.06" fill="#fffdbc"/>
<rect x="55.92" y="361.00" width="7.48" height="1.06" fill="#ffffbf"/>
<rect x="63.33" y="361.00" width="7.48" height="1.06" fill="#fff5b1"/>
<rect x="70.75" y="361.00" width="7.48" height="1.06" fill="#fffbb9"/>
<rect x="78.17" y="361.00" width="7.48" height="1.06" fill="#fffbb9"/>
<rect x="85.58" y="361.00" width="7.48" height="1.06" fill="#fffcbb"/>
<rect x="93.00" y="361.00" width="7.48" height="1.06" fill="#fcfec5"/>
<rect x="100.42" y="361.00" width="7.48" height="1.06" fill="#fafdc7"/>
<rect x="107.83" y="361.00" width="7.48" height="1.06" fill="#f7fccd"/>
<rect x="115.25" y="361.00" width="7.48" height="1.06" fill="#a2cae1"/>
<rect x="122.67" y="361.00" width="7.48" height="1.06" fill="#8dbbd9"/>
<rect x="130.08" y="361.00" width="7.48" height="1.06" fill="#86b5d6"/>
<rect x="48.50" y="362.00" width="7.48" height="1.06" fill="#fff3ad"/>
<rect x="55.92" y="362.00" width="7.48" height="1.06" fill="#fffab7"/>
<rect x="63.33" y="362.00" width="7.48" height="1.06" fill="#fffab7"/>
<rect x="70.75" y="362.00" width="7.48" height="1.06" fill="#fff1aa"/>
<rect x="78.17" y="362.00" width="7.48" height="1.06" fill="#fffbba"/>
<rect x="85.58" y="362.00" width="7.48" height="1.06" fill="#fff8b4"/>
<rect x="93.00" y="362.00" width="7.48" height="1.06" fill="#fdfec3"/>
<rect x="100.42" y="362.00" width="7.48" height="1.06" fill="#f8fccc"/>
<rect x="107.83" y="362.00" width="7.48" height="1.06" fill="#ffffc0"/>
<rect x="115.25" y="362.00" width="7.48" height="1.06" fill="#91bfdb"/>
<rect x="122.67" y="362.00" width="7.48" height="1.06" fill="#94c1dc"/>
<rect x="130.08" y="362.00" width="7.48" height="1.06" fill="#a1cae1"/>
<rect x="48.50" y="363.00" width="7.48" height="1.06" fill="#fffebd"/>
<rect x="55.92" y="363.00" width="7.48" height="1.06" fill="#fffebd"/>
<rect x="63.33" y="363.00" width="7.48" height="1.06" fill="#fffdbc"/>
<rect x="70.75" y="363.00" width="7.48" height="1.06" fill="#fffbb9"/>
<rect x="78.17" y="363.00" width="7.48" height="1.06" fill="#fff6b2"/>
<rect x="85.58" y="363.00" width="7.48" height="1.06" fill="#fff5af"/>
<rect x="93.00" y="363.00" width="7.48" height="1.06" fill="#f3fad6"/>
<rect x="100.42" y="363.00" width="7.48" height="1.06" fill="#fdfec3"/>
<rect x="107.83" y="363.00" width="7.48" height="1.06" fill="#feffc1"/>
<rect x="115.25" y="363.00" width="7.48" height="1.06" fill="#88b6d6"/>
<rect x="122.67" y="363.00" width="7.48" height="1.06" fill="#9ac5de"/>
<rect x="130.08" y="363.00" width="7.48" height="1.06" fill="#92c0db"/>
<rect x="48.50" y="364.00" width="7.48" height="1.06" fill="#f9fdcb"/>
<rect x="55.92" y="364.00" width="7.48" height="1.06" fill="#feffc1"/>
<rect x="63.33" y="364.00" width="7.48" height="1.06" fill="#fdfec3"/>
<rect x="70.75" y="364.00" width="7.48" height="1.06" fill="#fffebd"/>
<rect x="78.17" y="364.00" width="7.48" height="1.06" fill="#ffffbf"/>
<rect x="85.58" y="364.00" width="7.48" height="1.06" fill="#fffab7"/>
<rect x="93.00" y="364.00" width="7.48" height="1.06" fill="#f0f9db"/>
<rect x="100.42" y="364.00" width="7.48" height="1.06" fill="#eff9dc"/>
<rect x="107.83" y="364.00" width="7.48" height="1.06" fill="#f7fcce"/>
<rect x="115.25" y="364.00" width="7.48" height="1.06" fill="#9cc6df"/>
<rect x="122.67" y="364.00" width="7.48" height="1.06" fill="#9cc6df"/>
<rect x="130.08" y="364.00" width="7.48" height="1.06" fill="#95c1dc"/>
<rect x="48.50" y="365.00" width="7.48" height="1.06" fill="#f9fdca"/>
<rect x="55.92" y="365.00" width="7.48" height="1.06" fill="#fff6b1"/>
<rect x="63.33" y="365.00" width="7.48" height="1.06" fill="#fffab7"/>
<rect x="70.75" y="365.00" width="7.48" height="1.06" fill="#fff1a9"/>
<rect x="78.17" y="365.00" width="7.48" height="1.06" fill="#fff3ad"/>
<rect x="85.58" y="365.00" width="7.48" height="1.06" fill="#fff2ac"/>
<rect x="93.00" y="365.00" width="7.48" height="1.06" fill="#f2fad6"/>
<rect x="100.42" y="365.00" width="7.48" height="1.06" fill="#f9fdca"/>
<rect x="107.83" y="365.00" width="7.48" height="1.06" fill="#f5fbd2"/>
<rect x="115.25" y="365.00" width="7.48" height="1.06" fill="#8bb9d8"/>
<rect x="122.67" y="365.00" width="7.48" height="1.06" fill="#80aed2"/>
<rect x="130.08" y="365.00" width="7.48" height="1.06" fill="#8bb9d8"/>
<rect x="48.50" y="366.00" width="7.48" height="1.06" fill="#fff9b6"/>
<rect x="55.92" y="366.00" width="7.48" height="1.06" fill="#fff5b0"/>
<rect x="63.33" y="366.00" width="7.48" height="1.06" fill="#fff7b4"/>
<rect x="70.75" y="366.00" width="7.48" height="1.06" fill="#fff7b2"/>
<rect x="78.17" y="366.00" width="7.48" height="1.06" fill="#fff5b0"/>
<rect x="85.58" y="366.00" width="7.48" height="1.06" fill="#fffcbb"/>
<rect x="93.00" y="366.00" width="7.48" height="1.06" fill="#fff8b5"/>
<rect x="100.42" y="366.00" width="7.48" height="1.06" fill="#fdfec2"/>
<rect x="107.83" y="366.00" width="7.48" height="1.06" fill="#fffebd"/>
<rect x="115.25" y="366.00" width="7.48" height="1.06" fill="#b8d8e9"/>
<rect x="122.67" y="366.00" width="7.48" height="1.06" fill="#b7d8e9"/>
<rect x="130.08" y="366.00" width="7.48" height="1.06" fill="#a5cce2"/>
<rect x="48.50" y="367.00" width="7.48" height="1.06" fill="#fff7b4"/>
<rect x="55.92" y="367.00" width="7.48" height="1.06" fill="#fff5af"/>
<rect x="63.33" y="367.00" width="7.48" height="1.06" fill="#fff9b6"/>
<rect x="70.75" y="367.00" width="7.48" height="1.06" fill="#f7fcce"/>
<rect x="78.17" y="367.00" width="7.48" height="1.06" fill="#ffffbe"/>
<rect x="85.58" y="367.00" width="7.48" height="1.06" fill="#fafdc9"/>
<rect x="93.00" y="367.00" width="7.48" height="1.06" fill="#f5fbd2"/>
<rect x="100.42" y="367.00" width="7.48" height="1.06" fill="#fdfec3"/>
<rect x="107.83" y="367.00" width="7.48" height="1.06" fill="#fbfdc6"/>
<rect x="115.25" y="367.00" width="7.48" height="1.06" fill="#95c2dd"/>
<rect x="122.67" y="367.00" width="7.48" height="1.06" fill="#8ebcd9"/>
<rect x="130.08" y="367.00" width="7.48" height="1.06" fill="#9ec8e0"/>
<rect x="48.50" y="368.00" width="7.48" height="1.06" fill="#fff9b6"/>
<rect x="55.92" y="368.00" width="7.48" height="1.06" fill="#fffdbc"/>
<rect x="63.33" y="368.00" width="7.48" height="1.06" fill="#fffdbb"/>
<rect x="70.75" y="368.00" width="7.48" height="1.06" fill="#fffbb9"/>
<rect x="78.17" y="368.00" width="7.48" height="1.06" fill="#fffdbc"/>
<rect x="85.58" y="368.00" width="7.48" height="1.06" fill="#fffcbb"/>
<rect x="93.00" y="368.00" width="7.48" height="1.06" fill="#f9fdcb"/>
<rect x="100.42" y="368.00" width="7.48" height="1.06" fill="#feffc0"/>
<rect x="107.83" y="368.00" width="7.48" height="1.06" fill="#fffdbd"/>
<rect x="115.25" y="368.00" width="7.48" height="1.06" fill="#99c4de"/>
<rect x="122.67" y="368.00" width="7.48" height="1.06" fill="#9ac5de"/>
<rect x="130.08" y="368.00" width="7.48" height="1.06" fill="#88b7d7"/>
<rect x="48.50" y="369.00" width="7.48" height="1.06" fill="#fff7b2"/>
<rect x="55.92" y="369.00" width="7.48" height="1.06" fill="#fff7b3"/>
<rect x="63.33" y="369.00" width="7.48" height="1.06" fill="#fff3ad"/>
<rect x="70.75" y="369.00" width="7.48" height="1.06" fill="#fffdbc"/>
<rect x="78.17" y="369.00" width="7.48" height="1.06" fill="#fff9b6"/>
<rect x="85.58" y="369.00" width="7.48" height="1.06" fill="#feffc0"/>
<rect x="93.00" y="369.00" width="7.48" height="1.06" fill="#fcfec5"/>
<rect x="100.42" y="369.00" width="7.48" height="1.06" fill="#f8fccb"/>
<rect x="107.83" y="369.00" width="7.48" height="1.06" fill="#f7fcce"/>
<rect x="115.25" y="369.00" width="7.48" height="1.06" fill="#8cbad9"/>
<rect x="122.67" y="369.00" width="7.48" height="1.06" fill="#a1c9e1"/>
<rect x="130.08" y="369.00" width="7.48" height="1.06" fill="#90bedb"/>
<rect x="48.50" y="370.00" width="7.48" height="1.06" fill="#fff9b6"/>
<rect x="55.92" y="370.00" width="7.48" height="1.06" fill="#fff8b5"/>
<rect x="63.33" y="370.00" width="7.48" height="1.06" fill="#fff4af"/>
<rect x="70.75" y="370.00" width="7.48" height="1.06" fill="#fff0a8"/>
<rect x="78.17" y="370.00" width="7.48" height="1.06" fill="#fff9b6"/>
<rect x="85.58" y="370.00" width="7.48" height="1.06" fill="#fff4ae"/>
<rect x="93.00" y="370.00" width="7.48" height="1.06" fill="#f9fdca"/>
<rect x="100.42" y="370.00" width="7.48" height="1.06" fill="#fbfdc7"/>
<rect x="107.83" y="370.00" width="7.48" height="1.06" fill="#f3fad4"/>
<rect x="115.25" y="370.00" width="7.48" height="1.06" fill="#a1c9e1"/>
<rect x="122.67" y="370.00" width="7.48" height="1.06" fill="#98c3dd"/>
<rect x="130.08" y="370.00" width="7.48" height="1.06" fill="#93c1dc"/>
<rect x="48.50" y="371.00" width="7.48" height="1.06" fill="#fff8b4"/>
<rect x="55.92" y="371.00" width="7.48" height="1.06" fill="#fff5b0"/>
<rect x="63.33" y="371.00" width="7.48" height="1.06" fill="#fff7b3"/>
<rect x="70.75" y="371.00" width="7.48" height="1.06" fill="#feeba0"/>
<rect x="78.17" y="371.00" width="7.48" height="1.06" fill="#feeea6"/>
<rect x="85.58" y="371.00" width="7.48" height="1.06" fill="#feea9f"/>
<rect x="93.00" y="371.00" width="7.48" height="1.06" fill="#ffffbf"/>
<rect x="100.42" y="371.00" width="7.48" height="1.06" fill="#fffcba"/>
<rect x="107.83" y="371.00" width="7.48" height="1.06" fill="#fffab7"/>
<rect x="115.25" y="371.00" width="7.48" height="1.06" fill="#99c4de"/>
<rect x="122.67" y="371.00" width="7.48" height="1.06" fill="#bddceb"/>
<rect x="130.08" y="371.00" width="7.48" height="1.06" fill="#9ac5de"/>
<rect x="48.50" y="372.00" width="7.48" height="1.06" fill="#fff4ae"/>
<rect x="55.92" y="372.00" width="7.48" height="1.06" fill="#feefa7"/>
<rect x="63.33" y="372.00" width="7.48" height="1.06" fill="#fff4ae"/>
<rect x="70.75" y="372.00" width="7.48" height="1.06" fill="#fecc83"/>
<rect x="78.17" y="372.00" width="7.48" height="1.06" fill="#feda8c"/>
<rect x="85.58" y="372.00" width="7.48" height="1.06" fill="#fedf90"/>
<rect x="93.00" y="372.00" width="7.48" height="1.06" fill="#e9f6e8"/>
<rect x="100.42" y="372.00" width="7.48" height="1.06" fill="#e4f5f1"/>
<rect x="107.83" y="372.00" width="7.48" height="1.06" fill="#e9f7e7"/>
<rect x="115.25" y="372.00" width="7.48" height="1.06" fill="#7eacd1"/>
<rect x="122.67" y="372.00" width="7.48" height="1.06" fill="#78a6ce"/>
<rect x="130.08" y="372.00" width="7.48" height="1.06" fill="#7fadd2"/>
<rect x="48.50" y="373.00" width="7.48" height="1.06" fill="#fff5b0"/>
<rect x="55.92" y="373.00" width="7.48" height="1.06" fill="#feefa6"/>
<rect x="63.33" y="373.00" width="7.48" height="1.06" fill="#fff3ad"/>
<rect x="70.75" y="373.00" width="7.48" height="1.06" fill="#fdc880"/>
<rect x="78.17" y="373.00" width="7.48" height="1.06" fill="#fed689"/>
<rect x="85.58" y="373.00" width="7.48" height="1.06" fill="#fed689"/>
<rect x="93.00" y="373.00" width="7.48" height="1.06" fill="#ecf8e2"/>
<rect x="100.42" y="373.00" width="7.48" height="1.06" fill="#e4f4f1"/>
<rect x="107.83" y="373.00" width="7.48" height="1.06" fill="#e4f5f1"/>
<rect x="115.25" y="373.00" width="7.48" height="1.06" fill="#77a6ce"/>
<rect x="122.67" y="373.00" width="7.48" height="1.06" fill="#71a0cb"/>
<rect x="130.08" y="373.00" width="7.48" height="1.06" fill="#73a2cc"/>
<rect x="48.50" y="374.00" width="7.48" height="1.06" fill="#fff4af"/>
<rect x="55.92" y="374.00" width="7.48" height="1.06" fill="#fff8b5"/>
<rect x="63.33" y="374.00" width="7.48" height="1.06" fill="#fff5b0"/>
<rect x="70.75" y="374.00" width="7.48" height="1.06" fill="#fede8f"/>
<rect x="78.17" y="374.00" width="7.48" height="1.06" fill="#fdcb82"/>
<rect x="85.58" y="374.00" width="7.48" height="1.06" fill="#fdc981"/>
<rect x="93.00" y="374.00" width="7.48" height="1.06" fill="#e9f7e7"/>
<rect x="100.42" y="374.00" width="7.48" height="1.06" fill="#eaf7e6"/>
<rect x="107.83" y="374.00" width="7.48" height="1.06" fill="#e4f4f1"/>
<rect x="115.25" y="374.00" width="7.48" height="1.06" fill="#85b3d5"/>
<rect x="122.67" y="374.00" width="7.48" height="1.06" fill="#8bb9d8"/>
<rect x="130.08" y="374.00" width="7.48" height="1.06" fill="#74a3cc"/>
<rect x="48.50" y="375.00" width="7.48" height="1.06" fill="#ffffbf"/>
<rect x="55.92" y="375.00" width="7.48" height="1.06" fill="#fbfdc6"/>
<rect x="63.33" y="375.00" width="7.48" height="1.06" fill="#fbfec6"/>
<rect x="70.75" y="375.00" width="7.48" height="1.06" fill="#feefa7"/>
<rect x="78.17" y="375.00" width="7.48" height="1.06" fill="#fffebe"/>
<rect x="85.58" y="375.00" width="7.48" height="1.06" fill="#fff1aa"/>
<rect x="93.00" y="375.00" width="7.48" height="1.06" fill="#e8f6ea"/>
<rect x="100.42" y="375.00" width="7.48" height="1.06" fill="#e7f6ec"/>
<rect x="107.83" y="375.00" width="7.48" height="1.06" fill="#eaf7e6"/>
<rect x="115.25" y="375.00" width="7.48" height="1.06" fill="#87b5d6"/>
<rect x="122.67" y="375.00" width="7.48" height="1.06" fill="#8ebcd9"/>
<rect x="130.08" y="375.00" width="7.48" height="1.06" fill="#95c2dd"/>
<rect x="48.50" y="376.00" width="7.48" height="1.06" fill="#fffbb9"/>
<rect x="55.92" y="376.00" width="7.48" height="1.06" fill="#fffab8"/>
<rect x="63.33" y="376.00" width="7.48" height="1.06" fill="#fffbb9"/>
<rect x="70.75" y="376.00" width="7.48" height="1.06" fill="#fff5b0"/>
<rect x="78.17" y="376.00" width="7.48" height="1.06" fill="#fff9b6"/>
<rect x="85.58" y="376.00" width="7.48" height="1.06" fill="#fff9b7"/>
<rect x="93.00" y="376.00" width="7.48" height="1.06" fill="#daeff6"/>
<rect x="100.42" y="376.00" width="7.48" height="1.06" fill="#d5ebf4"/>
<rect x="107.83" y="376.00" width="7.48" height="1.06" fill="#e3f4f2"/>
<rect x="115.25" y="376.00" width="7.48" height="1.06" fill="#80aed2"/>
<rect x="122.67" y="376.00" width="7.48" height="1.06" fill="#8ab9d8"/>
<rect x="130.08" y="376.00" width="7.48" height="1.06" fill="#8fbdda"/>
<rect x="48.50" y="377.00" width="7.48" height="1.06" fill="#fff7b3"/>
<rect x="55.92" y="377.00" width="7.48" height="1.06" fill="#fff4ae"/>
<rect x="63.33" y="377.00" width="7.48" height="1.06" fill="#fffbb9"/>
<rect x="70.75" y="377.00" width="7.48" height="1.06" fill="#fff8b4"/>
<rect x="78.17" y="377.00" width="7.48" height="1.06" fill="#fff6b1"/>
<rect x="85.58" y="377.00" width="7.48" height="1.06" fill="#fff1aa"/>
<rect x="93.00" y="377.00" width="7.48" height="1.06" fill="#edf8e0"/>
<rect x="100.42" y="377.00" width="7.48" height="1.06" fill="#ecf8e2"/>
<rect x="107.83" y="377.00" width="7.48" height="1.06" fill="#f4fbd4"/>
<rect x="115.25" y="377.00" width="7.48" height="1.06" fill="#99c4de"/>
<rect x="122.67" y="377.00" width="7.48" height="1.06" fill="#b8d8e9"/>
<rect x="130.08" y="377.00" width="7.48" height="1.06" fill="#a1c9e1"/>
<rect x="48.50" y="378.00" width="7.48" height="1.06" fill="#fffdbc"/>
<rect x="55.92" y="378.00" width="7.48" height="1.06" fill="#fff9b6"/>
<rect x="63.33" y="378.00" width="7.48" height="1.06" fill="#fefec1"/>
<rect x="70.75" y="378.00" width="7.48" height="1.06" fill="#fff9b5"/>
<rect x="78.17" y="378.00" width="7.48" height="1.06" fill="#fff1aa"/>
<rect x="85.58" y="378.00" width="7.48" height="1.06" fill="#fff6b1"/>
<rect x="93.00" y="378.00" width="7.48" height="1.06" fill="#ecf8e1"/>
<rect x="100.42" y="378.00" width="7.48" height="1.06" fill="#edf8e1"/>
<rect x="107.83" y="378.00" width="7.48" height="1.06" fill="#ebf7e4"/>
<rect x="115.25" y="378.00" width="7.48" height="1.06" fill="#86b4d5"/>
<rect x="122.67" y="378.00" width="7.48" height="1.06" fill="#80aed2"/>
<rect x="130.08" y="378.00" width="7.48" height="1.06" fill="#89b7d7"/>
<rect x="48.50" y="379.00" width="7.48" height="1.06" fill="#fffdbc"/>
<rect x="55.92" y="379.00" width="7.48" height="1.06" fill="#fffdbd"/>
<rect x="63.33" y="379.00" width="7.48" height="1.06" fill="#fff9b6"/>
<rect x="70.75" y="379.00" width="7.48" height="1.06" fill="#fff9b6"/>
<rect x="78.17" y="379.00" width="7.48" height="1.06" fill="#fff8b4"/>
<rect x="85.58" y="379.00" width="7.48" height="1.06" fill="#fff5b0"/>
<rect x="93.00" y="379.00" width="7.48" height="1.06" fill="#e9f6e8"/>
<rect x="100.42" y="379.00" width="7.48" height="1.06" fill="#e7f6eb"/>
<rect x="107.83" y="379.00" width="7.48" height="1.06" fill="#e0f3f8"/>
<rect x="115.25" y="379.00" width="7.48" height="1.06" fill="#99c4de"/>
<rect x="122.67" y="379.00" width="7.48" height="1.06" fill="#9fc8e0"/>
<rect x="130.08" y="379.00" width="7.48" height="1.06" fill="#a4cbe2"/>
<rect x="48.50" y="380.00" width="7.48" height="1.06" fill="#fff9b6"/>
<rect x="55.92" y="380.00" width="7.48" height="1.06" fill="#fffab7"/>
<rect x="63.33" y="380.00" width="7.48" height="1.06" fill="#fff7b3"/>
<rect x="70.75" y="380.00" width="7.48" height="1.06" fill="#fffbb9"/>
<rect x="78.17" y="380.00" width="7.48" height="1.06" fill="#fff2ab"/>
<rect x="85.58" y="380.00" width="7.48" height="1.06" fill="#fff7b4"/>
<rect x="93.00" y="380.00" width="7.48" height="1.06" fill="#e3f4f2"/>
<rect x="100.42" y="380.00" width="7.48" height="1.06" fill="#e5f5ef"/>
<rect x="107.83" y="380.00" width="7.48" height="1.06" fill="#e2f4f5"/>
<rect x="115.25" y="380.00" width="7.48" height="1.06" fill="#9ac5de"/>
<rect x="122.67" y="380.00" width="7.48" height="1.06" fill="#8fbdda"/>
<rect x="130.08" y="380.00" width="7.48" height="1.06" fill="#9ec8e0"/>
<rect x="48.50" y="381.00" width="7.48" height="1.06" fill="#fff5b0"/>
<rect x="55.92" y="381.00" width="7.48" height="1.06" fill="#fff9b5"/>
<rect x="63.33" y="381.00" width="7.48" height="1.06" fill="#fff9b6"/>
<rect x="70.75" y="381.00" width="7.48" height="1.06" fill="#fffbb9"/>
<rect x="78.17" y="381.00" width="7.48" height="1.06" fill="#fff9b6"/>
<rect x="85.58" y="381.00" width="7.48" height="1.06" fill="#fff3ad"/>
<rect x="93.00" y="381.00" width="7.48" height="1.06" fill="#e8f6ea"/>
<rect x="100.42" y="381.00" width="7.48" height="1.06" fill="#eef8df"/>
<rect x="107.83" y="381.00" width="7.48" height="1.06" fill="#ebf7e3"/>
<rect x="115.25" y="381.00" width="7.48" height="1.06" fill="#9ac5de"/>
<rect x="122.67" y="381.00" width="7.48" height="1.06" fill="#a2cae1"/>
<rect x="130.08" y="381.00" width="7.48" height="1.06" fill="#a5cce2"/>
<rect x="48.50" y="382.00" width="7.48" height="1.06" fill="#fff4ae"/>
<rect x="55.92" y="382.00" width="7.48" height="1.06" fill="#fffbb9"/>
<rect x="63.33" y="382.00" width="7.48" height="1.06" fill="#fff3ad"/>
<rect x="70.75" y="382.00" width="7.48" height="1.06" fill="#fffbb9"/>
<rect x="78.17" y="382.00" width="7.48" height="1.06" fill="#fff7b3"/>
<rect x="85.58" y="382.00" width="7.48" height="1.06" fill="#fffdbc"/>
<rect x="93.00" y="382.00" width="7.48" height="1.06" fill="#f4fbd3"/>
<rect x="100.42" y="382.00" width="7.48" height="1.06" fill="#f3fad5"/>
<rect x="107.83" y="382.00" width="7.48" height="1.06" fill="#f4fbd4"/>
<rect x="115.25" y="382.00" width="7.48" height="1.06" fill="#9fc8e0"/>
<rect x="122.67" y="382.00" width="7.48" height="1.06" fill="#a5cce2"/>
<rect x="130.08" y="382.00" width="7.48" height="1.06" fill="#99c4de"/>
<rect x="48.50" y="383.00" width="7.48" height="1.06" fill="#fff5b0"/>
<rect x="55.92" y="383.00" width="7.48" height="1.06" fill="#fffcba"/>
<rect x="63.33" y="383.00" width="7.48" height="1.06" fill="#fff7b3"/>
<rect x="70.75" y="383.00" width="7.48" height="1.06" fill="#fff4af"/>
<rect x="78.17" y="383.00" width="7.48" height="1.06" fill="#fff4af"/>
<rect x="85.58" y="383.00" width="7.48" height="1.06" fill="#fff6b1"/>
<rect x="93.00" y="383.00" width="7.48" height="1.06" fill="#eef8df"/>
<rect x="100.42" y="383.00" width="7.48" height="1.06" fill="#f1fad9"/>
<rect x="107.83" y="383.00" width="7.48" height="1.06" fill="#edf8e0"/>
<rect x="115.25" y="383.00" width="7.48" height="1.06" fill="#93c0dc"/>
<rect x="122.67" y="383.00" width="7.48" height="1.06" fill="#99c4de"/>
<rect x="130.08" y="383.00" width="7.48" height="1.06" fill="#a2cae1"/>
<rect x="48.50" y="384.00" width="7.48" height="1.06" fill="#fff9b5"/>
<rect x="55.92" y="384.00" width="7.48" height="1.06" fill="#fffab7"/>
<rect x="63.33" y="384.00" width="7.48" height="1.06" fill="#fff8b5"/>
<rect x="70.75" y="384.00" width="7.48" height="1.06" fill="#fff6b2"/>
<rect x="78.17" y="384.00" width="7.48" height="1.06" fill="#fff5b0"/>
<rect x="85.58" y="384.00" width="7.48" height="1.06" fill="#fff4af"/>
<rect x="93.00" y="384.00" width="7.48" height="1.06" fill="#edf8e0"/>
<rect x="100.42" y="384.00" width="7.48" height="1.06" fill="#edf8e0"/>
<rect x="107.83" y="384.00" width="7.48" height="1.06" fill="#f3fad5"/>
<rect x="115.25" y="384.00" width="7.48" height="1.06" fill="#a0c9e0"/>
<rect x="122.67" y="384.00" width="7.48" height="1.06" fill="#97c3dd"/>
<rect x="130.08" y="384.00" width="7.48" height="1.06" fill="#abd0e4"/>
<rect x="48.50" y="385.00" width="7.48" height="1.06" fill="#fff9b5"/>
<rect x="55.92" y="385.00" width="7.48" height="1.06" fill="#fffab8"/>
<rect x="63.33" y="385.00" width="7.48" height="1.06" fill="#fffab8"/>
<rect x="70.75" y="385.00" width="7.48" height="1.06" fill="#fff8b5"/>
<rect x="78.17" y="385.00" width="7.48" height="1.06" fill="#fffebe"/>
<rect x="85.58" y="385.00" width="7.48" height="1.06" fill="#fffbb8"/>
<rect x="93.00" y="385.00" width="7.48" height="1.06" fill="#e2f4f5"/>
<rect x="100.42" y="385.00" width="7.48" height="1.06" fill="#e4f4f1"/>
<rect x="107.83" y="385.00" width="7.48" height="1.06" fill="#e4f5f1"/>
<rect x="115.25" y="385.00" width="7.48" height="1.06" fill="#95c2dd"/>
<rect x="122.67" y="385.00" width="7.48" height="1.06" fill="#93c0dc"/>
<rect x="130.08" y="385.00" width="7.48" height="1.06" fill="#82b0d3"/>
<rect x="48.50" y="386.00" width="7.48" height="1.06" fill="#ffffbe"/>
<rect x="55.92" y="386.00" width="7.48" height="1.06" fill="#fffbb9"/>
<rect x="63.33" y="386.00" width="7.48" height="1.06" fill="#fafdc8"/>
<rect x="70.75" y="386.00" width="7.48" height="1.06" fill="#f8fccc"/>
<rect x="78.17" y="386.00" width="7.48" height="1.06" fill="#fffcba"/>
<rect x="85.58" y="386.00" width="7.48" height="1.06" fill="#fbfec6"/>
<rect x="93.00" y="386.00" width="7.48" height="1.06" fill="#cce6f1"/>
<rect x="100.42" y="386.00" width="7.48" height="1.06" fill="#e2f4f5"/>
<rect x="107.83" y="386.00" width="7.48" height="1.06" fill="#e2f4f4"/>
<rect x="115.25" y="386.00" width="7.48" height="1.06" fill="#80aed2"/>
<rect x="122.67" y="386.00" width="7.48" height="1.06" fill="#82b1d3"/>
<rect x="130.08" y="386.00" width="7.48" height="1.06" fill="#7fadd2"/>
<rect x="48.50" y="387.00" width="7.48" height="1.06" fill="#ffffbf"/>
<rect x="55.92" y="387.00" width="7.48" height="1.06" fill="#fff8b5"/>
<rect x="63.33" y="387.00" width="7.48" height="1.06" fill="#fffbb9"/>
<rect x="70.75" y="387.00" width="7.48" height="1.06" fill="#feefa7"/>
<rect x="78.17" y="387.00" width="7.48" height="1.06" fill="#fffebd"/>
<rect x="85.58" y="387.00" width="7.48" height="1.06" fill="#fff6b1"/>
<rect x="93.00" y="387.00" width="7.48" height="1.06" fill="#eaf7e5"/>
<rect x="100.42" y="387.00" width="7.48" height="1.06" fill="#e9f6e8"/>
<rect x="107.83" y="387.00" width="7.48" height="1.06" fill="#ecf8e2"/>
<rect x="115.25" y="387.00" width="7.48" height="1.06" fill="#86b4d5"/>
<rect x="122.67" y="387.00" width="7.48" height="1.06" fill="#8ab8d7"/>
<rect x="130.08" y="387.00" width="7.48" height="1.06" fill="#8dbbd9"/>
<rect x="48.50" y="388.00" width="7.48" height="1.06" fill="#fff7b2"/>
<rect x="55.92" y="388.00" width="7.48" height="1.06" fill="#fff8b5"/>
<rect x="63.33" y="388.00" width="7.48" height="1.06" fill="#feeca2"/>
<rect x="70.75" y="388.00" width="7.48" height="1.06" fill="#fff8b5"/>
<rect x="78.17" y="388.00" width="7.48" height="1.06" fill="#fff8b4"/>
<rect x="85.58" y="388.00" width="7.48" height="1.06" fill="#fffab7"/>
<rect x="93.00" y="388.00" width="7.48" height="1.06" fill="#e6f5ed"/>
<rect x="100.42" y="388.00" width="7.48" height="1.06" fill="#ebf7e4"/>
<rect x="107.83" y="388.00" width="7.48" height="1.06" fill="#def2f7"/>
<rect x="115.25" y="388.00" width="7.48" height="1.06" fill="#93c1dc"/>
<rect x="122.67" y="388.00" width="7.48" height="1.06" fill="#8ab8d7"/>
<rect x="130.08" y="388.00" width="7.48" height="1.06" fill="#94c1dc"/>
<rect x="48.50" y="389.00" width="7.48" height="1.06" fill="#fffdbc"/>
<rect x="55.92" y="389.00" width="7.48" height="1.06" fill="#fffebe"/>
<rect x="63.33" y="389.00" width="7.48" height="1.06" fill="#fffbb8"/>
<rect x="70.75" y="389.00" width="7.48" height="1.06" fill="#fffdbc"/>
<rect x="78.17" y="389.00" width="7.48" height="1.06" fill="#fffab7"/>
<rect x="85.58" y="389.00" width="7.48" height="1.06" fill="#fffebd"/>
<rect x="93.00" y="389.00" width="7.48" height="1.06" fill="#e9f6e8"/>
<rect x="100.42" y="389.00" width="7.48" height="1.06" fill="#ecf7e3"/>
<rect x="107.83" y="389.00" width="7.48" height="1.06" fill="#eaf7e6"/>
<rect x="115.25" y="389.00" width="7.48" height="1.06" fill="#81b0d3"/>
<rect x="122.67" y="389.00" width="7.48" height="1.06" fill="#78a6ce"/>
<rect x="130.08" y="389.00" width="7.48" height="1.06" fill="#8fbdda"/>
<rect x="48.50" y="390.00" width="7.48" height="1.06" fill="#fff5af"/>
<rect x="55.92" y="390.00" width="7.48" height="1.06" fill="#fff3ad"/>
<rect x="63.33" y="390.00" width="7.48" height="1.06" fill="#fffab8"/>
<rect x="70.75" y="390.00" width="7.48" height="1.06" fill="#fffebd"/>
<rect x="78.17" y="390.00" width="7.48" height="1.06" fill="#fffdbc"/>
<rect x="85.58" y="390.00" width="7.48" height="1.06" fill="#fffab8"/>
<rect x="93.00" y="390.00" width="7.48" height="1.06" fill="#eaf7e6"/>
<rect x="100.42" y="390.00" width="7.48" height="1.06" fill="#eaf7e5"/>
<rect x="107.83" y="390.00" width="7.48" height="1.06" fill="#ebf7e4"/>
<rect x="115.25" y="390.00" width="7.48" height="1.06" fill="#9bc5df"/>
<rect x="122.67" y="390.00" width="7.48" height="1.06" fill="#93c1dc"/>
<rect x="130.08" y="390.00" width="7.48" height="1.06" fill="#97c3dd"/>
<rect x="48.50" y="391.00" width="7.48" height="1.06" fill="#fcfec5"/>
<rect x="55.92" y="391.00" width="7.48" height="1.06" fill="#feffc0"/>
<rect x="63.33" y="391.00" width="7.48" height="1.06" fill="#fafdc8"/>
<rect x="70.75" y="391.00" width="7.48" height="1.06" fill="#fffcbb"/>
<rect x="78.17" y="391.00" width="7.48" height="1.06" fill="#fbfec6"/>
<rect x="85.58" y="391.00" width="7.48" height="1.06" fill="#f8fccb"/>
<rect x="93.00" y="391.00" width="7.48" height="1.06" fill="#dcf0f6"/>
<rect x="100.42" y="391.00" width="7.48" height="1.06" fill="#d1e9f2"/>
<rect x="107.83" y="391.00" width="7.48" height="1.06" fill="#e1f3f6"/>
<rect x="115.25" y="391.00" width="7.48" height="1.06" fill="#8ebcda"/>
<rect x="122.67" y="391.00" width="7.48" height="1.06" fill="#8dbcd9"/>
<rect x="130.08" y="391.00" width="7.48" height="1.06" fill="#9fc8e0"/>
<rect x="48.50" y="392.00" width="7.48" height="1.06" fill="#fff5af"/>
<rect x="55.92" y="392.00" width="7.48" height="1.06" fill="#fffdbd"/>
<rect x="63.33" y="392.00" width="7.48" height="1.06" fill="#fff9b7"/>
<rect x="70.75" y="392.00" width="7.48" height="1.06" fill="#fff5af"/>
<rect x="78.17" y="392.00" width="7.48" height="1.06" fill="#fff9b6"/>
<rect x="85.58" y="392.00" width="7.48" height="1.06" fill="#fff9b5"/>
<rect x="93.00" y="392.00" width="7.48" height="1.06" fill="#eff9dd"/>
<rect x="100.42" y="392.00" width="7.48" height="1.06" fill="#eef9de"/>
<rect x="107.83" y="392.00" width="7.48" height="1.06" fill="#f3fad5"/>
<rect x="115.25" y="392.00" width="7.48" height="1.06" fill="#89b7d7"/>
<rect x="122.67" y="392.00" width="7.48" height="1.06" fill="#7aa9cf"/>
<rect x="130.08" y="392.00" width="7.48" height="1.06" fill="#95c2dd"/>
<rect x="48.50" y="393.00" width="7.48" height="1.06" fill="#ffffc0"/>
<rect x="55.92" y="393.00" width="7.48" height="1.06" fill="#fffcba"/>
<rect x="63.33" y="393.00" width="7.48" height="1.06" fill="#fffbb9"/>
<rect x="70.75" y="393.00" width="7.48" height="1.06" fill="#fffbb9"/>
<rect x="78.17" y="393.00" width="7.48" height="1.06" fill="#fff9b6"/>
<rect x="85.58" y="393.00" width="7.48" height="1.06" fill="#fffbb9"/>
<rect x="93.00" y="393.00" width="7.48" height="1.06" fill="#e7f6ea"/>
<rect x="100.42" y="393.00" width="7.48" height="1.06" fill="#e8f6e9"/>
<rect x="107.83" y="393.00" width="7.48" height="1.06" fill="#e1f3f7"/>
<rect x="115.25" y="393.00" width="7.48" height="1.06" fill="#7faed2"/>
<rect x="122.67" y="393.00" width="7.48" height="1.06" fill="#88b7d7"/>
<rect x="130.08" y="393.00" width="7.48" height="1.06" fill="#7aa9cf"/>
<rect x="48.50" y="394.00" width="7.48" height="1.06" fill="#fff4ae"/>
<rect x="55.92" y="394.00" width="7.48" height="1.06" fill="#fff1aa"/>
<rect x="63.33" y="394.00" width="7.48" height="1.06" fill="#fff7b2"/>
<rect x="70.75" y="394.00" width="7.48" height="1.06" fill="#feefa7"/>
<rect x="78.17" y="394.00" width="7.48" height="1.06" fill="#feeca3"/>
<rect x="85.58" y="394.00" width="7.48" height="1.06" fill="#fff4af"/>
<rect x="93.00" y="394.00" width="7.48" height="1.06" fill="#f5fbd1"/>
<rect x="100.42" y="394.00" width="7.48" height="1.06" fill="#f4fbd4"/>
<rect x="107.83" y="394.00" width="7.48" height="1.06" fill="#f7fcce"/>
<rect x="115.25" y="394.00" width="7.48" height="1.06" fill="#9ec8e0"/>
<rect x="122.67" y="394.00" width="7.48" height="1.06" fill="#a7cee3"/>
<rect x="130.08" y="394.00" width="7.48" height="1.06" fill="#9dc7df"/>
<rect x="48.50" y="395.00" width="7.48" height="1.06" fill="#fff1aa"/>
<rect x="55.92" y="395.00" width="7.48" height="1.06" fill="#fff1aa"/>
<rect x="63.33" y="395.00" width="7.48" height="1.06" fill="#fff4ae"/>
<rect x="70.75" y="395.00" width="7.48" height="1.06" fill="#fff1aa"/>
<rect x="78.17" y="395.00" width="7.48" height="1.06" fill="#fffab7"/>
<rect x="85.58" y="395.00" width="7.48" height="1.06" fill="#fff6b1"/>
<rect x="93.00" y="395.00" width="7.48" height="1.06" fill="#ebf7e3"/>
<rect x="100.42" y="395.00" width="7.48" height="1.06" fill="#ecf8e2"/>
<rect x="107.83" y="395.00" width="7.48" height="1.06" fill="#ecf8e2"/>
<rect x="115.25" y="395.00" width="7.48" height="1.06" fill="#b0d4e6"/>
<rect x="122.67" y="395.00" width="7.48" height="1.06" fill="#b9d9ea"/>
<rect x="130.08" y="395.00" width="7.48" height="1.06" fill="#bfddec"/>
<rect x="48.50" y="396.00" width="7.48" height="1.06" fill="#fff4ae"/>
<rect x="55.92" y="396.00" width="7.48" height="1.06" fill="#fff5af"/>
<rect x="63.33" y="396.00" width="7.48" height="1.06" fill="#feeda4"/>
<rect x="70.75" y="396.00" width="7.48" height="1.06" fill="#fff3ad"/>
<rect x="78.17" y="396.00" width="7.48" height="1.06" fill="#feeba1"/>
<rect x="85.58" y="396.00" width="7.48" height="1.06" fill="#feeea6"/>
<rect x="93.00" y="396.00" width="7.48" height="1.06" fill="#f3fad5"/>
<rect x="100.42" y="396.00" width="7.48" height="1.06" fill="#f6fccf"/>
<rect x="107.83" y="396.00" width="7.48" height="1.06" fill="#edf8df"/>
<rect x="115.25" y="396.00" width="7.48" height="1.06" fill="#a9cfe4"/>
<rect x="122.67" y="396.00" width="7.48" height="1.06" fill="#9bc6df"/>
<rect x="130.08" y="396.00" width="7.48" height="1.06" fill="#a2cae1"/>
<rect x="48.50" y="397.00" width="7.48" height="1.06" fill="#feffc1"/>
<rect x="55.92" y="397.00" width="7.48" height="1.06" fill="#fffbb9"/>
<rect x="63.33" y="397.00" width="7.48" height="1.06" fill="#feffc1"/>
<rect x="70.75" y="397.00" width="7.48" height="1.06" fill="#fffdbc"/>
<rect x="78.17" y="397.00" width="7.48" height="1.06" fill="#fffbb9"/>
<rect x="85.58" y="397.00" width="7.48" height="1.06" fill="#fffab7"/>
<rect x="93.00" y="397.00" width="7.48" height="1.06" fill="#edf8e1"/>
<rect x="100.42" y="397.00" width="7.48" height="1.06" fill="#e7f6eb"/>
<rect x="107.83" y="397.00" width="7.48" height="1.06" fill="#e9f6e8"/>
<rect x="115.25" y="397.00" width="7.48" height="1.06" fill="#8cbad8"/>
<rect x="122.67" y="397.00" width="7.48" height="1.06" fill="#93c1dc"/>
<rect x="130.08" y="397.00" width="7.48" height="1.06" fill="#9bc6df"/>
<rect x="48.50" y="398.60" width="7.48" height="1.06" fill="#e8f6ea"/>
<rect x="55.92" y="398.60" width="7.48" height="1.06" fill="#dff2f8"/>
<rect x="63.33" y="398.60" width="7.48" height="1.06" fill="#e1f3f6"/>
<rect x="70.75" y="398.60" width="7.48" height="1.06" fill="#d0e8f2"/>
<rect x="78.17" y="398.60" width="7.48" height="1.06" fill="#e5f5ef"/>
<rect x="85.58" y="398.60" width="7.48" height="1.06" fill="#cbe5f0"/>
<rect x="93.00" y="398.60" width="7.48" height="1.06" fill="#fc9961"/>
<rect x="100.42" y="398.60" width="7.48" height="1.06" fill="#fedf8f"/>
<rect x="107.83" y="398.60" width="7.48" height="1.06" fill="#fede8f"/>
<rect x="115.25" y="398.60" width="7.48" height="1.06" fill="#e6f5ed"/>
<rect x="122.67" y="398.60" width="7.48" height="1.06" fill="#e0f3f8"/>
<rect x="130.08" y="398.60" width="7.48" height="1.06" fill="#e5f5ef"/>
<rect x="48.50" y="399.60" width="7.48" height="1.06" fill="#e0f3f8"/>
<rect x="55.92" y="399.60" width="7.48" height="1.06" fill="#d8eef5"/>
<rect x="63.33" y="399.60" width="7.48" height="1.06" fill="#def1f7"/>
<rect x="70.75" y="399.60" width="7.48" height="1.06" fill="#e0f3f8"/>
<rect x="78.17" y="399.60" width="7.48" height="1.06" fill="#e3f4f3"/>
<rect x="85.58" y="399.60" width="7.48" height="1.06" fill="#e5f5ef"/>
<rect x="93.00" y="399.60" width="7.48" height="1.06" fill="#fc935d"/>
<rect x="100.42" y="399.60" width="7.48" height="1.06" fill="#fed589"/>
<rect x="107.83" y="399.60" width="7.48" height="1.06" fill="#fee091"/>
<rect x="115.25" y="399.60" width="7.48" height="1.06" fill="#e7f6eb"/>
<rect x="122.67" y="399.60" width="7.48" height="1.06" fill="#e8f6e9"/>
<rect x="130.08" y="399.60" width="7.48" height="1.06" fill="#e5f5ee"/>
<rect x="48.50" y="400.60" width="7.48" height="1.06" fill="#e9f6e8"/>
<rect x="55.92" y="400.60" width="7.48" height="1.06" fill="#e4f4f1"/>
<rect x="63.33" y="400.60" width="7.48" height="1.06" fill="#eaf7e6"/>
<rect x="70.75" y="400.60" width="7.48" height="1.06" fill="#e1f3f6"/>
<rect x="78.17" y="400.60" width="7.48" height="1.06" fill="#dcf1f7"/>
<rect x="85.58" y="400.60" width="7.48" height="1.06" fill="#e0f3f7"/>
<rect x="93.00" y="400.60" width="7.48" height="1.06" fill="#fc9c63"/>
<rect x="100.42" y="400.60" width="7.48" height="1.06" fill="#fed88a"/>
<rect x="107.83" y="400.60" width="7.48" height="1.06" fill="#fee293"/>
<rect x="115.25" y="400.60" width="7.48" height="1.06" fill="#d9eef5"/>
<rect x="122.67" y="400.60" width="7.48" height="1.06" fill="#e1f3f6"/>
<rect x="130.08" y="400.60" width="7.48" height="1.06" fill="#e4f5f1"/>
<rect x="48.50" y="401.60" width="7.48" height="1.06" fill="#e5f5ef"/>
<rect x="55.92" y="401.60" width="7.48" height="1.06" fill="#ddf1f7"/>
<rect x="63.33" y="401.60" width="7.48" height="1.06" fill="#e7f6eb"/>
<rect x="70.75" y="401.60" width="7.48" height="1.06" fill="#d6edf4"/>
<rect x="78.17" y="401.60" width="7.48" height="1.06" fill="#d8eef5"/>
<rect x="85.58" y="401.60" width="7.48" height="1.06" fill="#e2f4f4"/>
<rect x="93.00" y="401.60" width="7.48" height="1.06" fill="#fdac6d"/>
<rect x="100.42" y="401.60" width="7.48" height="1.06" fill="#fdc17b"/>
<rect x="107.83" y="401.60" width="7.48" height="1.06" fill="#fee598"/>
<rect x="115.25" y="401.60" width="7.48" height="1.06" fill="#e8f6ea"/>
<rect x="122.67" y="401.60" width="7.48" height="1.06" fill="#e1f3f6"/>
<rect x="130.08" y="401.60" width="7.48" height="1.06" fill="#e9f6e8"/>
<rect x="48.50" y="402.60" width="7.48" height="0.46" fill="#e7f6eb"/>
<rect x="55.92" y="402.60" width="7.48" height="0.46" fill="#e6f5ed"/>
<rect x="63.33" y="402.60" width="7.48" height="0.46" fill="#e6f5ed"/>
<rect x="70.75" y="402.60" width="7.48" height="0.46" fill="#e0f3f8"/>
<rect x="78.17" y="402.60" width="7.48" height="0.46" fill="#e4f4f1"/>
<rect x="85.58" y="402.60" width="7.48" height="0.46" fill="#ddf1f7"/>
<rect x="93.00" y="402.60" width="7.48" height="0.46" fill="#fda569"/>
<rect x="100.42" y="402.60" width="7.48" height="0.46" fill="#fece84"/>
<rect x="107.83" y="402.60" width="7.48" height="0.46" fill="#fee395"/>
<rect x="115.25" y="402.60" width="7.48" height="0.46" fill="#e4f5f1"/>
<rect x="122.67" y="402.60" width="7.48" height="0.46" fill="#e2f4f5"/>
<rect x="130.08" y="402.60" width="7.48" height="0.46" fill="#e1f3f6"/>
<rect x="48.50" y="403.00" width="7.48" height="1.06" fill="#fc9c63"/>
<rect x="55.92" y="403.00" width="7.48" height="1.06" fill="#fc8f5a"/>
<rect x="63.33" y="403.00" width="7.48" height="1.06" fill="#fc925c"/>
<rect x="70.75" y="403.00" width="7.48" height="1.06" fill="#b8d9e9"/>
<rect x="78.17" y="403.00" width="7.48" height="1.06" fill="#a4cce2"/>
<rect x="85.58" y="403.00" width="7.48" height="1.06" fill="#b8d9e9"/>
<rect x="93.00" y="403.00" width="7.48" height="1.06" fill="#f0f9da"/>
<rect x="100.42" y="403.00" width="7.48" height="1.06" fill="#fecf85"/>
<rect x="107.83" y="403.00" width="7.48" height="1.06" fill="#fdbd79"/>
<rect x="115.25" y="403.00" width="7.48" height="1.06" fill="#a7cde3"/>
<rect x="122.67" y="403.00" width="7.48" height="1.06" fill="#b4d6e8"/>
<rect x="130.08" y="403.00" width="7.48" height="1.06" fill="#aacfe4"/>
<rect x="48.50" y="404.00" width="7.48" height="1.06" fill="#fc945d"/>
<rect x="55.92" y="404.00" width="7.48" height="1.06" fill="#f78152"/>
<rect x="63.33" y="404.00" width="7.48" height="1.06" fill="#fc9961"/>
<rect x="70.75" y="404.00" width="7.48" height="1.06" fill="#badaea"/>
<rect x="78.17" y="404.00" width="7.48" height="1.06" fill="#c9e4f0"/>
<rect x="85.58" y="404.00" width="7.48" height="1.06" fill="#c4e1ee"/>
<rect x="93.00" y="404.00" width="7.48" height="1.06" fill="#f0f9da"/>
<rect x="100.42" y="404.00" width="7.48" height="1.06" fill="#fecd84"/>
<rect x="107.83" y="404.00" width="7.48" height="1.06" fill="#fecf84"/>
<rect x="115.25" y="404.00" width="7.48" height="1.06" fill="#a9cfe4"/>
<rect x="122.67" y="404.00" width="7.48" height="1.06" fill="#abd0e5"/>
<rect x="130.08" y="404.00" width="7.48" height="1.06" fill="#b0d4e6"/>
<rect x="48.50" y="405.00" width="7.48" height="1.06" fill="#fc8e5a"/>
<rect x="55.92" y="405.00" width="7.48" height="1.06" fill="#fc905b"/>
<rect x="63.33" y="405.00" width="7.48" height="1.06" fill="#fa8856"/>
<rect x="70.75" y="405.00" width="7.48" height="1.06" fill="#acd1e5"/>
<rect x="78.17" y="405.00" width="7.48" height="1.06" fill="#b5d7e8"/>
<rect x="85.58" y="405.00" width="7.48" height="1.06" fill="#d2eaf3"/>
<rect x="93.00" y="405.00" width="7.48" height="1.06" fill="#f0f9db"/>
<rect x="100.42" y="405.00" width="7.48" height="1.06" fill="#fed98b"/>
<rect x="107.83" y="405.00" width="7.48" height="1.06" fill="#fdbb77"/>
<rect x="115.25" y="405.00" width="7.48" height="1.06" fill="#b9daea"/>
<rect x="122.67" y="405.00" width="7.48" height="1.06" fill="#b3d5e7"/>
<rect x="130.08" y="405.00" width="7.48" height="1.06" fill="#b4d6e8"/>
<rect x="48.50" y="406.00" width="7.48" height="1.06" fill="#fc905b"/>
<rect x="55.92" y="406.00" width="7.48" height="1.06" fill="#fb8a57"/>
<rect x="63.33" y="406.00" width="7.48" height="1.06" fill="#fb8a57"/>
<rect x="70.75" y="406.00" width="7.48" height="1.06" fill="#c8e3ef"/>
<rect x="78.17" y="406.00" width="7.48" height="1.06" fill="#bedceb"/>
<rect x="85.58" y="406.00" width="7.48" height="1.06" fill="#b0d3e6"/>
<rect x="93.00" y="406.00" width="7.48" height="1.06" fill="#f0f9db"/>
<rect x="100.42" y="406.00" width="7.48" height="1.06" fill="#fed186"/>
<rect x="107.83" y="406.00" width="7.48" height="1.06" fill="#fdb876"/>
<rect x="115.25" y="406.00" width="7.48" height="1.06" fill="#9fc8e0"/>
<rect x="122.67" y="406.00" width="7.48" height="1.06" fill="#a5cce2"/>
<rect x="130.08" y="406.00" width="7.48" height="1.06" fill="#b2d5e7"/>
<rect x="48.50" y="407.00" width="7.48" height="0.56" fill="#fc9a62"/>
<rect x="55.92" y="407.00" width="7.48" height="0.56" fill="#fa8857"/>
<rect x="63.33" y="407.00" width="7.48" height="0.56" fill="#fc8f5a"/>
<rect x="70.75" y="407.00" width="7.48" height="0.56" fill="#b1d4e7"/>
<rect x="78.17" y="407.00" width="7.48" height="0.56" fill="#b3d5e7"/>
<rect x="85.58" y="407.00" width="7.48" height="0.56" fill="#bddceb"/>
<rect x="93.00" y="407.00" width="7.48" height="0.56" fill="#eef8df"/>
<rect x="100.42" y="407.00" width="7.48" height="0.56" fill="#fecf85"/>
<rect x="107.83" y="407.00" width="7.48" height="0.56" fill="#fdbc78"/>
<rect x="115.25" y="407.00" width="7.48" height="0.56" fill="#c1dfed"/>
<rect x="122.67" y="407.00" width="7.48" height="0.56" fill="#acd0e5"/>
<rect x="130.08" y="407.00" width="7.48" height="0.56" fill="#b9d9ea"/>
</g>
<path d="M48.5 282V213.6H137.5V282" fill="none" stroke="#d42a3a" stroke-width="1.1"/>
<rect x="48.5" y="282" width="89.0" height="116" fill="none" stroke="#3aa4e0" stroke-width="1.1"/>
<path d="M48.3 216.8H47.6V217.5H48.3M48.3 215.8H46.8V217.2H47.6M48.3 214.6H46.5V216.5H46.8M48.3 218.2H47.9V219.1H48.3M46.5 215.5H45.9V218.6H47.9M48.3 220.4H47.9V221.1H48.3M48.3 219.9H47.0V220.8H47.9M48.3 222.1H47.9V223.0H48.3M47.0 220.3H46.3V222.5H47.9M45.9 217.1H45.5V221.4H46.3M48.3 224.4H47.5V225.2H48.3M48.3 223.8H47.1V224.8H47.5M48.3 226.1H47.4V227.2H48.3M47.1 224.3H46.3V226.7H47.4M45.5 219.3H45.1V225.5H46.3M48.3 228.1H47.4V229.0H48.3M47.4 228.5H46.7V230.1H48.3M48.3 231.4H47.9V232.4H48.3M47.9 231.9H47.4V233.2H48.3M46.7 229.3H46.4V232.5H47.4M48.3 234.8H47.9V235.7H48.3M48.3 234.1H47.2V235.3H47.9M46.4 230.9H46.1V234.7H47.2M45.1 222.4H44.4V232.8H46.1M48.3 236.7H47.8V237.6H48.3M47.8 237.1H47.3V238.5H48.3M48.3 240.3H48.0V241.0H48.3M48.3 239.4H47.3V240.7H48.0M48.3 241.8H48.0V242.6H48.3M47.3 240.0H46.5V242.2H48.0M47.3 237.8H46.0V241.1H46.5M48.3 243.1H47.9V243.7H48.3M48.3 245.4H47.4V246.1H48.3M48.3 244.6H46.6V245.8H47.4M46.6 245.2H46.1V246.9H48.3M47.9 243.4H45.6V246.0H46.1M48.3 248.0H48.0V249.0H48.3M48.3 250.0H47.5V251.0H48.3M48.0 248.5H46.7V250.5H47.5M45.6 244.7H45.4V249.5H46.7M46.0 239.5H44.5V247.1H45.4M44.4 227.6H44.1V243.3H44.5M48.3 251.7H47.8V252.4H48.3M47.8 252.1H47.4V253.1H48.3M48.3 254.8H48.0V255.6H48.3M48.3 254.0H47.3V255.2H48.0M47.4 252.6H46.4V254.6H47.3M48.3 257.3H47.4V258.1H48.3M48.3 256.6H46.8V257.7H47.4M46.4 253.6H45.8V257.2H46.8M48.3 259.3H47.5V260.5H48.3M48.3 261.4H48.0V262.3H48.3M48.3 263.4H48.0V264.4H48.3M48.0 261.9H47.4V263.9H48.0M47.5 259.9H46.6V262.9H47.4M45.8 255.4H45.5V261.4H46.6M48.3 265.9H48.0V266.7H48.3M48.3 265.1H47.2V266.3H48.0M48.3 267.4H47.8V268.1H48.3M47.2 265.7H46.3V267.8H47.8M48.3 268.9H47.7V269.6H48.3M47.7 269.2H47.0V270.3H48.3M47.0 269.7H46.4V271.1H48.3M46.3 266.7H45.8V270.4H46.4M48.3 272.0H47.8V272.7H48.3M48.3 273.8H47.4V274.7H48.3M47.8 272.3H46.8V274.3H47.4M45.8 268.6H45.2V273.3H46.8M48.3 276.4H47.5V277.4H48.3M48.3 275.5H46.7V276.9H47.5M48.3 278.6H47.5V279.5H48.3M48.3 280.4H47.6V281.5H48.3M47.5 279.0H46.8V281.0H47.6M46.7 276.2H46.2V280.0H46.8M45.2 270.9H44.5V278.1H46.2M45.5 258.4H44.1V274.5H44.5M44.1 235.4H43.5V266.5H44.1" fill="none" stroke="#111" stroke-width="0.75"/>
<path d="M48.3 282.9H47.5V283.8H48.3M48.3 284.6H47.6V285.3H48.3M48.3 286.8H47.6V287.8H48.3M48.3 286.0H47.0V287.3H47.6M47.6 284.9H46.3V286.7H47.0M47.5 283.4H46.0V285.8H46.3M48.3 289.8H47.7V290.8H48.3M48.3 288.9H46.9V290.3H47.7M46.0 284.6H45.3V289.6H46.9M48.3 292.7H47.6V293.6H48.3M48.3 291.9H46.9V293.1H47.6M48.3 294.5H48.0V295.4H48.3M46.9 292.5H46.5V295.0H48.0M48.3 296.3H47.5V297.3H48.3M48.3 299.6H48.0V300.3H48.3M48.0 300.0H47.5V300.9H48.3M48.3 298.6H46.9V300.4H47.5M47.5 296.8H46.7V299.5H46.9M46.5 293.7H45.9V298.2H46.7M48.3 301.7H48.0V302.4H48.3M48.3 303.2H47.9V303.9H48.3M47.9 303.5H47.7V304.8H48.3M48.0 302.0H47.4V304.2H47.7M48.3 306.0H48.0V307.1H48.3M47.4 303.1H47.1V306.5H48.0M45.9 295.9H45.4V304.8H47.1M45.3 287.1H44.5V300.4H45.4M48.3 309.5H47.9V310.7H48.3M48.3 308.2H47.3V310.1H47.9M48.3 312.2H47.7V312.9H48.3M48.3 311.6H47.3V312.6H47.7M47.3 312.1H46.9V313.7H48.3M47.3 309.1H46.0V312.9H46.9M48.3 314.7H47.4V315.7H48.3M48.3 316.5H48.0V317.2H48.3M48.3 317.9H47.6V319.0H48.3M48.0 316.8H47.0V318.5H47.6M47.4 315.2H46.2V317.6H47.0M48.3 320.7H47.5V321.5H48.3M48.3 320.0H46.9V321.1H47.5M46.2 316.4H45.7V320.6H46.9M46.0 311.0H45.2V318.5H45.7M48.3 322.5H47.8V323.4H48.3M48.3 324.2H47.8V325.2H48.3M48.3 326.2H48.0V327.3H48.3M47.8 324.7H47.1V326.8H48.0M47.8 323.0H46.8V325.7H47.1M48.3 329.4H47.7V330.1H48.3M47.7 329.8H47.0V330.8H48.3M48.3 328.5H46.6V330.3H47.0M48.3 331.9H47.8V332.9H48.3M46.6 329.4H46.2V332.4H47.8M46.8 324.4H45.3V330.9H46.2M48.3 333.8H47.5V335.0H48.3M48.3 337.2H47.9V338.0H48.3M48.3 336.2H47.1V337.6H47.9M47.5 334.4H46.7V336.9H47.1M45.3 327.6H45.0V335.7H46.7M45.2 314.8H44.2V331.6H45.0M44.5 293.7H43.8V323.2H44.2M48.3 338.6H47.8V339.3H48.3M48.3 340.4H47.8V341.2H48.3M48.3 341.7H47.7V342.5H48.3M47.8 340.8H47.3V342.1H47.7M47.8 339.0H47.0V341.5H47.3M48.3 344.5H47.6V345.5H48.3M48.3 343.4H46.8V345.0H47.6M48.3 346.6H47.5V347.8H48.3M46.8 344.2H46.5V347.2H47.5M48.3 349.0H47.7V349.9H48.3M47.7 349.4H47.4V350.8H48.3M48.3 352.4H47.9V353.1H48.3M48.3 351.7H47.3V352.7H47.9M47.4 350.1H47.0V352.2H47.3M46.5 345.7H45.7V351.2H47.0M47.0 340.2H45.3V348.4H45.7M48.3 353.8H47.7V354.5H48.3M48.3 356.2H47.7V356.9H48.3M48.3 355.4H46.9V356.6H47.7M47.7 354.1H46.3V356.0H46.9M48.3 357.8H47.7V358.4H48.3M47.7 358.1H47.1V358.9H48.3M48.3 359.4H47.6V360.1H48.3M47.6 359.8H47.0V361.0H48.3M48.3 361.7H47.6V362.7H48.3M47.0 360.4H46.3V362.2H47.6M47.1 358.5H46.0V361.3H46.3M48.3 363.7H47.7V364.6H48.3M47.7 364.1H47.1V365.6H48.3M46.0 359.9H45.7V364.9H47.1M46.3 355.1H45.1V362.4H45.7M45.3 344.3H44.6V358.7H45.1M48.3 366.8H47.6V367.8H48.3M47.6 367.3H46.8V368.8H48.3M48.3 369.7H47.7V370.5H48.3M48.3 371.3H48.0V372.3H48.3M48.3 373.0H47.7V373.7H48.3M48.0 371.8H47.3V373.4H47.7M47.7 370.1H47.0V372.6H47.3M46.8 368.0H46.3V371.4H47.0M48.3 374.7H48.0V375.8H48.3M48.3 376.6H47.5V377.2H48.3M47.5 376.9H47.3V378.0H48.3M48.0 375.3H46.4V377.5H47.3M46.3 369.7H45.7V376.4H46.4M44.6 351.5H43.7V373.0H45.7M48.3 380.0H47.5V380.9H48.3M48.3 379.1H47.2V380.4H47.5M48.3 382.3H47.4V383.0H48.3M48.3 381.7H46.6V382.7H47.4M48.3 383.9H47.7V384.7H48.3M48.3 385.5H47.8V386.4H48.3M47.7 384.3H47.1V385.9H47.8M46.6 382.2H46.2V385.1H47.1M47.2 379.8H45.7V383.6H46.2M48.3 388.1H47.4V388.9H48.3M48.3 387.3H47.2V388.5H47.4M48.3 390.6H48.0V391.4H48.3M48.3 389.7H47.6V391.0H48.0M47.2 387.9H46.4V390.4H47.6M45.7 381.7H45.1V389.1H46.4M48.3 392.7H47.9V393.5H48.3M48.3 392.1H47.1V393.1H47.9M48.3 394.4H47.4V395.2H48.3M47.4 394.8H46.6V395.9H48.3M46.6 395.4H45.8V396.9H48.3M47.1 392.6H44.9V396.2H45.8M45.1 385.4H44.6V394.4H44.9M43.7 362.3H43.2V389.9H44.6M43.8 308.5H42.8V376.1H43.2" fill="none" stroke="#111" stroke-width="0.75"/>
<path d="M48.3 400.5H45.5V405.5H48.3M45.5 403H44" fill="none" stroke="#222" stroke-width="0.6"/>
<path d="M42 297.7H38.7V341H42M42 289.5V306M42 320V361.7M42 289.5H44.5M42 306H44.5M42 320H44.5M42 361.7H44.5" fill="none" stroke="#333" stroke-width="0.6"/>
<path d="M46 214.7H39.5V244.7H44" fill="none" stroke="#333" stroke-width="0.6"/>
<path d="M52.5 212.2V210.4H66.8V212.2M55.5 210.4V209.6H64.8V210.4M74.8 212.2V210.4H89.0V212.2M77.8 210.4V209.6H87.0V210.4M97.0 212.2V206.3H111.2V210.4M105.1 212.2V210.4H112.8V212.2M119.2 212.2V210.4H133.5V212.2M122.2 210.4V209.6H131.5V210.4" fill="none" stroke="#333" stroke-width="0.7"/>
<path d="M138.6 214.7L144.7 214.7" stroke="#2a2a2a" stroke-width="0.9"/>
<text x="148.7" y="217.5" font-size="6.5" fill="#c43a55" text-anchor="start" stroke="#c43a55" stroke-width="0.12">NCAM1</text>
<path d="M138.6 220.5L144.7 223.1" stroke="#2a2a2a" stroke-width="0.9"/>
<text x="148.7" y="227.1" font-size="6.5" fill="#c43a55" text-anchor="start" stroke="#c43a55" stroke-width="0.12">CCR7</text>
<path d="M138.6 227.3L144.7 234.4" stroke="#2a2a2a" stroke-width="0.9"/>
<text x="148.7" y="234.9" font-size="6.5" fill="#c43a55" text-anchor="start" stroke="#c43a55" stroke-width="0.12">FGF9</text>
<path d="M138.6 236.7L144.7 240.4" stroke="#2a2a2a" stroke-width="0.9"/>
<text x="148.7" y="242.1" font-size="6.5" fill="#c43a55" text-anchor="start" stroke="#c43a55" stroke-width="0.12">STAB1</text>
<path d="M138.6 246.1L144.7 248.7" stroke="#2a2a2a" stroke-width="0.9"/>
<text x="148.7" y="249.9" font-size="6.5" fill="#c43a55" text-anchor="start" stroke="#c43a55" stroke-width="0.12">NTRK1</text>
<path d="M138.6 259.2L144.7 258.7" stroke="#2a2a2a" stroke-width="0.9"/>
<text x="148.7" y="261.6" font-size="6.5" fill="#c43a55" text-anchor="start" stroke="#c43a55" stroke-width="0.12">IL1RL1</text>
<path d="M138.6 262.9L144.7 265.0" stroke="#2a2a2a" stroke-width="0.9"/>
<text x="148.7" y="268.1" font-size="6.5" fill="#c43a55" text-anchor="start" stroke="#c43a55" stroke-width="0.12">IL18R1</text>
<path d="M138.6 290.9L144.7 290.9" stroke="#2a2a2a" stroke-width="0.9"/>
<text x="148.7" y="293.0" font-size="6.5" fill="#3a9fdc" text-anchor="start" stroke="#3a9fdc" stroke-width="0.12">RET</text>
<path d="M138.6 341.6L144.7 341.6" stroke="#2a2a2a" stroke-width="0.9"/>
<text x="148.7" y="343.6" font-size="6.5" fill="#3a9fdc" text-anchor="start" stroke="#3a9fdc" stroke-width="0.12">ELANE</text>
<path d="M138.6 356.4L144.7 356.4" stroke="#2a2a2a" stroke-width="0.9"/>
<text x="148.7" y="358.4" font-size="6.5" fill="#3a9fdc" text-anchor="start" stroke="#3a9fdc" stroke-width="0.12">AZU1</text>
<path d="M138.6 376.8L144.7 376.8" stroke="#2a2a2a" stroke-width="0.9"/>
<text x="148.7" y="379.2" font-size="6.5" fill="#3a9fdc" text-anchor="start" stroke="#3a9fdc" stroke-width="0.12">HLA-DRB1</text>
<text x="148.7" y="387.0" font-size="6.5" fill="#3a9fdc" text-anchor="start" stroke="#3a9fdc" stroke-width="0.12">HLA-DRA</text>
<path d="M138.6 391.8L144.7 394.6" stroke="#2a2a2a" stroke-width="0.9"/>
<text x="148.7" y="397.3" font-size="6.5" fill="#3a9fdc" text-anchor="start" stroke="#3a9fdc" stroke-width="0.12">IGF2R</text>
<path d="M138.6 399.8L144.7 402.8" stroke="#2a2a2a" stroke-width="0.9"/>
<text x="148.7" y="405.6" font-size="6.5" fill="#6e4a80" text-anchor="start" stroke="#6e4a80" stroke-width="0.12">AMOTL1</text>
<text x="174.7" y="253.8" font-size="6.5" fill="#c43a55" text-anchor="start" stroke="#c43a55" stroke-width="0.12" textLength="63" lengthAdjust="spacingAndGlyphs">Group S1 “evolution”</text>
<text x="174.7" y="350.9" font-size="6.5" fill="#3a9fdc" text-anchor="start" stroke="#3a9fdc" stroke-width="0.12" textLength="68" lengthAdjust="spacingAndGlyphs">Group S2 “degression”</text>
<text x="63.1" y="413.6" font-size="6.4" fill="#333" text-anchor="end" transform="rotate(-48 63.1 413.6)">DMSO</text>
<text x="83.1" y="413.6" font-size="6.4" fill="#333" text-anchor="end" transform="rotate(-48 83.1 413.6)">BETi_72h</text>
<text x="104.7" y="413.6" font-size="6.4" fill="#333" text-anchor="end" transform="rotate(-48 104.7 413.6)">IC50_r</text>
<text x="128.0" y="413.6" font-size="6.4" fill="#333" text-anchor="end" transform="rotate(-48 128.0 413.6)">IC90_r</text>
<text x="325.8" y="201.2" font-size="8.4" fill="#222" text-anchor="start" stroke="#222" stroke-width="0.12" textLength="41.2" lengthAdjust="spacingAndGlyphs">OCI-AML3</text>
<rect x="281.6" y="217.3" width="4.3" height="33" fill="url(#cbar)"/>
<text x="278.3" y="219.5" font-size="5.6" fill="#444" text-anchor="end" stroke="#444" stroke-width="0.12">4</text>
<text x="278.3" y="227.9" font-size="5.6" fill="#444" text-anchor="end" stroke="#444" stroke-width="0.12">2</text>
<text x="278.3" y="236" font-size="5.6" fill="#444" text-anchor="end" stroke="#444" stroke-width="0.12">0</text>
<text x="278.6" y="244.7" font-size="5.6" fill="#444" text-anchor="end" stroke="#444" stroke-width="0.12">−2</text>
<g shape-rendering="crispEdges">
<rect x="301.50" y="213.50" width="7.46" height="1.56" fill="#feefa7"/>
<rect x="308.90" y="213.50" width="7.46" height="1.56" fill="#fff0a8"/>
<rect x="316.30" y="213.50" width="7.46" height="1.56" fill="#feea9f"/>
<rect x="323.70" y="213.50" width="7.46" height="1.56" fill="#f3fad5"/>
<rect x="331.10" y="213.50" width="7.46" height="1.56" fill="#ecf8e2"/>
<rect x="338.50" y="213.50" width="7.46" height="1.56" fill="#e4f5f0"/>
<rect x="345.90" y="213.50" width="7.46" height="1.56" fill="#feeea5"/>
<rect x="353.30" y="213.50" width="7.46" height="1.56" fill="#fff2ac"/>
<rect x="360.70" y="213.50" width="7.46" height="1.56" fill="#fff4ae"/>
<rect x="368.10" y="213.50" width="7.46" height="1.56" fill="#fee496"/>
<rect x="375.50" y="213.50" width="7.46" height="1.56" fill="#fee89d"/>
<rect x="382.90" y="213.50" width="7.46" height="1.56" fill="#fee598"/>
<rect x="301.50" y="215.00" width="7.46" height="1.56" fill="#feeda3"/>
<rect x="308.90" y="215.00" width="7.46" height="1.56" fill="#fee89c"/>
<rect x="316.30" y="215.00" width="7.46" height="1.56" fill="#fff1aa"/>
<rect x="323.70" y="215.00" width="7.46" height="1.56" fill="#edf8e0"/>
<rect x="331.10" y="215.00" width="7.46" height="1.56" fill="#eaf7e6"/>
<rect x="338.50" y="215.00" width="7.46" height="1.56" fill="#e3f4f3"/>
<rect x="345.90" y="215.00" width="7.46" height="1.56" fill="#fff3ac"/>
<rect x="353.30" y="215.00" width="7.46" height="1.56" fill="#feeca3"/>
<rect x="360.70" y="215.00" width="7.46" height="1.56" fill="#feea9f"/>
<rect x="368.10" y="215.00" width="7.46" height="1.56" fill="#fece84"/>
<rect x="375.50" y="215.00" width="7.46" height="1.56" fill="#fee69a"/>
<rect x="382.90" y="215.00" width="7.46" height="1.56" fill="#fede8e"/>
<rect x="301.50" y="216.50" width="7.46" height="1.56" fill="#fff2ab"/>
<rect x="308.90" y="216.50" width="7.46" height="1.56" fill="#fff1aa"/>
<rect x="316.30" y="216.50" width="7.46" height="1.56" fill="#fff0a9"/>
<rect x="323.70" y="216.50" width="7.46" height="1.56" fill="#e4f4f1"/>
<rect x="331.10" y="216.50" width="7.46" height="1.56" fill="#e0f3f8"/>
<rect x="338.50" y="216.50" width="7.46" height="1.56" fill="#e4f4f1"/>
<rect x="345.90" y="216.50" width="7.46" height="1.56" fill="#fff9b7"/>
<rect x="353.30" y="216.50" width="7.46" height="1.56" fill="#fcfec4"/>
<rect x="360.70" y="216.50" width="7.46" height="1.56" fill="#fefec1"/>
<rect x="368.10" y="216.50" width="7.46" height="1.56" fill="#fee99e"/>
<rect x="375.50" y="216.50" width="7.46" height="1.56" fill="#fee99e"/>
<rect x="382.90" y="216.50" width="7.46" height="1.56" fill="#feeca2"/>
<rect x="301.50" y="218.00" width="7.46" height="1.06" fill="#fff4ae"/>
<rect x="308.90" y="218.00" width="7.46" height="1.06" fill="#fff3ad"/>
<rect x="316.30" y="218.00" width="7.46" height="1.06" fill="#feeda4"/>
<rect x="323.70" y="218.00" width="7.46" height="1.06" fill="#e3f4f2"/>
<rect x="331.10" y="218.00" width="7.46" height="1.06" fill="#e7f6ec"/>
<rect x="338.50" y="218.00" width="7.46" height="1.06" fill="#cde7f1"/>
<rect x="345.90" y="218.00" width="7.46" height="1.06" fill="#fff6b2"/>
<rect x="353.30" y="218.00" width="7.46" height="1.06" fill="#fff9b7"/>
<rect x="360.70" y="218.00" width="7.46" height="1.06" fill="#f9fdca"/>
<rect x="368.10" y="218.00" width="7.46" height="1.06" fill="#feeea5"/>
<rect x="375.50" y="218.00" width="7.46" height="1.06" fill="#fff6b1"/>
<rect x="382.90" y="218.00" width="7.46" height="1.06" fill="#fff1a9"/>
<rect x="301.50" y="219.00" width="7.46" height="1.56" fill="#fff4ae"/>
<rect x="308.90" y="219.00" width="7.46" height="1.56" fill="#fff0a8"/>
<rect x="316.30" y="219.00" width="7.46" height="1.56" fill="#feeca3"/>
<rect x="323.70" y="219.00" width="7.46" height="1.56" fill="#e4f5f0"/>
<rect x="331.10" y="219.00" width="7.46" height="1.56" fill="#e5f5ee"/>
<rect x="338.50" y="219.00" width="7.46" height="1.56" fill="#5a8abf"/>
<rect x="345.90" y="219.00" width="7.46" height="1.56" fill="#fff2ab"/>
<rect x="353.30" y="219.00" width="7.46" height="1.56" fill="#feefa6"/>
<rect x="360.70" y="219.00" width="7.46" height="1.56" fill="#fee99e"/>
<rect x="368.10" y="219.00" width="7.46" height="1.56" fill="#fee395"/>
<rect x="375.50" y="219.00" width="7.46" height="1.56" fill="#fee99d"/>
<rect x="382.90" y="219.00" width="7.46" height="1.56" fill="#fee79b"/>
<rect x="301.50" y="220.50" width="7.46" height="1.56" fill="#fff9b6"/>
<rect x="308.90" y="220.50" width="7.46" height="1.56" fill="#fffebd"/>
<rect x="316.30" y="220.50" width="7.46" height="1.56" fill="#feea9f"/>
<rect x="323.70" y="220.50" width="7.46" height="1.56" fill="#e5f5ef"/>
<rect x="331.10" y="220.50" width="7.46" height="1.56" fill="#d8edf5"/>
<rect x="338.50" y="220.50" width="7.46" height="1.56" fill="#5080ba"/>
<rect x="345.90" y="220.50" width="7.46" height="1.56" fill="#fffbb8"/>
<rect x="353.30" y="220.50" width="7.46" height="1.56" fill="#fffbb9"/>
<rect x="360.70" y="220.50" width="7.46" height="1.56" fill="#ffffbf"/>
<rect x="368.10" y="220.50" width="7.46" height="1.56" fill="#fee496"/>
<rect x="375.50" y="220.50" width="7.46" height="1.56" fill="#fee79a"/>
<rect x="382.90" y="220.50" width="7.46" height="1.56" fill="#feeda3"/>
<rect x="301.50" y="222.00" width="7.46" height="1.56" fill="#fff4ae"/>
<rect x="308.90" y="222.00" width="7.46" height="1.56" fill="#fff0a8"/>
<rect x="316.30" y="222.00" width="7.46" height="1.56" fill="#fff6b2"/>
<rect x="323.70" y="222.00" width="7.46" height="1.56" fill="#edf8e0"/>
<rect x="331.10" y="222.00" width="7.46" height="1.56" fill="#d9eef5"/>
<rect x="338.50" y="222.00" width="7.46" height="1.56" fill="#7aa9cf"/>
<rect x="345.90" y="222.00" width="7.46" height="1.56" fill="#fffbb9"/>
<rect x="353.30" y="222.00" width="7.46" height="1.56" fill="#feffc1"/>
<rect x="360.70" y="222.00" width="7.46" height="1.56" fill="#fffbb9"/>
<rect x="368.10" y="222.00" width="7.46" height="1.56" fill="#fee698"/>
<rect x="375.50" y="222.00" width="7.46" height="1.56" fill="#fede8f"/>
<rect x="382.90" y="222.00" width="7.46" height="1.56" fill="#fed387"/>
<rect x="301.50" y="223.50" width="7.46" height="1.56" fill="#fff7b2"/>
<rect x="308.90" y="223.50" width="7.46" height="1.56" fill="#feeba1"/>
<rect x="316.30" y="223.50" width="7.46" height="1.56" fill="#fff4ae"/>
<rect x="323.70" y="223.50" width="7.46" height="1.56" fill="#e7f6eb"/>
<rect x="331.10" y="223.50" width="7.46" height="1.56" fill="#cde6f1"/>
<rect x="338.50" y="223.50" width="7.46" height="1.56" fill="#4b7bb7"/>
<rect x="345.90" y="223.50" width="7.46" height="1.56" fill="#fff9b5"/>
<rect x="353.30" y="223.50" width="7.46" height="1.56" fill="#fff8b4"/>
<rect x="360.70" y="223.50" width="7.46" height="1.56" fill="#fff9b5"/>
<rect x="368.10" y="223.50" width="7.46" height="1.56" fill="#fff5b0"/>
<rect x="375.50" y="223.50" width="7.46" height="1.56" fill="#fee497"/>
<rect x="382.90" y="223.50" width="7.46" height="1.56" fill="#feea9f"/>
<rect x="301.50" y="225.00" width="7.46" height="1.56" fill="#fdfec2"/>
<rect x="308.90" y="225.00" width="7.46" height="1.56" fill="#ffffc0"/>
<rect x="316.30" y="225.00" width="7.46" height="1.56" fill="#f7fcce"/>
<rect x="323.70" y="225.00" width="7.46" height="1.56" fill="#eaf7e6"/>
<rect x="331.10" y="225.00" width="7.46" height="1.56" fill="#cde6f1"/>
<rect x="338.50" y="225.00" width="7.46" height="1.56" fill="#608fc2"/>
<rect x="345.90" y="225.00" width="7.46" height="1.56" fill="#fff5af"/>
<rect x="353.30" y="225.00" width="7.46" height="1.56" fill="#fff9b6"/>
<rect x="360.70" y="225.00" width="7.46" height="1.56" fill="#fff4ae"/>
<rect x="368.10" y="225.00" width="7.46" height="1.56" fill="#fee99d"/>
<rect x="375.50" y="225.00" width="7.46" height="1.56" fill="#fee99e"/>
<rect x="382.90" y="225.00" width="7.46" height="1.56" fill="#feeba1"/>
<rect x="301.50" y="226.50" width="7.46" height="1.56" fill="#fff7b2"/>
<rect x="308.90" y="226.50" width="7.46" height="1.56" fill="#fff5b0"/>
<rect x="316.30" y="226.50" width="7.46" height="1.56" fill="#fff4ae"/>
<rect x="323.70" y="226.50" width="7.46" height="1.56" fill="#e8f6e9"/>
<rect x="331.10" y="226.50" width="7.46" height="1.56" fill="#c0deec"/>
<rect x="338.50" y="226.50" width="7.46" height="1.56" fill="#4f7fb9"/>
<rect x="345.90" y="226.50" width="7.46" height="1.56" fill="#fdfec4"/>
<rect x="353.30" y="226.50" width="7.46" height="1.56" fill="#fff7b3"/>
<rect x="360.70" y="226.50" width="7.46" height="1.56" fill="#fefec2"/>
<rect x="368.10" y="226.50" width="7.46" height="1.56" fill="#fee497"/>
<rect x="375.50" y="226.50" width="7.46" height="1.56" fill="#fed98b"/>
<rect x="382.90" y="226.50" width="7.46" height="1.56" fill="#fee292"/>
<rect x="301.50" y="228.00" width="7.46" height="1.56" fill="#eff9dc"/>
<rect x="308.90" y="228.00" width="7.46" height="1.56" fill="#f7fcce"/>
<rect x="316.30" y="228.00" width="7.46" height="1.56" fill="#eff9dc"/>
<rect x="323.70" y="228.00" width="7.46" height="1.56" fill="#e4f4f1"/>
<rect x="331.10" y="228.00" width="7.46" height="1.56" fill="#e9f7e7"/>
<rect x="338.50" y="228.00" width="7.46" height="1.56" fill="#eaf7e6"/>
<rect x="345.90" y="228.00" width="7.46" height="1.56" fill="#fffdbb"/>
<rect x="353.30" y="228.00" width="7.46" height="1.56" fill="#fff7b3"/>
<rect x="360.70" y="228.00" width="7.46" height="1.56" fill="#fff5b0"/>
<rect x="368.10" y="228.00" width="7.46" height="1.56" fill="#fee79b"/>
<rect x="375.50" y="228.00" width="7.46" height="1.56" fill="#fee699"/>
<rect x="382.90" y="228.00" width="7.46" height="1.56" fill="#fee496"/>
<rect x="301.50" y="229.50" width="7.46" height="0.56" fill="#e2f4f5"/>
<rect x="308.90" y="229.50" width="7.46" height="0.56" fill="#c5e1ee"/>
<rect x="316.30" y="229.50" width="7.46" height="0.56" fill="#d1e9f3"/>
<rect x="323.70" y="229.50" width="7.46" height="0.56" fill="#e2f4f5"/>
<rect x="331.10" y="229.50" width="7.46" height="0.56" fill="#e3f4f3"/>
<rect x="338.50" y="229.50" width="7.46" height="0.56" fill="#daeff6"/>
<rect x="345.90" y="229.50" width="7.46" height="0.56" fill="#fffab7"/>
<rect x="353.30" y="229.50" width="7.46" height="0.56" fill="#f8fccb"/>
<rect x="360.70" y="229.50" width="7.46" height="0.56" fill="#f8fccc"/>
<rect x="368.10" y="229.50" width="7.46" height="0.56" fill="#fee69a"/>
<rect x="375.50" y="229.50" width="7.46" height="0.56" fill="#feea9f"/>
<rect x="382.90" y="229.50" width="7.46" height="0.56" fill="#feefa7"/>
<rect x="301.50" y="230.00" width="7.46" height="1.56" fill="#e4f4f2"/>
<rect x="308.90" y="230.00" width="7.46" height="1.56" fill="#e3f4f3"/>
<rect x="316.30" y="230.00" width="7.46" height="1.56" fill="#e2f4f4"/>
<rect x="323.70" y="230.00" width="7.46" height="1.56" fill="#def2f7"/>
<rect x="331.10" y="230.00" width="7.46" height="1.56" fill="#e4f5f1"/>
<rect x="338.50" y="230.00" width="7.46" height="1.56" fill="#e7f6eb"/>
<rect x="345.90" y="230.00" width="7.46" height="1.56" fill="#fffab7"/>
<rect x="353.30" y="230.00" width="7.46" height="1.56" fill="#fff3ac"/>
<rect x="360.70" y="230.00" width="7.46" height="1.56" fill="#fff7b2"/>
<rect x="368.10" y="230.00" width="7.46" height="1.56" fill="#fdc27c"/>
<rect x="375.50" y="230.00" width="7.46" height="1.56" fill="#fee89c"/>
<rect x="382.90" y="230.00" width="7.46" height="1.56" fill="#fdc47d"/>
<rect x="301.50" y="231.50" width="7.46" height="1.56" fill="#d6ecf4"/>
<rect x="308.90" y="231.50" width="7.46" height="1.56" fill="#e9f7e7"/>
<rect x="316.30" y="231.50" width="7.46" height="1.56" fill="#e7f6ea"/>
<rect x="323.70" y="231.50" width="7.46" height="1.56" fill="#e1f3f6"/>
<rect x="331.10" y="231.50" width="7.46" height="1.56" fill="#e7f6eb"/>
<rect x="338.50" y="231.50" width="7.46" height="1.56" fill="#d4ebf4"/>
<rect x="345.90" y="231.50" width="7.46" height="1.56" fill="#fdfec3"/>
<rect x="353.30" y="231.50" width="7.46" height="1.56" fill="#feffc1"/>
<rect x="360.70" y="231.50" width="7.46" height="1.56" fill="#fbfdc7"/>
<rect x="368.10" y="231.50" width="7.46" height="1.56" fill="#fdb876"/>
<rect x="375.50" y="231.50" width="7.46" height="1.56" fill="#fee192"/>
<rect x="382.90" y="231.50" width="7.46" height="1.56" fill="#fb8a58"/>
<rect x="301.50" y="233.00" width="7.46" height="1.56" fill="#ecf8e2"/>
<rect x="308.90" y="233.00" width="7.46" height="1.56" fill="#d6ecf4"/>
<rect x="316.30" y="233.00" width="7.46" height="1.56" fill="#e7f6eb"/>
<rect x="323.70" y="233.00" width="7.46" height="1.56" fill="#d9eef5"/>
<rect x="331.10" y="233.00" width="7.46" height="1.56" fill="#e2f4f3"/>
<rect x="338.50" y="233.00" width="7.46" height="1.56" fill="#d8eef5"/>
<rect x="345.90" y="233.00" width="7.46" height="1.56" fill="#ffffbf"/>
<rect x="353.30" y="233.00" width="7.46" height="1.56" fill="#fffebd"/>
<rect x="360.70" y="233.00" width="7.46" height="1.56" fill="#fdfec3"/>
<rect x="368.10" y="233.00" width="7.46" height="1.56" fill="#fca166"/>
<rect x="375.50" y="233.00" width="7.46" height="1.56" fill="#fee597"/>
<rect x="382.90" y="233.00" width="7.46" height="1.56" fill="#fa8856"/>
<rect x="301.50" y="234.50" width="7.46" height="1.56" fill="#eaf7e5"/>
<rect x="308.90" y="234.50" width="7.46" height="1.56" fill="#eaf7e6"/>
<rect x="316.30" y="234.50" width="7.46" height="1.56" fill="#f3fad5"/>
<rect x="323.70" y="234.50" width="7.46" height="1.56" fill="#e5f5ef"/>
<rect x="331.10" y="234.50" width="7.46" height="1.56" fill="#ecf8e2"/>
<rect x="338.50" y="234.50" width="7.46" height="1.56" fill="#e7f6eb"/>
<rect x="345.90" y="234.50" width="7.46" height="1.56" fill="#feeba1"/>
<rect x="353.30" y="234.50" width="7.46" height="1.56" fill="#fff0a8"/>
<rect x="360.70" y="234.50" width="7.46" height="1.56" fill="#feeea6"/>
<rect x="368.10" y="234.50" width="7.46" height="1.56" fill="#f98454"/>
<rect x="375.50" y="234.50" width="7.46" height="1.56" fill="#fed589"/>
<rect x="382.90" y="234.50" width="7.46" height="1.56" fill="#fa8957"/>
<rect x="301.50" y="236.00" width="7.46" height="1.56" fill="#f0f9da"/>
<rect x="308.90" y="236.00" width="7.46" height="1.56" fill="#f9fdcb"/>
<rect x="316.30" y="236.00" width="7.46" height="1.56" fill="#f6fbd0"/>
<rect x="323.70" y="236.00" width="7.46" height="1.56" fill="#ebf7e3"/>
<rect x="331.10" y="236.00" width="7.46" height="1.56" fill="#f1f9da"/>
<rect x="338.50" y="236.00" width="7.46" height="1.56" fill="#f3fad6"/>
<rect x="345.90" y="236.00" width="7.46" height="1.56" fill="#fee395"/>
<rect x="353.30" y="236.00" width="7.46" height="1.56" fill="#feea9f"/>
<rect x="360.70" y="236.00" width="7.46" height="1.56" fill="#fee597"/>
<rect x="368.10" y="236.00" width="7.46" height="1.56" fill="#fee294"/>
<rect x="375.50" y="236.00" width="7.46" height="1.56" fill="#fee79b"/>
<rect x="382.90" y="236.00" width="7.46" height="1.56" fill="#fee293"/>
<rect x="301.50" y="237.50" width="7.46" height="0.56" fill="#f1f9d9"/>
<rect x="308.90" y="237.50" width="7.46" height="0.56" fill="#fafdc9"/>
<rect x="316.30" y="237.50" width="7.46" height="0.56" fill="#f4fbd3"/>
<rect x="323.70" y="237.50" width="7.46" height="0.56" fill="#eef8df"/>
<rect x="331.10" y="237.50" width="7.46" height="0.56" fill="#e2f4f4"/>
<rect x="338.50" y="237.50" width="7.46" height="0.56" fill="#eef9de"/>
<rect x="345.90" y="237.50" width="7.46" height="0.56" fill="#fff6b2"/>
<rect x="353.30" y="237.50" width="7.46" height="0.56" fill="#fff6b1"/>
<rect x="360.70" y="237.50" width="7.46" height="0.56" fill="#fefec1"/>
<rect x="368.10" y="237.50" width="7.46" height="0.56" fill="#feea9f"/>
<rect x="375.50" y="237.50" width="7.46" height="0.56" fill="#fee89c"/>
<rect x="382.90" y="237.50" width="7.46" height="0.56" fill="#fee598"/>
<rect x="301.50" y="238.00" width="7.46" height="1.56" fill="#f1fad8"/>
<rect x="308.90" y="238.00" width="7.46" height="1.56" fill="#e6f5ed"/>
<rect x="316.30" y="238.00" width="7.46" height="1.56" fill="#f7fcce"/>
<rect x="323.70" y="238.00" width="7.46" height="1.56" fill="#fdbe7a"/>
<rect x="331.10" y="238.00" width="7.46" height="1.56" fill="#fc8f5a"/>
<rect x="338.50" y="238.00" width="7.46" height="1.56" fill="#e5543a"/>
<rect x="345.90" y="238.00" width="7.46" height="1.56" fill="#f4fbd4"/>
<rect x="353.30" y="238.00" width="7.46" height="1.56" fill="#ecf8e2"/>
<rect x="360.70" y="238.00" width="7.46" height="1.56" fill="#f5fbd2"/>
<rect x="368.10" y="238.00" width="7.46" height="1.56" fill="#dff3f8"/>
<rect x="375.50" y="238.00" width="7.46" height="1.56" fill="#cae5f0"/>
<rect x="382.90" y="238.00" width="7.46" height="1.56" fill="#cfe8f2"/>
<rect x="301.50" y="239.50" width="7.46" height="1.56" fill="#ebf7e3"/>
<rect x="308.90" y="239.50" width="7.46" height="1.56" fill="#eff9dd"/>
<rect x="316.30" y="239.50" width="7.46" height="1.56" fill="#f4fbd4"/>
<rect x="323.70" y="239.50" width="7.46" height="1.56" fill="#fdbb78"/>
<rect x="331.10" y="239.50" width="7.46" height="1.56" fill="#fb8a57"/>
<rect x="338.50" y="239.50" width="7.46" height="1.56" fill="#f06e49"/>
<rect x="345.90" y="239.50" width="7.46" height="1.56" fill="#f6fccf"/>
<rect x="353.30" y="239.50" width="7.46" height="1.56" fill="#f2fad6"/>
<rect x="360.70" y="239.50" width="7.46" height="1.56" fill="#f1fad9"/>
<rect x="368.10" y="239.50" width="7.46" height="1.56" fill="#daeff6"/>
<rect x="375.50" y="239.50" width="7.46" height="1.56" fill="#e1f3f6"/>
<rect x="382.90" y="239.50" width="7.46" height="1.56" fill="#d9eef5"/>
<rect x="301.50" y="241.00" width="7.46" height="1.56" fill="#edf8e0"/>
<rect x="308.90" y="241.00" width="7.46" height="1.56" fill="#eef8df"/>
<rect x="316.30" y="241.00" width="7.46" height="1.56" fill="#f1fad8"/>
<rect x="323.70" y="241.00" width="7.46" height="1.56" fill="#fedb8d"/>
<rect x="331.10" y="241.00" width="7.46" height="1.56" fill="#f78253"/>
<rect x="338.50" y="241.00" width="7.46" height="1.56" fill="#ef6d48"/>
<rect x="345.90" y="241.00" width="7.46" height="1.56" fill="#f6fccf"/>
<rect x="353.30" y="241.00" width="7.46" height="1.56" fill="#f3fad6"/>
<rect x="360.70" y="241.00" width="7.46" height="1.56" fill="#eff9dd"/>
<rect x="368.10" y="241.00" width="7.46" height="1.56" fill="#d0e9f2"/>
<rect x="375.50" y="241.00" width="7.46" height="1.56" fill="#e2f4f5"/>
<rect x="382.90" y="241.00" width="7.46" height="1.56" fill="#d4ebf4"/>
<rect x="301.50" y="242.50" width="7.46" height="1.56" fill="#eaf7e6"/>
<rect x="308.90" y="242.50" width="7.46" height="1.56" fill="#f4fbd4"/>
<rect x="316.30" y="242.50" width="7.46" height="1.56" fill="#f7fcce"/>
<rect x="323.70" y="242.50" width="7.46" height="1.56" fill="#fedb8c"/>
<rect x="331.10" y="242.50" width="7.46" height="1.56" fill="#f98655"/>
<rect x="338.50" y="242.50" width="7.46" height="1.56" fill="#ed6845"/>
<rect x="345.90" y="242.50" width="7.46" height="1.56" fill="#e9f7e7"/>
<rect x="353.30" y="242.50" width="7.46" height="1.56" fill="#e9f6e7"/>
<rect x="360.70" y="242.50" width="7.46" height="1.56" fill="#f1fad9"/>
<rect x="368.10" y="242.50" width="7.46" height="1.56" fill="#ddf1f7"/>
<rect x="375.50" y="242.50" width="7.46" height="1.56" fill="#eaf7e6"/>
<rect x="382.90" y="242.50" width="7.46" height="1.56" fill="#d5ecf4"/>
<rect x="301.50" y="244.00" width="7.46" height="1.56" fill="#edf8e0"/>
<rect x="308.90" y="244.00" width="7.46" height="1.56" fill="#f6fbd0"/>
<rect x="316.30" y="244.00" width="7.46" height="1.56" fill="#ebf7e4"/>
<rect x="323.70" y="244.00" width="7.46" height="1.56" fill="#fece84"/>
<rect x="331.10" y="244.00" width="7.46" height="1.56" fill="#fc915c"/>
<rect x="338.50" y="244.00" width="7.46" height="1.56" fill="#e7593d"/>
<rect x="345.90" y="244.00" width="7.46" height="1.56" fill="#f4fbd2"/>
<rect x="353.30" y="244.00" width="7.46" height="1.56" fill="#f0f9db"/>
<rect x="360.70" y="244.00" width="7.46" height="1.56" fill="#f8fccc"/>
<rect x="368.10" y="244.00" width="7.46" height="1.56" fill="#dff2f8"/>
<rect x="375.50" y="244.00" width="7.46" height="1.56" fill="#c9e4f0"/>
<rect x="382.90" y="244.00" width="7.46" height="1.56" fill="#e2f4f5"/>
<rect x="301.50" y="245.50" width="7.46" height="1.56" fill="#f4fbd4"/>
<rect x="308.90" y="245.50" width="7.46" height="1.56" fill="#f4fbd3"/>
<rect x="316.30" y="245.50" width="7.46" height="1.56" fill="#f7fcce"/>
<rect x="323.70" y="245.50" width="7.46" height="1.56" fill="#fed085"/>
<rect x="331.10" y="245.50" width="7.46" height="1.56" fill="#f98454"/>
<rect x="338.50" y="245.50" width="7.46" height="1.56" fill="#eb6142"/>
<rect x="345.90" y="245.50" width="7.46" height="1.56" fill="#f1fad8"/>
<rect x="353.30" y="245.50" width="7.46" height="1.56" fill="#f5fbd1"/>
<rect x="360.70" y="245.50" width="7.46" height="1.56" fill="#f0f9db"/>
<rect x="368.10" y="245.50" width="7.46" height="1.56" fill="#ddf1f7"/>
<rect x="375.50" y="245.50" width="7.46" height="1.56" fill="#e2f4f5"/>
<rect x="382.90" y="245.50" width="7.46" height="1.56" fill="#d2eaf3"/>
<rect x="301.50" y="247.00" width="7.46" height="1.56" fill="#f4fbd2"/>
<rect x="308.90" y="247.00" width="7.46" height="1.56" fill="#f4fbd3"/>
<rect x="316.30" y="247.00" width="7.46" height="1.56" fill="#ecf8e2"/>
<rect x="323.70" y="247.00" width="7.46" height="1.56" fill="#fdb473"/>
<rect x="331.10" y="247.00" width="7.46" height="1.56" fill="#fc8e59"/>
<rect x="338.50" y="247.00" width="7.46" height="1.56" fill="#e85a3e"/>
<rect x="345.90" y="247.00" width="7.46" height="1.56" fill="#f0f9da"/>
<rect x="353.30" y="247.00" width="7.46" height="1.56" fill="#f7fccf"/>
<rect x="360.70" y="247.00" width="7.46" height="1.56" fill="#f1fad9"/>
<rect x="368.10" y="247.00" width="7.46" height="1.56" fill="#d7edf5"/>
<rect x="375.50" y="247.00" width="7.46" height="1.56" fill="#e0f3f8"/>
<rect x="382.90" y="247.00" width="7.46" height="1.56" fill="#eaf7e6"/>
<rect x="301.50" y="248.50" width="7.46" height="1.56" fill="#eaf7e6"/>
<rect x="308.90" y="248.50" width="7.46" height="1.56" fill="#eef8df"/>
<rect x="316.30" y="248.50" width="7.46" height="1.56" fill="#e7f6eb"/>
<rect x="323.70" y="248.50" width="7.46" height="1.56" fill="#fdba77"/>
<rect x="331.10" y="248.50" width="7.46" height="1.56" fill="#f47a4f"/>
<rect x="338.50" y="248.50" width="7.46" height="1.56" fill="#e6553b"/>
<rect x="345.90" y="248.50" width="7.46" height="1.56" fill="#eef8df"/>
<rect x="353.30" y="248.50" width="7.46" height="1.56" fill="#e4f5f0"/>
<rect x="360.70" y="248.50" width="7.46" height="1.56" fill="#ebf7e3"/>
<rect x="368.10" y="248.50" width="7.46" height="1.56" fill="#e3f4f2"/>
<rect x="375.50" y="248.50" width="7.46" height="1.56" fill="#def2f7"/>
<rect x="382.90" y="248.50" width="7.46" height="1.56" fill="#cbe5f0"/>
<rect x="301.50" y="250.00" width="7.46" height="1.56" fill="#eaf7e5"/>
<rect x="308.90" y="250.00" width="7.46" height="1.56" fill="#f6fccf"/>
<rect x="316.30" y="250.00" width="7.46" height="1.56" fill="#ebf7e4"/>
<rect x="323.70" y="250.00" width="7.46" height="1.56" fill="#fed387"/>
<rect x="331.10" y="250.00" width="7.46" height="1.56" fill="#f57a4f"/>
<rect x="338.50" y="250.00" width="7.46" height="1.56" fill="#f3754c"/>
<rect x="345.90" y="250.00" width="7.46" height="1.56" fill="#f5fbd1"/>
<rect x="353.30" y="250.00" width="7.46" height="1.56" fill="#eaf7e5"/>
<rect x="360.70" y="250.00" width="7.46" height="1.56" fill="#eef8df"/>
<rect x="368.10" y="250.00" width="7.46" height="1.56" fill="#e0f3f7"/>
<rect x="375.50" y="250.00" width="7.46" height="1.56" fill="#c8e3ef"/>
<rect x="382.90" y="250.00" width="7.46" height="1.56" fill="#e2f4f5"/>
<rect x="301.50" y="251.50" width="7.46" height="1.56" fill="#ebf7e3"/>
<rect x="308.90" y="251.50" width="7.46" height="1.56" fill="#f7fcce"/>
<rect x="316.30" y="251.50" width="7.46" height="1.56" fill="#f5fbd1"/>
<rect x="323.70" y="251.50" width="7.46" height="1.56" fill="#fecd83"/>
<rect x="331.10" y="251.50" width="7.46" height="1.56" fill="#f88454"/>
<rect x="338.50" y="251.50" width="7.46" height="1.56" fill="#f07049"/>
<rect x="345.90" y="251.50" width="7.46" height="1.56" fill="#eef8de"/>
<rect x="353.30" y="251.50" width="7.46" height="1.56" fill="#f2fad6"/>
<rect x="360.70" y="251.50" width="7.46" height="1.56" fill="#f5fbd2"/>
<rect x="368.10" y="251.50" width="7.46" height="1.56" fill="#d0e8f2"/>
<rect x="375.50" y="251.50" width="7.46" height="1.56" fill="#d3ebf3"/>
<rect x="382.90" y="251.50" width="7.46" height="1.56" fill="#e0f3f7"/>
<rect x="301.50" y="253.00" width="7.46" height="1.56" fill="#f0f9db"/>
<rect x="308.90" y="253.00" width="7.46" height="1.56" fill="#f4fbd3"/>
<rect x="316.30" y="253.00" width="7.46" height="1.56" fill="#f3fad5"/>
<rect x="323.70" y="253.00" width="7.46" height="1.56" fill="#fdcb82"/>
<rect x="331.10" y="253.00" width="7.46" height="1.56" fill="#fc955e"/>
<rect x="338.50" y="253.00" width="7.46" height="1.56" fill="#e45139"/>
<rect x="345.90" y="253.00" width="7.46" height="1.56" fill="#f4fbd3"/>
<rect x="353.30" y="253.00" width="7.46" height="1.56" fill="#f4fbd3"/>
<rect x="360.70" y="253.00" width="7.46" height="1.56" fill="#f4fbd4"/>
<rect x="368.10" y="253.00" width="7.46" height="1.56" fill="#c1dfed"/>
<rect x="375.50" y="253.00" width="7.46" height="1.56" fill="#d3eaf3"/>
<rect x="382.90" y="253.00" width="7.46" height="1.56" fill="#d9eef5"/>
<rect x="301.50" y="254.50" width="7.46" height="0.56" fill="#e9f6e7"/>
<rect x="308.90" y="254.50" width="7.46" height="0.56" fill="#ebf7e4"/>
<rect x="316.30" y="254.50" width="7.46" height="0.56" fill="#f1fad8"/>
<rect x="323.70" y="254.50" width="7.46" height="0.56" fill="#fed689"/>
<rect x="331.10" y="254.50" width="7.46" height="0.56" fill="#fc955e"/>
<rect x="338.50" y="254.50" width="7.46" height="0.56" fill="#e95e40"/>
<rect x="345.90" y="254.50" width="7.46" height="0.56" fill="#fcfec5"/>
<rect x="353.30" y="254.50" width="7.46" height="0.56" fill="#fafdc8"/>
<rect x="360.70" y="254.50" width="7.46" height="0.56" fill="#f4fbd3"/>
<rect x="368.10" y="254.50" width="7.46" height="0.56" fill="#d8eef5"/>
<rect x="375.50" y="254.50" width="7.46" height="0.56" fill="#c9e4ef"/>
<rect x="382.90" y="254.50" width="7.46" height="0.56" fill="#cee7f1"/>
<rect x="301.50" y="255.00" width="7.46" height="1.56" fill="#fafdc9"/>
<rect x="308.90" y="255.00" width="7.46" height="1.56" fill="#fdfec3"/>
<rect x="316.30" y="255.00" width="7.46" height="1.56" fill="#f4fbd4"/>
<rect x="323.70" y="255.00" width="7.46" height="1.56" fill="#fee294"/>
<rect x="331.10" y="255.00" width="7.46" height="1.56" fill="#fdb876"/>
<rect x="338.50" y="255.00" width="7.46" height="1.56" fill="#f78052"/>
<rect x="345.90" y="255.00" width="7.46" height="1.56" fill="#f1fad8"/>
<rect x="353.30" y="255.00" width="7.46" height="1.56" fill="#f1fad8"/>
<rect x="360.70" y="255.00" width="7.46" height="1.56" fill="#f8fccc"/>
<rect x="368.10" y="255.00" width="7.46" height="1.56" fill="#e3f4f3"/>
<rect x="375.50" y="255.00" width="7.46" height="1.56" fill="#e4f5f0"/>
<rect x="382.90" y="255.00" width="7.46" height="1.56" fill="#dcf0f6"/>
<rect x="301.50" y="256.50" width="7.46" height="1.56" fill="#fcfec5"/>
<rect x="308.90" y="256.50" width="7.46" height="1.56" fill="#f3fad5"/>
<rect x="316.30" y="256.50" width="7.46" height="1.56" fill="#f4fbd2"/>
<rect x="323.70" y="256.50" width="7.46" height="1.56" fill="#fedc8d"/>
<rect x="331.10" y="256.50" width="7.46" height="1.56" fill="#fdba77"/>
<rect x="338.50" y="256.50" width="7.46" height="1.56" fill="#f88454"/>
<rect x="345.90" y="256.50" width="7.46" height="1.56" fill="#eef8de"/>
<rect x="353.30" y="256.50" width="7.46" height="1.56" fill="#ebf7e3"/>
<rect x="360.70" y="256.50" width="7.46" height="1.56" fill="#f1fad8"/>
<rect x="368.10" y="256.50" width="7.46" height="1.56" fill="#e6f5ed"/>
<rect x="375.50" y="256.50" width="7.46" height="1.56" fill="#e1f4f6"/>
<rect x="382.90" y="256.50" width="7.46" height="1.56" fill="#eff9dc"/>
<rect x="301.50" y="258.00" width="7.46" height="1.56" fill="#f7fcce"/>
<rect x="308.90" y="258.00" width="7.46" height="1.56" fill="#f2fad6"/>
<rect x="316.30" y="258.00" width="7.46" height="1.56" fill="#f7fccd"/>
<rect x="323.70" y="258.00" width="7.46" height="1.56" fill="#fff0a9"/>
<rect x="331.10" y="258.00" width="7.46" height="1.56" fill="#fedd8e"/>
<rect x="338.50" y="258.00" width="7.46" height="1.56" fill="#fc9d63"/>
<rect x="345.90" y="258.00" width="7.46" height="1.56" fill="#f8fccd"/>
<rect x="353.30" y="258.00" width="7.46" height="1.56" fill="#eef8de"/>
<rect x="360.70" y="258.00" width="7.46" height="1.56" fill="#eff9dd"/>
<rect x="368.10" y="258.00" width="7.46" height="1.56" fill="#d7edf5"/>
<rect x="375.50" y="258.00" width="7.46" height="1.56" fill="#dbf0f6"/>
<rect x="382.90" y="258.00" width="7.46" height="1.56" fill="#c9e4f0"/>
<rect x="301.50" y="259.50" width="7.46" height="1.56" fill="#eff9dc"/>
<rect x="308.90" y="259.50" width="7.46" height="1.56" fill="#edf8df"/>
<rect x="316.30" y="259.50" width="7.46" height="1.56" fill="#ebf7e4"/>
<rect x="323.70" y="259.50" width="7.46" height="1.56" fill="#fee79b"/>
<rect x="331.10" y="259.50" width="7.46" height="1.56" fill="#fdc880"/>
<rect x="338.50" y="259.50" width="7.46" height="1.56" fill="#fdaa6c"/>
<rect x="345.90" y="259.50" width="7.46" height="1.56" fill="#f4fbd3"/>
<rect x="353.30" y="259.50" width="7.46" height="1.56" fill="#f6fccf"/>
<rect x="360.70" y="259.50" width="7.46" height="1.56" fill="#f5fbd1"/>
<rect x="368.10" y="259.50" width="7.46" height="1.56" fill="#d7edf5"/>
<rect x="375.50" y="259.50" width="7.46" height="1.56" fill="#c4e0ee"/>
<rect x="382.90" y="259.50" width="7.46" height="1.56" fill="#e2f4f4"/>
<rect x="301.50" y="261.00" width="7.46" height="1.56" fill="#ebf7e4"/>
<rect x="308.90" y="261.00" width="7.46" height="1.56" fill="#ebf7e4"/>
<rect x="316.30" y="261.00" width="7.46" height="1.56" fill="#ebf7e5"/>
<rect x="323.70" y="261.00" width="7.46" height="1.56" fill="#feeba0"/>
<rect x="331.10" y="261.00" width="7.46" height="1.56" fill="#fdc880"/>
<rect x="338.50" y="261.00" width="7.46" height="1.56" fill="#fda267"/>
<rect x="345.90" y="261.00" width="7.46" height="1.56" fill="#f5fbd1"/>
<rect x="353.30" y="261.00" width="7.46" height="1.56" fill="#fbfdc6"/>
<rect x="360.70" y="261.00" width="7.46" height="1.56" fill="#eff9dd"/>
<rect x="368.10" y="261.00" width="7.46" height="1.56" fill="#e1f3f7"/>
<rect x="375.50" y="261.00" width="7.46" height="1.56" fill="#dbf0f6"/>
<rect x="382.90" y="261.00" width="7.46" height="1.56" fill="#e0f3f7"/>
<rect x="301.50" y="262.50" width="7.46" height="1.56" fill="#ebf7e3"/>
<rect x="308.90" y="262.50" width="7.46" height="1.56" fill="#ebf7e3"/>
<rect x="316.30" y="262.50" width="7.46" height="1.56" fill="#eaf7e6"/>
<rect x="323.70" y="262.50" width="7.46" height="1.56" fill="#fff0a8"/>
<rect x="331.10" y="262.50" width="7.46" height="1.56" fill="#fed689"/>
<rect x="338.50" y="262.50" width="7.46" height="1.56" fill="#fc905b"/>
<rect x="345.90" y="262.50" width="7.46" height="1.56" fill="#e9f6e8"/>
<rect x="353.30" y="262.50" width="7.46" height="1.56" fill="#ecf7e3"/>
<rect x="360.70" y="262.50" width="7.46" height="1.56" fill="#e8f6e8"/>
<rect x="368.10" y="262.50" width="7.46" height="1.56" fill="#e5f5ef"/>
<rect x="375.50" y="262.50" width="7.46" height="1.56" fill="#daeff6"/>
<rect x="382.90" y="262.50" width="7.46" height="1.56" fill="#d1e9f2"/>
<rect x="301.50" y="264.00" width="7.46" height="1.56" fill="#e6f5ee"/>
<rect x="308.90" y="264.00" width="7.46" height="1.56" fill="#e0f3f8"/>
<rect x="316.30" y="264.00" width="7.46" height="1.56" fill="#edf8df"/>
<rect x="323.70" y="264.00" width="7.46" height="1.56" fill="#fee79b"/>
<rect x="331.10" y="264.00" width="7.46" height="1.56" fill="#fed387"/>
<rect x="338.50" y="264.00" width="7.46" height="1.56" fill="#fdb372"/>
<rect x="345.90" y="264.00" width="7.46" height="1.56" fill="#f8fccb"/>
<rect x="353.30" y="264.00" width="7.46" height="1.56" fill="#fafdc8"/>
<rect x="360.70" y="264.00" width="7.46" height="1.56" fill="#f3fad5"/>
<rect x="368.10" y="264.00" width="7.46" height="1.56" fill="#d6edf4"/>
<rect x="375.50" y="264.00" width="7.46" height="1.56" fill="#e5f5ee"/>
<rect x="382.90" y="264.00" width="7.46" height="1.56" fill="#cae4f0"/>
<rect x="301.50" y="265.50" width="7.46" height="1.56" fill="#e6f5ed"/>
<rect x="308.90" y="265.50" width="7.46" height="1.56" fill="#f6fbd0"/>
<rect x="316.30" y="265.50" width="7.46" height="1.56" fill="#eaf7e6"/>
<rect x="323.70" y="265.50" width="7.46" height="1.56" fill="#fee99d"/>
<rect x="331.10" y="265.50" width="7.46" height="1.56" fill="#fece84"/>
<rect x="338.50" y="265.50" width="7.46" height="1.56" fill="#fca066"/>
<rect x="345.90" y="265.50" width="7.46" height="1.56" fill="#f2fad6"/>
<rect x="353.30" y="265.50" width="7.46" height="1.56" fill="#eef8df"/>
<rect x="360.70" y="265.50" width="7.46" height="1.56" fill="#f7fcce"/>
<rect x="368.10" y="265.50" width="7.46" height="1.56" fill="#dff2f8"/>
<rect x="375.50" y="265.50" width="7.46" height="1.56" fill="#d4ebf4"/>
<rect x="382.90" y="265.50" width="7.46" height="1.56" fill="#ddf1f7"/>
<rect x="301.50" y="267.00" width="7.46" height="1.56" fill="#ebf7e4"/>
<rect x="308.90" y="267.00" width="7.46" height="1.56" fill="#f5fbd2"/>
<rect x="316.30" y="267.00" width="7.46" height="1.56" fill="#f9fdcb"/>
<rect x="323.70" y="267.00" width="7.46" height="1.56" fill="#fee192"/>
<rect x="331.10" y="267.00" width="7.46" height="1.56" fill="#fdb976"/>
<rect x="338.50" y="267.00" width="7.46" height="1.56" fill="#fc8f5a"/>
<rect x="345.90" y="267.00" width="7.46" height="1.56" fill="#f6fccf"/>
<rect x="353.30" y="267.00" width="7.46" height="1.56" fill="#f3fad6"/>
<rect x="360.70" y="267.00" width="7.46" height="1.56" fill="#f1fad8"/>
<rect x="368.10" y="267.00" width="7.46" height="1.56" fill="#e8f6ea"/>
<rect x="375.50" y="267.00" width="7.46" height="1.56" fill="#e7f6ea"/>
<rect x="382.90" y="267.00" width="7.46" height="1.56" fill="#e2f4f4"/>
<rect x="301.50" y="268.50" width="7.46" height="1.56" fill="#edf8e0"/>
<rect x="308.90" y="268.50" width="7.46" height="1.56" fill="#ebf7e4"/>
<rect x="316.30" y="268.50" width="7.46" height="1.56" fill="#ebf7e4"/>
<rect x="323.70" y="268.50" width="7.46" height="1.56" fill="#fff7b3"/>
<rect x="331.10" y="268.50" width="7.46" height="1.56" fill="#fed488"/>
<rect x="338.50" y="268.50" width="7.46" height="1.56" fill="#fc9b62"/>
<rect x="345.90" y="268.50" width="7.46" height="1.56" fill="#eef9dd"/>
<rect x="353.30" y="268.50" width="7.46" height="1.56" fill="#eaf7e5"/>
<rect x="360.70" y="268.50" width="7.46" height="1.56" fill="#eaf7e6"/>
<rect x="368.10" y="268.50" width="7.46" height="1.56" fill="#e3f4f3"/>
<rect x="375.50" y="268.50" width="7.46" height="1.56" fill="#ddf1f7"/>
<rect x="382.90" y="268.50" width="7.46" height="1.56" fill="#d3eaf3"/>
<rect x="301.50" y="270.00" width="7.46" height="1.56" fill="#f5fbd2"/>
<rect x="308.90" y="270.00" width="7.46" height="1.56" fill="#f5fbd1"/>
<rect x="316.30" y="270.00" width="7.46" height="1.56" fill="#f5fbd1"/>
<rect x="323.70" y="270.00" width="7.46" height="1.56" fill="#feeda4"/>
<rect x="331.10" y="270.00" width="7.46" height="1.56" fill="#fed086"/>
<rect x="338.50" y="270.00" width="7.46" height="1.56" fill="#f88253"/>
<rect x="345.90" y="270.00" width="7.46" height="1.56" fill="#eff9dd"/>
<rect x="353.30" y="270.00" width="7.46" height="1.56" fill="#eff9dd"/>
<rect x="360.70" y="270.00" width="7.46" height="1.56" fill="#f1fad9"/>
<rect x="368.10" y="270.00" width="7.46" height="1.56" fill="#e5f5f0"/>
<rect x="375.50" y="270.00" width="7.46" height="1.56" fill="#def2f7"/>
<rect x="382.90" y="270.00" width="7.46" height="1.56" fill="#e1f3f6"/>
<rect x="301.50" y="271.50" width="7.46" height="0.56" fill="#f5fbd2"/>
<rect x="308.90" y="271.50" width="7.46" height="0.56" fill="#f4fbd3"/>
<rect x="316.30" y="271.50" width="7.46" height="0.56" fill="#e9f7e7"/>
<rect x="323.70" y="271.50" width="7.46" height="0.56" fill="#fee99e"/>
<rect x="331.10" y="271.50" width="7.46" height="0.56" fill="#fdc981"/>
<rect x="338.50" y="271.50" width="7.46" height="0.56" fill="#f88253"/>
<rect x="345.90" y="271.50" width="7.46" height="0.56" fill="#f5fbd2"/>
<rect x="353.30" y="271.50" width="7.46" height="0.56" fill="#f3fad6"/>
<rect x="360.70" y="271.50" width="7.46" height="0.56" fill="#f1f9d9"/>
<rect x="368.10" y="271.50" width="7.46" height="0.56" fill="#e6f5ed"/>
<rect x="375.50" y="271.50" width="7.46" height="0.56" fill="#e1f4f6"/>
<rect x="382.90" y="271.50" width="7.46" height="0.56" fill="#eaf7e6"/>
<rect x="301.50" y="272.00" width="7.46" height="1.56" fill="#e6f5ed"/>
<rect x="308.90" y="272.00" width="7.46" height="1.56" fill="#e7f6eb"/>
<rect x="316.30" y="272.00" width="7.46" height="1.56" fill="#f7fccd"/>
<rect x="323.70" y="272.00" width="7.46" height="1.56" fill="#fee79b"/>
<rect x="331.10" y="272.00" width="7.46" height="1.56" fill="#fed488"/>
<rect x="338.50" y="272.00" width="7.46" height="1.56" fill="#fda96c"/>
<rect x="345.90" y="272.00" width="7.46" height="1.56" fill="#f7fccd"/>
<rect x="353.30" y="272.00" width="7.46" height="1.56" fill="#f9fdc9"/>
<rect x="360.70" y="272.00" width="7.46" height="1.56" fill="#fafdc8"/>
<rect x="368.10" y="272.00" width="7.46" height="1.56" fill="#e9f6e8"/>
<rect x="375.50" y="272.00" width="7.46" height="1.56" fill="#e8f6ea"/>
<rect x="382.90" y="272.00" width="7.46" height="1.56" fill="#e8f6e9"/>
<rect x="301.50" y="273.50" width="7.46" height="1.56" fill="#ebf7e3"/>
<rect x="308.90" y="273.50" width="7.46" height="1.56" fill="#fbfdc7"/>
<rect x="316.30" y="273.50" width="7.46" height="1.56" fill="#f5fbd2"/>
<rect x="323.70" y="273.50" width="7.46" height="1.56" fill="#fee79b"/>
<rect x="331.10" y="273.50" width="7.46" height="1.56" fill="#fed589"/>
<rect x="338.50" y="273.50" width="7.46" height="1.56" fill="#f67d51"/>
<rect x="345.90" y="273.50" width="7.46" height="1.56" fill="#f0f9db"/>
<rect x="353.30" y="273.50" width="7.46" height="1.56" fill="#ecf8e3"/>
<rect x="360.70" y="273.50" width="7.46" height="1.56" fill="#f6fbd0"/>
<rect x="368.10" y="273.50" width="7.46" height="1.56" fill="#ebf7e3"/>
<rect x="375.50" y="273.50" width="7.46" height="1.56" fill="#e8f6e9"/>
<rect x="382.90" y="273.50" width="7.46" height="1.56" fill="#e4f5f0"/>
<rect x="301.50" y="275.00" width="7.46" height="1.56" fill="#fcfec5"/>
<rect x="308.90" y="275.00" width="7.46" height="1.56" fill="#fdfec2"/>
<rect x="316.30" y="275.00" width="7.46" height="1.56" fill="#f8fccc"/>
<rect x="323.70" y="275.00" width="7.46" height="1.56" fill="#fee699"/>
<rect x="331.10" y="275.00" width="7.46" height="1.56" fill="#fdb573"/>
<rect x="338.50" y="275.00" width="7.46" height="1.56" fill="#ea6041"/>
<rect x="345.90" y="275.00" width="7.46" height="1.56" fill="#fdfec3"/>
<rect x="353.30" y="275.00" width="7.46" height="1.56" fill="#fcfec5"/>
<rect x="360.70" y="275.00" width="7.46" height="1.56" fill="#fcfec4"/>
<rect x="368.10" y="275.00" width="7.46" height="1.56" fill="#ebf7e4"/>
<rect x="375.50" y="275.00" width="7.46" height="1.56" fill="#f0f9da"/>
<rect x="382.90" y="275.00" width="7.46" height="1.56" fill="#f1f9da"/>
<rect x="301.50" y="276.50" width="7.46" height="1.56" fill="#eaf7e5"/>
<rect x="308.90" y="276.50" width="7.46" height="1.56" fill="#e7f6ea"/>
<rect x="316.30" y="276.50" width="7.46" height="1.56" fill="#e5f5ee"/>
<rect x="323.70" y="276.50" width="7.46" height="1.56" fill="#fff6b1"/>
<rect x="331.10" y="276.50" width="7.46" height="1.56" fill="#feeaa0"/>
<rect x="338.50" y="276.50" width="7.46" height="1.56" fill="#fc9b63"/>
<rect x="345.90" y="276.50" width="7.46" height="1.56" fill="#e4f4f1"/>
<rect x="353.30" y="276.50" width="7.46" height="1.56" fill="#ebf7e3"/>
<rect x="360.70" y="276.50" width="7.46" height="1.56" fill="#f3fad6"/>
<rect x="368.10" y="276.50" width="7.46" height="1.56" fill="#e4f5f1"/>
<rect x="375.50" y="276.50" width="7.46" height="1.56" fill="#e6f5ec"/>
<rect x="382.90" y="276.50" width="7.46" height="1.56" fill="#e4f4f1"/>
<rect x="301.50" y="278.00" width="7.46" height="1.56" fill="#eff9dd"/>
<rect x="308.90" y="278.00" width="7.46" height="1.56" fill="#eaf7e6"/>
<rect x="316.30" y="278.00" width="7.46" height="1.56" fill="#ebf7e3"/>
<rect x="323.70" y="278.00" width="7.46" height="1.56" fill="#feeba1"/>
<rect x="331.10" y="278.00" width="7.46" height="1.56" fill="#fdbf7a"/>
<rect x="338.50" y="278.00" width="7.46" height="1.56" fill="#fc925c"/>
<rect x="345.90" y="278.00" width="7.46" height="1.56" fill="#f3fad5"/>
<rect x="353.30" y="278.00" width="7.46" height="1.56" fill="#f3fad5"/>
<rect x="360.70" y="278.00" width="7.46" height="1.56" fill="#f3fad5"/>
<rect x="368.10" y="278.00" width="7.46" height="1.56" fill="#daeff6"/>
<rect x="375.50" y="278.00" width="7.46" height="1.56" fill="#e3f4f3"/>
<rect x="382.90" y="278.00" width="7.46" height="1.56" fill="#ddf1f7"/>
<rect x="301.50" y="279.50" width="7.46" height="1.56" fill="#f4fbd4"/>
<rect x="308.90" y="279.50" width="7.46" height="1.56" fill="#f5fbd0"/>
<rect x="316.30" y="279.50" width="7.46" height="1.56" fill="#fafdc8"/>
<rect x="323.70" y="279.50" width="7.46" height="1.56" fill="#feea9f"/>
<rect x="331.10" y="279.50" width="7.46" height="1.56" fill="#fee192"/>
<rect x="338.50" y="279.50" width="7.46" height="1.56" fill="#fc9760"/>
<rect x="345.90" y="279.50" width="7.46" height="1.56" fill="#eef8df"/>
<rect x="353.30" y="279.50" width="7.46" height="1.56" fill="#f6fcd0"/>
<rect x="360.70" y="279.50" width="7.46" height="1.56" fill="#f3fad6"/>
<rect x="368.10" y="279.50" width="7.46" height="1.56" fill="#e6f5ed"/>
<rect x="375.50" y="279.50" width="7.46" height="1.56" fill="#d8eef5"/>
<rect x="382.90" y="279.50" width="7.46" height="1.56" fill="#cae4f0"/>
<rect x="301.50" y="281.00" width="7.46" height="1.56" fill="#f7fcce"/>
<rect x="308.90" y="281.00" width="7.46" height="1.56" fill="#eff9dc"/>
<rect x="316.30" y="281.00" width="7.46" height="1.56" fill="#ebf7e4"/>
<rect x="323.70" y="281.00" width="7.46" height="1.56" fill="#fee597"/>
<rect x="331.10" y="281.00" width="7.46" height="1.56" fill="#fecf84"/>
<rect x="338.50" y="281.00" width="7.46" height="1.56" fill="#fb8a57"/>
<rect x="345.90" y="281.00" width="7.46" height="1.56" fill="#f7fccd"/>
<rect x="353.30" y="281.00" width="7.46" height="1.56" fill="#f9fdc9"/>
<rect x="360.70" y="281.00" width="7.46" height="1.56" fill="#f4fbd4"/>
<rect x="368.10" y="281.00" width="7.46" height="1.56" fill="#e4f4f1"/>
<rect x="375.50" y="281.00" width="7.46" height="1.56" fill="#e6f5ec"/>
<rect x="382.90" y="281.00" width="7.46" height="1.56" fill="#def2f7"/>
<rect x="301.50" y="282.50" width="7.46" height="1.56" fill="#feffc1"/>
<rect x="308.90" y="282.50" width="7.46" height="1.56" fill="#f9fdca"/>
<rect x="316.30" y="282.50" width="7.46" height="1.56" fill="#fcfec5"/>
<rect x="323.70" y="282.50" width="7.46" height="1.56" fill="#feeda4"/>
<rect x="331.10" y="282.50" width="7.46" height="1.56" fill="#fdb171"/>
<rect x="338.50" y="282.50" width="7.46" height="1.56" fill="#ed6744"/>
<rect x="345.90" y="282.50" width="7.46" height="1.56" fill="#f5fbd1"/>
<rect x="353.30" y="282.50" width="7.46" height="1.56" fill="#fefec2"/>
<rect x="360.70" y="282.50" width="7.46" height="1.56" fill="#f5fbd2"/>
<rect x="368.10" y="282.50" width="7.46" height="1.56" fill="#eff9dc"/>
<rect x="375.50" y="282.50" width="7.46" height="1.56" fill="#edf8df"/>
<rect x="382.90" y="282.50" width="7.46" height="1.56" fill="#e6f5ec"/>
<rect x="301.50" y="284.00" width="7.46" height="1.06" fill="#f6fbd0"/>
<rect x="308.90" y="284.00" width="7.46" height="1.06" fill="#f9fdca"/>
<rect x="316.30" y="284.00" width="7.46" height="1.06" fill="#f0f9db"/>
<rect x="323.70" y="284.00" width="7.46" height="1.06" fill="#fff4af"/>
<rect x="331.10" y="284.00" width="7.46" height="1.06" fill="#fdc57e"/>
<rect x="338.50" y="284.00" width="7.46" height="1.06" fill="#fc905b"/>
<rect x="345.90" y="284.00" width="7.46" height="1.06" fill="#fafdc9"/>
<rect x="353.30" y="284.00" width="7.46" height="1.06" fill="#fefec2"/>
<rect x="360.70" y="284.00" width="7.46" height="1.06" fill="#f9fdca"/>
<rect x="368.10" y="284.00" width="7.46" height="1.06" fill="#e7f6eb"/>
<rect x="375.50" y="284.00" width="7.46" height="1.06" fill="#eaf7e5"/>
<rect x="382.90" y="284.00" width="7.46" height="1.06" fill="#e3f4f2"/>
<rect x="301.50" y="285.00" width="7.46" height="1.56" fill="#ffffbf"/>
<rect x="308.90" y="285.00" width="7.46" height="1.56" fill="#fffebe"/>
<rect x="316.30" y="285.00" width="7.46" height="1.56" fill="#fffcba"/>
<rect x="323.70" y="285.00" width="7.46" height="1.56" fill="#e7f6ec"/>
<rect x="331.10" y="285.00" width="7.46" height="1.56" fill="#ebf7e3"/>
<rect x="338.50" y="285.00" width="7.46" height="1.56" fill="#96c2dd"/>
<rect x="345.90" y="285.00" width="7.46" height="1.56" fill="#fdba77"/>
<rect x="353.30" y="285.00" width="7.46" height="1.56" fill="#fdc27c"/>
<rect x="360.70" y="285.00" width="7.46" height="1.56" fill="#fdae6f"/>
<rect x="368.10" y="285.00" width="7.46" height="1.56" fill="#eff9dc"/>
<rect x="375.50" y="285.00" width="7.46" height="1.56" fill="#e8f6e9"/>
<rect x="382.90" y="285.00" width="7.46" height="1.56" fill="#f1fad8"/>
<rect x="301.50" y="286.50" width="7.46" height="1.56" fill="#fff7b2"/>
<rect x="308.90" y="286.50" width="7.46" height="1.56" fill="#fbfec6"/>
<rect x="316.30" y="286.50" width="7.46" height="1.56" fill="#fbfec6"/>
<rect x="323.70" y="286.50" width="7.46" height="1.56" fill="#f5fbd1"/>
<rect x="331.10" y="286.50" width="7.46" height="1.56" fill="#f0f9db"/>
<rect x="338.50" y="286.50" width="7.46" height="1.56" fill="#b8d9e9"/>
<rect x="345.90" y="286.50" width="7.46" height="1.56" fill="#fdc67f"/>
<rect x="353.30" y="286.50" width="7.46" height="1.56" fill="#fdbb77"/>
<rect x="360.70" y="286.50" width="7.46" height="1.56" fill="#fdb976"/>
<rect x="368.10" y="286.50" width="7.46" height="1.56" fill="#ebf7e3"/>
<rect x="375.50" y="286.50" width="7.46" height="1.56" fill="#ddf1f7"/>
<rect x="382.90" y="286.50" width="7.46" height="1.56" fill="#eaf7e6"/>
<rect x="301.50" y="288.00" width="7.46" height="1.56" fill="#fff9b7"/>
<rect x="308.90" y="288.00" width="7.46" height="1.56" fill="#fefec2"/>
<rect x="316.30" y="288.00" width="7.46" height="1.56" fill="#f9fdc9"/>
<rect x="323.70" y="288.00" width="7.46" height="1.56" fill="#e6f5ed"/>
<rect x="331.10" y="288.00" width="7.46" height="1.56" fill="#e0f3f8"/>
<rect x="338.50" y="288.00" width="7.46" height="1.56" fill="#8fbdda"/>
<rect x="345.90" y="288.00" width="7.46" height="1.56" fill="#fed387"/>
<rect x="353.30" y="288.00" width="7.46" height="1.56" fill="#fed589"/>
<rect x="360.70" y="288.00" width="7.46" height="1.56" fill="#fed88b"/>
<rect x="368.10" y="288.00" width="7.46" height="1.56" fill="#cfe8f2"/>
<rect x="375.50" y="288.00" width="7.46" height="1.56" fill="#e7f6eb"/>
<rect x="382.90" y="288.00" width="7.46" height="1.56" fill="#e0f3f7"/>
<rect x="301.50" y="289.50" width="7.46" height="0.56" fill="#fcfec5"/>
<rect x="308.90" y="289.50" width="7.46" height="0.56" fill="#fffebd"/>
<rect x="316.30" y="289.50" width="7.46" height="0.56" fill="#fdfec3"/>
<rect x="323.70" y="289.50" width="7.46" height="0.56" fill="#f4fbd3"/>
<rect x="331.10" y="289.50" width="7.46" height="0.56" fill="#f5fbd1"/>
<rect x="338.50" y="289.50" width="7.46" height="0.56" fill="#cae5f0"/>
<rect x="345.90" y="289.50" width="7.46" height="0.56" fill="#fdc37d"/>
<rect x="353.30" y="289.50" width="7.46" height="0.56" fill="#fdc37d"/>
<rect x="360.70" y="289.50" width="7.46" height="0.56" fill="#fdaa6c"/>
<rect x="368.10" y="289.50" width="7.46" height="0.56" fill="#e2f4f5"/>
<rect x="375.50" y="289.50" width="7.46" height="0.56" fill="#ecf8e1"/>
<rect x="382.90" y="289.50" width="7.46" height="0.56" fill="#ecf8e2"/>
<rect x="301.50" y="290.00" width="7.46" height="1.56" fill="#feffc1"/>
<rect x="308.90" y="290.00" width="7.46" height="1.56" fill="#fff0a8"/>
<rect x="316.30" y="290.00" width="7.46" height="1.56" fill="#fffebd"/>
<rect x="323.70" y="290.00" width="7.46" height="1.56" fill="#e9f6e7"/>
<rect x="331.10" y="290.00" width="7.46" height="1.56" fill="#e9f7e7"/>
<rect x="338.50" y="290.00" width="7.46" height="1.56" fill="#ecf8e1"/>
<rect x="345.90" y="290.00" width="7.46" height="1.56" fill="#fdae6f"/>
<rect x="353.30" y="290.00" width="7.46" height="1.56" fill="#fdb574"/>
<rect x="360.70" y="290.00" width="7.46" height="1.56" fill="#fdb976"/>
<rect x="368.10" y="290.00" width="7.46" height="1.56" fill="#e5f5ef"/>
<rect x="375.50" y="290.00" width="7.46" height="1.56" fill="#e8f6e9"/>
<rect x="382.90" y="290.00" width="7.46" height="1.56" fill="#e3f4f3"/>
<rect x="301.50" y="291.50" width="7.46" height="1.56" fill="#fff3ae"/>
<rect x="308.90" y="291.50" width="7.46" height="1.56" fill="#fff5b0"/>
<rect x="316.30" y="291.50" width="7.46" height="1.56" fill="#fffab8"/>
<rect x="323.70" y="291.50" width="7.46" height="1.56" fill="#fffcba"/>
<rect x="331.10" y="291.50" width="7.46" height="1.56" fill="#f9fdcb"/>
<rect x="338.50" y="291.50" width="7.46" height="1.56" fill="#feffc1"/>
<rect x="345.90" y="291.50" width="7.46" height="1.56" fill="#fdbb77"/>
<rect x="353.30" y="291.50" width="7.46" height="1.56" fill="#fdad6e"/>
<rect x="360.70" y="291.50" width="7.46" height="1.56" fill="#fdb574"/>
<rect x="368.10" y="291.50" width="7.46" height="1.56" fill="#eef8df"/>
<rect x="375.50" y="291.50" width="7.46" height="1.56" fill="#f5fbd1"/>
<rect x="382.90" y="291.50" width="7.46" height="1.56" fill="#fafdc8"/>
<rect x="301.50" y="293.00" width="7.46" height="1.56" fill="#feeaa0"/>
<rect x="308.90" y="293.00" width="7.46" height="1.56" fill="#fff9b6"/>
<rect x="316.30" y="293.00" width="7.46" height="1.56" fill="#fff5b0"/>
<rect x="323.70" y="293.00" width="7.46" height="1.56" fill="#f4fbd3"/>
<rect x="331.10" y="293.00" width="7.46" height="1.56" fill="#ebf7e4"/>
<rect x="338.50" y="293.00" width="7.46" height="1.56" fill="#e3f4f2"/>
<rect x="345.90" y="293.00" width="7.46" height="1.56" fill="#fdb976"/>
<rect x="353.30" y="293.00" width="7.46" height="1.56" fill="#fdb775"/>
<rect x="360.70" y="293.00" width="7.46" height="1.56" fill="#fdb775"/>
<rect x="368.10" y="293.00" width="7.46" height="1.56" fill="#ebf7e3"/>
<rect x="375.50" y="293.00" width="7.46" height="1.56" fill="#eff9dd"/>
<rect x="382.90" y="293.00" width="7.46" height="1.56" fill="#edf8e0"/>
<rect x="301.50" y="294.50" width="7.46" height="1.56" fill="#fffab7"/>
<rect x="308.90" y="294.50" width="7.46" height="1.56" fill="#fffdbc"/>
<rect x="316.30" y="294.50" width="7.46" height="1.56" fill="#fffbb9"/>
<rect x="323.70" y="294.50" width="7.46" height="1.56" fill="#e2f4f5"/>
<rect x="331.10" y="294.50" width="7.46" height="1.56" fill="#e9f6e8"/>
<rect x="338.50" y="294.50" width="7.46" height="1.56" fill="#edf8df"/>
<rect x="345.90" y="294.50" width="7.46" height="1.56" fill="#fdbe7a"/>
<rect x="353.30" y="294.50" width="7.46" height="1.56" fill="#fdcb82"/>
<rect x="360.70" y="294.50" width="7.46" height="1.56" fill="#fdb473"/>
<rect x="368.10" y="294.50" width="7.46" height="1.56" fill="#e1f4f5"/>
<rect x="375.50" y="294.50" width="7.46" height="1.56" fill="#ebf7e4"/>
<rect x="382.90" y="294.50" width="7.46" height="1.56" fill="#eaf7e6"/>
<rect x="301.50" y="296.00" width="7.46" height="1.56" fill="#fdfec3"/>
<rect x="308.90" y="296.00" width="7.46" height="1.56" fill="#fffab7"/>
<rect x="316.30" y="296.00" width="7.46" height="1.56" fill="#fff3ad"/>
<rect x="323.70" y="296.00" width="7.46" height="1.56" fill="#f6fccf"/>
<rect x="331.10" y="296.00" width="7.46" height="1.56" fill="#edf8e0"/>
<rect x="338.50" y="296.00" width="7.46" height="1.56" fill="#f5fbd2"/>
<rect x="345.90" y="296.00" width="7.46" height="1.56" fill="#fdc981"/>
<rect x="353.30" y="296.00" width="7.46" height="1.56" fill="#fdaa6c"/>
<rect x="360.70" y="296.00" width="7.46" height="1.56" fill="#fda569"/>
<rect x="368.10" y="296.00" width="7.46" height="1.56" fill="#f1fad8"/>
<rect x="375.50" y="296.00" width="7.46" height="1.56" fill="#f3fad5"/>
<rect x="382.90" y="296.00" width="7.46" height="1.56" fill="#eff9dc"/>
<rect x="301.50" y="297.50" width="7.46" height="1.56" fill="#fffebd"/>
<rect x="308.90" y="297.50" width="7.46" height="1.56" fill="#ffffbf"/>
<rect x="316.30" y="297.50" width="7.46" height="1.56" fill="#fff8b4"/>
<rect x="323.70" y="297.50" width="7.46" height="1.56" fill="#f4fbd3"/>
<rect x="331.10" y="297.50" width="7.46" height="1.56" fill="#f4fbd3"/>
<rect x="338.50" y="297.50" width="7.46" height="1.56" fill="#ffffbf"/>
<rect x="345.90" y="297.50" width="7.46" height="1.56" fill="#fdc17b"/>
<rect x="353.30" y="297.50" width="7.46" height="1.56" fill="#fca066"/>
<rect x="360.70" y="297.50" width="7.46" height="1.56" fill="#fdaf70"/>
<rect x="368.10" y="297.50" width="7.46" height="1.56" fill="#e7f6eb"/>
<rect x="375.50" y="297.50" width="7.46" height="1.56" fill="#f7fcce"/>
<rect x="382.90" y="297.50" width="7.46" height="1.56" fill="#f0f9db"/>
<rect x="301.50" y="299.00" width="7.46" height="1.56" fill="#f7fcce"/>
<rect x="308.90" y="299.00" width="7.46" height="1.56" fill="#f2fad7"/>
<rect x="316.30" y="299.00" width="7.46" height="1.56" fill="#f7fcce"/>
<rect x="323.70" y="299.00" width="7.46" height="1.56" fill="#fedc8e"/>
<rect x="331.10" y="299.00" width="7.46" height="1.56" fill="#fdab6d"/>
<rect x="338.50" y="299.00" width="7.46" height="1.56" fill="#fee699"/>
<rect x="345.90" y="299.00" width="7.46" height="1.56" fill="#fff3ae"/>
<rect x="353.30" y="299.00" width="7.46" height="1.56" fill="#fff6b2"/>
<rect x="360.70" y="299.00" width="7.46" height="1.56" fill="#fff5af"/>
<rect x="368.10" y="299.00" width="7.46" height="1.56" fill="#a5cce2"/>
<rect x="375.50" y="299.00" width="7.46" height="1.56" fill="#aed2e6"/>
<rect x="382.90" y="299.00" width="7.46" height="1.56" fill="#aed2e6"/>
<rect x="301.50" y="300.50" width="7.46" height="1.56" fill="#e0f3f8"/>
<rect x="308.90" y="300.50" width="7.46" height="1.56" fill="#d8edf5"/>
<rect x="316.30" y="300.50" width="7.46" height="1.56" fill="#d8eef5"/>
<rect x="323.70" y="300.50" width="7.46" height="1.56" fill="#fff7b3"/>
<rect x="331.10" y="300.50" width="7.46" height="1.56" fill="#fed287"/>
<rect x="338.50" y="300.50" width="7.46" height="1.56" fill="#fff3ad"/>
<rect x="345.90" y="300.50" width="7.46" height="1.56" fill="#fff8b5"/>
<rect x="353.30" y="300.50" width="7.46" height="1.56" fill="#fff9b5"/>
<rect x="360.70" y="300.50" width="7.46" height="1.56" fill="#fff3ac"/>
<rect x="368.10" y="300.50" width="7.46" height="1.56" fill="#9ec8e0"/>
<rect x="375.50" y="300.50" width="7.46" height="1.56" fill="#94c1dc"/>
<rect x="382.90" y="300.50" width="7.46" height="1.56" fill="#b0d3e6"/>
<rect x="301.50" y="302.00" width="7.46" height="1.56" fill="#e2f4f5"/>
<rect x="308.90" y="302.00" width="7.46" height="1.56" fill="#e4f4f1"/>
<rect x="316.30" y="302.00" width="7.46" height="1.56" fill="#ddf1f7"/>
<rect x="323.70" y="302.00" width="7.46" height="1.56" fill="#fee69a"/>
<rect x="331.10" y="302.00" width="7.46" height="1.56" fill="#fecd83"/>
<rect x="338.50" y="302.00" width="7.46" height="1.56" fill="#fee698"/>
<rect x="345.90" y="302.00" width="7.46" height="1.56" fill="#fff0a9"/>
<rect x="353.30" y="302.00" width="7.46" height="1.56" fill="#fff3ac"/>
<rect x="360.70" y="302.00" width="7.46" height="1.56" fill="#fff6b2"/>
<rect x="368.10" y="302.00" width="7.46" height="1.56" fill="#b3d6e8"/>
<rect x="375.50" y="302.00" width="7.46" height="1.56" fill="#92c0db"/>
<rect x="382.90" y="302.00" width="7.46" height="1.56" fill="#aacfe4"/>
<rect x="301.50" y="303.50" width="7.46" height="1.56" fill="#bfddec"/>
<rect x="308.90" y="303.50" width="7.46" height="1.56" fill="#dcf1f7"/>
<rect x="316.30" y="303.50" width="7.46" height="1.56" fill="#e2f4f4"/>
<rect x="323.70" y="303.50" width="7.46" height="1.56" fill="#fffbb9"/>
<rect x="331.10" y="303.50" width="7.46" height="1.56" fill="#fede8e"/>
<rect x="338.50" y="303.50" width="7.46" height="1.56" fill="#fff6b1"/>
<rect x="345.90" y="303.50" width="7.46" height="1.56" fill="#fff2ac"/>
<rect x="353.30" y="303.50" width="7.46" height="1.56" fill="#fffebe"/>
<rect x="360.70" y="303.50" width="7.46" height="1.56" fill="#fff8b4"/>
<rect x="368.10" y="303.50" width="7.46" height="1.56" fill="#5989be"/>
<rect x="375.50" y="303.50" width="7.46" height="1.56" fill="#709fca"/>
<rect x="382.90" y="303.50" width="7.46" height="1.56" fill="#5c8cc0"/>
<rect x="301.50" y="305.00" width="7.46" height="1.56" fill="#f0f9db"/>
<rect x="308.90" y="305.00" width="7.46" height="1.56" fill="#e6f5ed"/>
<rect x="316.30" y="305.00" width="7.46" height="1.56" fill="#eaf7e6"/>
<rect x="323.70" y="305.00" width="7.46" height="1.56" fill="#feeba1"/>
<rect x="331.10" y="305.00" width="7.46" height="1.56" fill="#fed186"/>
<rect x="338.50" y="305.00" width="7.46" height="1.56" fill="#fee598"/>
<rect x="345.90" y="305.00" width="7.46" height="1.56" fill="#fff3ad"/>
<rect x="353.30" y="305.00" width="7.46" height="1.56" fill="#fee69a"/>
<rect x="360.70" y="305.00" width="7.46" height="1.56" fill="#feeca2"/>
<rect x="368.10" y="305.00" width="7.46" height="1.56" fill="#b6d7e8"/>
<rect x="375.50" y="305.00" width="7.46" height="1.56" fill="#c5e1ee"/>
<rect x="382.90" y="305.00" width="7.46" height="1.56" fill="#c3e0ed"/>
<rect x="301.50" y="306.50" width="7.46" height="1.56" fill="#f4fbd3"/>
<rect x="308.90" y="306.50" width="7.46" height="1.56" fill="#f3fad6"/>
<rect x="316.30" y="306.50" width="7.46" height="1.56" fill="#eef8df"/>
<rect x="323.70" y="306.50" width="7.46" height="1.56" fill="#fee597"/>
<rect x="331.10" y="306.50" width="7.46" height="1.56" fill="#fdbd79"/>
<rect x="338.50" y="306.50" width="7.46" height="1.56" fill="#fff0a8"/>
<rect x="345.90" y="306.50" width="7.46" height="1.56" fill="#fee99e"/>
<rect x="353.30" y="306.50" width="7.46" height="1.56" fill="#fee99e"/>
<rect x="360.70" y="306.50" width="7.46" height="1.56" fill="#fee192"/>
<rect x="368.10" y="306.50" width="7.46" height="1.56" fill="#abd0e5"/>
<rect x="375.50" y="306.50" width="7.46" height="1.56" fill="#bcdbeb"/>
<rect x="382.90" y="306.50" width="7.46" height="1.56" fill="#c7e3ef"/>
<rect x="301.50" y="308.00" width="7.46" height="1.56" fill="#eef8df"/>
<rect x="308.90" y="308.00" width="7.46" height="1.56" fill="#f1fad8"/>
<rect x="316.30" y="308.00" width="7.46" height="1.56" fill="#e7f6ec"/>
<rect x="323.70" y="308.00" width="7.46" height="1.56" fill="#fed287"/>
<rect x="331.10" y="308.00" width="7.46" height="1.56" fill="#fca066"/>
<rect x="338.50" y="308.00" width="7.46" height="1.56" fill="#feda8c"/>
<rect x="345.90" y="308.00" width="7.46" height="1.56" fill="#feefa6"/>
<rect x="353.30" y="308.00" width="7.46" height="1.56" fill="#feefa7"/>
<rect x="360.70" y="308.00" width="7.46" height="1.56" fill="#feefa7"/>
<rect x="368.10" y="308.00" width="7.46" height="1.56" fill="#c6e2ee"/>
<rect x="375.50" y="308.00" width="7.46" height="1.56" fill="#cee7f1"/>
<rect x="382.90" y="308.00" width="7.46" height="1.56" fill="#cce6f1"/>
<rect x="301.50" y="309.50" width="7.46" height="0.56" fill="#e7f6eb"/>
<rect x="308.90" y="309.50" width="7.46" height="0.56" fill="#e4f5f0"/>
<rect x="316.30" y="309.50" width="7.46" height="0.56" fill="#e3f4f2"/>
<rect x="323.70" y="309.50" width="7.46" height="0.56" fill="#feeca3"/>
<rect x="331.10" y="309.50" width="7.46" height="0.56" fill="#fdb272"/>
<rect x="338.50" y="309.50" width="7.46" height="0.56" fill="#fff6b1"/>
<rect x="345.90" y="309.50" width="7.46" height="0.56" fill="#fee99d"/>
<rect x="353.30" y="309.50" width="7.46" height="0.56" fill="#fee89c"/>
<rect x="360.70" y="309.50" width="7.46" height="0.56" fill="#fff3ac"/>
<rect x="368.10" y="309.50" width="7.46" height="0.56" fill="#a5cce2"/>
<rect x="375.50" y="309.50" width="7.46" height="0.56" fill="#9ec8e0"/>
<rect x="382.90" y="309.50" width="7.46" height="0.56" fill="#9ac5de"/>
<rect x="301.50" y="310.00" width="7.46" height="1.56" fill="#eaf7e6"/>
<rect x="308.90" y="310.00" width="7.46" height="1.56" fill="#f7fcce"/>
<rect x="316.30" y="310.00" width="7.46" height="1.56" fill="#f4fbd3"/>
<rect x="323.70" y="310.00" width="7.46" height="1.56" fill="#feea9f"/>
<rect x="331.10" y="310.00" width="7.46" height="1.56" fill="#fed488"/>
<rect x="338.50" y="310.00" width="7.46" height="1.56" fill="#fff8b5"/>
<rect x="345.90" y="310.00" width="7.46" height="1.56" fill="#fff7b2"/>
<rect x="353.30" y="310.00" width="7.46" height="1.56" fill="#fff2ab"/>
<rect x="360.70" y="310.00" width="7.46" height="1.56" fill="#fff5b0"/>
<rect x="368.10" y="310.00" width="7.46" height="1.56" fill="#7eadd1"/>
<rect x="375.50" y="310.00" width="7.46" height="1.56" fill="#8fbdda"/>
<rect x="382.90" y="310.00" width="7.46" height="1.56" fill="#75a3cc"/>
<rect x="301.50" y="311.50" width="7.46" height="1.56" fill="#e6f5ee"/>
<rect x="308.90" y="311.50" width="7.46" height="1.56" fill="#edf8e1"/>
<rect x="316.30" y="311.50" width="7.46" height="1.56" fill="#ecf8e2"/>
<rect x="323.70" y="311.50" width="7.46" height="1.56" fill="#fee89c"/>
<rect x="331.10" y="311.50" width="7.46" height="1.56" fill="#fdb875"/>
<rect x="338.50" y="311.50" width="7.46" height="1.56" fill="#fee395"/>
<rect x="345.90" y="311.50" width="7.46" height="1.56" fill="#fff3ad"/>
<rect x="353.30" y="311.50" width="7.46" height="1.56" fill="#fff2ab"/>
<rect x="360.70" y="311.50" width="7.46" height="1.56" fill="#feeba1"/>
<rect x="368.10" y="311.50" width="7.46" height="1.56" fill="#90beda"/>
<rect x="375.50" y="311.50" width="7.46" height="1.56" fill="#93c1dc"/>
<rect x="382.90" y="311.50" width="7.46" height="1.56" fill="#a1cae1"/>
<rect x="301.50" y="313.00" width="7.46" height="1.56" fill="#f3fad6"/>
<rect x="308.90" y="313.00" width="7.46" height="1.56" fill="#eff9dd"/>
<rect x="316.30" y="313.00" width="7.46" height="1.56" fill="#f4fbd3"/>
<rect x="323.70" y="313.00" width="7.46" height="1.56" fill="#fee99d"/>
<rect x="331.10" y="313.00" width="7.46" height="1.56" fill="#fecd83"/>
<rect x="338.50" y="313.00" width="7.46" height="1.56" fill="#fee394"/>
<rect x="345.90" y="313.00" width="7.46" height="1.56" fill="#fff6b1"/>
<rect x="353.30" y="313.00" width="7.46" height="1.56" fill="#fff8b4"/>
<rect x="360.70" y="313.00" width="7.46" height="1.56" fill="#fff6b1"/>
<rect x="368.10" y="313.00" width="7.46" height="1.56" fill="#a0c9e1"/>
<rect x="375.50" y="313.00" width="7.46" height="1.56" fill="#96c2dd"/>
<rect x="382.90" y="313.00" width="7.46" height="1.56" fill="#88b6d6"/>
<rect x="301.50" y="314.50" width="7.46" height="1.56" fill="#f1fad8"/>
<rect x="308.90" y="314.50" width="7.46" height="1.56" fill="#f8fccc"/>
<rect x="316.30" y="314.50" width="7.46" height="1.56" fill="#f4fbd3"/>
<rect x="323.70" y="314.50" width="7.46" height="1.56" fill="#feefa7"/>
<rect x="331.10" y="314.50" width="7.46" height="1.56" fill="#fdc981"/>
<rect x="338.50" y="314.50" width="7.46" height="1.56" fill="#fee394"/>
<rect x="345.90" y="314.50" width="7.46" height="1.56" fill="#fffbb9"/>
<rect x="353.30" y="314.50" width="7.46" height="1.56" fill="#ffffbe"/>
<rect x="360.70" y="314.50" width="7.46" height="1.56" fill="#fffab7"/>
<rect x="368.10" y="314.50" width="7.46" height="1.56" fill="#7dacd1"/>
<rect x="375.50" y="314.50" width="7.46" height="1.56" fill="#8fbdda"/>
<rect x="382.90" y="314.50" width="7.46" height="1.56" fill="#9fc8e0"/>
<rect x="301.50" y="316.00" width="7.46" height="1.56" fill="#edf8e1"/>
<rect x="308.90" y="316.00" width="7.46" height="1.56" fill="#f3fad6"/>
<rect x="316.30" y="316.00" width="7.46" height="1.56" fill="#f2fad6"/>
<rect x="323.70" y="316.00" width="7.46" height="1.56" fill="#fff8b5"/>
<rect x="331.10" y="316.00" width="7.46" height="1.56" fill="#fedd8e"/>
<rect x="338.50" y="316.00" width="7.46" height="1.56" fill="#fff2ab"/>
<rect x="345.90" y="316.00" width="7.46" height="1.56" fill="#fff3ad"/>
<rect x="353.30" y="316.00" width="7.46" height="1.56" fill="#feeea6"/>
<rect x="360.70" y="316.00" width="7.46" height="1.56" fill="#fff2ab"/>
<rect x="368.10" y="316.00" width="7.46" height="1.56" fill="#a9cfe4"/>
<rect x="375.50" y="316.00" width="7.46" height="1.56" fill="#8dbbd9"/>
<rect x="382.90" y="316.00" width="7.46" height="1.56" fill="#9ac5de"/>
<rect x="301.50" y="317.50" width="7.46" height="1.56" fill="#f9fdca"/>
<rect x="308.90" y="317.50" width="7.46" height="1.56" fill="#ffffbf"/>
<rect x="316.30" y="317.50" width="7.46" height="1.56" fill="#f3fad5"/>
<rect x="323.70" y="317.50" width="7.46" height="1.56" fill="#feeca3"/>
<rect x="331.10" y="317.50" width="7.46" height="1.56" fill="#fdb775"/>
<rect x="338.50" y="317.50" width="7.46" height="1.56" fill="#feda8c"/>
<rect x="345.90" y="317.50" width="7.46" height="1.56" fill="#fee79b"/>
<rect x="353.30" y="317.50" width="7.46" height="1.56" fill="#fff9b6"/>
<rect x="360.70" y="317.50" width="7.46" height="1.56" fill="#fff2ab"/>
<rect x="368.10" y="317.50" width="7.46" height="1.56" fill="#a8cee3"/>
<rect x="375.50" y="317.50" width="7.46" height="1.56" fill="#9cc6df"/>
<rect x="382.90" y="317.50" width="7.46" height="1.56" fill="#97c3dd"/>
<rect x="301.50" y="319.00" width="7.46" height="1.56" fill="#f9fdca"/>
<rect x="308.90" y="319.00" width="7.46" height="1.56" fill="#fcfec4"/>
<rect x="316.30" y="319.00" width="7.46" height="1.56" fill="#fcfec4"/>
<rect x="323.70" y="319.00" width="7.46" height="1.56" fill="#fee699"/>
<rect x="331.10" y="319.00" width="7.46" height="1.56" fill="#fc9d64"/>
<rect x="338.50" y="319.00" width="7.46" height="1.56" fill="#fdcb82"/>
<rect x="345.90" y="319.00" width="7.46" height="1.56" fill="#fff2ab"/>
<rect x="353.30" y="319.00" width="7.46" height="1.56" fill="#feffc1"/>
<rect x="360.70" y="319.00" width="7.46" height="1.56" fill="#fffbb9"/>
<rect x="368.10" y="319.00" width="7.46" height="1.56" fill="#96c2dd"/>
<rect x="375.50" y="319.00" width="7.46" height="1.56" fill="#81afd3"/>
<rect x="382.90" y="319.00" width="7.46" height="1.56" fill="#8ebcd9"/>
<rect x="301.50" y="320.50" width="7.46" height="1.56" fill="#edf8df"/>
<rect x="308.90" y="320.50" width="7.46" height="1.56" fill="#f3fad5"/>
<rect x="316.30" y="320.50" width="7.46" height="1.56" fill="#eff9dc"/>
<rect x="323.70" y="320.50" width="7.46" height="1.56" fill="#fffab7"/>
<rect x="331.10" y="320.50" width="7.46" height="1.56" fill="#fed488"/>
<rect x="338.50" y="320.50" width="7.46" height="1.56" fill="#fff5af"/>
<rect x="345.90" y="320.50" width="7.46" height="1.56" fill="#fffdbb"/>
<rect x="353.30" y="320.50" width="7.46" height="1.56" fill="#fffbb8"/>
<rect x="360.70" y="320.50" width="7.46" height="1.56" fill="#fbfec6"/>
<rect x="368.10" y="320.50" width="7.46" height="1.56" fill="#96c2dd"/>
<rect x="375.50" y="320.50" width="7.46" height="1.56" fill="#80afd2"/>
<rect x="382.90" y="320.50" width="7.46" height="1.56" fill="#8ab9d8"/>
<rect x="301.50" y="322.00" width="7.46" height="1.56" fill="#ffffbf"/>
<rect x="308.90" y="322.00" width="7.46" height="1.56" fill="#ffffbf"/>
<rect x="316.30" y="322.00" width="7.46" height="1.56" fill="#fffab8"/>
<rect x="323.70" y="322.00" width="7.46" height="1.56" fill="#fff2ac"/>
<rect x="331.10" y="322.00" width="7.46" height="1.56" fill="#fed085"/>
<rect x="338.50" y="322.00" width="7.46" height="1.56" fill="#feeca2"/>
<rect x="345.90" y="322.00" width="7.46" height="1.56" fill="#feea9f"/>
<rect x="353.30" y="322.00" width="7.46" height="1.56" fill="#feeca1"/>
<rect x="360.70" y="322.00" width="7.46" height="1.56" fill="#feeea6"/>
<rect x="368.10" y="322.00" width="7.46" height="1.56" fill="#add2e5"/>
<rect x="375.50" y="322.00" width="7.46" height="1.56" fill="#afd3e6"/>
<rect x="382.90" y="322.00" width="7.46" height="1.56" fill="#93c0dc"/>
<rect x="301.50" y="323.50" width="7.46" height="1.56" fill="#f3fad5"/>
<rect x="308.90" y="323.50" width="7.46" height="1.56" fill="#f2fad7"/>
<rect x="316.30" y="323.50" width="7.46" height="1.56" fill="#f2fad8"/>
<rect x="323.70" y="323.50" width="7.46" height="1.56" fill="#fee292"/>
<rect x="331.10" y="323.50" width="7.46" height="1.56" fill="#fdbe7a"/>
<rect x="338.50" y="323.50" width="7.46" height="1.56" fill="#feeba0"/>
<rect x="345.90" y="323.50" width="7.46" height="1.56" fill="#fff2ab"/>
<rect x="353.30" y="323.50" width="7.46" height="1.56" fill="#fff1a9"/>
<rect x="360.70" y="323.50" width="7.46" height="1.56" fill="#fff0a8"/>
<rect x="368.10" y="323.50" width="7.46" height="1.56" fill="#9ac5de"/>
<rect x="375.50" y="323.50" width="7.46" height="1.56" fill="#96c2dd"/>
<rect x="382.90" y="323.50" width="7.46" height="1.56" fill="#94c1dc"/>
<rect x="301.50" y="325.00" width="7.46" height="1.56" fill="#eaf7e6"/>
<rect x="308.90" y="325.00" width="7.46" height="1.56" fill="#f4fbd3"/>
<rect x="316.30" y="325.00" width="7.46" height="1.56" fill="#ebf7e4"/>
<rect x="323.70" y="325.00" width="7.46" height="1.56" fill="#feefa7"/>
<rect x="331.10" y="325.00" width="7.46" height="1.56" fill="#fed88b"/>
<rect x="338.50" y="325.00" width="7.46" height="1.56" fill="#fff3ae"/>
<rect x="345.90" y="325.00" width="7.46" height="1.56" fill="#fff7b3"/>
<rect x="353.30" y="325.00" width="7.46" height="1.56" fill="#fff8b4"/>
<rect x="360.70" y="325.00" width="7.46" height="1.56" fill="#fff5af"/>
<rect x="368.10" y="325.00" width="7.46" height="1.56" fill="#85b3d5"/>
<rect x="375.50" y="325.00" width="7.46" height="1.56" fill="#87b6d6"/>
<rect x="382.90" y="325.00" width="7.46" height="1.56" fill="#92c0db"/>
<rect x="301.50" y="326.50" width="7.46" height="1.56" fill="#f7fcce"/>
<rect x="308.90" y="326.50" width="7.46" height="1.56" fill="#f3fbd4"/>
<rect x="316.30" y="326.50" width="7.46" height="1.56" fill="#f8fccc"/>
<rect x="323.70" y="326.50" width="7.46" height="1.56" fill="#fee99d"/>
<rect x="331.10" y="326.50" width="7.46" height="1.56" fill="#fed287"/>
<rect x="338.50" y="326.50" width="7.46" height="1.56" fill="#fff1aa"/>
<rect x="345.90" y="326.50" width="7.46" height="1.56" fill="#fff0a9"/>
<rect x="353.30" y="326.50" width="7.46" height="1.56" fill="#fff3ad"/>
<rect x="360.70" y="326.50" width="7.46" height="1.56" fill="#fff6b1"/>
<rect x="368.10" y="326.50" width="7.46" height="1.56" fill="#92c0db"/>
<rect x="375.50" y="326.50" width="7.46" height="1.56" fill="#92c0db"/>
<rect x="382.90" y="326.50" width="7.46" height="1.56" fill="#78a7ce"/>
<rect x="301.50" y="328.00" width="7.46" height="1.56" fill="#fffbb9"/>
<rect x="308.90" y="328.00" width="7.46" height="1.56" fill="#fffdbc"/>
<rect x="316.30" y="328.00" width="7.46" height="1.56" fill="#fbfdc7"/>
<rect x="323.70" y="328.00" width="7.46" height="1.56" fill="#fee497"/>
<rect x="331.10" y="328.00" width="7.46" height="1.56" fill="#fdc17b"/>
<rect x="338.50" y="328.00" width="7.46" height="1.56" fill="#fee79b"/>
<rect x="345.90" y="328.00" width="7.46" height="1.56" fill="#fffdbd"/>
<rect x="353.30" y="328.00" width="7.46" height="1.56" fill="#fff1a9"/>
<rect x="360.70" y="328.00" width="7.46" height="1.56" fill="#fff1aa"/>
<rect x="368.10" y="328.00" width="7.46" height="1.56" fill="#98c3dd"/>
<rect x="375.50" y="328.00" width="7.46" height="1.56" fill="#8ab8d7"/>
<rect x="382.90" y="328.00" width="7.46" height="1.56" fill="#92c0db"/>
<rect x="301.50" y="329.50" width="7.46" height="1.56" fill="#eef9de"/>
<rect x="308.90" y="329.50" width="7.46" height="1.56" fill="#f7fccd"/>
<rect x="316.30" y="329.50" width="7.46" height="1.56" fill="#f5fbd1"/>
<rect x="323.70" y="329.50" width="7.46" height="1.56" fill="#feeda4"/>
<rect x="331.10" y="329.50" width="7.46" height="1.56" fill="#fdb272"/>
<rect x="338.50" y="329.50" width="7.46" height="1.56" fill="#feefa7"/>
<rect x="345.90" y="329.50" width="7.46" height="1.56" fill="#fff6b2"/>
<rect x="353.30" y="329.50" width="7.46" height="1.56" fill="#feefa7"/>
<rect x="360.70" y="329.50" width="7.46" height="1.56" fill="#fff1a9"/>
<rect x="368.10" y="329.50" width="7.46" height="1.56" fill="#6493c4"/>
<rect x="375.50" y="329.50" width="7.46" height="1.56" fill="#6c9bc8"/>
<rect x="382.90" y="329.50" width="7.46" height="1.56" fill="#87b5d6"/>
<rect x="301.50" y="331.00" width="7.46" height="1.56" fill="#f2fad6"/>
<rect x="308.90" y="331.00" width="7.46" height="1.56" fill="#e8f6e9"/>
<rect x="316.30" y="331.00" width="7.46" height="1.56" fill="#f4fbd3"/>
<rect x="323.70" y="331.00" width="7.46" height="1.56" fill="#fff9b6"/>
<rect x="331.10" y="331.00" width="7.46" height="1.56" fill="#fed98c"/>
<rect x="338.50" y="331.00" width="7.46" height="1.56" fill="#fffbb9"/>
<rect x="345.90" y="331.00" width="7.46" height="1.56" fill="#fff1aa"/>
<rect x="353.30" y="331.00" width="7.46" height="1.56" fill="#fff1aa"/>
<rect x="360.70" y="331.00" width="7.46" height="1.56" fill="#fff3ac"/>
<rect x="368.10" y="331.00" width="7.46" height="1.56" fill="#9cc6df"/>
<rect x="375.50" y="331.00" width="7.46" height="1.56" fill="#95c2dd"/>
<rect x="382.90" y="331.00" width="7.46" height="1.56" fill="#8ebcd9"/>
<rect x="301.50" y="332.50" width="7.46" height="1.56" fill="#fcfec5"/>
<rect x="308.90" y="332.50" width="7.46" height="1.56" fill="#f8fccc"/>
<rect x="316.30" y="332.50" width="7.46" height="1.56" fill="#fafdc8"/>
<rect x="323.70" y="332.50" width="7.46" height="1.56" fill="#fedd8e"/>
<rect x="331.10" y="332.50" width="7.46" height="1.56" fill="#fdaa6c"/>
<rect x="338.50" y="332.50" width="7.46" height="1.56" fill="#fdc47d"/>
<rect x="345.90" y="332.50" width="7.46" height="1.56" fill="#fee598"/>
<rect x="353.30" y="332.50" width="7.46" height="1.56" fill="#fee69a"/>
<rect x="360.70" y="332.50" width="7.46" height="1.56" fill="#fee395"/>
<rect x="368.10" y="332.50" width="7.46" height="1.56" fill="#c0deec"/>
<rect x="375.50" y="332.50" width="7.46" height="1.56" fill="#b0d4e7"/>
<rect x="382.90" y="332.50" width="7.46" height="1.56" fill="#a1cae1"/>
<rect x="301.50" y="334.00" width="7.46" height="1.56" fill="#edf8e0"/>
<rect x="308.90" y="334.00" width="7.46" height="1.56" fill="#e9f7e7"/>
<rect x="316.30" y="334.00" width="7.46" height="1.56" fill="#f3fad4"/>
<rect x="323.70" y="334.00" width="7.46" height="1.56" fill="#feeaa0"/>
<rect x="331.10" y="334.00" width="7.46" height="1.56" fill="#fdc37d"/>
<rect x="338.50" y="334.00" width="7.46" height="1.56" fill="#fff5b0"/>
<rect x="345.90" y="334.00" width="7.46" height="1.56" fill="#fff9b6"/>
<rect x="353.30" y="334.00" width="7.46" height="1.56" fill="#fff7b2"/>
<rect x="360.70" y="334.00" width="7.46" height="1.56" fill="#fff4ae"/>
<rect x="368.10" y="334.00" width="7.46" height="1.56" fill="#89b8d7"/>
<rect x="375.50" y="334.00" width="7.46" height="1.56" fill="#8dbcd9"/>
<rect x="382.90" y="334.00" width="7.46" height="1.56" fill="#8fbdda"/>
<rect x="301.50" y="335.50" width="7.46" height="1.56" fill="#ebf7e4"/>
<rect x="308.90" y="335.50" width="7.46" height="1.56" fill="#e9f7e7"/>
<rect x="316.30" y="335.50" width="7.46" height="1.56" fill="#e7f6eb"/>
<rect x="323.70" y="335.50" width="7.46" height="1.56" fill="#fff4ae"/>
<rect x="331.10" y="335.50" width="7.46" height="1.56" fill="#fed98b"/>
<rect x="338.50" y="335.50" width="7.46" height="1.56" fill="#fff6b1"/>
<rect x="345.90" y="335.50" width="7.46" height="1.56" fill="#f2fad7"/>
<rect x="353.30" y="335.50" width="7.46" height="1.56" fill="#f2fad6"/>
<rect x="360.70" y="335.50" width="7.46" height="1.56" fill="#e8f6e9"/>
<rect x="368.10" y="335.50" width="7.46" height="1.56" fill="#83b2d4"/>
<rect x="375.50" y="335.50" width="7.46" height="1.56" fill="#80aed2"/>
<rect x="382.90" y="335.50" width="7.46" height="1.56" fill="#72a1cb"/>
<rect x="301.50" y="337.00" width="7.46" height="1.56" fill="#edf8e0"/>
<rect x="308.90" y="337.00" width="7.46" height="1.56" fill="#ebf7e5"/>
<rect x="316.30" y="337.00" width="7.46" height="1.56" fill="#ecf8e2"/>
<rect x="323.70" y="337.00" width="7.46" height="1.56" fill="#feeda4"/>
<rect x="331.10" y="337.00" width="7.46" height="1.56" fill="#fece84"/>
<rect x="338.50" y="337.00" width="7.46" height="1.56" fill="#feefa6"/>
<rect x="345.90" y="337.00" width="7.46" height="1.56" fill="#fefec1"/>
<rect x="353.30" y="337.00" width="7.46" height="1.56" fill="#feffc1"/>
<rect x="360.70" y="337.00" width="7.46" height="1.56" fill="#fffdbc"/>
<rect x="368.10" y="337.00" width="7.46" height="1.56" fill="#7eacd1"/>
<rect x="375.50" y="337.00" width="7.46" height="1.56" fill="#91bfdb"/>
<rect x="382.90" y="337.00" width="7.46" height="1.56" fill="#9ac5de"/>
<rect x="301.50" y="338.50" width="7.46" height="1.56" fill="#fffdbc"/>
<rect x="308.90" y="338.50" width="7.46" height="1.56" fill="#fffebe"/>
<rect x="316.30" y="338.50" width="7.46" height="1.56" fill="#fff9b6"/>
<rect x="323.70" y="338.50" width="7.46" height="1.56" fill="#fdb372"/>
<rect x="331.10" y="338.50" width="7.46" height="1.56" fill="#fc9f65"/>
<rect x="338.50" y="338.50" width="7.46" height="1.56" fill="#fed78a"/>
<rect x="345.90" y="338.50" width="7.46" height="1.56" fill="#fed88b"/>
<rect x="353.30" y="338.50" width="7.46" height="1.56" fill="#fee496"/>
<rect x="360.70" y="338.50" width="7.46" height="1.56" fill="#fee090"/>
<rect x="368.10" y="338.50" width="7.46" height="1.56" fill="#9dc7df"/>
<rect x="375.50" y="338.50" width="7.46" height="1.56" fill="#b5d7e8"/>
<rect x="382.90" y="338.50" width="7.46" height="1.56" fill="#a7cee3"/>
<rect x="301.50" y="340.00" width="7.46" height="1.56" fill="#f6fbd0"/>
<rect x="308.90" y="340.00" width="7.46" height="1.56" fill="#fdfec3"/>
<rect x="316.30" y="340.00" width="7.46" height="1.56" fill="#f7fccd"/>
<rect x="323.70" y="340.00" width="7.46" height="1.56" fill="#fee89c"/>
<rect x="331.10" y="340.00" width="7.46" height="1.56" fill="#fecc83"/>
<rect x="338.50" y="340.00" width="7.46" height="1.56" fill="#fff0a8"/>
<rect x="345.90" y="340.00" width="7.46" height="1.56" fill="#fff7b3"/>
<rect x="353.30" y="340.00" width="7.46" height="1.56" fill="#fee89c"/>
<rect x="360.70" y="340.00" width="7.46" height="1.56" fill="#fff5b0"/>
<rect x="368.10" y="340.00" width="7.46" height="1.56" fill="#99c4de"/>
<rect x="375.50" y="340.00" width="7.46" height="1.56" fill="#aed2e6"/>
<rect x="382.90" y="340.00" width="7.46" height="1.56" fill="#a9cfe4"/>
<rect x="301.50" y="341.50" width="7.46" height="1.56" fill="#eef8df"/>
<rect x="308.90" y="341.50" width="7.46" height="1.56" fill="#f4fbd2"/>
<rect x="316.30" y="341.50" width="7.46" height="1.56" fill="#f7fccd"/>
<rect x="323.70" y="341.50" width="7.46" height="1.56" fill="#fdbc78"/>
<rect x="331.10" y="341.50" width="7.46" height="1.56" fill="#fdaf6f"/>
<rect x="338.50" y="341.50" width="7.46" height="1.56" fill="#fed387"/>
<rect x="345.90" y="341.50" width="7.46" height="1.56" fill="#fee394"/>
<rect x="353.30" y="341.50" width="7.46" height="1.56" fill="#fff2ab"/>
<rect x="360.70" y="341.50" width="7.46" height="1.56" fill="#feeda4"/>
<rect x="368.10" y="341.50" width="7.46" height="1.56" fill="#a4cce2"/>
<rect x="375.50" y="341.50" width="7.46" height="1.56" fill="#a0c9e1"/>
<rect x="382.90" y="341.50" width="7.46" height="1.56" fill="#abd0e4"/>
<rect x="301.50" y="343.00" width="7.46" height="1.56" fill="#f1fad8"/>
<rect x="308.90" y="343.00" width="7.46" height="1.56" fill="#f5fbd1"/>
<rect x="316.30" y="343.00" width="7.46" height="1.56" fill="#f1fad8"/>
<rect x="323.70" y="343.00" width="7.46" height="1.56" fill="#fee496"/>
<rect x="331.10" y="343.00" width="7.46" height="1.56" fill="#fdb775"/>
<rect x="338.50" y="343.00" width="7.46" height="1.56" fill="#fed186"/>
<rect x="345.90" y="343.00" width="7.46" height="1.56" fill="#fff2ac"/>
<rect x="353.30" y="343.00" width="7.46" height="1.56" fill="#feeca1"/>
<rect x="360.70" y="343.00" width="7.46" height="1.56" fill="#fff2ac"/>
<rect x="368.10" y="343.00" width="7.46" height="1.56" fill="#86b5d6"/>
<rect x="375.50" y="343.00" width="7.46" height="1.56" fill="#91bfdb"/>
<rect x="382.90" y="343.00" width="7.46" height="1.56" fill="#8ab8d7"/>
<rect x="301.50" y="344.50" width="7.46" height="1.56" fill="#fffcbb"/>
<rect x="308.90" y="344.50" width="7.46" height="1.56" fill="#fff6b2"/>
<rect x="316.30" y="344.50" width="7.46" height="1.56" fill="#fdfec2"/>
<rect x="323.70" y="344.50" width="7.46" height="1.56" fill="#feeca3"/>
<rect x="331.10" y="344.50" width="7.46" height="1.56" fill="#fdc981"/>
<rect x="338.50" y="344.50" width="7.46" height="1.56" fill="#feeda4"/>
<rect x="345.90" y="344.50" width="7.46" height="1.56" fill="#feea9f"/>
<rect x="353.30" y="344.50" width="7.46" height="1.56" fill="#fee79a"/>
<rect x="360.70" y="344.50" width="7.46" height="1.56" fill="#feeca2"/>
<rect x="368.10" y="344.50" width="7.46" height="1.56" fill="#a1c9e1"/>
<rect x="375.50" y="344.50" width="7.46" height="1.56" fill="#a9cfe4"/>
<rect x="382.90" y="344.50" width="7.46" height="1.56" fill="#92c0dc"/>
<rect x="301.50" y="346.00" width="7.46" height="1.06" fill="#fefec2"/>
<rect x="308.90" y="346.00" width="7.46" height="1.06" fill="#f1fad9"/>
<rect x="316.30" y="346.00" width="7.46" height="1.06" fill="#f8fccb"/>
<rect x="323.70" y="346.00" width="7.46" height="1.06" fill="#feea9f"/>
<rect x="331.10" y="346.00" width="7.46" height="1.06" fill="#fda66a"/>
<rect x="338.50" y="346.00" width="7.46" height="1.06" fill="#fee496"/>
<rect x="345.90" y="346.00" width="7.46" height="1.06" fill="#feeda3"/>
<rect x="353.30" y="346.00" width="7.46" height="1.06" fill="#fff6b1"/>
<rect x="360.70" y="346.00" width="7.46" height="1.06" fill="#feefa7"/>
<rect x="368.10" y="346.00" width="7.46" height="1.06" fill="#b8d9e9"/>
<rect x="375.50" y="346.00" width="7.46" height="1.06" fill="#badaea"/>
<rect x="382.90" y="346.00" width="7.46" height="1.06" fill="#b4d6e8"/>
<rect x="301.50" y="347.00" width="7.46" height="1.56" fill="#fffcbb"/>
<rect x="308.90" y="347.00" width="7.46" height="1.56" fill="#fefec2"/>
<rect x="316.30" y="347.00" width="7.46" height="1.56" fill="#fff6b1"/>
<rect x="323.70" y="347.00" width="7.46" height="1.56" fill="#ebf7e4"/>
<rect x="331.10" y="347.00" width="7.46" height="1.56" fill="#e9f7e7"/>
<rect x="338.50" y="347.00" width="7.46" height="1.56" fill="#4b7bb7"/>
<rect x="345.90" y="347.00" width="7.46" height="1.56" fill="#e3f4f3"/>
<rect x="353.30" y="347.00" width="7.46" height="1.56" fill="#e0f3f7"/>
<rect x="360.70" y="347.00" width="7.46" height="1.56" fill="#e0f3f7"/>
<rect x="368.10" y="347.00" width="7.46" height="1.56" fill="#c0deec"/>
<rect x="375.50" y="347.00" width="7.46" height="1.56" fill="#bfddec"/>
<rect x="382.90" y="347.00" width="7.46" height="1.56" fill="#b6d7e8"/>
<rect x="301.50" y="348.50" width="7.46" height="1.56" fill="#fee597"/>
<rect x="308.90" y="348.50" width="7.46" height="1.56" fill="#fee89c"/>
<rect x="316.30" y="348.50" width="7.46" height="1.56" fill="#fff0a8"/>
<rect x="323.70" y="348.50" width="7.46" height="1.56" fill="#fffcbb"/>
<rect x="331.10" y="348.50" width="7.46" height="1.56" fill="#fffbba"/>
<rect x="338.50" y="348.50" width="7.46" height="1.56" fill="#87b6d6"/>
<rect x="345.90" y="348.50" width="7.46" height="1.56" fill="#f3fad4"/>
<rect x="353.30" y="348.50" width="7.46" height="1.56" fill="#f4fbd3"/>
<rect x="360.70" y="348.50" width="7.46" height="1.56" fill="#eef8de"/>
<rect x="368.10" y="348.50" width="7.46" height="1.56" fill="#eef9dd"/>
<rect x="375.50" y="348.50" width="7.46" height="1.56" fill="#f9fdca"/>
<rect x="382.90" y="348.50" width="7.46" height="1.56" fill="#f8fccc"/>
<rect x="301.50" y="350.00" width="7.46" height="1.56" fill="#fffdbc"/>
<rect x="308.90" y="350.00" width="7.46" height="1.56" fill="#fffab7"/>
<rect x="316.30" y="350.00" width="7.46" height="1.56" fill="#ffffbe"/>
<rect x="323.70" y="350.00" width="7.46" height="1.56" fill="#ebf7e4"/>
<rect x="331.10" y="350.00" width="7.46" height="1.56" fill="#e7f6eb"/>
<rect x="338.50" y="350.00" width="7.46" height="1.56" fill="#6796c5"/>
<rect x="345.90" y="350.00" width="7.46" height="1.56" fill="#e5f5ee"/>
<rect x="353.30" y="350.00" width="7.46" height="1.56" fill="#ebf7e3"/>
<rect x="360.70" y="350.00" width="7.46" height="1.56" fill="#e2f4f4"/>
<rect x="368.10" y="350.00" width="7.46" height="1.56" fill="#bddceb"/>
<rect x="375.50" y="350.00" width="7.46" height="1.56" fill="#d9eef5"/>
<rect x="382.90" y="350.00" width="7.46" height="1.56" fill="#cee7f1"/>
<rect x="301.50" y="351.50" width="7.46" height="1.56" fill="#feeca3"/>
<rect x="308.90" y="351.50" width="7.46" height="1.56" fill="#fee497"/>
<rect x="316.30" y="351.50" width="7.46" height="1.56" fill="#fee090"/>
<rect x="323.70" y="351.50" width="7.46" height="1.56" fill="#f4fbd4"/>
<rect x="331.10" y="351.50" width="7.46" height="1.56" fill="#fefec2"/>
<rect x="338.50" y="351.50" width="7.46" height="1.56" fill="#74a3cc"/>
<rect x="345.90" y="351.50" width="7.46" height="1.56" fill="#f7fccf"/>
<rect x="353.30" y="351.50" width="7.46" height="1.56" fill="#fbfdc6"/>
<rect x="360.70" y="351.50" width="7.46" height="1.56" fill="#edf8e0"/>
<rect x="368.10" y="351.50" width="7.46" height="1.56" fill="#d5ecf4"/>
<rect x="375.50" y="351.50" width="7.46" height="1.56" fill="#e9f6e8"/>
<rect x="382.90" y="351.50" width="7.46" height="1.56" fill="#e2f4f5"/>
<rect x="301.50" y="353.00" width="7.46" height="1.56" fill="#fed689"/>
<rect x="308.90" y="353.00" width="7.46" height="1.56" fill="#fee395"/>
<rect x="316.30" y="353.00" width="7.46" height="1.56" fill="#fee394"/>
<rect x="323.70" y="353.00" width="7.46" height="1.56" fill="#f1f9d9"/>
<rect x="331.10" y="353.00" width="7.46" height="1.56" fill="#ebf7e4"/>
<rect x="338.50" y="353.00" width="7.46" height="1.56" fill="#6291c3"/>
<rect x="345.90" y="353.00" width="7.46" height="1.56" fill="#f6fbd0"/>
<rect x="353.30" y="353.00" width="7.46" height="1.56" fill="#f7fccd"/>
<rect x="360.70" y="353.00" width="7.46" height="1.56" fill="#f7fccd"/>
<rect x="368.10" y="353.00" width="7.46" height="1.56" fill="#e9f6e8"/>
<rect x="375.50" y="353.00" width="7.46" height="1.56" fill="#ebf7e3"/>
<rect x="382.90" y="353.00" width="7.46" height="1.56" fill="#edf8e1"/>
<rect x="301.50" y="354.50" width="7.46" height="1.56" fill="#feeea4"/>
<rect x="308.90" y="354.50" width="7.46" height="1.56" fill="#fff7b2"/>
<rect x="316.30" y="354.50" width="7.46" height="1.56" fill="#feeea4"/>
<rect x="323.70" y="354.50" width="7.46" height="1.56" fill="#eef8df"/>
<rect x="331.10" y="354.50" width="7.46" height="1.56" fill="#f8fccd"/>
<rect x="338.50" y="354.50" width="7.46" height="1.56" fill="#6696c5"/>
<rect x="345.90" y="354.50" width="7.46" height="1.56" fill="#f6fccf"/>
<rect x="353.30" y="354.50" width="7.46" height="1.56" fill="#f5fbd2"/>
<rect x="360.70" y="354.50" width="7.46" height="1.56" fill="#f9fdc9"/>
<rect x="368.10" y="354.50" width="7.46" height="1.56" fill="#e2f4f4"/>
<rect x="375.50" y="354.50" width="7.46" height="1.56" fill="#e5f5ef"/>
<rect x="382.90" y="354.50" width="7.46" height="1.56" fill="#e8f6e9"/>
<rect x="301.50" y="356.00" width="7.46" height="1.56" fill="#fffab7"/>
<rect x="308.90" y="356.00" width="7.46" height="1.56" fill="#fffbba"/>
<rect x="316.30" y="356.00" width="7.46" height="1.56" fill="#fffcba"/>
<rect x="323.70" y="356.00" width="7.46" height="1.56" fill="#e7f6eb"/>
<rect x="331.10" y="356.00" width="7.46" height="1.56" fill="#ecf8e2"/>
<rect x="338.50" y="356.00" width="7.46" height="1.56" fill="#6796c5"/>
<rect x="345.90" y="356.00" width="7.46" height="1.56" fill="#ebf7e3"/>
<rect x="353.30" y="356.00" width="7.46" height="1.56" fill="#e9f7e7"/>
<rect x="360.70" y="356.00" width="7.46" height="1.56" fill="#eff9dc"/>
<rect x="368.10" y="356.00" width="7.46" height="1.56" fill="#e4f5f0"/>
<rect x="375.50" y="356.00" width="7.46" height="1.56" fill="#e8f6e9"/>
<rect x="382.90" y="356.00" width="7.46" height="1.56" fill="#e4f5f0"/>
<rect x="301.50" y="357.50" width="7.46" height="1.56" fill="#feeaa0"/>
<rect x="308.90" y="357.50" width="7.46" height="1.56" fill="#fee598"/>
<rect x="316.30" y="357.50" width="7.46" height="1.56" fill="#fff2ab"/>
<rect x="323.70" y="357.50" width="7.46" height="1.56" fill="#f4fbd3"/>
<rect x="331.10" y="357.50" width="7.46" height="1.56" fill="#edf8e0"/>
<rect x="338.50" y="357.50" width="7.46" height="1.56" fill="#6796c6"/>
<rect x="345.90" y="357.50" width="7.46" height="1.56" fill="#e8f6ea"/>
<rect x="353.30" y="357.50" width="7.46" height="1.56" fill="#e0f3f7"/>
<rect x="360.70" y="357.50" width="7.46" height="1.56" fill="#eaf7e5"/>
<rect x="368.10" y="357.50" width="7.46" height="1.56" fill="#bddceb"/>
<rect x="375.50" y="357.50" width="7.46" height="1.56" fill="#cbe5f0"/>
<rect x="382.90" y="357.50" width="7.46" height="1.56" fill="#d0e9f2"/>
<rect x="301.50" y="359.00" width="7.46" height="1.06" fill="#fee192"/>
<rect x="308.90" y="359.00" width="7.46" height="1.06" fill="#fed98b"/>
<rect x="316.30" y="359.00" width="7.46" height="1.06" fill="#fee99e"/>
<rect x="323.70" y="359.00" width="7.46" height="1.06" fill="#f3fbd4"/>
<rect x="331.10" y="359.00" width="7.46" height="1.06" fill="#e8f6ea"/>
<rect x="338.50" y="359.00" width="7.46" height="1.06" fill="#79a8cf"/>
<rect x="345.90" y="359.00" width="7.46" height="1.06" fill="#f7fccd"/>
<rect x="353.30" y="359.00" width="7.46" height="1.06" fill="#feffc1"/>
<rect x="360.70" y="359.00" width="7.46" height="1.06" fill="#f6fccf"/>
<rect x="368.10" y="359.00" width="7.46" height="1.06" fill="#ebf7e4"/>
<rect x="375.50" y="359.00" width="7.46" height="1.06" fill="#f6fbd0"/>
<rect x="382.90" y="359.00" width="7.46" height="1.06" fill="#edf8e0"/>
<rect x="301.50" y="360.00" width="7.46" height="1.56" fill="#fdc981"/>
<rect x="308.90" y="360.00" width="7.46" height="1.56" fill="#feda8c"/>
<rect x="316.30" y="360.00" width="7.46" height="1.56" fill="#fed78a"/>
<rect x="323.70" y="360.00" width="7.46" height="1.56" fill="#fafdc9"/>
<rect x="331.10" y="360.00" width="7.46" height="1.56" fill="#f3fad5"/>
<rect x="338.50" y="360.00" width="7.46" height="1.56" fill="#f7fccd"/>
<rect x="345.90" y="360.00" width="7.46" height="1.56" fill="#f4fbd4"/>
<rect x="353.30" y="360.00" width="7.46" height="1.56" fill="#f3fad5"/>
<rect x="360.70" y="360.00" width="7.46" height="1.56" fill="#fbfdc7"/>
<rect x="368.10" y="360.00" width="7.46" height="1.56" fill="#e2f4f4"/>
<rect x="375.50" y="360.00" width="7.46" height="1.56" fill="#dcf0f6"/>
<rect x="382.90" y="360.00" width="7.46" height="1.56" fill="#d2eaf3"/>
<rect x="301.50" y="361.50" width="7.46" height="1.56" fill="#fdbd79"/>
<rect x="308.90" y="361.50" width="7.46" height="1.56" fill="#fdb775"/>
<rect x="316.30" y="361.50" width="7.46" height="1.56" fill="#fdaa6c"/>
<rect x="323.70" y="361.50" width="7.46" height="1.56" fill="#feefa7"/>
<rect x="331.10" y="361.50" width="7.46" height="1.56" fill="#fffbb9"/>
<rect x="338.50" y="361.50" width="7.46" height="1.56" fill="#fff5b0"/>
<rect x="345.90" y="361.50" width="7.46" height="1.56" fill="#f6fccf"/>
<rect x="353.30" y="361.50" width="7.46" height="1.56" fill="#f6fcd0"/>
<rect x="360.70" y="361.50" width="7.46" height="1.56" fill="#f9fdc9"/>
<rect x="368.10" y="361.50" width="7.46" height="1.56" fill="#edf8e0"/>
<rect x="375.50" y="361.50" width="7.46" height="1.56" fill="#edf8e0"/>
<rect x="382.90" y="361.50" width="7.46" height="1.56" fill="#eef8df"/>
<rect x="301.50" y="363.00" width="7.46" height="1.56" fill="#fdbc78"/>
<rect x="308.90" y="363.00" width="7.46" height="1.56" fill="#fdb976"/>
<rect x="316.30" y="363.00" width="7.46" height="1.56" fill="#fdbf7a"/>
<rect x="323.70" y="363.00" width="7.46" height="1.56" fill="#fffcbb"/>
<rect x="331.10" y="363.00" width="7.46" height="1.56" fill="#fffebe"/>
<rect x="338.50" y="363.00" width="7.46" height="1.56" fill="#fffab7"/>
<rect x="345.90" y="363.00" width="7.46" height="1.56" fill="#f6fbd0"/>
<rect x="353.30" y="363.00" width="7.46" height="1.56" fill="#fdfec2"/>
<rect x="360.70" y="363.00" width="7.46" height="1.56" fill="#f7fccd"/>
<rect x="368.10" y="363.00" width="7.46" height="1.56" fill="#d5ecf4"/>
<rect x="375.50" y="363.00" width="7.46" height="1.56" fill="#e1f3f7"/>
<rect x="382.90" y="363.00" width="7.46" height="1.56" fill="#def2f7"/>
<rect x="301.50" y="364.50" width="7.46" height="1.56" fill="#fedc8e"/>
<rect x="308.90" y="364.50" width="7.46" height="1.56" fill="#feda8c"/>
<rect x="316.30" y="364.50" width="7.46" height="1.56" fill="#fdc27c"/>
<rect x="323.70" y="364.50" width="7.46" height="1.56" fill="#fff7b3"/>
<rect x="331.10" y="364.50" width="7.46" height="1.56" fill="#fff5b0"/>
<rect x="338.50" y="364.50" width="7.46" height="1.56" fill="#fff8b4"/>
<rect x="345.90" y="364.50" width="7.46" height="1.56" fill="#f6fbd0"/>
<rect x="353.30" y="364.50" width="7.46" height="1.56" fill="#f7fccf"/>
<rect x="360.70" y="364.50" width="7.46" height="1.56" fill="#f0f9da"/>
<rect x="368.10" y="364.50" width="7.46" height="1.56" fill="#d1e9f2"/>
<rect x="375.50" y="364.50" width="7.46" height="1.56" fill="#dcf1f7"/>
<rect x="382.90" y="364.50" width="7.46" height="1.56" fill="#e0f3f8"/>
<rect x="301.50" y="366.00" width="7.46" height="1.56" fill="#fdc67f"/>
<rect x="308.90" y="366.00" width="7.46" height="1.56" fill="#fdb976"/>
<rect x="316.30" y="366.00" width="7.46" height="1.56" fill="#fdc37d"/>
<rect x="323.70" y="366.00" width="7.46" height="1.56" fill="#fffbb8"/>
<rect x="331.10" y="366.00" width="7.46" height="1.56" fill="#fffebd"/>
<rect x="338.50" y="366.00" width="7.46" height="1.56" fill="#ffffbf"/>
<rect x="345.90" y="366.00" width="7.46" height="1.56" fill="#fbfdc6"/>
<rect x="353.30" y="366.00" width="7.46" height="1.56" fill="#f8fccb"/>
<rect x="360.70" y="366.00" width="7.46" height="1.56" fill="#f4fbd4"/>
<rect x="368.10" y="366.00" width="7.46" height="1.56" fill="#e5f5ef"/>
<rect x="375.50" y="366.00" width="7.46" height="1.56" fill="#eef8de"/>
<rect x="382.90" y="366.00" width="7.46" height="1.56" fill="#e6f5ec"/>
<rect x="301.50" y="367.50" width="7.46" height="1.56" fill="#fdc07b"/>
<rect x="308.90" y="367.50" width="7.46" height="1.56" fill="#fdbb77"/>
<rect x="316.30" y="367.50" width="7.46" height="1.56" fill="#fdc47d"/>
<rect x="323.70" y="367.50" width="7.46" height="1.56" fill="#fff5b0"/>
<rect x="331.10" y="367.50" width="7.46" height="1.56" fill="#fff7b3"/>
<rect x="338.50" y="367.50" width="7.46" height="1.56" fill="#fff2ab"/>
<rect x="345.90" y="367.50" width="7.46" height="1.56" fill="#edf8e0"/>
<rect x="353.30" y="367.50" width="7.46" height="1.56" fill="#f5fbd2"/>
<rect x="360.70" y="367.50" width="7.46" height="1.56" fill="#eef8de"/>
<rect x="368.10" y="367.50" width="7.46" height="1.56" fill="#e4f5f0"/>
<rect x="375.50" y="367.50" width="7.46" height="1.56" fill="#eef8de"/>
<rect x="382.90" y="367.50" width="7.46" height="1.56" fill="#e6f5ec"/>
<rect x="301.50" y="369.00" width="7.46" height="1.56" fill="#fee293"/>
<rect x="308.90" y="369.00" width="7.46" height="1.56" fill="#fede8e"/>
<rect x="316.30" y="369.00" width="7.46" height="1.56" fill="#fee99e"/>
<rect x="323.70" y="369.00" width="7.46" height="1.56" fill="#fffcbb"/>
<rect x="331.10" y="369.00" width="7.46" height="1.56" fill="#fff9b5"/>
<rect x="338.50" y="369.00" width="7.46" height="1.56" fill="#fffdbc"/>
<rect x="345.90" y="369.00" width="7.46" height="1.56" fill="#f7fcce"/>
<rect x="353.30" y="369.00" width="7.46" height="1.56" fill="#f2fad6"/>
<rect x="360.70" y="369.00" width="7.46" height="1.56" fill="#f2fad7"/>
<rect x="368.10" y="369.00" width="7.46" height="1.56" fill="#b1d4e7"/>
<rect x="375.50" y="369.00" width="7.46" height="1.56" fill="#cee7f1"/>
<rect x="382.90" y="369.00" width="7.46" height="1.56" fill="#b4d6e8"/>
<rect x="301.50" y="370.50" width="7.46" height="1.56" fill="#fdba77"/>
<rect x="308.90" y="370.50" width="7.46" height="1.56" fill="#fdae6f"/>
<rect x="316.30" y="370.50" width="7.46" height="1.56" fill="#fc9b62"/>
<rect x="323.70" y="370.50" width="7.46" height="1.56" fill="#ffffc0"/>
<rect x="331.10" y="370.50" width="7.46" height="1.56" fill="#fff9b6"/>
<rect x="338.50" y="370.50" width="7.46" height="1.56" fill="#f5fbd1"/>
<rect x="345.90" y="370.50" width="7.46" height="1.56" fill="#eff9dd"/>
<rect x="353.30" y="370.50" width="7.46" height="1.56" fill="#f2fad7"/>
<rect x="360.70" y="370.50" width="7.46" height="1.56" fill="#f3fad5"/>
<rect x="368.10" y="370.50" width="7.46" height="1.56" fill="#e5f5ef"/>
<rect x="375.50" y="370.50" width="7.46" height="1.56" fill="#e7f6eb"/>
<rect x="382.90" y="370.50" width="7.46" height="1.56" fill="#e6f5ed"/>
<rect x="301.50" y="372.00" width="7.46" height="1.56" fill="#fdbb77"/>
<rect x="308.90" y="372.00" width="7.46" height="1.56" fill="#fed488"/>
<rect x="316.30" y="372.00" width="7.46" height="1.56" fill="#fdbb78"/>
<rect x="323.70" y="372.00" width="7.46" height="1.56" fill="#fdfec2"/>
<rect x="331.10" y="372.00" width="7.46" height="1.56" fill="#fff6b2"/>
<rect x="338.50" y="372.00" width="7.46" height="1.56" fill="#fffbb9"/>
<rect x="345.90" y="372.00" width="7.46" height="1.56" fill="#eef8de"/>
<rect x="353.30" y="372.00" width="7.46" height="1.56" fill="#f7fcce"/>
<rect x="360.70" y="372.00" width="7.46" height="1.56" fill="#f5fbd2"/>
<rect x="368.10" y="372.00" width="7.46" height="1.56" fill="#e3f4f2"/>
<rect x="375.50" y="372.00" width="7.46" height="1.56" fill="#f3fad4"/>
<rect x="382.90" y="372.00" width="7.46" height="1.56" fill="#def2f7"/>
<rect x="301.50" y="373.50" width="7.46" height="1.56" fill="#fdc47d"/>
<rect x="308.90" y="373.50" width="7.46" height="1.56" fill="#fdbd79"/>
<rect x="316.30" y="373.50" width="7.46" height="1.56" fill="#fed589"/>
<rect x="323.70" y="373.50" width="7.46" height="1.56" fill="#fff6b1"/>
<rect x="331.10" y="373.50" width="7.46" height="1.56" fill="#feeca3"/>
<rect x="338.50" y="373.50" width="7.46" height="1.56" fill="#fff5b0"/>
<rect x="345.90" y="373.50" width="7.46" height="1.56" fill="#fffcbb"/>
<rect x="353.30" y="373.50" width="7.46" height="1.56" fill="#fffdbc"/>
<rect x="360.70" y="373.50" width="7.46" height="1.56" fill="#fff9b5"/>
<rect x="368.10" y="373.50" width="7.46" height="1.56" fill="#eef8de"/>
<rect x="375.50" y="373.50" width="7.46" height="1.56" fill="#e8f6ea"/>
<rect x="382.90" y="373.50" width="7.46" height="1.56" fill="#dbf0f6"/>
<rect x="301.50" y="375.00" width="7.46" height="1.56" fill="#fdbb78"/>
<rect x="308.90" y="375.00" width="7.46" height="1.56" fill="#fdcb82"/>
<rect x="316.30" y="375.00" width="7.46" height="1.56" fill="#fed78a"/>
<rect x="323.70" y="375.00" width="7.46" height="1.56" fill="#fff8b4"/>
<rect x="331.10" y="375.00" width="7.46" height="1.56" fill="#fff6b1"/>
<rect x="338.50" y="375.00" width="7.46" height="1.56" fill="#fff4af"/>
<rect x="345.90" y="375.00" width="7.46" height="1.56" fill="#fffcba"/>
<rect x="353.30" y="375.00" width="7.46" height="1.56" fill="#f9fdca"/>
<rect x="360.70" y="375.00" width="7.46" height="1.56" fill="#fdfec2"/>
<rect x="368.10" y="375.00" width="7.46" height="1.56" fill="#ebf7e5"/>
<rect x="375.50" y="375.00" width="7.46" height="1.56" fill="#f0f9db"/>
<rect x="382.90" y="375.00" width="7.46" height="1.56" fill="#e8f6ea"/>
<rect x="301.50" y="376.50" width="7.46" height="1.56" fill="#fdae6f"/>
<rect x="308.90" y="376.50" width="7.46" height="1.56" fill="#fda669"/>
<rect x="316.30" y="376.50" width="7.46" height="1.56" fill="#fdc880"/>
<rect x="323.70" y="376.50" width="7.46" height="1.56" fill="#fff0a9"/>
<rect x="331.10" y="376.50" width="7.46" height="1.56" fill="#fff3ad"/>
<rect x="338.50" y="376.50" width="7.46" height="1.56" fill="#feea9f"/>
<rect x="345.90" y="376.50" width="7.46" height="1.56" fill="#f5fbd1"/>
<rect x="353.30" y="376.50" width="7.46" height="1.56" fill="#f5fbd1"/>
<rect x="360.70" y="376.50" width="7.46" height="1.56" fill="#f3fad6"/>
<rect x="368.10" y="376.50" width="7.46" height="1.56" fill="#ecf8e1"/>
<rect x="375.50" y="376.50" width="7.46" height="1.56" fill="#ecf8e1"/>
<rect x="382.90" y="376.50" width="7.46" height="1.56" fill="#eaf7e6"/>
<rect x="301.50" y="378.00" width="7.46" height="1.56" fill="#fda267"/>
<rect x="308.90" y="378.00" width="7.46" height="1.56" fill="#fdb775"/>
<rect x="316.30" y="378.00" width="7.46" height="1.56" fill="#fdb775"/>
<rect x="323.70" y="378.00" width="7.46" height="1.56" fill="#ffffbf"/>
<rect x="331.10" y="378.00" width="7.46" height="1.56" fill="#fff4ae"/>
<rect x="338.50" y="378.00" width="7.46" height="1.56" fill="#fff5b1"/>
<rect x="345.90" y="378.00" width="7.46" height="1.56" fill="#f7fcce"/>
<rect x="353.30" y="378.00" width="7.46" height="1.56" fill="#f6fccf"/>
<rect x="360.70" y="378.00" width="7.46" height="1.56" fill="#fdfec2"/>
<rect x="368.10" y="378.00" width="7.46" height="1.56" fill="#f1fad9"/>
<rect x="375.50" y="378.00" width="7.46" height="1.56" fill="#f5fbd1"/>
<rect x="382.90" y="378.00" width="7.46" height="1.56" fill="#f6fbd0"/>
<rect x="301.50" y="379.50" width="7.46" height="0.56" fill="#fdb473"/>
<rect x="308.90" y="379.50" width="7.46" height="0.56" fill="#fdb272"/>
<rect x="316.30" y="379.50" width="7.46" height="0.56" fill="#fda66a"/>
<rect x="323.70" y="379.50" width="7.46" height="0.56" fill="#fff1aa"/>
<rect x="331.10" y="379.50" width="7.46" height="0.56" fill="#feeea5"/>
<rect x="338.50" y="379.50" width="7.46" height="0.56" fill="#feeda3"/>
<rect x="345.90" y="379.50" width="7.46" height="0.56" fill="#feffc1"/>
<rect x="353.30" y="379.50" width="7.46" height="0.56" fill="#fbfdc7"/>
<rect x="360.70" y="379.50" width="7.46" height="0.56" fill="#fdfec3"/>
<rect x="368.10" y="379.50" width="7.46" height="0.56" fill="#eaf7e6"/>
<rect x="375.50" y="379.50" width="7.46" height="0.56" fill="#def2f7"/>
<rect x="382.90" y="379.50" width="7.46" height="0.56" fill="#eaf7e6"/>
<rect x="301.50" y="380.00" width="7.46" height="1.56" fill="#feeea6"/>
<rect x="308.90" y="380.00" width="7.46" height="1.56" fill="#fff4ae"/>
<rect x="316.30" y="380.00" width="7.46" height="1.56" fill="#fff4ae"/>
<rect x="323.70" y="380.00" width="7.46" height="1.56" fill="#fee99e"/>
<rect x="331.10" y="380.00" width="7.46" height="1.56" fill="#fa8856"/>
<rect x="338.50" y="380.00" width="7.46" height="1.56" fill="#feeda4"/>
<rect x="345.90" y="380.00" width="7.46" height="1.56" fill="#f6fccf"/>
<rect x="353.30" y="380.00" width="7.46" height="1.56" fill="#f3fad6"/>
<rect x="360.70" y="380.00" width="7.46" height="1.56" fill="#f4fbd3"/>
<rect x="368.10" y="380.00" width="7.46" height="1.56" fill="#c2dfed"/>
<rect x="375.50" y="380.00" width="7.46" height="1.56" fill="#c6e2ef"/>
<rect x="382.90" y="380.00" width="7.46" height="1.56" fill="#a8cee4"/>
<rect x="301.50" y="381.50" width="7.46" height="1.56" fill="#feefa6"/>
<rect x="308.90" y="381.50" width="7.46" height="1.56" fill="#fff7b2"/>
<rect x="316.30" y="381.50" width="7.46" height="1.56" fill="#fff5af"/>
<rect x="323.70" y="381.50" width="7.46" height="1.56" fill="#feeba0"/>
<rect x="331.10" y="381.50" width="7.46" height="1.56" fill="#f4784e"/>
<rect x="338.50" y="381.50" width="7.46" height="1.56" fill="#feefa7"/>
<rect x="345.90" y="381.50" width="7.46" height="1.56" fill="#e7f6eb"/>
<rect x="353.30" y="381.50" width="7.46" height="1.56" fill="#e7f6ec"/>
<rect x="360.70" y="381.50" width="7.46" height="1.56" fill="#ebf7e4"/>
<rect x="368.10" y="381.50" width="7.46" height="1.56" fill="#c0deec"/>
<rect x="375.50" y="381.50" width="7.46" height="1.56" fill="#bcdbeb"/>
<rect x="382.90" y="381.50" width="7.46" height="1.56" fill="#d2eaf3"/>
<rect x="301.50" y="383.00" width="7.46" height="1.56" fill="#feeca2"/>
<rect x="308.90" y="383.00" width="7.46" height="1.56" fill="#feeea6"/>
<rect x="316.30" y="383.00" width="7.46" height="1.56" fill="#fff0a8"/>
<rect x="323.70" y="383.00" width="7.46" height="1.56" fill="#feefa7"/>
<rect x="331.10" y="383.00" width="7.46" height="1.56" fill="#fc9961"/>
<rect x="338.50" y="383.00" width="7.46" height="1.56" fill="#fee79b"/>
<rect x="345.90" y="383.00" width="7.46" height="1.56" fill="#f3fad5"/>
<rect x="353.30" y="383.00" width="7.46" height="1.56" fill="#f4fbd3"/>
<rect x="360.70" y="383.00" width="7.46" height="1.56" fill="#fffab8"/>
<rect x="368.10" y="383.00" width="7.46" height="1.56" fill="#c4e1ee"/>
<rect x="375.50" y="383.00" width="7.46" height="1.56" fill="#b1d4e7"/>
<rect x="382.90" y="383.00" width="7.46" height="1.56" fill="#b8d8e9"/>
<rect x="301.50" y="384.50" width="7.46" height="1.56" fill="#fff9b6"/>
<rect x="308.90" y="384.50" width="7.46" height="1.56" fill="#feefa6"/>
<rect x="316.30" y="384.50" width="7.46" height="1.56" fill="#fff1a9"/>
<rect x="323.70" y="384.50" width="7.46" height="1.56" fill="#fff2ab"/>
<rect x="331.10" y="384.50" width="7.46" height="1.56" fill="#fda66a"/>
<rect x="338.50" y="384.50" width="7.46" height="1.56" fill="#fff4ae"/>
<rect x="345.90" y="384.50" width="7.46" height="1.56" fill="#e5f5ee"/>
<rect x="353.30" y="384.50" width="7.46" height="1.56" fill="#e5f5ee"/>
<rect x="360.70" y="384.50" width="7.46" height="1.56" fill="#eef9dd"/>
<rect x="368.10" y="384.50" width="7.46" height="1.56" fill="#b9daea"/>
<rect x="375.50" y="384.50" width="7.46" height="1.56" fill="#b2d5e7"/>
<rect x="382.90" y="384.50" width="7.46" height="1.56" fill="#b0d4e6"/>
<rect x="301.50" y="386.00" width="7.46" height="1.06" fill="#fff3ac"/>
<rect x="308.90" y="386.00" width="7.46" height="1.06" fill="#feefa7"/>
<rect x="316.30" y="386.00" width="7.46" height="1.06" fill="#feea9f"/>
<rect x="323.70" y="386.00" width="7.46" height="1.06" fill="#fee99d"/>
<rect x="331.10" y="386.00" width="7.46" height="1.06" fill="#fc945e"/>
<rect x="338.50" y="386.00" width="7.46" height="1.06" fill="#fee99e"/>
<rect x="345.90" y="386.00" width="7.46" height="1.06" fill="#f9fdcb"/>
<rect x="353.30" y="386.00" width="7.46" height="1.06" fill="#f2fad8"/>
<rect x="360.70" y="386.00" width="7.46" height="1.06" fill="#f7fccd"/>
<rect x="368.10" y="386.00" width="7.46" height="1.06" fill="#b1d4e7"/>
<rect x="375.50" y="386.00" width="7.46" height="1.06" fill="#a3cbe2"/>
<rect x="382.90" y="386.00" width="7.46" height="1.06" fill="#c6e2ee"/>
<rect x="301.50" y="387.00" width="7.46" height="1.56" fill="#fffbb8"/>
<rect x="308.90" y="387.00" width="7.46" height="1.56" fill="#fff7b2"/>
<rect x="316.30" y="387.00" width="7.46" height="1.56" fill="#fff4ae"/>
<rect x="323.70" y="387.00" width="7.46" height="1.56" fill="#fee597"/>
<rect x="331.10" y="387.00" width="7.46" height="1.56" fill="#fedd8e"/>
<rect x="338.50" y="387.00" width="7.46" height="1.56" fill="#fed085"/>
<rect x="345.90" y="387.00" width="7.46" height="1.56" fill="#feffc1"/>
<rect x="353.30" y="387.00" width="7.46" height="1.56" fill="#f1fad9"/>
<rect x="360.70" y="387.00" width="7.46" height="1.56" fill="#eff9dd"/>
<rect x="368.10" y="387.00" width="7.46" height="1.56" fill="#add1e5"/>
<rect x="375.50" y="387.00" width="7.46" height="1.56" fill="#b3d6e8"/>
<rect x="382.90" y="387.00" width="7.46" height="1.56" fill="#b7d8e9"/>
<rect x="301.50" y="388.50" width="7.46" height="1.56" fill="#fffdbc"/>
<rect x="308.90" y="388.50" width="7.46" height="1.56" fill="#fff5af"/>
<rect x="316.30" y="388.50" width="7.46" height="1.56" fill="#fff9b6"/>
<rect x="323.70" y="388.50" width="7.46" height="1.56" fill="#fff2ab"/>
<rect x="331.10" y="388.50" width="7.46" height="1.56" fill="#fff3ac"/>
<rect x="338.50" y="388.50" width="7.46" height="1.56" fill="#fff8b5"/>
<rect x="345.90" y="388.50" width="7.46" height="1.56" fill="#f7fccd"/>
<rect x="353.30" y="388.50" width="7.46" height="1.56" fill="#f9fdca"/>
<rect x="360.70" y="388.50" width="7.46" height="1.56" fill="#f6fccf"/>
<rect x="368.10" y="388.50" width="7.46" height="1.56" fill="#aad0e4"/>
<rect x="375.50" y="388.50" width="7.46" height="1.56" fill="#a5cce2"/>
<rect x="382.90" y="388.50" width="7.46" height="1.56" fill="#90beda"/>
<rect x="301.50" y="390.00" width="7.46" height="1.56" fill="#fff3ad"/>
<rect x="308.90" y="390.00" width="7.46" height="1.56" fill="#fff7b3"/>
<rect x="316.30" y="390.00" width="7.46" height="1.56" fill="#fff9b6"/>
<rect x="323.70" y="390.00" width="7.46" height="1.56" fill="#feeba0"/>
<rect x="331.10" y="390.00" width="7.46" height="1.56" fill="#fee699"/>
<rect x="338.50" y="390.00" width="7.46" height="1.56" fill="#fee79b"/>
<rect x="345.90" y="390.00" width="7.46" height="1.56" fill="#eaf7e6"/>
<rect x="353.30" y="390.00" width="7.46" height="1.56" fill="#f3fbd4"/>
<rect x="360.70" y="390.00" width="7.46" height="1.56" fill="#f1fad9"/>
<rect x="368.10" y="390.00" width="7.46" height="1.56" fill="#9ec8e0"/>
<rect x="375.50" y="390.00" width="7.46" height="1.56" fill="#88b6d6"/>
<rect x="382.90" y="390.00" width="7.46" height="1.56" fill="#a0c9e1"/>
<rect x="301.50" y="391.50" width="7.46" height="1.56" fill="#feeda3"/>
<rect x="308.90" y="391.50" width="7.46" height="1.56" fill="#feefa7"/>
<rect x="316.30" y="391.50" width="7.46" height="1.56" fill="#feefa7"/>
<rect x="323.70" y="391.50" width="7.46" height="1.56" fill="#fee699"/>
<rect x="331.10" y="391.50" width="7.46" height="1.56" fill="#fed98c"/>
<rect x="338.50" y="391.50" width="7.46" height="1.56" fill="#fee191"/>
<rect x="345.90" y="391.50" width="7.46" height="1.56" fill="#eaf7e6"/>
<rect x="353.30" y="391.50" width="7.46" height="1.56" fill="#eef8df"/>
<rect x="360.70" y="391.50" width="7.46" height="1.56" fill="#eaf7e6"/>
<rect x="368.10" y="391.50" width="7.46" height="1.56" fill="#c8e3ef"/>
<rect x="375.50" y="391.50" width="7.46" height="1.56" fill="#cce6f1"/>
<rect x="382.90" y="391.50" width="7.46" height="1.56" fill="#c0deec"/>
<rect x="301.50" y="393.00" width="7.46" height="1.56" fill="#fff2ab"/>
<rect x="308.90" y="393.00" width="7.46" height="1.56" fill="#feeba0"/>
<rect x="316.30" y="393.00" width="7.46" height="1.56" fill="#fff2ab"/>
<rect x="323.70" y="393.00" width="7.46" height="1.56" fill="#fee293"/>
<rect x="331.10" y="393.00" width="7.46" height="1.56" fill="#fdc981"/>
<rect x="338.50" y="393.00" width="7.46" height="1.56" fill="#fecf85"/>
<rect x="345.90" y="393.00" width="7.46" height="1.56" fill="#f8fccd"/>
<rect x="353.30" y="393.00" width="7.46" height="1.56" fill="#eef8df"/>
<rect x="360.70" y="393.00" width="7.46" height="1.56" fill="#f4fbd3"/>
<rect x="368.10" y="393.00" width="7.46" height="1.56" fill="#d5ecf4"/>
<rect x="375.50" y="393.00" width="7.46" height="1.56" fill="#cae5f0"/>
<rect x="382.90" y="393.00" width="7.46" height="1.56" fill="#def2f7"/>
<rect x="301.50" y="394.50" width="7.46" height="1.56" fill="#fff5b0"/>
<rect x="308.90" y="394.50" width="7.46" height="1.56" fill="#feea9f"/>
<rect x="316.30" y="394.50" width="7.46" height="1.56" fill="#fff6b1"/>
<rect x="323.70" y="394.50" width="7.46" height="1.56" fill="#fed88b"/>
<rect x="331.10" y="394.50" width="7.46" height="1.56" fill="#fed88a"/>
<rect x="338.50" y="394.50" width="7.46" height="1.56" fill="#fecd83"/>
<rect x="345.90" y="394.50" width="7.46" height="1.56" fill="#f6fccf"/>
<rect x="353.30" y="394.50" width="7.46" height="1.56" fill="#eaf7e6"/>
<rect x="360.70" y="394.50" width="7.46" height="1.56" fill="#eff9dc"/>
<rect x="368.10" y="394.50" width="7.46" height="1.56" fill="#c3e0ed"/>
<rect x="375.50" y="394.50" width="7.46" height="1.56" fill="#def1f7"/>
<rect x="382.90" y="394.50" width="7.46" height="1.56" fill="#ddf1f7"/>
<rect x="301.50" y="396.00" width="7.46" height="1.56" fill="#fff6b2"/>
<rect x="308.90" y="396.00" width="7.46" height="1.56" fill="#fff4ae"/>
<rect x="316.30" y="396.00" width="7.46" height="1.56" fill="#fff4af"/>
<rect x="323.70" y="396.00" width="7.46" height="1.56" fill="#fedd8e"/>
<rect x="331.10" y="396.00" width="7.46" height="1.56" fill="#fdc67f"/>
<rect x="338.50" y="396.00" width="7.46" height="1.56" fill="#fdba77"/>
<rect x="345.90" y="396.00" width="7.46" height="1.56" fill="#e7f6eb"/>
<rect x="353.30" y="396.00" width="7.46" height="1.56" fill="#f0f9da"/>
<rect x="360.70" y="396.00" width="7.46" height="1.56" fill="#ecf7e3"/>
<rect x="368.10" y="396.00" width="7.46" height="1.56" fill="#f3fad6"/>
<rect x="375.50" y="396.00" width="7.46" height="1.56" fill="#edf8e0"/>
<rect x="382.90" y="396.00" width="7.46" height="1.56" fill="#eef8df"/>
<rect x="301.50" y="397.50" width="7.46" height="1.56" fill="#feffc0"/>
<rect x="308.90" y="397.50" width="7.46" height="1.56" fill="#fafdc9"/>
<rect x="316.30" y="397.50" width="7.46" height="1.56" fill="#fbfdc7"/>
<rect x="323.70" y="397.50" width="7.46" height="1.56" fill="#fede8f"/>
<rect x="331.10" y="397.50" width="7.46" height="1.56" fill="#fee496"/>
<rect x="338.50" y="397.50" width="7.46" height="1.56" fill="#fee293"/>
<rect x="345.90" y="397.50" width="7.46" height="1.56" fill="#eaf7e6"/>
<rect x="353.30" y="397.50" width="7.46" height="1.56" fill="#e7f6ec"/>
<rect x="360.70" y="397.50" width="7.46" height="1.56" fill="#eaf7e6"/>
<rect x="368.10" y="397.50" width="7.46" height="1.56" fill="#beddec"/>
<rect x="375.50" y="397.50" width="7.46" height="1.56" fill="#cae5f0"/>
<rect x="382.90" y="397.50" width="7.46" height="1.56" fill="#d5ebf4"/>
<rect x="301.50" y="399.00" width="7.46" height="1.56" fill="#feefa7"/>
<rect x="308.90" y="399.00" width="7.46" height="1.56" fill="#fff9b6"/>
<rect x="316.30" y="399.00" width="7.46" height="1.56" fill="#fffab7"/>
<rect x="323.70" y="399.00" width="7.46" height="1.56" fill="#fed78a"/>
<rect x="331.10" y="399.00" width="7.46" height="1.56" fill="#fecc83"/>
<rect x="338.50" y="399.00" width="7.46" height="1.56" fill="#fdbd79"/>
<rect x="345.90" y="399.00" width="7.46" height="1.56" fill="#e6f5ec"/>
<rect x="353.30" y="399.00" width="7.46" height="1.56" fill="#e5f5ee"/>
<rect x="360.70" y="399.00" width="7.46" height="1.56" fill="#d8eef5"/>
<rect x="368.10" y="399.00" width="7.46" height="1.56" fill="#c8e3ef"/>
<rect x="375.50" y="399.00" width="7.46" height="1.56" fill="#dbeff6"/>
<rect x="382.90" y="399.00" width="7.46" height="1.56" fill="#e0f3f8"/>
<rect x="301.50" y="400.50" width="7.46" height="1.56" fill="#feeba0"/>
<rect x="308.90" y="400.50" width="7.46" height="1.56" fill="#feeba1"/>
<rect x="316.30" y="400.50" width="7.46" height="1.56" fill="#fee79b"/>
<rect x="323.70" y="400.50" width="7.46" height="1.56" fill="#fdbc78"/>
<rect x="331.10" y="400.50" width="7.46" height="1.56" fill="#fdbb78"/>
<rect x="338.50" y="400.50" width="7.46" height="1.56" fill="#fdb976"/>
<rect x="345.90" y="400.50" width="7.46" height="1.56" fill="#edf8df"/>
<rect x="353.30" y="400.50" width="7.46" height="1.56" fill="#fffdbd"/>
<rect x="360.70" y="400.50" width="7.46" height="1.56" fill="#f5fbd1"/>
<rect x="368.10" y="400.50" width="7.46" height="1.56" fill="#e7f6eb"/>
<rect x="375.50" y="400.50" width="7.46" height="1.56" fill="#e5f5ee"/>
<rect x="382.90" y="400.50" width="7.46" height="1.56" fill="#ddf1f7"/>
<rect x="301.50" y="402.00" width="7.46" height="1.56" fill="#fee79b"/>
<rect x="308.90" y="402.00" width="7.46" height="1.56" fill="#feeda4"/>
<rect x="316.30" y="402.00" width="7.46" height="1.56" fill="#fff3ac"/>
<rect x="323.70" y="402.00" width="7.46" height="1.56" fill="#feeba0"/>
<rect x="331.10" y="402.00" width="7.46" height="1.56" fill="#fedc8d"/>
<rect x="338.50" y="402.00" width="7.46" height="1.56" fill="#fee191"/>
<rect x="345.90" y="402.00" width="7.46" height="1.56" fill="#f0f9da"/>
<rect x="353.30" y="402.00" width="7.46" height="1.56" fill="#eff9dc"/>
<rect x="360.70" y="402.00" width="7.46" height="1.56" fill="#edf8df"/>
<rect x="368.10" y="402.00" width="7.46" height="1.56" fill="#e7f6eb"/>
<rect x="375.50" y="402.00" width="7.46" height="1.56" fill="#e5f5ee"/>
<rect x="382.90" y="402.00" width="7.46" height="1.56" fill="#eaf7e6"/>
<rect x="301.50" y="403.50" width="7.46" height="1.56" fill="#fff5af"/>
<rect x="308.90" y="403.50" width="7.46" height="1.56" fill="#ffffbf"/>
<rect x="316.30" y="403.50" width="7.46" height="1.56" fill="#fffab7"/>
<rect x="323.70" y="403.50" width="7.46" height="1.56" fill="#fee293"/>
<rect x="331.10" y="403.50" width="7.46" height="1.56" fill="#fecd83"/>
<rect x="338.50" y="403.50" width="7.46" height="1.56" fill="#fed68a"/>
<rect x="345.90" y="403.50" width="7.46" height="1.56" fill="#f1f9d9"/>
<rect x="353.30" y="403.50" width="7.46" height="1.56" fill="#f6fccf"/>
<rect x="360.70" y="403.50" width="7.46" height="1.56" fill="#eff9dd"/>
<rect x="368.10" y="403.50" width="7.46" height="1.56" fill="#c2dfed"/>
<rect x="375.50" y="403.50" width="7.46" height="1.56" fill="#d7edf5"/>
<rect x="382.90" y="403.50" width="7.46" height="1.56" fill="#cfe8f2"/>
<rect x="301.50" y="405.00" width="7.46" height="1.56" fill="#fff7b4"/>
<rect x="308.90" y="405.00" width="7.46" height="1.56" fill="#fff3ad"/>
<rect x="316.30" y="405.00" width="7.46" height="1.56" fill="#fff3ae"/>
<rect x="323.70" y="405.00" width="7.46" height="1.56" fill="#feda8c"/>
<rect x="331.10" y="405.00" width="7.46" height="1.56" fill="#fdbf7a"/>
<rect x="338.50" y="405.00" width="7.46" height="1.56" fill="#fecf85"/>
<rect x="345.90" y="405.00" width="7.46" height="1.56" fill="#f4fbd4"/>
<rect x="353.30" y="405.00" width="7.46" height="1.56" fill="#eaf7e5"/>
<rect x="360.70" y="405.00" width="7.46" height="1.56" fill="#eef8de"/>
<rect x="368.10" y="405.00" width="7.46" height="1.56" fill="#d9eef5"/>
<rect x="375.50" y="405.00" width="7.46" height="1.56" fill="#cfe8f2"/>
<rect x="382.90" y="405.00" width="7.46" height="1.56" fill="#ecf8e1"/>
<rect x="301.50" y="406.50" width="7.46" height="0.56" fill="#fff1a9"/>
<rect x="308.90" y="406.50" width="7.46" height="0.56" fill="#feeea5"/>
<rect x="316.30" y="406.50" width="7.46" height="0.56" fill="#fff4ae"/>
<rect x="323.70" y="406.50" width="7.46" height="0.56" fill="#fdc67f"/>
<rect x="331.10" y="406.50" width="7.46" height="0.56" fill="#fdb775"/>
<rect x="338.50" y="406.50" width="7.46" height="0.56" fill="#fdc47e"/>
<rect x="345.90" y="406.50" width="7.46" height="0.56" fill="#ecf8e2"/>
<rect x="353.30" y="406.50" width="7.46" height="0.56" fill="#f1f9da"/>
<rect x="360.70" y="406.50" width="7.46" height="0.56" fill="#eef9dd"/>
<rect x="368.10" y="406.50" width="7.46" height="0.56" fill="#e2f4f4"/>
<rect x="375.50" y="406.50" width="7.46" height="0.56" fill="#f1fad8"/>
<rect x="382.90" y="406.50" width="7.46" height="0.56" fill="#eef9de"/>
</g>
<rect x="301.5" y="213.6" width="88.8" height="24.4" fill="none" stroke="#c03050" stroke-width="1.1"/>
<rect x="301.5" y="299" width="88.8" height="48.0" fill="none" stroke="#3ab0a0" stroke-width="1.1"/>
<rect x="301.5" y="347" width="88.8" height="60.0" fill="none" stroke="#3aa4e0" stroke-width="1.1"/>
<rect x="301.5" y="285" width="88.8" height="14.0" fill="none" stroke="#8060a0" stroke-width="1.1"/>
<rect x="301.5" y="238" width="88.8" height="47.0" fill="none" stroke="#454550" stroke-width="1.1"/>
<path d="M301.3 214.6H300.6V215.8H301.3M301.3 216.8H300.9V217.7H301.3M301.3 218.6H300.6V219.5H301.3M300.6 219.0H299.9V220.7H301.3M300.9 217.2H299.5V219.9H299.9M300.6 215.2H299.0V218.6H299.5M301.3 222.5H300.4V223.3H301.3M301.3 221.8H299.9V222.9H300.4M299.9 222.3H299.5V224.5H301.3M301.3 225.4H300.4V226.4H301.3M301.3 227.3H300.9V228.6H301.3M300.4 225.9H299.8V228.0H300.9M299.5 223.4H298.9V226.9H299.8M301.3 229.6H300.5V230.5H301.3M301.3 231.7H301.0V232.8H301.3M300.5 230.0H299.8V232.2H301.0M301.3 233.8H300.6V234.9H301.3M299.8 231.1H299.4V234.3H300.6M301.3 235.7H300.9V236.6H301.3M300.9 236.2H300.3V237.5H301.3M299.4 232.7H299.0V236.8H300.3M298.9 225.2H298.7V234.8H299.0M299.0 216.9H298.2V230.0H298.7M301.3 238.4H300.6V239.2H301.3M300.6 238.8H300.3V240.1H301.3M301.3 241.1H300.7V242.0H301.3M301.3 242.9H300.5V243.7H301.3M300.7 241.5H300.0V243.3H300.5M300.3 239.5H299.7V242.4H300.0M301.3 244.3H300.6V245.3H301.3M301.3 246.5H300.9V247.3H301.3M300.9 246.9H300.6V248.0H301.3M300.6 247.4H300.3V249.1H301.3M300.6 244.8H299.4V248.3H300.3M301.3 252.2H301.0V253.0H301.3M301.3 251.5H300.7V252.6H301.0M301.3 250.4H300.3V252.1H300.7M299.4 246.5H299.0V251.2H300.3M299.7 240.9H298.6V248.9H299.0M301.3 254.0H300.5V254.7H301.3M300.5 254.3H299.9V255.8H301.3M301.3 256.8H300.8V257.8H301.3M299.9 255.1H299.5V257.3H300.8M301.3 260.3H300.8V261.1H301.3M301.3 259.1H300.5V260.7H300.8M299.5 256.2H298.9V259.9H300.5M301.3 262.3H300.6V263.1H301.3M301.3 261.7H300.3V262.7H300.6M301.3 264.0H300.8V264.8H301.3M300.3 262.2H300.0V264.4H300.8M301.3 268.3H300.6V269.3H301.3M301.3 267.1H299.7V268.8H300.6M301.3 266.0H299.2V268.0H299.7M300.0 263.3H298.3V267.0H299.2M301.3 270.1H300.7V271.0H301.3M300.7 270.6H300.3V272.2H301.3M301.3 273.3H300.6V274.2H301.3M300.3 271.4H299.9V273.7H300.6M298.3 265.1H297.5V272.5H299.9M298.9 258.0H296.9V268.8H297.5M301.3 275.0H300.9V276.0H301.3M301.3 276.9H301.0V277.6H301.3M300.9 275.5H300.0V277.3H301.0M301.3 278.7H300.4V279.8H301.3M300.0 276.4H299.3V279.3H300.4M301.3 281.0H300.5V282.0H301.3M301.3 282.9H301.0V284.3H301.3M300.5 281.5H300.0V283.6H301.0M299.3 277.8H298.9V282.5H300.0M296.9 263.4H296.4V280.2H298.9M298.6 244.9H296.1V271.8H296.4M301.3 286.5H300.5V287.2H301.3M301.3 285.5H299.6V286.9H300.5M301.3 287.8H300.6V288.6H301.3M299.6 286.2H299.0V288.2H300.6M301.3 289.7H300.7V290.5H301.3M301.3 291.1H300.4V292.0H301.3M300.7 290.1H299.8V291.6H300.4M299.0 287.2H298.5V290.8H299.8M301.3 293.1H301.0V294.5H301.3M301.3 295.8H300.8V296.8H301.3M301.3 297.8H300.4V298.7H301.3M300.8 296.3H299.8V298.3H300.4M301.0 293.8H299.1V297.3H299.8M298.5 289.0H298.2V295.5H299.1M301.3 299.5H300.8V300.3H301.3M301.3 301.0H301.0V302.0H301.3M300.8 299.9H300.2V301.5H301.0M301.3 302.9H300.9V303.9H301.3M300.2 300.7H299.5V303.4H300.9M301.3 305.0H301.0V305.9H301.3M301.0 305.5H300.7V306.8H301.3M299.5 302.1H299.1V306.1H300.7M301.3 307.9H300.4V308.6H301.3M300.4 308.2H299.8V309.4H301.3M301.3 310.5H300.9V311.6H301.3M299.8 308.8H299.4V311.0H300.9M299.1 304.1H298.7V309.9H299.4M301.3 312.5H300.8V313.4H301.3M301.3 314.1H300.5V314.9H301.3M300.8 312.9H299.9V314.5H300.5M301.3 315.8H300.9V316.6H301.3M300.9 316.2H300.5V317.5H301.3M299.9 313.7H299.5V316.8H300.5M301.3 318.5H300.5V319.7H301.3M300.5 319.1H300.1V321.0H301.3M301.3 322.3H301.0V323.2H301.3M300.1 320.0H299.3V322.8H301.0M299.5 315.3H298.5V321.4H299.3M298.7 307.0H297.9V318.3H298.5M301.3 323.9H300.9V324.7H301.3M301.3 326.3H301.0V327.1H301.3M301.3 325.6H300.4V326.7H301.0M300.9 324.3H299.9V326.1H300.4M301.3 328.0H300.7V328.9H301.3M300.7 328.5H299.9V330.0H301.3M301.3 330.9H300.5V331.9H301.3M300.5 331.4H300.2V332.7H301.3M301.3 333.7H300.8V334.6H301.3M300.2 332.1H299.7V334.1H300.8M299.9 329.2H299.0V333.1H299.7M299.9 325.2H298.3V331.2H299.0M301.3 335.4H300.4V336.6H301.3M301.3 337.6H300.7V338.4H301.3M300.7 338.0H300.4V339.5H301.3M300.4 336.0H300.0V338.8H300.4M301.3 340.6H300.6V341.3H301.3M300.6 341.0H300.1V342.1H301.3M300.1 341.5H299.4V343.1H301.3M301.3 345.0H300.4V345.7H301.3M301.3 344.0H299.9V345.3H300.4M299.9 344.7H299.1V346.5H301.3M299.4 342.3H298.2V345.6H299.1M300.0 337.4H297.9V343.9H298.2M298.3 328.2H297.4V340.7H297.9M297.9 312.7H296.7V334.4H297.4M301.3 347.5H300.6V348.6H301.3M300.6 348.1H299.8V349.5H301.3M301.3 351.5H300.6V352.4H301.3M301.3 350.6H300.0V352.0H300.6M300.0 351.3H299.2V353.5H301.3M299.8 348.8H298.7V352.4H299.2M301.3 355.6H300.8V356.6H301.3M301.3 354.7H300.5V356.1H300.8M300.5 355.4H299.9V357.6H301.3M298.7 350.6H298.4V356.5H299.9M301.3 359.8H300.9V360.6H301.3M301.3 358.8H300.6V360.2H300.9M301.3 362.5H301.0V363.4H301.3M301.3 361.6H300.2V363.0H301.0M301.3 364.5H300.5V365.3H301.3M300.2 362.3H299.3V364.9H300.5M300.6 359.5H298.7V363.6H299.3M298.4 353.5H297.9V361.6H298.7M301.3 366.3H300.4V367.5H301.3M301.3 368.5H300.5V369.4H301.3M301.3 370.2H300.6V371.1H301.3M300.5 368.9H299.9V370.7H300.6M300.4 366.9H299.6V369.8H299.9M301.3 371.9H300.6V372.8H301.3M300.6 372.3H300.2V373.9H301.3M301.3 374.8H300.5V375.8H301.3M301.3 377.0H301.0V377.8H301.3M300.5 375.3H299.9V377.4H301.0M300.2 373.1H299.5V376.4H299.9M299.6 368.4H298.7V374.7H299.5M297.9 357.5H297.6V371.5H298.7M301.3 379.9H300.5V381.2H301.3M301.3 378.7H300.2V380.5H300.5M301.3 382.2H300.8V383.1H301.3M300.8 382.6H300.3V384.2H301.3M300.2 379.6H299.9V383.4H300.3M301.3 385.2H300.6V386.0H301.3M301.3 386.9H300.9V387.8H301.3M300.6 385.6H300.0V387.4H300.9M299.9 381.5H299.4V386.5H300.0M301.3 389.6H300.8V390.5H301.3M301.3 388.7H300.3V390.0H300.8M301.3 391.3H300.5V392.1H301.3M300.3 389.4H300.0V391.7H300.5M301.3 394.1H300.5V395.1H301.3M301.3 393.0H300.0V394.6H300.5M301.3 395.8H300.8V396.5H301.3M300.8 396.1H300.3V397.4H301.3M300.0 393.8H299.2V396.8H300.3M301.3 399.3H300.4V400.2H301.3M301.3 398.4H299.9V399.7H300.4M299.2 395.3H298.7V399.1H299.9M300.0 390.6H298.0V397.2H298.7M301.3 401.4H300.6V402.6H301.3M301.3 403.6H300.5V404.6H301.3M301.3 405.3H300.4V406.3H301.3M300.5 404.1H299.8V405.8H300.4M300.6 402.0H299.1V405.0H299.8M298.0 393.9H297.3V403.5H299.1M299.4 384.0H296.4V398.7H297.3M297.6 364.5H295.7V391.3H296.4" fill="none" stroke="#111" stroke-width="0.75"/>
<path d="M296.7 220V232.8M289.6 226H296.7M289.6 226V338M289.6 262H291.8M291.8 244V300M291.8 244H295.8M295.8 239V262M291.8 300H295.2M295.2 288V327M289.6 338H292.9M292.9 320V378M292.9 346H296M296 352V393M292.9 378H296.5M296.5 370V405" fill="none" stroke="#444" stroke-width="0.65"/>
<path d="M305.5 212.5V210.7H319.7V212.5M308.5 210.7V209.9H317.7V210.7M327.7 212.5V206.5H341.9V210.7M335.8 212.5V210.7H343.4V212.5M349.9 212.5V210.7H364.1V212.5M352.9 210.7V209.9H362.1V210.7M372.1 212.5V210.7H386.3V212.5M375.1 210.7V209.9H384.3V210.7" fill="none" stroke="#333" stroke-width="0.7"/>
<path d="M391.5 214.9L399.3 214.9" stroke="#333" stroke-width="0.8"/>
<text x="401.9" y="217.5" font-size="6.5" fill="#c0304a" text-anchor="start" stroke="#c0304a" stroke-width="0.12">CD36</text>
<path d="M391.5 231.5L399.3 231.5" stroke="#333" stroke-width="0.8"/>
<text x="401.9" y="234.1" font-size="6.5" fill="#c0304a" text-anchor="start" stroke="#c0304a" stroke-width="0.12">CD79B</text>
<path d="M391.5 237.0L399.3 240.0" stroke="#333" stroke-width="0.8"/>
<text x="401.9" y="242.7" font-size="6.5" fill="#c0304a" text-anchor="start" stroke="#c0304a" stroke-width="0.12">CEACAM6</text>
<path d="M391.5 249.0L399.3 249.0" stroke="#333" stroke-width="0.8"/>
<text x="401.9" y="251.2" font-size="6.5" fill="#222" text-anchor="start" stroke="#222" stroke-width="0.12">TXNIP</text>
<path d="M391.5 253.5L399.3 257.5" stroke="#333" stroke-width="0.8"/>
<text x="401.9" y="260.3" font-size="6.5" fill="#222" text-anchor="start" stroke="#222" stroke-width="0.12">DDIT3</text>
<path d="M391.5 288.3L399.3 288.3" stroke="#333" stroke-width="0.8"/>
<text x="401.9" y="289.7" font-size="6.5" fill="#7d5592" text-anchor="start" stroke="#7d5592" stroke-width="0.12">S100A9</text>
<path d="M391.5 291.0L399.3 295.7" stroke="#333" stroke-width="0.8"/>
<text x="401.9" y="298.4" font-size="6.5" fill="#7d5592" text-anchor="start" stroke="#7d5592" stroke-width="0.12">S100A8</text>
<path d="M391.5 309.9L399.3 309.9" stroke="#333" stroke-width="0.8"/>
<text x="401.9" y="313.0" font-size="6.5" fill="#2e8a50" text-anchor="start" stroke="#2e8a50" stroke-width="0.12">OAS3</text>
<path d="M391.5 320.0L399.3 320.0" stroke="#333" stroke-width="0.8"/>
<text x="401.9" y="322.9" font-size="6.5" fill="#2e8a50" text-anchor="start" stroke="#2e8a50" stroke-width="0.12">OAS2</text>
<path d="M391.5 330.0L399.3 330.0" stroke="#333" stroke-width="0.8"/>
<text x="401.9" y="332.5" font-size="6.5" fill="#2e8a50" text-anchor="start" stroke="#2e8a50" stroke-width="0.12">OAS1</text>
<path d="M391.5 339.5L399.3 339.5" stroke="#333" stroke-width="0.8"/>
<text x="401.9" y="341.6" font-size="6.5" fill="#2e8a50" text-anchor="start" stroke="#2e8a50" stroke-width="0.12">IFIT1</text>
<path d="M391.5 365.5L399.3 365.5" stroke="#333" stroke-width="0.8"/>
<text x="401.9" y="367.3" font-size="6.5" fill="#3a9fdc" text-anchor="start" stroke="#3a9fdc" stroke-width="0.12">LAMP5</text>
<path d="M391.5 374.0L399.3 374.0" stroke="#333" stroke-width="0.8"/>
<text x="401.9" y="376.4" font-size="6.5" fill="#3a9fdc" text-anchor="start" stroke="#3a9fdc" stroke-width="0.12">HLA-DRA</text>
<path d="M391.5 391.4L399.3 391.4" stroke="#333" stroke-width="0.8"/>
<text x="401.9" y="394.0" font-size="6.5" fill="#3a9fdc" text-anchor="start" stroke="#3a9fdc" stroke-width="0.12">BBC3</text>
<text x="437" y="223.2" font-size="6.5" fill="#c0304a" text-anchor="start" stroke="#c0304a" stroke-width="0.12" textLength="63" lengthAdjust="spacingAndGlyphs">Group O1 “evolution”</text>
<text x="437" y="261.4" font-size="6.5" fill="#222" text-anchor="start" stroke="#222" stroke-width="0.12" textLength="55" lengthAdjust="spacingAndGlyphs">Group O2 “stress”</text>
<text x="437" y="293.5" font-size="6.5" fill="#7a4a9a" text-anchor="start" stroke="#7a4a9a" stroke-width="0.12" textLength="75" lengthAdjust="spacingAndGlyphs">Group O3 “inflammation”</text>
<text x="437" y="328.8" font-size="6.5" fill="#2e8a50" text-anchor="start" stroke="#2e8a50" stroke-width="0.12" textLength="66" lengthAdjust="spacingAndGlyphs">Group O4 “interferon”</text>
<text x="437" y="361.3" font-size="6.5" fill="#3a9fdc" text-anchor="start" stroke="#3a9fdc" stroke-width="0.12" textLength="69" lengthAdjust="spacingAndGlyphs">Group O5 “degression”</text>
<text x="315.1" y="414" font-size="6.4" fill="#333" text-anchor="end" transform="rotate(-48 315.1 414)">DMSO</text>
<text x="334.8" y="414" font-size="6.4" fill="#333" text-anchor="end" transform="rotate(-48 334.8 414)">BETi_72h</text>
<text x="356.0" y="414" font-size="6.4" fill="#333" text-anchor="end" transform="rotate(-48 356.0 414)">IC50_r</text>
<text x="379.2" y="414" font-size="6.4" fill="#333" text-anchor="end" transform="rotate(-48 379.2 414)">IC90_r</text>
<path d="M47.0 463.7V553.75H216.8" fill="none" stroke="#333" stroke-width="1.5"/>
<path d="M43.8 553.8H47.0" stroke="#222" stroke-width="1"/>
<text x="40.4" y="556.25" font-size="7.0" fill="#333" text-anchor="end" stroke="#333" stroke-width="0.12">0</text>
<path d="M43.8 516.0H47.0" stroke="#222" stroke-width="1"/>
<text x="40.4" y="518.5" font-size="7.0" fill="#333" text-anchor="end" stroke="#333" stroke-width="0.12">50</text>
<path d="M43.8 478.2H47.0" stroke="#222" stroke-width="1"/>
<text x="40.4" y="480.75" font-size="7.0" fill="#333" text-anchor="end" stroke="#333" stroke-width="0.12">100</text>
<path d="M48.0 516.0H216" stroke="#9a9a9a" stroke-width="1" stroke-dasharray="1.1 1.1"/>
<path d="M149.5 516.0V553.75" stroke="#e0b0c0" stroke-width="0.7" stroke-dasharray="0.8 0.9"/>
<path d="M151.6 516.0V553.75" stroke="#e8b8c8" stroke-width="0.7" stroke-dasharray="0.8 0.9"/>
<path d="M175.5 516.0V553.75" stroke="#c8c8c8" stroke-width="0.7" stroke-dasharray="0.8 0.9"/>
<path d="M51.30 553.75V556.35" stroke="#222" stroke-width="0.9"/>
<text x="55.30" y="564.1" font-size="6.6" fill="#333" text-anchor="end" transform="rotate(-45 55.30 564.1)">0</text>
<path d="M128.60 553.75V556.35" stroke="#222" stroke-width="0.9"/>
<text x="132.60" y="564.1" font-size="6.6" fill="#333" text-anchor="end" transform="rotate(-45 132.60 564.1)">25</text>
<path d="M138.60 553.75V556.35" stroke="#222" stroke-width="0.9"/>
<text x="142.60" y="564.1" font-size="6.6" fill="#333" text-anchor="end" transform="rotate(-45 142.60 564.1)">50</text>
<path d="M149.10 553.75V556.35" stroke="#222" stroke-width="0.9"/>
<text x="153.10" y="564.1" font-size="6.6" fill="#333" text-anchor="end" transform="rotate(-45 153.10 564.1)">100</text>
<path d="M159.10 553.75V556.35" stroke="#222" stroke-width="0.9"/>
<text x="163.10" y="564.1" font-size="6.6" fill="#333" text-anchor="end" transform="rotate(-45 163.10 564.1)">200</text>
<path d="M169.70 553.75V556.35" stroke="#222" stroke-width="0.9"/>
<text x="173.70" y="564.1" font-size="6.6" fill="#333" text-anchor="end" transform="rotate(-45 173.70 564.1)">400</text>
<path d="M179.80 553.75V556.35" stroke="#222" stroke-width="0.9"/>
<text x="183.80" y="564.1" font-size="6.6" fill="#333" text-anchor="end" transform="rotate(-45 183.80 564.1)">800</text>
<text x="95" y="583.9" font-size="9.4" fill="#222" text-anchor="start" stroke="#222" stroke-width="0.12" textLength="73.7" lengthAdjust="spacingAndGlyphs">Concentration p300i nM</text>
<text x="108.75" y="458.8" font-size="8.5" fill="#222" text-anchor="start" stroke="#222" stroke-width="0.12" textLength="46.3" lengthAdjust="spacingAndGlyphs">SKNO-1_d3</text>
<path d="M51.30 478.05 L52.30 478.05 L53.30 478.05 L54.30 478.05 L55.30 478.05 L56.30 478.06 L57.30 478.06 L58.30 478.06 L59.30 478.07 L60.30 478.07 L61.30 478.07 L62.30 478.08 L63.30 478.08 L64.30 478.09 L65.30 478.09 L66.30 478.10 L67.30 478.11 L68.30 478.11 L69.30 478.12 L70.30 478.13 L71.30 478.14 L72.30 478.15 L73.30 478.16 L74.30 478.17 L75.30 478.18 L76.30 478.20 L77.30 478.21 L78.30 478.23 L79.30 478.25 L80.30 478.27 L81.30 478.29 L82.30 478.31 L83.30 478.33 L84.30 478.36 L85.30 478.39 L86.30 478.42 L87.30 478.45 L88.30 478.49 L89.30 478.53 L90.30 478.57 L91.30 478.61 L92.30 478.66 L93.30 478.72 L94.30 478.77 L95.30 478.84 L96.30 478.91 L97.30 478.98 L98.30 479.06 L99.30 479.14 L100.30 479.24 L101.30 479.34 L102.30 479.45 L103.30 479.57 L104.30 479.69 L105.30 479.83 L106.30 479.98 L107.30 480.14 L108.30 480.31 L109.30 480.50 L110.30 480.70 L111.30 480.92 L112.30 481.16 L113.30 481.41 L114.30 481.68 L115.30 481.98 L116.30 482.29 L117.30 482.63 L118.30 482.99 L119.30 483.38 L120.30 483.80 L121.30 484.25 L122.30 484.73 L123.30 485.25 L124.30 485.79 L125.30 486.38 L126.30 487.00 L127.30 487.67 L128.30 488.37 L129.30 489.12 L130.30 489.91 L131.30 490.75 L132.30 491.63 L133.30 492.56 L134.30 493.54 L135.30 494.57 L136.30 495.65 L137.30 496.78 L138.30 497.95 L139.30 499.17 L140.30 500.43 L141.30 501.74 L142.30 503.09 L143.30 504.48 L144.30 505.90 L145.30 507.36 L146.30 508.84 L147.30 510.35 L148.30 511.88 L149.30 513.42 L150.30 514.97 L151.30 516.53 L152.30 518.09 L153.30 519.64 L154.30 521.18 L155.30 522.71 L156.30 524.21 L157.30 525.69 L158.30 527.15 L159.30 528.57 L160.30 529.95 L161.30 531.30 L162.30 532.60 L163.30 533.86 L164.30 535.08 L165.30 536.25 L166.30 537.37 L167.30 538.44 L168.30 539.46 L169.30 540.44 L170.30 541.36 L171.30 542.24 L172.30 543.08 L173.30 543.86 L174.30 544.61 L175.30 545.31 L176.30 545.97 L177.30 546.59 L178.30 547.17 L179.30 547.71" fill="none" stroke="#1d4a7c" stroke-width="1.15"/>
<path d="M51.30 478.44 L52.30 478.44 L53.30 478.44 L54.30 478.44 L55.30 478.44 L56.30 478.44 L57.30 478.44 L58.30 478.44 L59.30 478.44 L60.30 478.44 L61.30 478.44 L62.30 478.45 L63.30 478.45 L64.30 478.45 L65.30 478.45 L66.30 478.45 L67.30 478.45 L68.30 478.45 L69.30 478.45 L70.30 478.46 L71.30 478.46 L72.30 478.46 L73.30 478.46 L74.30 478.47 L75.30 478.47 L76.30 478.47 L77.30 478.48 L78.30 478.48 L79.30 478.48 L80.30 478.49 L81.30 478.49 L82.30 478.50 L83.30 478.51 L84.30 478.51 L85.30 478.52 L86.30 478.53 L87.30 478.54 L88.30 478.55 L89.30 478.56 L90.30 478.57 L91.30 478.59 L92.30 478.60 L93.30 478.62 L94.30 478.64 L95.30 478.66 L96.30 478.68 L97.30 478.71 L98.30 478.74 L99.30 478.77 L100.30 478.80 L101.30 478.84 L102.30 478.88 L103.30 478.92 L104.30 478.97 L105.30 479.03 L106.30 479.09 L107.30 479.15 L108.30 479.22 L109.30 479.30 L110.30 479.39 L111.30 479.49 L112.30 479.59 L113.30 479.71 L114.30 479.84 L115.30 479.98 L116.30 480.13 L117.30 480.30 L118.30 480.49 L119.30 480.69 L120.30 480.91 L121.30 481.15 L122.30 481.42 L123.30 481.71 L124.30 482.03 L125.30 482.38 L126.30 482.76 L127.30 483.17 L128.30 483.62 L129.30 484.11 L130.30 484.64 L131.30 485.22 L132.30 485.84 L133.30 486.52 L134.30 487.24 L135.30 488.03 L136.30 488.87 L137.30 489.77 L138.30 490.74 L139.30 491.77 L140.30 492.87 L141.30 494.03 L142.30 495.26 L143.30 496.56 L144.30 497.93 L145.30 499.36 L146.30 500.85 L147.30 502.40 L148.30 504.01 L149.30 505.66 L150.30 507.36 L151.30 509.09 L152.30 510.85 L153.30 512.64 L154.30 514.44 L155.30 516.24 L156.30 518.04 L157.30 519.83 L158.30 521.60 L159.30 523.34 L160.30 525.04 L161.30 526.70 L162.30 528.32 L163.30 529.88 L164.30 531.39 L165.30 532.83 L166.30 534.21 L167.30 535.52 L168.30 536.76 L169.30 537.94 L170.30 539.05 L171.30 540.10 L172.30 541.08 L173.30 541.99 L174.30 542.85 L175.30 543.64 L176.30 544.38 L177.30 545.07 L178.30 545.70 L179.30 546.29" fill="none" stroke="#a8194a" stroke-width="1.15"/>
<path d="M51.30 477.90 L52.30 477.90 L53.30 477.90 L54.30 477.91 L55.30 477.91 L56.30 477.91 L57.30 477.92 L58.30 477.92 L59.30 477.92 L60.30 477.93 L61.30 477.93 L62.30 477.94 L63.30 477.94 L64.30 477.95 L65.30 477.95 L66.30 477.96 L67.30 477.96 L68.30 477.97 L69.30 477.98 L70.30 477.98 L71.30 477.99 L72.30 478.00 L73.30 478.01 L74.30 478.02 L75.30 478.03 L76.30 478.04 L77.30 478.05 L78.30 478.06 L79.30 478.07 L80.30 478.08 L81.30 478.10 L82.30 478.11 L83.30 478.13 L84.30 478.14 L85.30 478.16 L86.30 478.18 L87.30 478.20 L88.30 478.22 L89.30 478.24 L90.30 478.26 L91.30 478.28 L92.30 478.31 L93.30 478.34 L94.30 478.36 L95.30 478.39 L96.30 478.43 L97.30 478.46 L98.30 478.49 L99.30 478.53 L100.30 478.57 L101.30 478.61 L102.30 478.66 L103.30 478.70 L104.30 478.75 L105.30 478.80 L106.30 478.86 L107.30 478.92 L108.30 478.98 L109.30 479.04 L110.30 479.11 L111.30 479.18 L112.30 479.26 L113.30 479.34 L114.30 479.43 L115.30 479.52 L116.30 479.61 L117.30 479.71 L118.30 479.82 L119.30 479.93 L120.30 480.05 L121.30 480.18 L122.30 480.31 L123.30 480.45 L124.30 480.60 L125.30 480.76 L126.30 480.92 L127.30 481.09 L128.30 481.28 L129.30 481.47 L130.30 481.68 L131.30 481.89 L132.30 482.12 L133.30 482.36 L134.30 482.61 L135.30 482.88 L136.30 483.16 L137.30 483.45 L138.30 483.76 L139.30 484.09 L140.30 484.43 L141.30 484.80 L142.30 485.18 L143.30 485.58 L144.30 486.00 L145.30 486.44 L146.30 486.90 L147.30 487.39 L148.30 487.90 L149.30 488.43 L150.30 488.99 L151.30 489.58 L152.30 490.19 L153.30 490.84 L154.30 491.51 L155.30 492.21 L156.30 492.94 L157.30 493.71 L158.30 494.51 L159.30 495.34 L160.30 496.21 L161.30 497.11 L162.30 498.04 L163.30 499.02 L164.30 500.03 L165.30 501.07 L166.30 502.16 L167.30 503.28 L168.30 504.44 L169.30 505.63 L170.30 506.87 L171.30 508.14 L172.30 509.45 L173.30 510.79 L174.30 512.17 L175.30 513.59 L176.30 515.03 L177.30 516.51 L178.30 518.03 L179.30 519.57" fill="none" stroke="#a9a9b1" stroke-width="1.15"/>
<path d="M128.60 482.2V477.3M126.80 477.3H130.40" stroke="#a9a9b1" stroke-width="0.8"/>
<path d="M138.60 485.2V481.0M136.80 481.0H140.40" stroke="#a9a9b1" stroke-width="0.8"/>
<path d="M149.10 488.0V482.5M147.30 482.5H150.90" stroke="#a9a9b1" stroke-width="0.8"/>
<path d="M159.10 495.6V490.5M157.30 490.5H160.90" stroke="#a9a9b1" stroke-width="0.8"/>
<path d="M169.70 508.5V505.5M167.90 505.5H171.50" stroke="#a9a9b1" stroke-width="0.8"/>
<circle cx="51.30" cy="478.10" r="2.1" fill="#a9a9b1"/>
<circle cx="128.60" cy="482.20" r="2.1" fill="#a9a9b1"/>
<circle cx="138.60" cy="485.20" r="2.1" fill="#a9a9b1"/>
<circle cx="149.10" cy="488.00" r="2.1" fill="#a9a9b1"/>
<circle cx="159.10" cy="495.60" r="2.1" fill="#a9a9b1"/>
<circle cx="169.70" cy="508.50" r="2.1" fill="#a9a9b1"/>
<circle cx="179.80" cy="521.00" r="2.1" fill="#a9a9b1"/>
<path d="M149.10 503.8V494.4M147.30 494.4H150.90" stroke="#a8194a" stroke-width="0.8"/>
<path d="M159.10 524.5V520.5M157.30 520.5H160.90" stroke="#a8194a" stroke-width="0.8"/>
<path d="M169.70 540.3V535.4M167.90 535.4H171.50" stroke="#a8194a" stroke-width="0.8"/>
<circle cx="128.60" cy="486.00" r="2.1" fill="#a8194a"/>
<circle cx="138.60" cy="490.20" r="2.1" fill="#a8194a"/>
<circle cx="149.10" cy="503.80" r="2.1" fill="#a8194a"/>
<circle cx="159.10" cy="524.50" r="2.1" fill="#a8194a"/>
<circle cx="169.70" cy="540.30" r="2.1" fill="#a8194a"/>
<path d="M179.80 548.7V544.6M178.00 544.6H181.60" stroke="#1d4a7c" stroke-width="0.8"/>
<circle cx="128.60" cy="490.50" r="2.1" fill="#1d4a7c"/>
<circle cx="138.60" cy="498.90" r="2.1" fill="#1d4a7c"/>
<circle cx="149.10" cy="511.10" r="2.1" fill="#1d4a7c"/>
<circle cx="159.10" cy="530.10" r="2.1" fill="#1d4a7c"/>
<circle cx="169.70" cy="543.10" r="2.1" fill="#1d4a7c"/>
<circle cx="179.80" cy="548.70" r="2.1" fill="#1d4a7c"/>
<text transform="translate(24.9 509.4) rotate(-90)" font-size="9" fill="#222" text-anchor="middle" textLength="61.5" lengthAdjust="spacingAndGlyphs">% Viability vs. DMSO</text>
<path d="M271.8 463.4V553.3H436" fill="none" stroke="#333" stroke-width="1.5"/>
<path d="M268.6 553.3H271.8" stroke="#222" stroke-width="1"/>
<text x="265.2" y="555.8" font-size="7.0" fill="#333" text-anchor="end" stroke="#333" stroke-width="0.12">0</text>
<path d="M268.6 516.6H271.8" stroke="#222" stroke-width="1"/>
<text x="265.2" y="519.125" font-size="7.0" fill="#333" text-anchor="end" stroke="#333" stroke-width="0.12">50</text>
<path d="M268.6 479.9H271.8" stroke="#222" stroke-width="1"/>
<text x="265.2" y="482.44999999999993" font-size="7.0" fill="#333" text-anchor="end" stroke="#333" stroke-width="0.12">100</text>
<path d="M272.8 516.6H434.5" stroke="#9a9a9a" stroke-width="1" stroke-dasharray="1.1 1.1"/>
<path d="M379.4 516.6V553.3" stroke="#a8a8a8" stroke-width="0.7" stroke-dasharray="0.8 0.9"/>
<path d="M393.6 516.6V553.3" stroke="#e0b0c0" stroke-width="0.7" stroke-dasharray="0.8 0.9"/>
<path d="M396.9 516.6V553.3" stroke="#c8c8c8" stroke-width="0.7" stroke-dasharray="0.8 0.9"/>
<path d="M284.40 553.3V555.9" stroke="#222" stroke-width="0.9"/>
<text x="288.40" y="563.7" font-size="6.6" fill="#333" text-anchor="end" transform="rotate(-45 288.40 563.7)">0</text>
<path d="M337.30 553.3V555.9" stroke="#222" stroke-width="0.9"/>
<text x="341.30" y="563.7" font-size="6.6" fill="#333" text-anchor="end" transform="rotate(-45 341.30 563.7)">50</text>
<path d="M358.90 553.3V555.9" stroke="#222" stroke-width="0.9"/>
<text x="362.90" y="563.7" font-size="6.6" fill="#333" text-anchor="end" transform="rotate(-45 362.90 563.7)">100</text>
<path d="M372.60 553.3V555.9" stroke="#222" stroke-width="0.9"/>
<text x="376.60" y="563.7" font-size="6.6" fill="#333" text-anchor="end" transform="rotate(-45 376.60 563.7)">150</text>
<path d="M383.50 553.3V555.9" stroke="#222" stroke-width="0.9"/>
<text x="387.50" y="563.7" font-size="6.6" fill="#333" text-anchor="end" transform="rotate(-45 387.50 563.7)">200</text>
<path d="M397.60 553.3V555.9" stroke="#222" stroke-width="0.9"/>
<text x="401.60" y="563.7" font-size="6.6" fill="#333" text-anchor="end" transform="rotate(-45 401.60 563.7)">300</text>
<path d="M406.30 553.3V555.9" stroke="#222" stroke-width="0.9"/>
<text x="410.30" y="563.7" font-size="6.6" fill="#333" text-anchor="end" transform="rotate(-45 410.30 563.7)">400</text>
<path d="M413.30 553.3V555.9" stroke="#222" stroke-width="0.9"/>
<text x="417.30" y="563.7" font-size="6.6" fill="#333" text-anchor="end" transform="rotate(-45 417.30 563.7)">500</text>
<path d="M432.20 553.3V555.9" stroke="#222" stroke-width="0.9"/>
<text x="436.20" y="563.7" font-size="6.6" fill="#333" text-anchor="end" transform="rotate(-45 436.20 563.7)">800</text>
<text x="316.5" y="583.9" font-size="9.4" fill="#222" text-anchor="start" stroke="#222" stroke-width="0.12" textLength="73.7" lengthAdjust="spacingAndGlyphs">Concentration p300i nM</text>
<text x="325.5" y="457.5" font-size="8.5" fill="#222" text-anchor="start" stroke="#222" stroke-width="0.12" textLength="57" lengthAdjust="spacingAndGlyphs">OCI-AML3_d5</text>
<path d="M288.00 481.10 L289.00 481.14 L290.00 481.17 L291.00 481.21 L292.00 481.25 L293.00 481.29 L294.00 481.33 L295.00 481.38 L296.00 481.43 L297.00 481.48 L298.00 481.53 L299.00 481.59 L300.00 481.65 L301.00 481.71 L302.00 481.77 L303.00 481.84 L304.00 481.91 L305.00 481.99 L306.00 482.07 L307.00 482.15 L308.00 482.24 L309.00 482.33 L310.00 482.43 L311.00 482.53 L312.00 482.64 L313.00 482.75 L314.00 482.87 L315.00 483.00 L316.00 483.13 L317.00 483.26 L318.00 483.41 L319.00 483.56 L320.00 483.72 L321.00 483.88 L322.00 484.05 L323.00 484.24 L324.00 484.43 L325.00 484.63 L326.00 484.83 L327.00 485.05 L328.00 485.28 L329.00 485.52 L330.00 485.77 L331.00 486.03 L332.00 486.30 L333.00 486.58 L334.00 486.88 L335.00 487.19 L336.00 487.51 L337.00 487.84 L338.00 488.19 L339.00 488.56 L340.00 488.93 L341.00 489.32 L342.00 489.73 L343.00 490.15 L344.00 490.59 L345.00 491.05 L346.00 491.52 L347.00 492.00 L348.00 492.51 L349.00 493.03 L350.00 493.56 L351.00 494.12 L352.00 494.69 L353.00 495.27 L354.00 495.88 L355.00 496.50 L356.00 497.13 L357.00 497.79 L358.00 498.45 L359.00 499.14 L360.00 499.83 L361.00 500.55 L362.00 501.27 L363.00 502.01 L364.00 502.76 L365.00 503.53 L366.00 504.30 L367.00 505.09 L368.00 505.88 L369.00 506.68 L370.00 507.49 L371.00 508.31 L372.00 509.13 L373.00 509.96 L374.00 510.79 L375.00 511.62 L376.00 512.45 L377.00 513.28 L378.00 514.11 L379.00 514.93 L380.00 515.76 L381.00 516.57 L382.00 517.39 L383.00 518.19 L384.00 518.99 L385.00 519.77 L386.00 520.55 L387.00 521.32 L388.00 522.08 L389.00 522.82 L390.00 523.55 L391.00 524.27 L392.00 524.97 L393.00 525.66 L394.00 526.33 L395.00 526.99 L396.00 527.63 L397.00 528.25 L398.00 528.86 L399.00 529.45 L400.00 530.03 L401.00 530.59 L402.00 531.13 L403.00 531.65 L404.00 532.16 L405.00 532.65 L406.00 533.13 L407.00 533.59 L408.00 534.03 L409.00 534.46 L410.00 534.87 L411.00 535.27 L412.00 535.65 L413.00 536.01 L414.00 536.37 L415.00 536.71 L416.00 537.03 L417.00 537.34 L418.00 537.64 L419.00 537.93 L420.00 538.21 L421.00 538.47 L422.00 538.72 L423.00 538.97 L424.00 539.20 L425.00 539.42 L426.00 539.63 L427.00 539.83 L428.00 540.02 L429.00 540.21 L430.00 540.38 L431.00 540.55 L432.00 540.71 L433.00 540.86 L434.00 541.01 L435.00 541.15 L436.00 541.28" fill="none" stroke="#1d4a7c" stroke-width="1.15"/>
<path d="M288.00 478.03 L289.00 478.03 L290.00 478.03 L291.00 478.04 L292.00 478.04 L293.00 478.04 L294.00 478.04 L295.00 478.05 L296.00 478.05 L297.00 478.06 L298.00 478.06 L299.00 478.07 L300.00 478.07 L301.00 478.08 L302.00 478.08 L303.00 478.09 L304.00 478.10 L305.00 478.11 L306.00 478.12 L307.00 478.12 L308.00 478.13 L309.00 478.15 L310.00 478.16 L311.00 478.17 L312.00 478.18 L313.00 478.20 L314.00 478.22 L315.00 478.23 L316.00 478.25 L317.00 478.27 L318.00 478.29 L319.00 478.32 L320.00 478.34 L321.00 478.37 L322.00 478.40 L323.00 478.43 L324.00 478.47 L325.00 478.51 L326.00 478.55 L327.00 478.59 L328.00 478.64 L329.00 478.69 L330.00 478.74 L331.00 478.80 L332.00 478.87 L333.00 478.93 L334.00 479.01 L335.00 479.09 L336.00 479.18 L337.00 479.27 L338.00 479.37 L339.00 479.48 L340.00 479.59 L341.00 479.72 L342.00 479.85 L343.00 480.00 L344.00 480.15 L345.00 480.32 L346.00 480.50 L347.00 480.69 L348.00 480.90 L349.00 481.12 L350.00 481.36 L351.00 481.62 L352.00 481.89 L353.00 482.18 L354.00 482.49 L355.00 482.83 L356.00 483.18 L357.00 483.56 L358.00 483.96 L359.00 484.39 L360.00 484.85 L361.00 485.33 L362.00 485.85 L363.00 486.39 L364.00 486.96 L365.00 487.57 L366.00 488.21 L367.00 488.88 L368.00 489.58 L369.00 490.32 L370.00 491.10 L371.00 491.90 L372.00 492.74 L373.00 493.62 L374.00 494.52 L375.00 495.46 L376.00 496.42 L377.00 497.42 L378.00 498.44 L379.00 499.48 L380.00 500.55 L381.00 501.63 L382.00 502.73 L383.00 503.85 L384.00 504.97 L385.00 506.10 L386.00 507.24 L387.00 508.37 L388.00 509.50 L389.00 510.62 L390.00 511.73 L391.00 512.83 L392.00 513.92 L393.00 514.98 L394.00 516.02 L395.00 517.04 L396.00 518.03 L397.00 518.99 L398.00 519.93 L399.00 520.83 L400.00 521.70 L401.00 522.54 L402.00 523.34 L403.00 524.11 L404.00 524.84 L405.00 525.55 L406.00 526.21 L407.00 526.85 L408.00 527.45 L409.00 528.02 L410.00 528.56 L411.00 529.07 L412.00 529.55 L413.00 530.01 L414.00 530.43 L415.00 530.84 L416.00 531.21 L417.00 531.56 L418.00 531.90 L419.00 532.21 L420.00 532.50 L421.00 532.77 L422.00 533.02 L423.00 533.26 L424.00 533.48 L425.00 533.68 L426.00 533.87 L427.00 534.05 L428.00 534.22 L429.00 534.37 L430.00 534.52 L431.00 534.65 L432.00 534.77 L433.00 534.89 L434.00 535.00 L435.00 535.10 L436.00 535.19" fill="none" stroke="#c8183c" stroke-width="1.15"/>
<path d="M288.00 472.14 L289.00 472.14 L290.00 472.14 L291.00 472.14 L292.00 472.14 L293.00 472.14 L294.00 472.14 L295.00 472.14 L296.00 472.14 L297.00 472.14 L298.00 472.14 L299.00 472.14 L300.00 472.14 L301.00 472.14 L302.00 472.14 L303.00 472.14 L304.00 472.14 L305.00 472.14 L306.00 472.14 L307.00 472.14 L308.00 472.14 L309.00 472.14 L310.00 472.14 L311.00 472.14 L312.00 472.14 L313.00 472.14 L314.00 472.14 L315.00 472.14 L316.00 472.14 L317.00 472.14 L318.00 472.14 L319.00 472.14 L320.00 472.14 L321.00 472.14 L322.00 472.14 L323.00 472.14 L324.00 472.14 L325.00 472.14 L326.00 472.14 L327.00 472.14 L328.00 472.14 L329.00 472.15 L330.00 472.15 L331.00 472.15 L332.00 472.15 L333.00 472.15 L334.00 472.16 L335.00 472.16 L336.00 472.16 L337.00 472.17 L338.00 472.17 L339.00 472.17 L340.00 472.18 L341.00 472.19 L342.00 472.20 L343.00 472.20 L344.00 472.21 L345.00 472.23 L346.00 472.24 L347.00 472.26 L348.00 472.27 L349.00 472.30 L350.00 472.32 L351.00 472.35 L352.00 472.38 L353.00 472.42 L354.00 472.46 L355.00 472.51 L356.00 472.56 L357.00 472.63 L358.00 472.70 L359.00 472.79 L360.00 472.89 L361.00 473.00 L362.00 473.13 L363.00 473.28 L364.00 473.45 L365.00 473.65 L366.00 473.87 L367.00 474.13 L368.00 474.42 L369.00 474.75 L370.00 475.13 L371.00 475.56 L372.00 476.06 L373.00 476.61 L374.00 477.24 L375.00 477.95 L376.00 478.74 L377.00 479.64 L378.00 480.63 L379.00 481.73 L380.00 482.95 L381.00 484.29 L382.00 485.76 L383.00 487.35 L384.00 489.06 L385.00 490.90 L386.00 492.85 L387.00 494.90 L388.00 497.04 L389.00 499.25 L390.00 501.51 L391.00 503.81 L392.00 506.11 L393.00 508.40 L394.00 510.65 L395.00 512.85 L396.00 514.96 L397.00 516.99 L398.00 518.90 L399.00 520.71 L400.00 522.39 L401.00 523.94 L402.00 525.37 L403.00 526.68 L404.00 527.86 L405.00 528.93 L406.00 529.90 L407.00 530.76 L408.00 531.53 L409.00 532.22 L410.00 532.82 L411.00 533.36 L412.00 533.83 L413.00 534.25 L414.00 534.62 L415.00 534.94 L416.00 535.22 L417.00 535.47 L418.00 535.68 L419.00 535.87 L420.00 536.03 L421.00 536.18 L422.00 536.30 L423.00 536.41 L424.00 536.51 L425.00 536.59 L426.00 536.66 L427.00 536.72 L428.00 536.78 L429.00 536.82 L430.00 536.86 L431.00 536.90 L432.00 536.93 L433.00 536.96 L434.00 536.98 L435.00 537.00 L436.00 537.02" fill="none" stroke="#a9a9b1" stroke-width="1.15"/>
<path d="M339.10 473.8V471.0M337.30 471.0H340.90" stroke="#a9a9b1" stroke-width="0.8"/>
<circle cx="287.00" cy="480.20" r="2.1" fill="#a9a9b1"/>
<circle cx="339.10" cy="473.80" r="2.1" fill="#a9a9b1"/>
<circle cx="361.20" cy="469.30" r="2.1" fill="#a9a9b1"/>
<circle cx="374.10" cy="467.00" r="2.1" fill="#a9a9b1"/>
<circle cx="383.50" cy="488.00" r="2.1" fill="#a9a9b1"/>
<circle cx="397.60" cy="516.30" r="2.1" fill="#a9a9b1"/>
<circle cx="406.30" cy="523.80" r="2.1" fill="#a9a9b1"/>
<circle cx="413.30" cy="530.00" r="2.1" fill="#a9a9b1"/>
<circle cx="435.50" cy="539.50" r="2.1" fill="#a9a9b1"/>
<path d="M361.20 478.8V472.5M359.40 472.5H363.00" stroke="#c8183c" stroke-width="0.8"/>
<path d="M361.20 478.8V485.0M359.40 485.0H363.00" stroke="#c8183c" stroke-width="0.8"/>
<path d="M374.10 496.3V492.5M372.30 492.5H375.90" stroke="#c8183c" stroke-width="0.8"/>
<path d="M374.10 496.3V500.0M372.30 500.0H375.90" stroke="#c8183c" stroke-width="0.8"/>
<path d="M383.50 505.5V498.0M381.70 498.0H385.30" stroke="#c8183c" stroke-width="0.8"/>
<path d="M383.50 505.5V512.5M381.70 512.5H385.30" stroke="#c8183c" stroke-width="0.8"/>
<path d="M397.60 520.5V514.0M395.80 514.0H399.40" stroke="#c8183c" stroke-width="0.8"/>
<path d="M397.60 520.5V526.0M395.80 526.0H399.40" stroke="#c8183c" stroke-width="0.8"/>
<circle cx="339.10" cy="480.00" r="2.1" fill="#c8183c"/>
<circle cx="361.20" cy="478.80" r="2.1" fill="#c8183c"/>
<circle cx="374.10" cy="496.30" r="2.1" fill="#c8183c"/>
<circle cx="383.50" cy="505.50" r="2.1" fill="#c8183c"/>
<circle cx="397.60" cy="520.50" r="2.1" fill="#c8183c"/>
<circle cx="406.30" cy="527.50" r="2.1" fill="#c8183c"/>
<circle cx="435.50" cy="538.00" r="2.1" fill="#c8183c"/>
<path d="M361.20 495.0V490.5M359.40 490.5H363.00" stroke="#1d4a7c" stroke-width="0.8"/>
<path d="M361.20 495.0V499.5M359.40 499.5H363.00" stroke="#1d4a7c" stroke-width="0.8"/>
<circle cx="339.10" cy="489.30" r="2.1" fill="#1d4a7c"/>
<circle cx="361.20" cy="495.00" r="2.1" fill="#1d4a7c"/>
<circle cx="374.10" cy="512.00" r="2.1" fill="#1d4a7c"/>
<circle cx="383.50" cy="518.80" r="2.1" fill="#1d4a7c"/>
<circle cx="397.60" cy="532.50" r="2.1" fill="#1d4a7c"/>
<circle cx="406.30" cy="536.30" r="2.1" fill="#1d4a7c"/>
<circle cx="413.30" cy="538.00" r="2.1" fill="#1d4a7c"/>
<circle cx="435.50" cy="540.00" r="2.1" fill="#1d4a7c"/>
<text transform="translate(249.6 508.6) rotate(-90)" font-size="9" fill="#222" text-anchor="middle" textLength="61.7" lengthAdjust="spacingAndGlyphs">% Viability vs. DMSO</text>
<path d="M438.6 466.6H445.8" stroke="#a9a9b1" stroke-width="1"/>
<circle cx="442.2" cy="466.6" r="2.2" fill="#a9a9b1"/>
<text x="448.6" y="469.0" font-size="6.6" fill="#333" text-anchor="start" stroke="#333" stroke-width="0.12">DMSO</text>
<path d="M438.6 476.6H445.8" stroke="#1d4a7c" stroke-width="1"/>
<circle cx="442.2" cy="476.6" r="2.2" fill="#1d4a7c"/>
<text x="448.6" y="479.0" font-size="6.6" fill="#333" text-anchor="start" stroke="#333" stroke-width="0.12">IC50_r</text>
<path d="M438.6 486.6H445.8" stroke="#c8183c" stroke-width="1"/>
<circle cx="442.2" cy="486.6" r="2.2" fill="#c8183c"/>
<text x="448.6" y="489.0" font-size="6.6" fill="#333" text-anchor="start" stroke="#333" stroke-width="0.12">IC90_r</text>
<rect x="0.5" y="0.5" width="519" height="591" fill="none" stroke="#4a4a4a" stroke-width="1"/>
</svg></body></html>
